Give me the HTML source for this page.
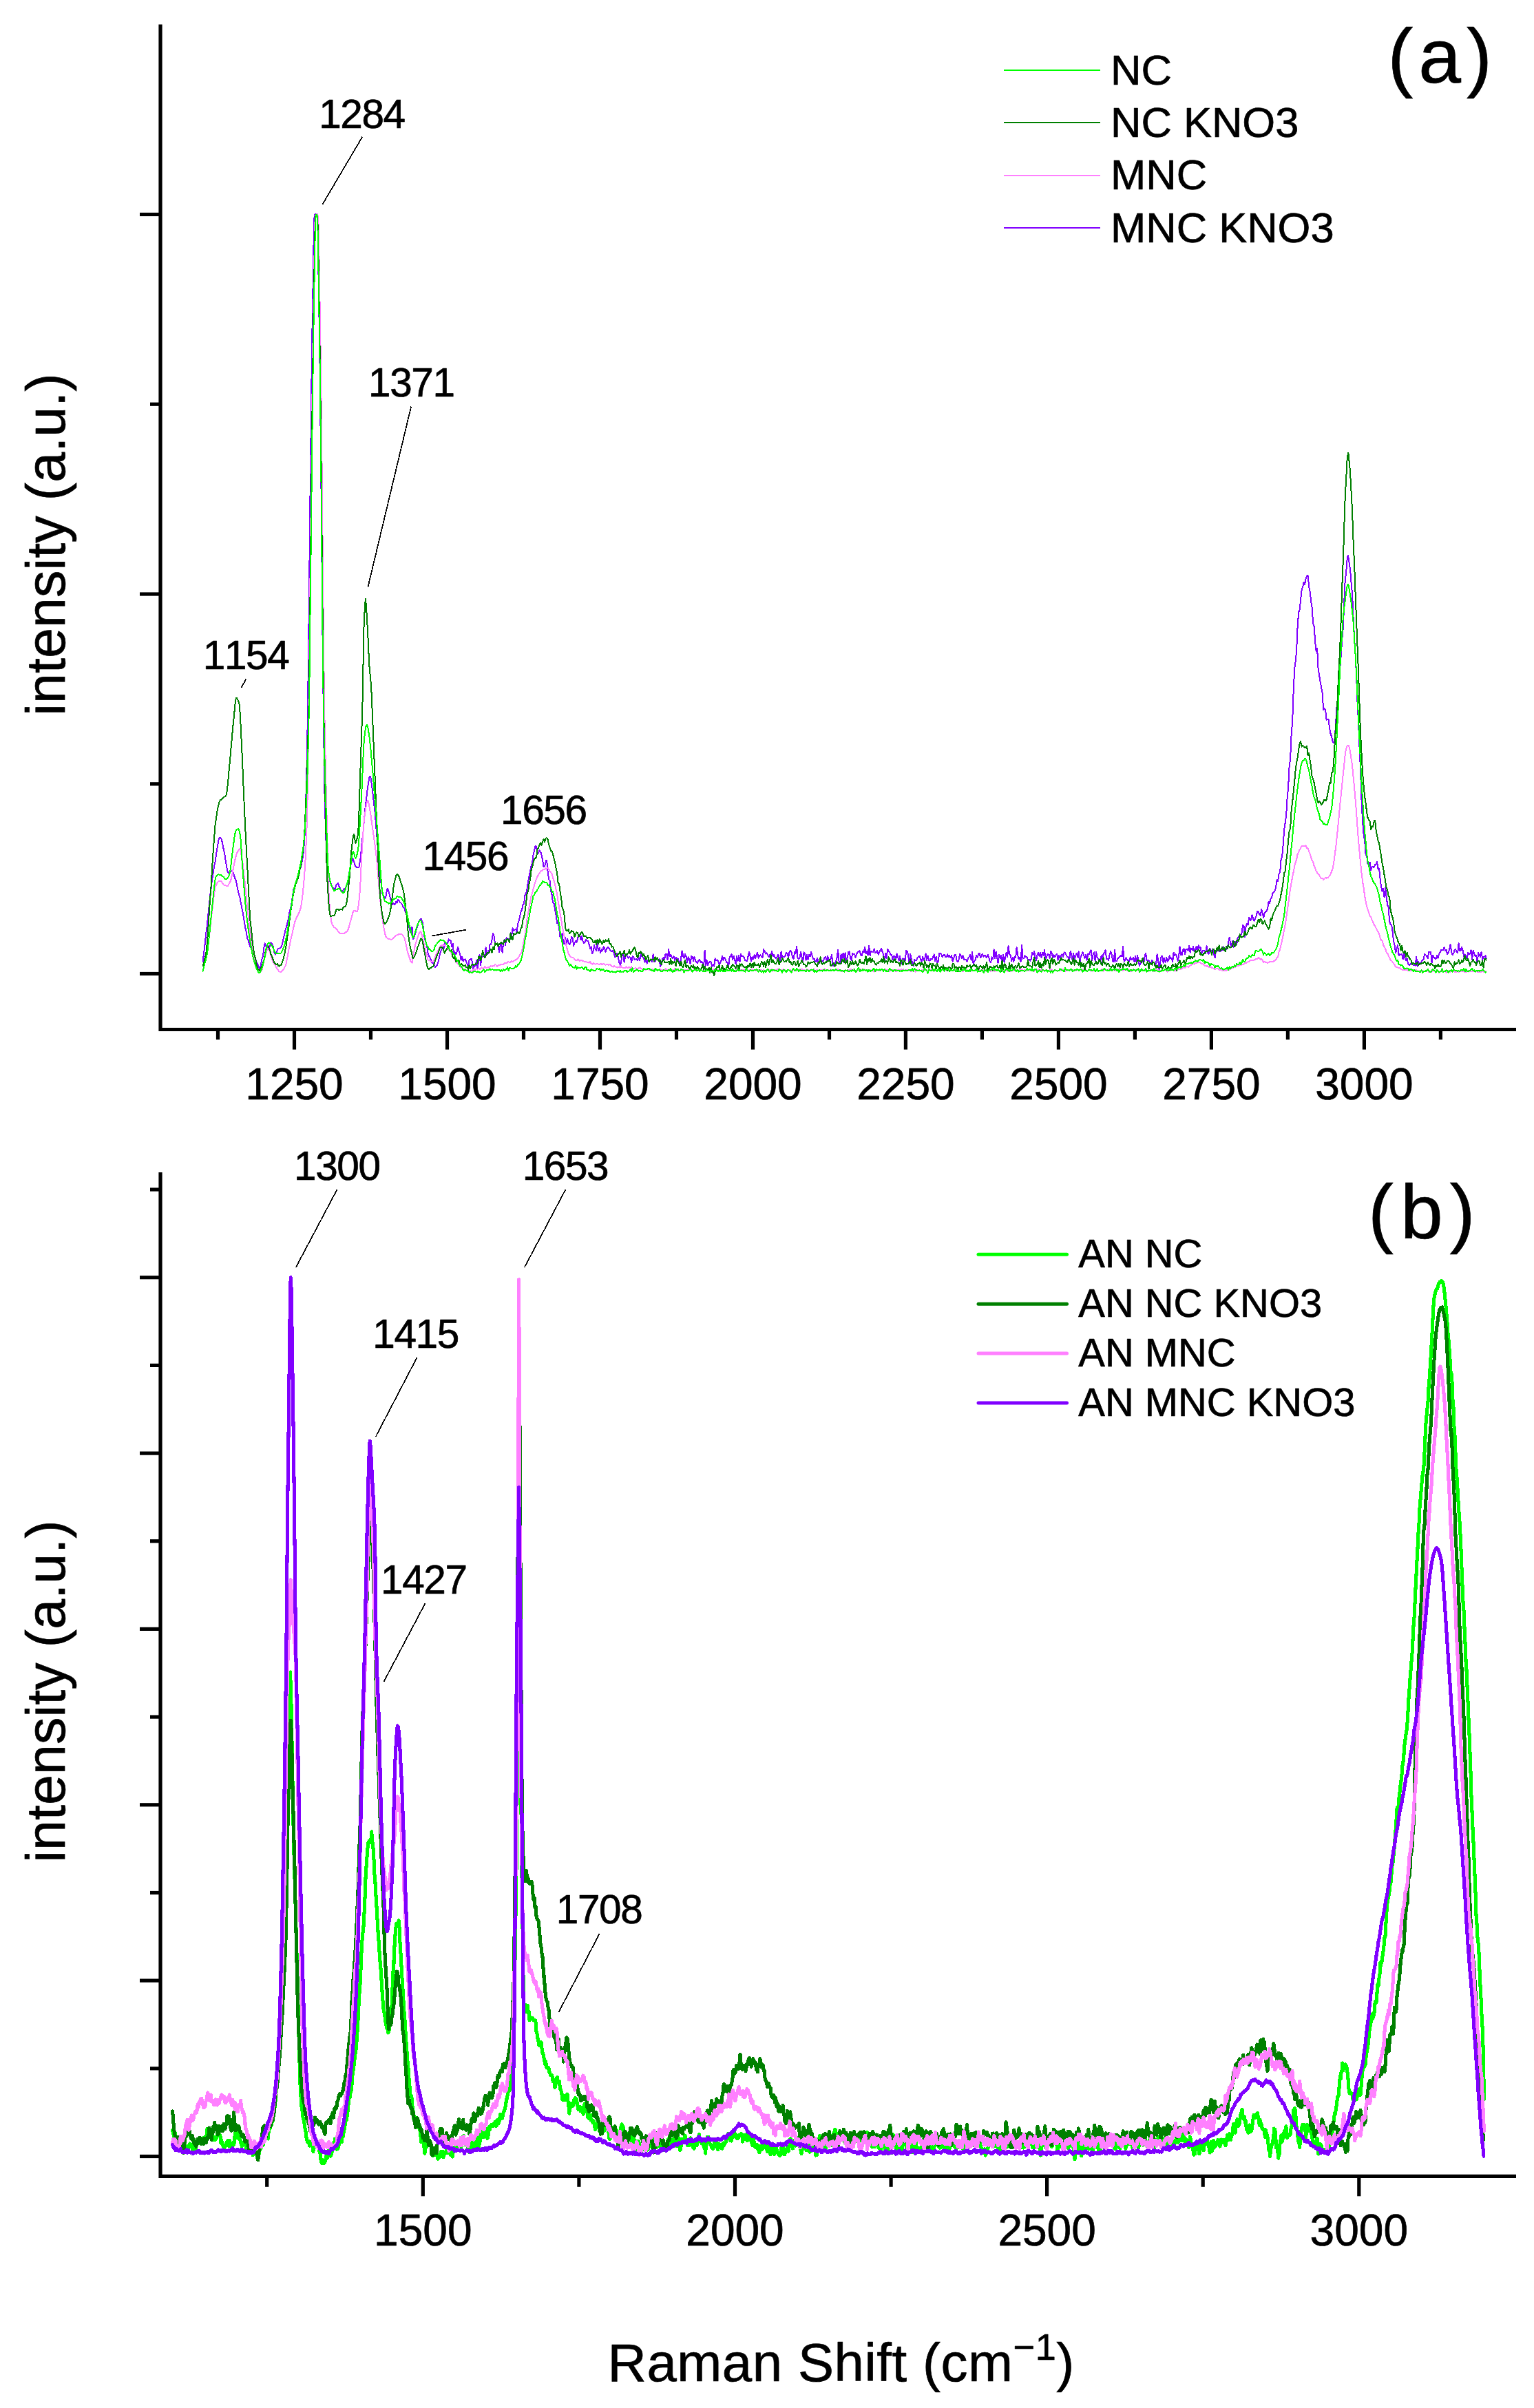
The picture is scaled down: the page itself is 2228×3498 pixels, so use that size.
<!DOCTYPE html>
<html lang="en"><head><meta charset="utf-8"><title>Raman spectra</title>
<style>html,body{margin:0;padding:0;background:#fff}body{width:2228px;height:3498px;overflow:hidden}</style></head>
<body>
<svg width="2228" height="3498" viewBox="0 0 2228 3498" style="display:block;font-family:'Liberation Sans',sans-serif">
<rect width="2228" height="3498" fill="#fff"/>
<g fill="none" stroke-width="2.0" stroke-linejoin="round" stroke-linecap="round" shape-rendering="crispEdges">
<path stroke="#8000ff" d="M294.6,1396.7 L295.4,1390.5 L296.1,1384.4 L296.9,1378.0 L297.6,1371.6 L298.4,1364.1 L299.1,1356.5 L299.9,1351.5 L300.5,1347.3 L300.6,1346.3 L301.4,1338.3 L302.1,1330.0 L302.9,1323.7 L303.6,1317.2 L304.4,1309.3 L305.1,1301.5 L305.9,1295.6 L306.6,1290.1 L307.4,1283.4 L307.5,1282.0 L308.1,1277.2 L308.9,1272.4 L309.6,1267.9 L310.4,1262.8 L311.1,1257.8 L311.9,1254.8 L312.6,1251.7 L313.4,1246.4 L313.4,1246.2 L314.1,1240.6 L314.9,1236.1 L315.6,1231.5 L316.4,1226.3 L317.1,1221.9 L317.9,1218.6 L318.6,1217.0 L318.8,1216.8 L319.4,1216.6 L320.1,1217.1 L320.9,1217.9 L321.6,1219.1 L322.4,1222.0 L322.8,1223.5 L323.1,1224.8 L323.9,1228.7 L324.6,1233.0 L325.4,1236.3 L326.1,1239.8 L326.3,1240.8 L326.9,1244.1 L327.6,1249.7 L328.4,1254.5 L329.1,1259.1 L329.9,1263.4 L330.6,1265.9 L331.0,1266.9 L331.4,1267.5 L332.1,1268.6 L332.9,1268.3 L333.6,1268.0 L334.4,1267.2 L335.1,1266.4 L335.7,1265.7 L335.9,1265.5 L336.6,1264.9 L337.4,1265.5 L338.1,1266.5 L338.9,1268.4 L339.6,1270.5 L340.4,1272.9 L340.4,1273.0 L341.1,1275.8 L341.9,1276.9 L342.6,1278.5 L343.4,1282.2 L344.1,1286.1 L344.9,1289.7 L345.1,1290.7 L345.6,1293.2 L346.4,1296.3 L347.1,1299.6 L347.9,1302.0 L348.6,1304.5 L349.4,1309.0 L350.1,1313.4 L350.9,1317.0 L351.6,1320.6 L352.1,1323.2 L352.4,1324.6 L353.1,1328.8 L353.9,1333.0 L354.6,1337.3 L355.4,1342.1 L356.1,1346.7 L356.9,1350.2 L357.6,1353.5 L358.4,1358.7 L359.1,1363.5 L359.2,1363.6 L359.9,1364.7 L360.6,1365.7 L361.4,1369.0 L362.1,1372.1 L362.9,1374.0 L363.6,1375.8 L364.4,1376.7 L365.1,1377.6 L365.9,1378.0 L366.2,1378.2 L366.6,1378.5 L367.4,1380.6 L368.1,1382.6 L368.9,1385.0 L369.6,1387.4 L370.4,1390.1 L371.1,1392.8 L371.9,1395.3 L372.6,1397.7 L373.3,1398.7 L373.4,1398.9 L374.1,1400.1 L374.9,1402.3 L375.6,1404.1 L376.4,1407.3 L376.8,1408.5 L377.1,1409.4 L377.9,1406.4 L378.6,1402.5 L379.4,1398.4 L380.1,1393.9 L380.9,1391.7 L381.5,1390.1 L381.6,1389.6 L382.4,1384.5 L383.1,1378.8 L383.9,1373.8 L384.6,1370.3 L385.0,1370.7 L385.4,1371.7 L386.1,1374.0 L386.9,1374.4 L387.6,1374.9 L388.4,1376.4 L389.1,1377.7 L389.7,1378.7 L389.9,1379.0 L390.6,1379.3 L391.4,1376.6 L392.1,1373.5 L392.9,1371.0 L393.6,1369.0 L394.4,1370.1 L394.4,1370.1 L395.1,1372.8 L395.9,1373.0 L396.6,1374.0 L397.4,1378.2 L398.1,1381.7 L398.9,1384.9 L399.1,1385.4 L399.6,1386.5 L400.4,1386.0 L401.1,1385.2 L401.9,1382.9 L402.6,1380.5 L403.4,1379.0 L404.1,1377.7 L404.9,1377.5 L404.9,1377.5 L405.6,1377.7 L406.4,1377.3 L407.1,1376.8 L407.9,1376.2 L408.5,1375.6 L408.6,1375.4 L409.4,1373.4 L410.1,1370.7 L410.9,1367.3 L411.6,1363.6 L412.4,1360.7 L413.1,1358.0 L413.2,1358.0 L413.9,1354.4 L414.6,1350.6 L415.4,1348.5 L416.1,1346.3 L416.9,1342.8 L417.6,1339.4 L418.4,1336.3 L419.1,1333.1 L419.9,1328.5 L420.2,1326.7 L420.6,1323.9 L421.4,1321.7 L422.1,1319.3 L422.9,1315.3 L423.6,1311.3 L424.4,1305.7 L425.1,1300.2 L425.9,1295.4 L426.6,1290.9 L427.2,1289.5 L427.4,1289.2 L428.1,1287.9 L428.9,1285.4 L429.6,1283.1 L430.4,1280.3 L431.1,1277.7 L431.9,1276.1 L432.6,1274.5 L433.4,1270.7 L434.1,1266.6 L434.3,1266.1 L434.9,1263.8 L435.6,1261.2 L436.4,1260.4 L437.1,1259.6 L437.9,1255.4 L438.6,1250.9 L439.4,1247.2 L440.1,1242.8 L440.9,1236.3 L441.3,1232.1 L441.6,1228.2 L442.4,1217.2 L443.1,1200.6 L443.9,1176.9 L444.6,1149.5 L445.4,1120.9 L445.5,1115.0 L446.1,1085.0 L446.9,1036.6 L447.4,1000.4 L447.6,982.3 L448.4,917.0 L448.8,880.4 L449.1,849.9 L449.9,781.0 L450.6,712.4 L450.8,698.8 L451.4,647.0 L452.1,581.9 L452.9,521.5 L452.9,520.9 L453.6,470.7 L454.4,425.3 L454.8,400.7 L455.1,378.9 L455.8,340.4 L455.9,336.0 L456.4,317.0 L456.6,314.7 L457.2,311.8 L457.4,311.7 L458.1,311.0 L458.9,310.8 L459.6,310.5 L460.0,310.5 L460.4,311.7 L460.8,315.0 L461.1,321.7 L461.6,338.3 L461.9,354.5 L462.5,399.0 L462.6,408.1 L463.4,453.4 L464.1,500.6 L464.4,519.2 L464.9,558.7 L465.6,626.9 L466.4,697.1 L466.4,697.9 L467.1,773.5 L467.9,856.3 L468.1,877.9 L468.6,932.0 L469.4,998.3 L469.4,999.0 L470.1,1057.8 L470.9,1114.1 L471.6,1158.0 L471.8,1165.4 L472.4,1185.5 L473.1,1209.9 L473.9,1232.1 L474.6,1250.0 L475.4,1263.1 L476.1,1269.8 L476.1,1270.4 L476.9,1274.5 L477.6,1278.0 L478.4,1278.8 L479.1,1279.2 L479.9,1281.5 L480.6,1283.6 L481.2,1285.5 L481.4,1286.0 L482.1,1288.4 L482.9,1289.2 L483.6,1289.9 L484.4,1290.4 L485.1,1290.7 L485.9,1291.9 L485.9,1291.9 L486.6,1292.4 L487.4,1289.1 L488.1,1285.5 L488.9,1284.9 L489.6,1284.7 L490.4,1283.1 L490.6,1282.9 L491.1,1282.6 L491.9,1285.0 L492.6,1288.0 L493.4,1289.5 L494.1,1290.8 L494.9,1292.7 L495.3,1293.2 L495.6,1293.5 L496.4,1294.9 L497.1,1296.2 L497.9,1294.5 L498.6,1292.7 L499.4,1291.9 L500.0,1291.2 L500.1,1291.1 L500.9,1291.1 L501.6,1290.9 L502.4,1288.8 L503.1,1286.5 L503.9,1285.6 L504.6,1284.6 L504.7,1284.3 L505.4,1279.8 L506.1,1274.1 L506.9,1269.7 L507.6,1265.1 L508.4,1260.3 L509.1,1256.3 L509.4,1255.6 L509.9,1254.3 L510.6,1252.3 L511.4,1249.3 L512.1,1246.9 L512.9,1248.1 L512.9,1248.1 L513.6,1250.9 L514.4,1252.8 L515.1,1255.1 L515.9,1257.7 L516.4,1258.8 L516.6,1259.1 L517.4,1259.4 L518.1,1259.7 L518.9,1260.0 L519.6,1260.2 L520.4,1260.3 L521.1,1260.2 L521.1,1260.2 L521.9,1257.5 L522.6,1252.1 L523.4,1247.6 L524.1,1241.9 L524.9,1232.7 L525.6,1223.9 L525.8,1222.7 L526.4,1218.4 L527.1,1212.5 L527.9,1204.0 L528.6,1195.4 L529.4,1186.3 L530.1,1177.5 L530.5,1174.5 L530.9,1171.1 L531.6,1164.6 L532.4,1157.7 L533.1,1151.3 L533.9,1145.6 L534.0,1144.8 L534.6,1140.5 L535.4,1135.4 L536.1,1131.0 L536.9,1128.3 L537.5,1127.6 L537.6,1127.7 L538.4,1129.5 L539.1,1133.7 L539.9,1139.6 L540.6,1145.8 L541.1,1149.4 L541.4,1152.1 L542.1,1158.5 L542.9,1164.8 L543.6,1171.5 L544.4,1178.4 L544.6,1180.1 L545.1,1185.9 L545.9,1195.4 L546.6,1205.4 L547.4,1214.2 L548.1,1222.2 L548.1,1222.7 L548.9,1232.1 L549.6,1241.4 L550.4,1249.7 L551.1,1257.7 L551.6,1263.1 L551.9,1266.3 L552.6,1275.5 L553.4,1281.8 L554.1,1287.0 L554.9,1294.4 L555.1,1296.2 L555.6,1299.5 L556.4,1300.3 L557.1,1300.8 L557.9,1303.5 L558.6,1305.8 L559.4,1305.2 L559.8,1304.6 L560.1,1303.7 L560.9,1300.4 L561.6,1295.7 L562.4,1291.9 L562.9,1291.2 L563.1,1291.5 L563.9,1292.8 L564.6,1295.3 L565.4,1298.8 L566.1,1301.7 L566.2,1301.8 L566.9,1304.5 L567.6,1307.5 L568.4,1311.2 L569.1,1314.5 L569.9,1313.7 L570.4,1312.6 L570.6,1311.9 L571.4,1312.7 L572.1,1313.4 L572.9,1313.8 L573.6,1314.0 L574.4,1312.1 L575.1,1310.3 L575.9,1310.9 L576.6,1311.7 L577.4,1309.0 L577.4,1308.9 L578.1,1306.6 L578.9,1307.4 L579.6,1308.5 L580.4,1309.6 L581.1,1310.8 L581.9,1311.4 L582.6,1312.0 L583.4,1313.0 L584.1,1313.9 L584.5,1314.7 L584.9,1315.8 L585.6,1317.8 L586.4,1318.1 L587.1,1318.5 L587.9,1321.2 L588.6,1324.0 L589.4,1326.0 L590.1,1328.0 L590.3,1328.5 L590.9,1330.1 L591.6,1333.1 L592.4,1338.6 L593.1,1344.2 L593.9,1346.4 L594.6,1348.0 L595.4,1351.9 L596.1,1354.5 L596.2,1354.4 L596.9,1351.7 L597.6,1347.7 L598.4,1347.0 L598.6,1347.1 L599.1,1353.8 L599.9,1364.3 L600.0,1364.5 L600.6,1364.0 L601.4,1361.7 L602.1,1358.5 L602.9,1356.6 L603.6,1354.5 L604.4,1351.7 L605.1,1349.2 L605.9,1346.6 L605.9,1346.5 L606.6,1344.1 L607.4,1341.5 L608.1,1338.9 L608.9,1337.8 L609.6,1337.0 L610.4,1335.5 L611.1,1334.5 L611.3,1334.5 L611.9,1335.0 L612.6,1337.3 L613.4,1338.8 L614.1,1341.2 L614.9,1348.0 L615.6,1354.7 L616.4,1359.6 L616.4,1359.8 L617.1,1364.1 L617.9,1366.7 L618.6,1369.4 L619.4,1372.2 L620.1,1374.7 L620.9,1379.7 L621.6,1384.1 L622.3,1386.6 L622.4,1386.9 L623.1,1389.4 L623.9,1390.3 L624.6,1391.0 L625.4,1393.3 L626.1,1395.5 L626.9,1397.3 L627.6,1398.8 L628.2,1398.9 L628.4,1398.9 L629.1,1398.9 L629.9,1400.0 L630.6,1401.0 L631.4,1403.0 L632.1,1404.9 L632.9,1404.3 L633.6,1403.6 L634.0,1403.3 L634.4,1402.7 L635.1,1400.7 L635.9,1399.2 L636.6,1397.0 L637.4,1393.5 L638.1,1390.0 L638.9,1386.4 L639.6,1383.5 L639.9,1382.8 L640.4,1381.6 L641.1,1379.8 L641.9,1377.8 L642.6,1375.8 L643.4,1377.8 L644.1,1380.2 L644.9,1375.5 L645.6,1370.4 L646.4,1370.6 L646.9,1370.8 L647.1,1370.9 L647.9,1370.5 L648.6,1370.1 L649.4,1370.0 L650.1,1370.0 L650.9,1367.1 L651.6,1364.3 L652.4,1365.0 L652.8,1365.6 L653.1,1366.2 L653.9,1365.8 L654.6,1366.1 L655.4,1370.3 L656.1,1374.9 L656.9,1373.1 L657.6,1370.7 L658.4,1378.7 L658.7,1381.5 L659.1,1386.3 L659.9,1385.0 L660.6,1383.5 L661.4,1384.9 L662.1,1386.2 L662.9,1384.5 L663.6,1382.9 L664.4,1379.1 L665.1,1375.4 L665.7,1377.6 L665.9,1378.3 L666.6,1381.3 L667.4,1383.5 L668.1,1385.6 L668.9,1390.2 L669.6,1394.9 L670.4,1392.3 L671.1,1389.7 L671.9,1393.1 L672.6,1396.5 L672.8,1396.3 L673.4,1395.3 L674.1,1394.2 L674.9,1393.6 L675.6,1393.0 L676.4,1395.1 L677.1,1397.2 L677.9,1398.8 L678.6,1400.1 L679.4,1402.4 L679.8,1403.5 L680.1,1404.2 L680.9,1399.7 L681.6,1394.4 L682.4,1394.3 L683.1,1394.3 L683.9,1392.9 L684.5,1392.6 L684.6,1392.6 L685.4,1395.4 L686.1,1399.7 L686.9,1404.4 L687.6,1409.2 L688.4,1406.1 L689.1,1401.4 L689.2,1401.5 L689.9,1402.2 L690.6,1402.5 L691.4,1398.8 L692.1,1394.8 L692.9,1401.3 L693.6,1407.7 L694.4,1402.1 L695.1,1396.7 L695.9,1391.6 L696.2,1389.6 L696.6,1386.9 L697.4,1394.3 L698.1,1401.7 L698.9,1395.7 L699.6,1389.8 L700.4,1389.8 L701.1,1389.8 L701.9,1389.5 L702.6,1389.2 L703.3,1389.5 L703.4,1389.6 L704.1,1389.9 L704.9,1383.2 L705.6,1376.4 L706.4,1379.7 L707.1,1383.0 L707.9,1384.4 L708.6,1385.8 L709.4,1384.1 L710.1,1382.3 L710.3,1381.3 L710.9,1377.2 L711.6,1371.7 L712.4,1372.1 L713.1,1372.3 L713.9,1368.5 L714.6,1364.8 L715.4,1360.1 L716.1,1355.6 L716.9,1357.8 L717.3,1359.4 L717.6,1360.6 L718.4,1365.9 L719.1,1371.5 L719.9,1371.8 L720.6,1372.2 L721.4,1371.4 L722.1,1370.5 L722.9,1372.9 L723.6,1375.1 L724.4,1379.1 L724.4,1379.2 L725.1,1382.9 L725.9,1378.5 L726.6,1373.9 L727.4,1372.3 L728.1,1370.5 L728.9,1377.4 L729.6,1384.2 L730.4,1377.2 L731.1,1370.2 L731.4,1369.3 L731.9,1367.8 L732.6,1365.3 L733.4,1369.1 L734.1,1372.9 L734.9,1367.5 L735.6,1362.2 L736.4,1363.1 L737.1,1364.1 L737.9,1363.9 L738.5,1363.7 L738.6,1363.6 L739.4,1365.4 L740.1,1367.1 L740.9,1361.3 L741.6,1355.5 L742.4,1357.8 L743.1,1360.0 L743.9,1354.0 L744.6,1348.0 L745.4,1349.9 L745.5,1350.2 L746.1,1351.8 L746.9,1351.2 L747.6,1350.7 L748.4,1350.2 L749.1,1349.6 L749.9,1352.3 L750.6,1354.9 L751.4,1348.4 L752.1,1341.8 L752.5,1340.9 L752.9,1340.0 L753.6,1337.6 L754.4,1334.4 L755.1,1330.9 L755.9,1327.6 L756.6,1324.3 L757.4,1322.7 L758.1,1321.3 L758.4,1320.0 L758.9,1317.7 L759.6,1314.1 L760.4,1313.4 L761.1,1312.7 L761.9,1306.2 L762.6,1299.6 L763.4,1299.1 L764.1,1298.4 L764.3,1297.7 L764.9,1294.4 L765.6,1290.1 L766.4,1285.1 L767.1,1280.1 L767.9,1276.5 L768.6,1273.1 L769.4,1268.9 L770.1,1265.1 L770.1,1265.1 L770.9,1261.3 L771.6,1257.7 L772.4,1255.4 L773.1,1253.0 L773.9,1247.3 L774.6,1241.2 L774.8,1240.7 L775.4,1238.4 L776.1,1234.3 L776.9,1231.1 L777.6,1229.2 L778.4,1228.9 L778.4,1229.0 L779.1,1231.8 L779.9,1235.1 L780.6,1238.8 L781.4,1239.8 L781.9,1239.3 L782.1,1238.7 L782.9,1237.0 L783.6,1235.0 L784.4,1236.6 L785.1,1238.4 L785.4,1238.2 L785.9,1238.7 L786.6,1242.3 L787.4,1246.0 L788.1,1249.0 L788.9,1255.2 L788.9,1255.4 L789.6,1258.8 L790.4,1258.8 L791.1,1258.6 L791.9,1255.3 L792.6,1252.4 L792.9,1251.2 L793.4,1249.8 L794.1,1249.6 L794.9,1257.6 L795.6,1266.5 L796.4,1272.5 L797.1,1277.5 L797.1,1277.6 L797.9,1278.4 L798.6,1279.0 L799.4,1286.8 L800.1,1294.6 L800.9,1297.2 L801.6,1299.9 L801.8,1301.3 L802.4,1305.6 L803.1,1311.4 L803.9,1311.9 L804.6,1312.5 L805.4,1317.3 L806.1,1322.1 L806.5,1324.0 L806.9,1325.9 L807.6,1329.7 L808.4,1335.4 L809.1,1341.1 L809.9,1340.1 L810.6,1338.9 L811.2,1342.8 L811.4,1344.0 L812.1,1348.8 L812.9,1355.2 L813.6,1361.4 L814.4,1359.3 L815.1,1357.0 L815.9,1356.6 L815.9,1356.6 L816.6,1356.2 L817.4,1363.1 L818.1,1369.9 L818.9,1370.6 L819.6,1371.2 L820.4,1366.8 L821.1,1362.3 L821.9,1366.9 L822.6,1371.2 L822.9,1369.8 L823.4,1367.7 L824.1,1363.9 L824.9,1366.5 L825.6,1368.8 L826.4,1370.3 L827.1,1371.8 L827.9,1370.7 L828.6,1369.8 L829.4,1365.1 L830.0,1361.6 L830.1,1360.7 L830.9,1361.4 L831.6,1362.2 L832.4,1368.0 L833.1,1373.8 L833.9,1371.8 L834.6,1369.8 L835.4,1368.5 L836.1,1367.1 L836.9,1368.2 L837.0,1368.4 L837.6,1369.0 L838.4,1366.0 L839.1,1362.7 L839.9,1360.5 L840.6,1358.1 L841.4,1358.0 L842.1,1357.9 L842.9,1361.6 L843.6,1365.4 L844.1,1363.7 L844.4,1362.5 L845.1,1359.8 L845.9,1363.6 L846.6,1367.6 L847.4,1368.7 L848.1,1369.9 L848.9,1369.2 L849.6,1368.5 L850.4,1366.8 L851.1,1365.0 L851.1,1364.9 L851.9,1366.0 L852.6,1366.9 L853.4,1366.9 L854.1,1366.9 L854.9,1369.4 L855.6,1371.9 L856.4,1374.8 L857.1,1377.7 L857.9,1376.3 L858.1,1375.8 L858.6,1374.9 L859.4,1380.0 L860.1,1385.3 L860.9,1383.6 L861.6,1381.9 L862.4,1377.7 L863.1,1373.3 L863.9,1376.1 L864.6,1378.5 L865.2,1379.6 L865.4,1379.9 L866.1,1380.8 L866.9,1375.7 L867.6,1370.3 L868.4,1376.0 L869.1,1381.6 L869.9,1379.0 L870.6,1376.6 L871.4,1380.1 L872.1,1384.2 L872.2,1383.8 L872.9,1381.7 L873.6,1379.4 L874.4,1380.2 L875.1,1381.0 L875.9,1378.1 L876.6,1375.3 L877.4,1376.4 L878.1,1377.4 L878.9,1380.3 L879.3,1381.7 L879.6,1383.0 L880.4,1380.7 L881.1,1378.3 L881.9,1377.2 L882.6,1376.1 L883.4,1376.3 L884.1,1376.6 L884.9,1377.9 L885.6,1379.3 L886.3,1380.3 L886.4,1380.4 L887.1,1381.7 L887.9,1381.7 L888.6,1381.9 L889.4,1381.5 L890.1,1381.2 L890.9,1382.7 L891.6,1384.1 L892.4,1387.3 L893.1,1390.4 L893.4,1390.3 L893.9,1390.1 L894.6,1389.8 L895.4,1387.5 L896.1,1385.1 L896.9,1387.4 L897.6,1389.6 L898.4,1393.4 L899.1,1397.1 L899.9,1399.5 L900.4,1400.9 L900.6,1401.6 L901.4,1399.8 L902.1,1397.7 L902.9,1393.3 L903.6,1388.7 L904.4,1386.7 L905.1,1384.9 L905.9,1391.2 L906.6,1397.8 L907.4,1393.5 L907.4,1393.2 L908.1,1389.4 L908.9,1388.0 L909.6,1386.6 L910.4,1388.0 L911.1,1389.5 L911.9,1390.6 L912.6,1391.8 L913.4,1390.8 L914.1,1389.7 L914.5,1390.0 L914.9,1390.4 L915.6,1391.0 L916.4,1394.3 L917.1,1397.7 L917.9,1393.5 L918.6,1389.2 L919.4,1389.7 L920.1,1390.2 L920.9,1392.2 L921.5,1393.9 L921.6,1394.2 L922.4,1393.8 L923.1,1393.4 L923.9,1393.3 L924.6,1393.1 L925.4,1394.2 L926.1,1395.4 L926.9,1393.2 L927.6,1391.1 L928.4,1393.1 L928.6,1393.5 L929.1,1395.0 L929.9,1390.7 L930.6,1386.4 L931.4,1387.7 L932.1,1389.0 L932.9,1389.5 L933.6,1390.1 L934.4,1391.2 L935.1,1392.4 L935.6,1393.7 L935.9,1394.6 L936.6,1397.5 L937.4,1395.5 L938.1,1393.7 L938.9,1396.9 L939.6,1399.6 L940.0,1398.5 L940.4,1397.2 L941.1,1394.7 L941.9,1395.0 L942.6,1395.2 L943.4,1395.2 L944.1,1395.2 L944.9,1395.2 L945.6,1395.3 L946.4,1396.1 L947.1,1396.9 L947.9,1391.7 L948.6,1386.5 L949.4,1391.9 L950.1,1397.3 L950.9,1396.8 L951.6,1396.2 L952.4,1394.5 L953.1,1392.7 L953.9,1391.9 L954.6,1391.0 L955.4,1392.9 L956.1,1394.8 L956.9,1394.0 L957.6,1393.2 L958.4,1398.7 L959.1,1404.1 L959.9,1401.5 L960.6,1398.9 L961.4,1396.2 L962.1,1393.4 L962.9,1392.1 L963.6,1390.7 L964.4,1392.3 L965.1,1393.8 L965.9,1389.7 L966.6,1385.7 L967.4,1386.0 L968.1,1386.3 L968.9,1390.1 L969.6,1393.9 L970.4,1386.6 L971.1,1379.3 L971.9,1384.2 L972.6,1389.1 L973.4,1387.9 L974.1,1386.7 L974.9,1388.6 L975.6,1390.4 L976.4,1391.3 L976.5,1391.4 L977.1,1392.1 L977.9,1390.6 L978.6,1389.1 L979.4,1391.9 L980.1,1394.8 L980.9,1392.7 L981.6,1390.7 L982.4,1393.4 L983.1,1396.1 L983.9,1394.2 L984.6,1392.2 L985.4,1395.6 L986.1,1399.1 L986.9,1399.4 L987.6,1399.7 L988.4,1396.2 L989.1,1392.6 L989.9,1386.7 L990.6,1380.9 L991.4,1384.9 L992.1,1389.0 L992.9,1390.4 L993.6,1391.7 L994.4,1389.0 L995.1,1386.3 L995.9,1388.0 L996.6,1389.7 L997.4,1394.0 L998.1,1398.3 L998.9,1394.3 L999.6,1390.4 L1000.4,1391.8 L1001.1,1393.1 L1001.9,1396.6 L1002.6,1400.0 L1003.4,1394.5 L1004.1,1389.0 L1004.9,1389.5 L1005.6,1389.9 L1006.4,1392.8 L1007.1,1395.7 L1007.9,1392.8 L1008.6,1389.9 L1009.4,1393.1 L1010.1,1396.3 L1010.9,1396.9 L1011.6,1397.4 L1012.4,1398.1 L1013.1,1398.9 L1013.9,1397.0 L1014.6,1395.1 L1015.4,1394.6 L1016.1,1394.1 L1016.9,1396.2 L1017.6,1398.4 L1018.4,1397.6 L1019.1,1396.8 L1019.9,1397.5 L1020.6,1398.3 L1021.4,1401.5 L1022.1,1404.7 L1022.9,1392.7 L1023.6,1380.7 L1024.4,1391.7 L1025.1,1402.6 L1025.9,1398.9 L1026.6,1395.2 L1027.4,1398.5 L1028.1,1401.8 L1028.9,1399.8 L1029.6,1397.9 L1030.4,1397.6 L1031.1,1397.3 L1031.3,1397.3 L1031.9,1397.4 L1032.6,1397.4 L1033.4,1400.6 L1034.1,1403.7 L1034.9,1402.2 L1035.6,1400.7 L1036.4,1402.2 L1037.1,1403.6 L1037.9,1398.1 L1038.6,1392.5 L1039.4,1393.9 L1040.1,1395.3 L1040.9,1394.8 L1041.6,1394.4 L1042.4,1395.2 L1043.1,1396.1 L1043.9,1398.9 L1044.6,1401.7 L1045.4,1400.2 L1046.1,1398.6 L1046.9,1396.9 L1047.6,1395.1 L1048.4,1391.8 L1049.1,1388.5 L1049.9,1391.8 L1050.6,1395.1 L1051.4,1393.0 L1052.1,1390.9 L1052.9,1392.0 L1053.6,1393.1 L1054.4,1395.6 L1055.1,1398.2 L1055.9,1398.3 L1056.6,1398.3 L1057.4,1401.5 L1058.1,1404.7 L1058.9,1398.0 L1059.6,1391.2 L1060.4,1389.9 L1061.1,1388.5 L1061.9,1387.5 L1062.6,1386.5 L1063.4,1390.1 L1064.1,1393.8 L1064.9,1391.2 L1065.6,1388.7 L1066.4,1391.8 L1067.1,1394.9 L1067.8,1397.2 L1067.9,1397.6 L1068.6,1400.4 L1069.4,1394.8 L1070.1,1389.3 L1070.9,1392.6 L1071.6,1395.9 L1072.4,1392.1 L1073.1,1388.2 L1073.9,1392.6 L1074.6,1397.1 L1075.4,1391.4 L1076.1,1385.8 L1076.9,1387.6 L1077.6,1389.5 L1078.4,1389.3 L1079.1,1389.2 L1079.9,1389.7 L1080.6,1390.2 L1081.4,1392.8 L1082.1,1395.4 L1082.9,1395.5 L1083.6,1395.6 L1084.4,1395.9 L1085.1,1396.1 L1085.9,1392.6 L1086.6,1389.1 L1087.4,1385.8 L1088.1,1382.5 L1088.9,1386.1 L1089.6,1389.7 L1090.4,1393.0 L1091.1,1396.3 L1091.9,1393.3 L1092.6,1390.2 L1093.4,1391.8 L1094.1,1393.4 L1094.9,1390.4 L1095.6,1387.4 L1096.4,1389.8 L1097.1,1392.3 L1097.9,1389.7 L1098.6,1387.2 L1099.4,1385.6 L1100.1,1384.1 L1100.9,1387.9 L1101.6,1391.8 L1102.4,1389.7 L1103.1,1387.7 L1103.9,1387.5 L1104.3,1387.5 L1104.6,1387.4 L1105.4,1388.8 L1106.1,1390.1 L1106.9,1390.4 L1107.6,1390.7 L1108.4,1384.9 L1109.1,1379.1 L1109.9,1380.5 L1110.6,1381.9 L1111.4,1383.7 L1112.1,1385.6 L1112.9,1385.0 L1113.6,1384.4 L1114.4,1386.0 L1115.1,1387.5 L1115.9,1388.8 L1116.6,1390.2 L1117.4,1388.4 L1118.1,1386.6 L1118.9,1386.5 L1119.6,1386.3 L1120.4,1384.1 L1121.1,1381.8 L1121.9,1385.5 L1122.6,1389.1 L1123.4,1387.9 L1124.1,1386.7 L1124.9,1388.7 L1125.6,1390.6 L1126.4,1391.7 L1127.1,1392.7 L1127.9,1391.4 L1128.6,1390.1 L1129.4,1388.3 L1130.1,1386.5 L1130.9,1388.7 L1131.6,1390.8 L1132.4,1393.4 L1133.1,1396.0 L1133.9,1389.1 L1134.6,1382.1 L1135.4,1386.1 L1136.1,1390.1 L1136.9,1390.1 L1137.6,1390.1 L1138.4,1389.9 L1139.1,1389.6 L1139.9,1388.9 L1140.6,1388.2 L1141.4,1385.9 L1142.1,1383.6 L1142.9,1384.5 L1143.6,1385.4 L1144.4,1388.5 L1145.1,1391.6 L1145.9,1387.3 L1146.6,1382.9 L1147.4,1381.7 L1148.1,1380.5 L1148.9,1381.9 L1149.6,1383.3 L1150.4,1387.1 L1151.1,1390.8 L1151.9,1391.8 L1152.6,1392.8 L1153.4,1387.7 L1154.1,1382.6 L1154.9,1383.5 L1155.6,1384.5 L1156.4,1379.8 L1157.1,1375.1 L1157.9,1383.5 L1158.6,1391.8 L1159.1,1392.2 L1159.4,1392.6 L1160.1,1393.4 L1160.9,1392.0 L1161.6,1390.6 L1162.4,1386.8 L1163.1,1383.0 L1163.9,1386.7 L1164.6,1390.3 L1165.4,1394.0 L1166.1,1397.6 L1166.9,1390.6 L1167.6,1383.5 L1168.4,1384.6 L1169.1,1385.7 L1169.9,1390.2 L1170.6,1394.6 L1171.4,1390.8 L1172.1,1387.0 L1172.9,1390.4 L1173.6,1393.9 L1174.4,1390.4 L1175.1,1387.0 L1175.9,1388.1 L1176.6,1389.2 L1177.4,1386.2 L1178.1,1383.1 L1178.9,1385.7 L1179.6,1388.3 L1180.4,1390.5 L1181.1,1392.7 L1181.9,1392.7 L1182.6,1392.6 L1183.4,1395.1 L1184.1,1397.6 L1184.9,1396.9 L1185.6,1396.1 L1186.4,1393.9 L1187.1,1391.7 L1187.9,1395.2 L1188.6,1398.6 L1189.4,1398.9 L1190.1,1399.2 L1190.9,1396.2 L1191.6,1393.3 L1192.4,1394.4 L1193.1,1395.5 L1193.9,1396.3 L1194.6,1397.1 L1195.4,1395.9 L1195.6,1395.6 L1196.1,1394.7 L1196.9,1393.0 L1197.6,1391.3 L1198.4,1390.7 L1199.1,1390.0 L1199.9,1392.6 L1200.6,1395.1 L1201.4,1391.9 L1202.1,1388.7 L1202.9,1391.3 L1203.6,1393.9 L1204.4,1395.0 L1205.1,1396.0 L1205.9,1394.1 L1206.6,1392.1 L1207.4,1389.3 L1208.1,1386.5 L1208.9,1394.9 L1209.6,1403.2 L1210.4,1401.7 L1211.1,1400.3 L1211.9,1400.2 L1212.6,1400.1 L1213.4,1398.2 L1214.1,1396.2 L1214.9,1393.8 L1215.6,1391.3 L1216.4,1385.4 L1217.1,1379.5 L1217.9,1388.5 L1218.6,1397.5 L1219.4,1398.8 L1220.1,1400.0 L1220.9,1393.2 L1221.6,1386.5 L1222.4,1389.7 L1223.1,1393.0 L1223.9,1388.9 L1224.6,1384.7 L1225.4,1391.2 L1226.1,1397.7 L1226.9,1391.0 L1227.6,1384.3 L1228.4,1390.6 L1229.1,1397.0 L1229.9,1394.5 L1230.6,1392.0 L1231.4,1387.6 L1232.1,1383.6 L1232.1,1383.2 L1232.9,1382.7 L1233.6,1382.2 L1234.4,1386.9 L1235.1,1391.5 L1235.9,1393.4 L1236.6,1395.3 L1237.4,1390.1 L1238.1,1384.9 L1238.9,1385.7 L1239.6,1386.4 L1240.4,1386.0 L1241.1,1385.6 L1241.9,1388.3 L1242.6,1391.0 L1243.4,1388.7 L1244.1,1386.3 L1244.9,1384.9 L1245.6,1383.4 L1246.4,1382.7 L1247.1,1381.9 L1247.9,1381.5 L1248.6,1381.0 L1249.4,1384.0 L1250.1,1386.9 L1250.9,1387.6 L1251.6,1388.3 L1252.4,1385.2 L1253.1,1382.1 L1253.9,1382.7 L1254.6,1383.4 L1255.4,1379.8 L1256.1,1376.2 L1256.9,1380.7 L1257.6,1385.1 L1258.4,1383.4 L1259.1,1381.7 L1259.9,1384.6 L1260.6,1387.5 L1261.4,1380.4 L1262.1,1373.4 L1262.9,1380.8 L1263.6,1388.2 L1264.4,1384.8 L1265.1,1381.5 L1265.9,1381.8 L1266.6,1382.2 L1267.4,1382.6 L1268.1,1383.1 L1268.6,1381.8 L1268.9,1380.8 L1269.6,1378.5 L1270.4,1381.3 L1271.1,1384.1 L1271.9,1384.0 L1272.6,1384.0 L1273.4,1382.2 L1274.1,1380.5 L1274.9,1383.6 L1275.6,1386.6 L1276.4,1385.3 L1277.1,1383.9 L1277.9,1382.0 L1278.6,1380.2 L1279.4,1379.1 L1280.1,1378.0 L1280.9,1380.4 L1281.6,1382.7 L1282.4,1384.9 L1283.1,1387.1 L1283.9,1391.8 L1284.6,1396.4 L1285.4,1390.8 L1286.1,1385.2 L1286.9,1388.7 L1287.6,1392.2 L1288.4,1385.5 L1289.1,1378.7 L1289.9,1380.0 L1290.6,1381.2 L1291.4,1382.2 L1292.1,1383.2 L1292.9,1385.3 L1293.6,1387.4 L1294.4,1387.4 L1295.1,1387.3 L1295.9,1390.9 L1296.6,1394.5 L1297.4,1391.6 L1298.1,1388.7 L1298.9,1389.0 L1299.6,1389.2 L1300.4,1391.7 L1301.1,1394.2 L1301.9,1389.8 L1302.6,1385.5 L1303.4,1388.0 L1304.1,1390.5 L1304.9,1393.0 L1305.1,1393.7 L1305.6,1395.5 L1306.4,1392.4 L1307.1,1389.3 L1307.9,1394.8 L1308.6,1400.3 L1309.4,1397.5 L1310.1,1394.8 L1310.9,1393.4 L1311.6,1392.1 L1312.4,1392.7 L1313.1,1393.4 L1313.9,1394.5 L1314.6,1395.6 L1315.4,1388.3 L1316.1,1381.1 L1316.9,1381.4 L1317.6,1381.8 L1318.4,1384.9 L1319.1,1388.1 L1319.9,1393.9 L1320.6,1399.7 L1321.4,1392.7 L1322.1,1385.7 L1322.9,1389.3 L1323.6,1393.0 L1324.4,1395.9 L1325.1,1398.8 L1325.9,1401.1 L1326.6,1403.4 L1327.4,1398.9 L1328.1,1394.3 L1328.9,1394.7 L1329.6,1395.1 L1330.4,1395.0 L1331.1,1395.0 L1331.9,1392.8 L1332.6,1390.6 L1333.4,1390.4 L1334.1,1390.2 L1334.9,1389.4 L1335.6,1388.6 L1336.4,1391.3 L1337.1,1394.0 L1337.9,1395.3 L1338.6,1396.6 L1339.4,1393.4 L1340.1,1390.2 L1340.9,1392.4 L1341.6,1394.5 L1341.6,1394.6 L1342.4,1393.8 L1343.1,1393.0 L1343.9,1389.2 L1344.6,1385.3 L1345.4,1390.2 L1346.1,1395.1 L1346.9,1391.7 L1347.6,1388.2 L1348.4,1391.9 L1349.1,1395.6 L1349.9,1395.4 L1350.6,1395.2 L1351.4,1394.1 L1352.1,1393.1 L1352.9,1393.5 L1353.6,1393.9 L1354.4,1392.1 L1355.1,1390.4 L1355.9,1388.5 L1356.6,1386.5 L1357.4,1391.5 L1358.1,1396.5 L1358.9,1393.0 L1359.6,1389.6 L1360.4,1394.4 L1361.1,1399.2 L1361.9,1398.1 L1362.6,1397.0 L1363.4,1390.8 L1364.1,1384.6 L1364.9,1384.8 L1365.6,1385.0 L1366.4,1385.2 L1367.1,1385.4 L1367.9,1387.9 L1368.6,1390.4 L1369.4,1389.3 L1370.1,1388.1 L1370.9,1387.4 L1371.6,1386.6 L1372.4,1388.2 L1373.1,1389.9 L1373.9,1390.2 L1374.6,1390.4 L1375.4,1388.4 L1376.1,1386.4 L1376.9,1388.2 L1377.6,1390.1 L1378.4,1389.1 L1379.1,1388.1 L1379.9,1389.7 L1380.6,1391.2 L1381.4,1389.4 L1382.1,1387.5 L1382.9,1392.1 L1383.6,1396.7 L1384.4,1394.5 L1385.1,1392.2 L1385.9,1389.7 L1386.6,1387.2 L1387.4,1387.1 L1388.1,1386.9 L1388.9,1391.2 L1389.6,1395.6 L1390.4,1396.6 L1391.1,1397.6 L1391.9,1395.8 L1392.6,1394.0 L1393.4,1389.8 L1394.1,1385.7 L1394.9,1387.2 L1395.6,1388.6 L1396.4,1390.4 L1396.4,1390.4 L1397.1,1392.2 L1397.9,1390.3 L1398.6,1388.3 L1399.4,1391.1 L1400.1,1393.8 L1400.9,1394.1 L1401.6,1394.5 L1402.4,1394.0 L1403.1,1393.5 L1403.9,1395.3 L1404.6,1397.0 L1405.4,1394.4 L1406.1,1391.7 L1406.9,1390.8 L1407.6,1389.9 L1408.4,1388.3 L1409.1,1386.6 L1409.9,1390.7 L1410.6,1394.8 L1411.4,1389.1 L1412.1,1383.3 L1412.9,1391.7 L1413.6,1400.0 L1414.4,1398.2 L1415.1,1396.4 L1415.9,1395.4 L1416.6,1394.4 L1417.4,1391.1 L1418.1,1387.8 L1418.9,1389.4 L1419.6,1391.0 L1420.4,1388.5 L1421.1,1386.1 L1421.9,1385.4 L1422.6,1384.8 L1423.4,1388.2 L1424.1,1391.6 L1424.9,1389.6 L1425.6,1387.6 L1426.4,1386.8 L1427.1,1386.1 L1427.9,1388.0 L1428.6,1390.0 L1429.4,1388.7 L1430.1,1387.5 L1430.9,1388.3 L1431.6,1389.1 L1432.4,1390.1 L1432.9,1390.7 L1433.1,1391.0 L1433.9,1388.9 L1434.6,1386.8 L1435.4,1388.6 L1436.1,1390.5 L1436.9,1393.3 L1437.6,1396.2 L1438.4,1397.1 L1439.1,1398.1 L1439.9,1394.2 L1440.6,1390.3 L1441.4,1391.8 L1442.1,1393.3 L1442.9,1386.3 L1443.6,1379.3 L1444.4,1385.9 L1445.1,1392.4 L1445.9,1387.3 L1446.6,1382.1 L1447.4,1386.5 L1448.1,1390.9 L1448.9,1394.9 L1449.6,1398.9 L1450.4,1392.8 L1451.1,1386.6 L1451.9,1389.7 L1452.6,1392.7 L1453.4,1390.2 L1454.1,1387.7 L1454.9,1392.0 L1455.6,1396.2 L1456.4,1391.5 L1457.1,1386.8 L1457.9,1392.4 L1458.6,1397.9 L1459.4,1394.5 L1460.1,1391.0 L1460.9,1387.4 L1461.6,1383.7 L1462.4,1386.8 L1463.1,1389.9 L1463.9,1382.1 L1464.6,1374.2 L1465.4,1380.5 L1466.1,1386.7 L1466.9,1387.2 L1467.6,1387.6 L1468.4,1391.6 L1469.1,1395.7 L1469.9,1393.6 L1470.6,1391.5 L1471.4,1394.4 L1472.1,1397.3 L1472.9,1393.7 L1473.6,1390.1 L1474.4,1390.6 L1475.1,1391.1 L1475.9,1383.6 L1476.6,1376.1 L1476.7,1376.4 L1477.4,1381.5 L1478.1,1387.7 L1478.9,1390.7 L1479.6,1393.1 L1480.0,1392.7 L1480.4,1392.1 L1481.1,1390.8 L1481.9,1393.9 L1482.6,1397.0 L1483.4,1384.7 L1484.1,1372.5 L1484.9,1382.6 L1485.6,1392.8 L1486.4,1392.3 L1487.1,1391.9 L1487.9,1389.9 L1488.6,1388.0 L1489.4,1389.0 L1490.1,1390.0 L1490.9,1390.2 L1491.6,1390.4 L1492.4,1392.7 L1493.1,1394.9 L1493.9,1394.4 L1494.6,1393.9 L1495.4,1394.8 L1496.1,1395.7 L1496.9,1394.5 L1497.6,1393.2 L1498.4,1388.8 L1499.1,1384.3 L1499.9,1385.5 L1500.6,1386.7 L1501.4,1384.1 L1502.1,1381.6 L1502.9,1386.0 L1503.6,1390.3 L1504.4,1392.8 L1505.1,1395.3 L1505.9,1390.9 L1506.6,1386.6 L1507.4,1385.4 L1508.1,1384.2 L1508.9,1386.6 L1509.6,1388.9 L1510.4,1386.4 L1511.1,1383.8 L1511.9,1387.5 L1512.6,1391.1 L1513.4,1387.6 L1514.1,1384.1 L1514.9,1386.1 L1515.6,1388.0 L1516.4,1384.0 L1516.5,1383.3 L1517.1,1379.9 L1517.9,1387.0 L1518.6,1394.0 L1519.4,1392.0 L1520.1,1390.0 L1520.9,1388.0 L1521.6,1386.0 L1522.4,1386.4 L1523.1,1386.7 L1523.9,1389.1 L1524.6,1391.5 L1525.4,1386.5 L1526.1,1381.6 L1526.9,1382.9 L1527.6,1384.2 L1528.4,1387.9 L1529.1,1391.5 L1529.9,1389.4 L1530.6,1387.2 L1531.4,1388.9 L1532.1,1390.6 L1532.9,1389.3 L1533.6,1387.9 L1534.4,1387.0 L1535.1,1386.1 L1535.9,1390.3 L1536.6,1394.6 L1537.4,1391.3 L1538.1,1388.0 L1538.9,1389.9 L1539.6,1391.8 L1540.4,1390.1 L1541.1,1388.3 L1541.9,1387.3 L1542.6,1386.2 L1543.4,1388.0 L1544.1,1389.8 L1544.9,1386.6 L1545.6,1383.5 L1546.4,1383.8 L1547.1,1384.1 L1547.9,1385.6 L1548.6,1387.1 L1549.4,1388.7 L1550.1,1390.3 L1550.9,1390.4 L1551.6,1390.5 L1552.4,1392.9 L1553.1,1395.3 L1553.9,1388.6 L1554.6,1381.9 L1555.4,1383.8 L1556.1,1385.8 L1556.9,1390.2 L1557.6,1394.6 L1558.4,1389.7 L1559.1,1384.7 L1559.9,1389.0 L1560.6,1393.3 L1561.4,1391.1 L1562.1,1389.0 L1562.9,1387.0 L1563.6,1385.0 L1564.4,1387.5 L1565.1,1390.0 L1565.9,1386.1 L1566.6,1382.2 L1567.4,1390.7 L1568.1,1399.2 L1568.9,1394.8 L1569.6,1390.3 L1570.4,1388.7 L1571.1,1387.2 L1571.3,1386.8 L1571.9,1385.1 L1572.6,1383.1 L1573.4,1385.4 L1574.1,1387.7 L1574.9,1389.9 L1575.6,1392.0 L1576.4,1389.2 L1577.1,1386.4 L1577.9,1390.6 L1578.6,1394.7 L1579.4,1390.2 L1580.1,1385.7 L1580.9,1386.1 L1581.6,1386.4 L1582.4,1384.6 L1583.1,1382.7 L1583.9,1381.6 L1584.6,1380.5 L1585.4,1388.0 L1586.1,1395.5 L1586.9,1390.9 L1587.6,1386.4 L1588.4,1384.9 L1589.1,1383.4 L1589.9,1389.6 L1590.6,1395.7 L1591.4,1389.1 L1592.1,1382.5 L1592.9,1386.8 L1593.6,1391.1 L1594.4,1391.8 L1595.1,1392.6 L1595.9,1394.0 L1596.6,1395.4 L1597.4,1394.5 L1598.1,1393.5 L1598.9,1391.0 L1599.6,1388.4 L1600.4,1393.1 L1601.1,1397.8 L1601.9,1391.8 L1602.6,1385.7 L1603.4,1384.8 L1604.1,1384.0 L1604.9,1382.1 L1605.6,1380.3 L1606.4,1386.7 L1607.1,1393.1 L1607.8,1392.9 L1607.9,1392.9 L1608.6,1392.7 L1609.4,1393.9 L1610.1,1395.1 L1610.9,1390.9 L1611.6,1386.7 L1612.4,1384.5 L1613.1,1382.2 L1613.9,1384.4 L1614.6,1386.6 L1615.4,1391.4 L1616.1,1396.2 L1616.9,1396.8 L1617.6,1397.4 L1618.4,1388.7 L1619.1,1380.0 L1619.9,1388.5 L1620.6,1396.9 L1621.4,1396.3 L1622.1,1395.7 L1622.9,1393.8 L1623.6,1392.0 L1624.4,1391.3 L1625.1,1390.6 L1625.9,1389.7 L1626.6,1388.8 L1627.4,1388.6 L1628.1,1388.3 L1628.9,1388.9 L1629.6,1389.4 L1630.4,1382.2 L1631.1,1375.0 L1631.9,1385.8 L1632.6,1396.7 L1633.4,1395.5 L1634.1,1394.3 L1634.9,1392.8 L1635.6,1391.3 L1636.4,1393.0 L1637.1,1394.6 L1637.9,1394.8 L1638.6,1395.0 L1639.4,1395.8 L1640.1,1396.6 L1640.9,1393.5 L1641.6,1390.4 L1642.4,1392.3 L1643.1,1394.2 L1643.9,1393.9 L1644.3,1393.8 L1644.6,1393.7 L1645.4,1392.1 L1646.1,1390.5 L1646.9,1394.0 L1647.6,1397.5 L1648.4,1392.9 L1649.1,1388.4 L1649.9,1393.2 L1650.6,1398.0 L1651.4,1392.8 L1652.1,1387.6 L1652.9,1392.5 L1653.6,1397.4 L1654.4,1400.3 L1655.1,1403.2 L1655.9,1401.3 L1656.6,1399.4 L1657.4,1397.9 L1658.1,1396.4 L1658.9,1395.9 L1659.6,1395.4 L1660.4,1397.8 L1661.1,1400.1 L1661.9,1394.6 L1662.6,1389.1 L1663.4,1386.8 L1664.1,1384.4 L1664.9,1389.8 L1665.6,1395.2 L1666.4,1395.0 L1667.1,1394.7 L1667.9,1395.1 L1668.6,1395.5 L1669.4,1396.7 L1670.1,1397.9 L1670.9,1398.8 L1671.6,1399.7 L1672.4,1397.1 L1673.1,1394.6 L1673.9,1396.5 L1674.6,1398.4 L1675.4,1398.1 L1676.1,1397.7 L1676.9,1400.3 L1677.6,1403.0 L1678.4,1401.3 L1679.1,1399.6 L1679.9,1392.9 L1680.6,1386.2 L1680.8,1387.0 L1681.4,1390.2 L1682.1,1394.2 L1682.9,1402.6 L1683.6,1411.0 L1684.4,1405.0 L1685.1,1398.9 L1685.9,1394.0 L1686.6,1389.0 L1687.4,1389.0 L1688.1,1388.9 L1688.9,1393.7 L1689.6,1398.5 L1690.4,1395.4 L1691.1,1392.3 L1691.9,1394.9 L1692.6,1397.6 L1693.4,1394.3 L1694.1,1391.0 L1694.9,1393.7 L1695.6,1396.5 L1696.4,1396.0 L1697.1,1395.5 L1697.9,1391.8 L1698.6,1388.2 L1699.4,1390.0 L1700.1,1391.9 L1700.9,1391.8 L1701.6,1391.6 L1702.4,1394.5 L1703.1,1397.3 L1703.9,1390.5 L1704.6,1383.6 L1705.4,1385.8 L1706.1,1388.0 L1706.4,1387.7 L1706.9,1387.0 L1707.6,1386.0 L1708.4,1387.7 L1709.1,1389.4 L1709.9,1392.6 L1710.6,1395.7 L1711.4,1392.5 L1712.1,1389.3 L1712.9,1382.1 L1713.6,1374.9 L1714.4,1381.0 L1715.1,1387.1 L1715.9,1387.2 L1716.6,1387.3 L1717.4,1383.5 L1718.1,1379.7 L1718.9,1378.9 L1719.6,1378.1 L1720.4,1382.1 L1721.1,1386.1 L1721.9,1382.4 L1722.6,1378.7 L1723.4,1378.9 L1724.1,1379.2 L1724.9,1379.9 L1725.6,1380.6 L1726.4,1377.3 L1727.1,1374.1 L1727.9,1378.8 L1728.6,1383.5 L1729.4,1380.5 L1730.1,1377.6 L1730.9,1378.9 L1731.6,1380.3 L1732.4,1377.7 L1733.1,1375.2 L1733.9,1378.9 L1734.6,1382.5 L1735.4,1381.7 L1735.6,1381.6 L1736.1,1381.0 L1736.9,1378.0 L1737.6,1375.0 L1738.4,1378.4 L1739.1,1381.9 L1739.9,1377.7 L1740.6,1373.5 L1741.4,1375.4 L1742.1,1377.2 L1742.9,1376.8 L1743.6,1376.4 L1744.4,1381.3 L1745.1,1386.2 L1745.9,1383.9 L1746.6,1381.5 L1747.4,1381.0 L1748.1,1380.6 L1748.9,1381.2 L1749.6,1381.9 L1750.4,1383.7 L1751.1,1385.6 L1751.9,1379.9 L1752.6,1374.3 L1753.4,1379.4 L1754.1,1384.5 L1754.9,1385.1 L1755.6,1385.6 L1756.4,1381.8 L1757.1,1377.9 L1757.5,1378.6 L1757.9,1379.4 L1758.6,1380.8 L1759.4,1382.6 L1760.1,1384.3 L1760.9,1381.3 L1761.6,1378.3 L1762.4,1382.5 L1763.1,1386.6 L1763.9,1388.9 L1764.6,1391.3 L1765.4,1386.1 L1766.1,1380.9 L1766.9,1381.4 L1767.6,1382.0 L1768.4,1380.6 L1769.1,1379.1 L1769.9,1380.4 L1770.6,1381.6 L1771.4,1382.0 L1772.1,1382.3 L1772.9,1381.7 L1773.6,1381.0 L1774.4,1380.5 L1775.1,1380.0 L1775.9,1377.6 L1776.6,1375.2 L1777.4,1377.5 L1778.1,1379.7 L1778.9,1378.9 L1779.6,1378.1 L1780.4,1378.5 L1781.1,1378.9 L1781.9,1378.3 L1782.6,1377.7 L1783.0,1375.5 L1783.4,1373.4 L1784.1,1369.0 L1784.9,1365.4 L1785.6,1361.6 L1786.4,1366.5 L1787.1,1371.4 L1787.9,1373.3 L1788.6,1375.2 L1789.4,1370.9 L1790.1,1366.5 L1790.9,1371.1 L1791.6,1375.6 L1792.4,1372.3 L1793.1,1368.9 L1793.9,1368.4 L1794.6,1368.0 L1795.4,1370.0 L1796.1,1372.1 L1796.9,1367.3 L1797.6,1362.5 L1798.4,1361.7 L1799.1,1360.9 L1799.9,1361.3 L1800.6,1361.7 L1801.3,1360.3 L1801.4,1360.1 L1802.1,1358.3 L1802.9,1356.5 L1803.6,1354.5 L1804.4,1349.3 L1805.1,1344.1 L1805.9,1345.0 L1806.6,1345.9 L1807.4,1353.5 L1808.1,1361.0 L1808.9,1353.5 L1809.6,1345.9 L1810.4,1343.8 L1811.1,1341.6 L1811.9,1342.6 L1812.6,1343.5 L1813.4,1338.0 L1814.1,1332.4 L1814.9,1334.8 L1815.6,1337.1 L1815.9,1336.9 L1816.4,1336.5 L1817.1,1335.7 L1817.9,1332.4 L1818.6,1329.1 L1819.4,1331.9 L1820.1,1334.7 L1820.9,1336.3 L1821.6,1337.8 L1822.4,1335.8 L1823.1,1333.7 L1823.9,1332.2 L1824.6,1330.8 L1825.4,1327.2 L1826.1,1323.6 L1826.9,1324.0 L1827.6,1324.6 L1828.4,1326.3 L1829.1,1328.1 L1829.9,1329.2 L1830.5,1330.1 L1830.6,1330.4 L1831.4,1325.7 L1832.1,1321.2 L1832.9,1323.7 L1833.6,1326.2 L1834.4,1329.7 L1835.1,1333.1 L1835.9,1330.1 L1836.6,1326.9 L1837.4,1325.6 L1837.6,1325.2 L1838.1,1323.8 L1838.9,1324.0 L1839.6,1323.8 L1840.4,1321.8 L1841.1,1319.6 L1841.9,1314.6 L1842.6,1309.6 L1843.4,1310.7 L1844.1,1312.0 L1844.5,1310.2 L1844.9,1308.6 L1845.6,1305.4 L1846.4,1304.7 L1847.1,1304.0 L1847.9,1300.5 L1848.6,1296.9 L1849.4,1296.6 L1850.1,1296.2 L1850.9,1295.1 L1851.5,1294.0 L1851.6,1293.8 L1852.4,1291.7 L1853.1,1288.9 L1853.9,1283.6 L1854.6,1278.0 L1855.4,1279.0 L1856.1,1280.1 L1856.7,1275.5 L1856.9,1274.4 L1857.6,1268.9 L1858.4,1268.1 L1859.1,1267.3 L1859.9,1257.9 L1860.6,1248.3 L1861.4,1246.2 L1862.0,1244.3 L1862.1,1243.7 L1862.9,1236.0 L1863.6,1227.9 L1864.4,1217.0 L1865.1,1205.8 L1865.9,1201.1 L1866.6,1195.9 L1867.2,1191.8 L1867.4,1190.4 L1868.1,1184.2 L1868.9,1172.0 L1869.6,1159.3 L1870.4,1151.4 L1871.1,1143.1 L1871.9,1128.5 L1872.4,1117.8 L1872.6,1113.8 L1873.4,1108.2 L1874.1,1102.2 L1874.9,1084.5 L1875.6,1066.4 L1876.4,1057.5 L1877.1,1048.4 L1877.7,1033.6 L1877.9,1027.4 L1878.6,1005.1 L1879.4,988.7 L1880.1,972.4 L1880.9,966.2 L1881.2,964.4 L1881.6,961.6 L1882.4,953.2 L1883.1,945.4 L1883.9,927.6 L1884.6,910.5 L1884.6,910.3 L1885.4,900.0 L1886.1,890.0 L1886.9,887.3 L1887.6,885.5 L1888.1,880.4 L1888.4,877.9 L1889.1,870.5 L1889.9,863.3 L1890.6,856.9 L1891.4,854.3 L1892.1,853.3 L1892.3,852.3 L1892.9,849.4 L1893.6,845.8 L1894.4,847.2 L1895.1,848.8 L1895.9,844.8 L1896.6,840.9 L1897.4,838.6 L1898.1,836.5 L1898.6,836.1 L1898.9,836.0 L1899.6,836.8 L1900.4,844.0 L1901.1,852.2 L1901.9,855.6 L1902.6,859.2 L1902.8,860.4 L1903.4,865.7 L1904.1,873.9 L1904.9,877.9 L1905.6,882.4 L1906.4,894.4 L1907.1,905.9 L1907.3,906.4 L1907.9,907.9 L1908.6,909.7 L1909.4,920.8 L1910.1,931.8 L1910.9,938.9 L1911.6,945.9 L1912.4,943.7 L1912.6,943.3 L1913.1,941.6 L1913.9,956.6 L1914.6,971.6 L1915.4,976.2 L1916.1,980.8 L1916.9,986.1 L1917.6,991.1 L1917.8,991.8 L1918.4,994.8 L1919.1,998.5 L1919.9,1002.6 L1920.6,1006.6 L1921.4,1019.1 L1922.1,1031.3 L1922.9,1030.3 L1923.0,1030.1 L1923.6,1029.0 L1924.4,1030.4 L1925.1,1031.7 L1925.9,1038.8 L1926.6,1045.7 L1927.4,1045.2 L1928.1,1044.6 L1928.3,1044.7 L1928.9,1045.2 L1929.6,1045.6 L1930.4,1051.7 L1931.1,1057.7 L1931.9,1061.8 L1932.6,1065.9 L1933.4,1068.1 L1933.5,1068.4 L1934.1,1070.5 L1934.9,1074.0 L1935.6,1077.2 L1936.4,1078.8 L1937.0,1079.0 L1937.1,1078.8 L1937.9,1077.6 L1938.6,1072.7 L1939.4,1062.7 L1940.1,1051.8 L1940.9,1037.9 L1941.2,1033.3 L1941.6,1025.3 L1942.4,1021.9 L1943.1,1018.3 L1943.9,1007.0 L1944.6,995.2 L1945.4,983.2 L1945.7,978.2 L1946.1,970.6 L1946.9,962.7 L1947.6,954.2 L1948.4,942.3 L1949.1,930.1 L1949.9,922.5 L1950.2,919.0 L1950.6,914.3 L1951.4,896.7 L1952.1,878.2 L1952.9,860.8 L1953.6,845.1 L1954.4,837.8 L1954.4,837.6 L1955.1,832.5 L1955.9,821.8 L1956.6,812.6 L1957.4,808.3 L1957.9,807.3 L1958.1,807.4 L1958.9,811.7 L1959.6,818.1 L1960.4,822.8 L1961.1,828.5 L1961.9,837.5 L1962.1,839.9 L1962.6,847.4 L1963.4,855.3 L1964.1,865.2 L1964.9,881.3 L1965.6,898.0 L1966.4,913.6 L1966.6,918.3 L1967.1,928.5 L1967.9,939.7 L1968.6,951.3 L1969.4,967.0 L1970.1,983.3 L1970.9,1002.2 L1971.2,1009.1 L1971.6,1022.2 L1972.4,1036.4 L1973.1,1051.7 L1973.9,1069.7 L1974.6,1087.0 L1975.3,1103.5 L1975.4,1104.5 L1976.1,1121.6 L1976.9,1143.5 L1977.6,1165.2 L1978.4,1180.0 L1979.1,1193.1 L1979.9,1204.5 L1980.6,1212.3 L1980.6,1212.9 L1981.4,1217.2 L1982.1,1220.7 L1982.9,1231.1 L1983.6,1240.8 L1984.4,1242.2 L1985.1,1243.0 L1985.8,1248.7 L1985.9,1249.4 L1986.6,1255.5 L1987.4,1254.5 L1988.1,1253.3 L1988.9,1253.1 L1989.6,1252.6 L1990.4,1258.6 L1991.0,1263.5 L1991.1,1264.2 L1991.9,1261.6 L1992.6,1258.9 L1993.4,1259.1 L1994.1,1259.2 L1994.9,1259.7 L1995.6,1260.0 L1996.3,1258.5 L1996.4,1258.2 L1997.1,1256.0 L1997.9,1256.1 L1998.6,1256.0 L1999.4,1253.9 L2000.1,1251.8 L2000.9,1257.2 L2001.5,1261.9 L2001.6,1263.0 L2002.4,1261.4 L2003.1,1261.8 L2003.9,1269.3 L2004.6,1277.2 L2005.4,1283.0 L2006.1,1287.9 L2006.7,1291.3 L2006.9,1292.0 L2007.6,1295.0 L2008.4,1293.3 L2009.1,1291.3 L2009.9,1297.3 L2010.6,1303.4 L2011.4,1296.3 L2012.0,1291.0 L2012.1,1289.6 L2012.9,1295.9 L2013.6,1303.0 L2014.4,1308.6 L2015.1,1314.6 L2015.9,1316.1 L2016.6,1317.6 L2017.2,1325.4 L2017.4,1327.9 L2018.1,1338.3 L2018.9,1340.4 L2019.6,1342.7 L2020.4,1343.3 L2021.1,1343.8 L2021.9,1348.7 L2022.4,1352.0 L2022.6,1353.1 L2023.4,1360.5 L2024.1,1367.9 L2024.9,1370.6 L2025.6,1373.0 L2026.4,1378.9 L2027.1,1384.2 L2027.7,1382.1 L2027.9,1381.1 L2028.6,1377.8 L2029.4,1375.4 L2030.1,1372.9 L2030.9,1380.6 L2031.6,1388.3 L2032.4,1387.2 L2033.1,1386.0 L2033.9,1386.5 L2034.6,1387.0 L2035.4,1386.2 L2036.1,1385.5 L2036.4,1386.8 L2036.9,1389.4 L2037.6,1393.4 L2038.4,1388.0 L2039.1,1382.7 L2039.9,1387.6 L2040.6,1392.5 L2041.4,1394.0 L2042.1,1395.5 L2042.9,1394.0 L2043.6,1392.3 L2044.4,1396.2 L2045.1,1400.1 L2045.9,1401.1 L2046.6,1402.0 L2047.4,1401.6 L2048.1,1401.0 L2048.6,1400.6 L2048.9,1400.4 L2049.6,1399.8 L2050.4,1399.2 L2051.1,1398.7 L2051.9,1400.3 L2052.6,1401.8 L2053.4,1401.6 L2054.1,1401.5 L2054.9,1402.3 L2055.6,1403.1 L2056.4,1396.5 L2057.1,1389.9 L2057.9,1396.8 L2058.6,1403.6 L2059.1,1401.7 L2059.4,1400.2 L2060.1,1396.7 L2060.9,1399.1 L2061.6,1401.4 L2062.4,1400.1 L2063.1,1398.7 L2063.9,1397.9 L2064.6,1397.1 L2065.4,1395.8 L2066.1,1394.4 L2066.9,1394.0 L2067.6,1393.6 L2068.4,1389.7 L2069.1,1385.7 L2069.9,1386.4 L2070.6,1387.0 L2071.4,1387.9 L2072.1,1388.8 L2072.9,1390.5 L2073.0,1390.8 L2073.6,1392.3 L2074.4,1387.6 L2075.1,1383.0 L2075.9,1382.8 L2076.6,1382.5 L2077.4,1382.5 L2078.1,1382.5 L2078.9,1390.7 L2079.6,1399.0 L2080.4,1393.3 L2081.1,1387.5 L2081.9,1388.8 L2082.6,1390.0 L2083.4,1391.1 L2084.1,1392.1 L2084.9,1392.6 L2085.6,1393.1 L2086.4,1390.4 L2087.0,1388.3 L2087.1,1387.6 L2087.9,1389.7 L2088.6,1391.6 L2089.4,1388.6 L2090.1,1385.6 L2090.9,1384.4 L2091.6,1383.2 L2092.4,1381.6 L2093.1,1380.1 L2093.9,1380.2 L2094.6,1380.3 L2095.4,1380.1 L2096.1,1380.1 L2096.9,1378.0 L2097.4,1376.6 L2097.6,1376.1 L2098.4,1378.7 L2099.1,1381.3 L2099.9,1380.5 L2100.6,1379.7 L2101.4,1383.0 L2102.1,1386.2 L2102.9,1384.9 L2103.6,1383.5 L2104.4,1381.1 L2105.1,1378.7 L2105.9,1375.5 L2106.6,1372.2 L2107.4,1377.7 L2107.9,1381.3 L2108.1,1383.0 L2108.9,1385.1 L2109.6,1387.0 L2110.4,1386.3 L2111.1,1385.4 L2111.9,1382.6 L2112.6,1379.7 L2113.4,1379.2 L2114.1,1378.6 L2114.9,1380.9 L2115.6,1383.2 L2116.4,1383.7 L2117.1,1384.2 L2117.9,1377.1 L2118.6,1370.1 L2119.4,1375.7 L2120.1,1381.2 L2120.1,1381.5 L2120.9,1380.9 L2121.6,1380.5 L2122.4,1377.9 L2123.1,1375.4 L2123.9,1378.1 L2124.6,1380.8 L2125.4,1385.3 L2126.1,1389.7 L2126.9,1388.2 L2127.6,1386.5 L2128.4,1388.0 L2128.8,1388.8 L2129.1,1389.4 L2129.9,1390.7 L2130.6,1392.0 L2131.4,1388.1 L2132.1,1384.1 L2132.9,1385.0 L2133.6,1386.0 L2134.4,1385.7 L2135.1,1385.4 L2135.9,1382.8 L2136.6,1380.2 L2137.4,1387.0 L2138.1,1393.7 L2138.9,1387.3 L2139.6,1380.9 L2140.4,1383.0 L2141.1,1385.1 L2141.9,1386.9 L2142.6,1388.7 L2142.8,1388.6 L2143.4,1388.1 L2144.1,1387.5 L2144.9,1392.9 L2145.6,1398.3 L2146.4,1391.2 L2147.1,1384.1 L2147.9,1385.5 L2148.6,1386.8 L2149.4,1388.3 L2150.1,1389.8 L2150.9,1386.4 L2151.6,1383.0 L2152.4,1388.3 L2153.1,1393.7 L2153.9,1391.9 L2154.6,1390.0 L2155.4,1390.0 L2156.1,1389.9 L2156.9,1389.2 L2157.6,1388.5 L2158.4,1392.0 L2158.5,1392.4"/>
<path stroke="#ff80ff" d="M294.6,1411.0 L295.4,1407.6 L296.1,1404.4 L296.9,1401.5 L297.6,1398.6 L298.4,1395.6 L299.1,1392.4 L299.9,1388.6 L300.5,1385.1 L300.6,1384.3 L301.4,1379.8 L302.1,1374.5 L302.9,1368.5 L303.6,1362.1 L304.4,1355.7 L305.1,1349.2 L305.9,1342.2 L306.6,1335.3 L307.4,1329.4 L307.5,1328.2 L308.1,1323.5 L308.9,1317.0 L309.6,1310.2 L310.4,1304.0 L311.1,1298.3 L311.9,1292.9 L312.6,1288.8 L313.4,1286.5 L313.4,1286.5 L314.1,1285.2 L314.9,1283.7 L315.6,1282.4 L316.4,1281.3 L317.1,1280.4 L317.9,1280.2 L318.6,1280.2 L319.3,1279.9 L319.4,1279.8 L320.1,1279.8 L320.9,1280.3 L321.6,1281.0 L322.4,1281.8 L323.1,1282.6 L323.9,1284.0 L324.6,1285.2 L325.2,1285.6 L325.4,1285.7 L326.1,1286.2 L326.9,1286.3 L327.6,1286.3 L328.4,1286.9 L329.1,1287.3 L329.8,1287.5 L329.9,1287.5 L330.6,1287.3 L331.4,1286.2 L332.1,1284.7 L332.9,1283.6 L333.6,1282.2 L334.4,1280.6 L335.1,1279.0 L335.7,1277.0 L335.9,1276.4 L336.6,1272.9 L337.4,1269.6 L338.1,1265.7 L338.9,1261.6 L339.6,1257.8 L340.4,1253.8 L340.4,1253.7 L341.1,1250.1 L341.9,1247.1 L342.6,1244.1 L343.4,1241.5 L344.1,1239.3 L344.9,1237.6 L345.1,1237.2 L345.6,1236.3 L346.4,1235.0 L347.1,1234.0 L347.9,1233.3 L347.9,1233.3 L348.6,1233.8 L349.4,1236.3 L350.1,1239.8 L350.9,1243.6 L351.0,1244.0 L351.6,1247.8 L352.4,1252.9 L353.1,1258.8 L353.9,1265.7 L354.6,1272.8 L355.4,1279.4 L355.7,1281.7 L356.1,1285.9 L356.9,1293.3 L357.6,1301.1 L358.4,1309.4 L359.1,1317.6 L359.9,1324.7 L360.4,1328.7 L360.6,1331.1 L361.4,1337.7 L362.1,1344.3 L362.9,1351.1 L363.6,1357.6 L364.4,1363.4 L365.1,1368.8 L365.9,1373.7 L366.2,1375.7 L366.6,1378.0 L367.4,1381.9 L368.1,1385.6 L368.9,1389.0 L369.6,1392.2 L370.4,1395.2 L371.1,1397.9 L371.9,1400.2 L372.6,1402.2 L373.3,1403.7 L373.4,1404.1 L374.1,1405.8 L374.9,1407.2 L375.6,1408.5 L376.4,1409.2 L377.1,1409.6 L377.9,1410.4 L378.6,1410.8 L379.1,1410.9 L379.4,1410.8 L380.1,1409.6 L380.9,1407.2 L381.6,1404.0 L382.4,1400.5 L383.1,1396.9 L383.9,1393.5 L384.6,1390.5 L385.0,1389.2 L385.4,1387.9 L386.1,1385.1 L386.9,1382.9 L387.6,1380.8 L388.4,1379.2 L389.1,1378.3 L389.7,1378.1 L389.9,1378.2 L390.6,1379.3 L391.4,1381.2 L392.1,1383.8 L392.9,1386.8 L393.6,1389.6 L394.4,1392.0 L394.4,1392.0 L395.1,1394.0 L395.9,1396.0 L396.6,1397.9 L397.4,1398.8 L398.1,1399.7 L398.9,1401.1 L399.6,1402.4 L400.2,1403.4 L400.4,1403.6 L401.1,1404.9 L401.9,1406.2 L402.6,1407.6 L403.4,1408.5 L404.1,1409.2 L404.9,1410.4 L405.6,1411.4 L406.4,1411.6 L407.1,1411.6 L407.3,1411.6 L407.9,1411.8 L408.6,1411.7 L409.4,1411.0 L410.1,1410.1 L410.9,1409.2 L411.6,1408.1 L412.4,1407.2 L413.1,1406.2 L413.9,1404.4 L414.3,1403.3 L414.6,1402.5 L415.4,1400.2 L416.1,1397.0 L416.9,1393.5 L417.6,1389.6 L418.4,1385.3 L419.1,1381.1 L419.9,1377.1 L420.2,1375.6 L420.6,1373.5 L421.4,1369.6 L422.1,1365.6 L422.9,1362.7 L423.6,1359.7 L424.4,1356.2 L425.1,1352.7 L425.9,1349.3 L426.6,1346.0 L427.4,1342.7 L428.1,1339.6 L428.9,1337.5 L429.6,1335.9 L429.6,1335.8 L430.4,1333.9 L431.1,1332.4 L431.9,1330.7 L432.6,1329.1 L433.4,1327.9 L434.1,1326.6 L434.9,1324.5 L435.6,1322.2 L436.4,1319.9 L436.6,1319.1 L437.1,1317.0 L437.9,1312.7 L438.6,1307.2 L439.4,1300.9 L440.1,1293.8 L440.9,1286.1 L441.3,1281.4 L441.6,1277.7 L442.4,1267.8 L443.1,1256.1 L443.9,1242.4 L444.6,1226.0 L445.4,1206.4 L446.0,1187.4 L446.1,1182.7 L446.9,1142.3 L447.6,1086.2 L448.4,1024.5 L448.7,999.9 L449.1,963.9 L449.9,898.3 L450.1,880.0 L450.6,831.7 L451.4,763.3 L452.1,699.5 L452.1,695.8 L452.9,628.9 L453.6,563.8 L454.2,519.8 L454.4,506.1 L455.1,457.1 L455.9,412.3 L456.1,399.8 L456.6,365.5 L457.1,340.0 L457.4,326.2 L457.7,317.0 L458.1,313.5 L458.5,312.2 L458.9,312.0 L459.6,311.5 L460.4,311.9 L461.1,312.3 L461.4,312.4 L461.9,314.5 L462.2,317.3 L462.6,327.2 L463.0,340.4 L463.4,363.2 L463.9,400.2 L464.1,415.5 L464.9,460.3 L465.6,508.4 L465.8,519.8 L466.4,567.4 L467.1,636.0 L467.8,699.9 L467.9,709.0 L468.6,789.0 L469.4,869.3 L469.5,880.1 L470.1,944.3 L470.8,1000.2 L470.9,1006.3 L471.6,1052.0 L472.4,1091.0 L473.1,1125.4 L473.9,1157.2 L474.6,1188.1 L474.6,1188.1 L475.4,1220.0 L476.1,1251.9 L476.9,1279.7 L477.6,1299.8 L477.9,1304.8 L478.4,1311.0 L479.1,1320.0 L479.9,1327.8 L480.6,1334.1 L481.4,1339.0 L482.1,1342.2 L482.4,1342.7 L482.9,1343.6 L483.6,1344.6 L484.4,1346.0 L485.1,1347.2 L485.9,1347.4 L486.6,1347.6 L487.4,1348.5 L488.1,1349.5 L488.3,1349.5 L488.9,1350.1 L489.6,1350.8 L490.4,1351.9 L491.1,1353.0 L491.9,1353.8 L492.6,1354.6 L493.4,1355.2 L494.1,1355.8 L494.9,1356.0 L495.6,1356.1 L496.4,1356.3 L496.5,1356.3 L497.1,1356.3 L497.9,1356.2 L498.6,1356.1 L499.4,1356.1 L500.1,1356.1 L500.9,1355.3 L501.6,1354.5 L502.4,1354.1 L503.1,1353.7 L503.9,1353.1 L504.6,1352.4 L504.7,1352.4 L505.4,1350.9 L506.1,1348.7 L506.9,1346.4 L507.6,1343.8 L508.4,1340.7 L509.1,1337.8 L509.4,1337.2 L509.9,1335.6 L510.6,1332.9 L511.4,1329.9 L512.1,1327.1 L512.9,1324.3 L513.6,1322.6 L514.1,1322.5 L514.4,1322.6 L515.1,1323.0 L515.9,1323.3 L516.6,1323.7 L517.4,1323.8 L518.1,1323.9 L518.8,1323.9 L518.9,1323.8 L519.6,1321.6 L520.4,1317.4 L521.1,1311.4 L521.9,1304.1 L522.3,1300.2 L522.6,1295.9 L523.4,1283.3 L524.1,1267.7 L524.9,1252.1 L525.6,1238.2 L525.8,1235.5 L526.4,1225.8 L527.1,1213.7 L527.9,1203.0 L528.6,1193.8 L529.3,1187.6 L529.4,1187.1 L530.1,1181.5 L530.9,1176.1 L531.6,1171.2 L532.4,1167.3 L533.1,1164.6 L533.9,1163.1 L534.0,1163.1 L534.6,1163.6 L535.4,1166.2 L536.1,1170.0 L536.9,1174.3 L537.5,1178.0 L537.6,1178.5 L538.4,1183.3 L539.1,1188.6 L539.9,1194.1 L540.6,1199.7 L541.4,1205.1 L542.1,1210.3 L542.2,1210.9 L542.9,1215.7 L543.6,1220.9 L544.4,1226.3 L545.1,1231.8 L545.9,1237.4 L546.6,1243.5 L546.9,1246.1 L547.4,1250.7 L548.1,1259.0 L548.9,1268.4 L549.6,1278.0 L550.4,1286.8 L551.1,1295.0 L551.6,1300.1 L551.9,1302.9 L552.6,1310.5 L553.4,1317.7 L554.1,1324.6 L554.9,1330.4 L555.6,1335.6 L556.3,1340.2 L556.4,1340.8 L557.1,1345.7 L557.9,1349.8 L558.6,1353.7 L559.4,1357.0 L560.1,1359.5 L560.9,1361.4 L561.0,1361.5 L561.6,1362.3 L562.4,1362.8 L563.1,1363.2 L563.9,1363.6 L564.6,1364.0 L565.4,1364.2 L566.1,1364.4 L566.9,1364.5 L567.6,1364.6 L568.0,1364.6 L568.4,1364.6 L569.1,1364.4 L569.9,1364.0 L570.6,1363.4 L571.4,1362.8 L572.1,1362.1 L572.9,1361.1 L573.6,1360.1 L574.4,1359.5 L575.1,1359.2 L575.1,1359.1 L575.9,1358.6 L576.6,1358.0 L577.4,1357.8 L578.1,1357.6 L578.9,1357.2 L579.6,1356.9 L580.4,1357.0 L581.0,1357.2 L581.1,1357.2 L581.9,1357.2 L582.6,1357.3 L583.4,1357.4 L584.1,1357.6 L584.9,1358.7 L585.6,1359.9 L586.4,1360.7 L586.8,1361.3 L587.1,1361.8 L587.9,1364.1 L588.6,1367.2 L589.4,1370.4 L590.1,1373.9 L590.9,1377.7 L591.6,1381.3 L592.4,1384.2 L592.7,1385.2 L593.1,1386.6 L593.9,1388.7 L594.6,1390.9 L595.4,1393.3 L596.1,1395.4 L596.9,1397.2 L597.6,1398.4 L598.4,1398.7 L598.6,1398.7 L599.1,1395.3 L599.9,1388.9 L600.0,1388.3 L600.6,1385.6 L601.4,1381.3 L602.1,1377.4 L602.9,1374.0 L603.6,1370.8 L604.4,1368.2 L605.1,1365.8 L605.9,1364.0 L605.9,1363.9 L606.6,1362.0 L607.4,1359.6 L608.1,1357.4 L608.9,1355.3 L609.6,1353.7 L610.4,1353.1 L610.6,1353.1 L611.1,1353.4 L611.9,1355.2 L612.6,1357.8 L613.4,1360.6 L614.1,1363.8 L614.9,1367.3 L615.6,1370.8 L616.4,1373.6 L616.4,1373.7 L617.1,1376.4 L617.9,1379.8 L618.6,1383.5 L619.4,1386.2 L620.1,1388.7 L620.9,1391.8 L621.6,1394.2 L622.3,1394.8 L622.4,1394.8 L623.1,1395.0 L623.9,1395.5 L624.6,1395.8 L625.4,1396.6 L626.1,1397.2 L626.9,1396.8 L627.6,1396.3 L628.2,1396.6 L628.4,1396.7 L629.1,1396.5 L629.9,1395.2 L630.6,1393.6 L631.4,1392.0 L632.1,1390.3 L632.9,1387.8 L633.6,1385.6 L634.0,1385.0 L634.4,1384.5 L635.1,1383.3 L635.9,1381.7 L636.6,1380.1 L637.4,1378.3 L638.1,1376.8 L638.9,1375.5 L639.6,1374.5 L640.4,1373.9 L641.1,1373.6 L641.1,1373.6 L641.9,1373.3 L642.6,1373.0 L643.4,1373.2 L644.1,1373.4 L644.9,1373.1 L645.6,1372.7 L646.4,1373.4 L646.9,1374.0 L647.1,1374.2 L647.9,1374.5 L648.6,1375.1 L649.4,1375.3 L650.1,1375.7 L650.9,1377.7 L651.6,1379.9 L652.4,1380.8 L653.1,1381.6 L653.9,1382.3 L654.0,1382.4 L654.6,1383.0 L655.4,1384.5 L656.1,1386.0 L656.9,1387.8 L657.6,1389.6 L658.4,1390.7 L659.1,1391.7 L659.9,1392.6 L660.6,1393.4 L661.0,1394.3 L661.4,1395.2 L662.1,1397.0 L662.9,1397.8 L663.6,1398.5 L664.4,1399.5 L665.1,1400.4 L665.9,1401.1 L666.6,1401.7 L667.4,1403.2 L668.1,1404.5 L668.1,1404.6 L668.9,1405.4 L669.6,1406.2 L670.4,1406.1 L671.1,1405.9 L671.9,1406.7 L672.6,1407.5 L673.4,1408.0 L674.1,1408.3 L674.9,1408.8 L675.1,1408.9 L675.6,1409.1 L676.4,1408.8 L677.1,1408.5 L677.9,1409.9 L678.6,1411.3 L679.4,1410.7 L680.1,1410.1 L680.9,1410.4 L681.6,1410.7 L682.1,1410.4 L682.4,1410.3 L683.1,1409.7 L683.9,1410.6 L684.6,1411.5 L685.4,1410.7 L686.1,1409.9 L686.9,1408.9 L687.6,1407.8 L688.4,1408.7 L689.1,1409.7 L689.9,1409.0 L690.6,1408.4 L691.4,1407.8 L692.1,1407.2 L692.9,1407.5 L693.6,1407.7 L693.9,1407.5 L694.4,1407.2 L695.1,1406.7 L695.9,1407.2 L696.6,1407.7 L697.4,1407.5 L698.1,1407.3 L698.9,1406.4 L699.6,1405.4 L700.4,1406.1 L701.1,1406.8 L701.9,1406.8 L702.6,1406.8 L703.4,1405.2 L704.1,1403.6 L704.9,1405.0 L705.6,1406.3 L705.6,1406.4 L706.4,1406.0 L707.1,1405.6 L707.9,1405.5 L708.6,1405.4 L709.4,1405.5 L710.1,1405.6 L710.9,1404.8 L711.6,1404.1 L712.4,1403.6 L713.1,1403.1 L713.9,1403.5 L714.6,1403.8 L715.4,1403.5 L716.1,1403.1 L716.9,1403.2 L717.3,1403.3 L717.6,1403.3 L718.4,1402.0 L719.1,1400.8 L719.9,1401.4 L720.6,1402.0 L721.4,1403.1 L722.1,1404.2 L722.9,1403.1 L723.6,1402.1 L724.4,1402.2 L725.1,1402.3 L725.9,1401.9 L726.6,1401.5 L727.4,1401.0 L728.1,1400.6 L728.9,1400.9 L729.1,1401.0 L729.6,1401.2 L730.4,1401.0 L731.1,1400.7 L731.9,1400.1 L732.6,1399.4 L733.4,1399.3 L734.1,1399.1 L734.9,1399.2 L735.6,1399.4 L736.4,1398.5 L737.1,1397.7 L737.9,1397.4 L738.6,1397.2 L739.4,1397.7 L740.1,1398.3 L740.8,1398.1 L740.9,1398.0 L741.6,1397.8 L742.4,1397.0 L743.1,1396.3 L743.9,1396.7 L744.6,1397.2 L745.4,1396.7 L746.1,1396.2 L746.9,1395.7 L747.6,1395.2 L748.4,1394.5 L749.1,1393.8 L749.9,1393.9 L750.2,1393.9 L750.6,1393.9 L751.4,1392.8 L752.1,1391.5 L752.9,1390.8 L753.6,1389.9 L754.4,1388.5 L755.1,1387.0 L755.9,1386.3 L756.6,1385.4 L757.2,1383.7 L757.4,1383.2 L758.1,1380.4 L758.9,1377.1 L759.6,1373.3 L760.4,1369.3 L761.1,1365.0 L761.9,1361.1 L762.6,1357.3 L763.1,1354.2 L763.4,1352.2 L764.1,1346.9 L764.9,1340.8 L765.6,1334.6 L766.4,1330.1 L767.1,1325.9 L767.8,1322.1 L767.9,1321.6 L768.6,1317.5 L769.4,1313.2 L770.1,1309.1 L770.9,1305.2 L771.6,1301.5 L772.4,1299.3 L773.1,1297.3 L773.7,1295.0 L773.9,1294.0 L774.6,1290.9 L775.4,1288.3 L776.1,1285.7 L776.9,1283.0 L777.6,1280.4 L778.4,1278.4 L779.1,1276.7 L779.9,1274.8 L780.6,1273.3 L780.7,1273.2 L781.4,1271.9 L782.1,1270.6 L782.9,1269.4 L783.6,1268.3 L784.4,1267.1 L785.1,1265.9 L785.9,1265.3 L786.6,1264.8 L787.4,1264.5 L787.7,1264.4 L788.1,1264.3 L788.9,1263.4 L789.6,1262.6 L790.4,1262.7 L791.1,1262.8 L791.9,1262.0 L792.6,1261.2 L793.4,1261.6 L794.1,1262.2 L794.8,1261.4 L794.9,1261.2 L795.6,1260.6 L796.4,1261.7 L797.1,1263.1 L797.9,1264.3 L798.6,1265.6 L799.4,1266.5 L799.5,1266.6 L800.1,1267.4 L800.9,1268.4 L801.6,1269.7 L802.4,1272.5 L803.1,1275.6 L803.9,1277.5 L804.6,1279.6 L805.3,1282.3 L805.4,1282.5 L806.1,1285.6 L806.9,1288.9 L807.6,1292.5 L808.4,1295.8 L809.1,1299.3 L809.9,1304.3 L810.0,1305.3 L810.6,1309.4 L811.4,1313.8 L812.1,1318.3 L812.9,1323.1 L813.6,1327.9 L814.4,1331.8 L815.1,1335.6 L815.9,1340.7 L815.9,1340.8 L816.6,1345.6 L817.4,1349.3 L818.1,1353.1 L818.9,1357.0 L819.6,1360.8 L820.4,1364.6 L821.1,1368.0 L821.8,1370.9 L821.9,1371.4 L822.6,1374.6 L823.4,1377.0 L824.1,1379.2 L824.9,1382.2 L825.6,1385.1 L826.4,1386.5 L827.1,1387.6 L827.6,1388.5 L827.9,1388.8 L828.6,1389.9 L829.4,1390.2 L830.1,1390.5 L830.9,1390.8 L831.6,1391.1 L832.4,1391.4 L833.1,1391.6 L833.9,1392.6 L834.6,1393.4 L834.7,1393.5 L835.4,1394.3 L836.1,1395.1 L836.9,1395.3 L837.6,1395.4 L838.4,1394.4 L839.1,1393.4 L839.9,1394.3 L840.6,1395.2 L841.4,1395.5 L842.1,1395.7 L842.9,1395.2 L843.6,1394.6 L844.4,1395.2 L845.1,1395.7 L845.9,1395.6 L846.4,1395.5 L846.6,1395.4 L847.4,1396.0 L848.1,1396.6 L848.9,1396.8 L849.6,1397.1 L850.4,1397.1 L851.1,1397.2 L851.9,1397.5 L852.6,1397.9 L853.4,1397.9 L854.1,1397.9 L854.9,1398.5 L855.6,1399.0 L856.4,1397.9 L857.1,1396.7 L857.9,1398.3 L858.1,1398.9 L858.6,1399.9 L859.4,1400.3 L860.1,1400.6 L860.9,1399.8 L861.6,1398.9 L862.4,1399.5 L863.1,1400.0 L863.9,1400.4 L864.6,1400.8 L865.4,1400.4 L866.1,1399.9 L866.9,1400.0 L867.6,1400.0 L868.4,1400.3 L869.1,1400.6 L869.9,1400.9 L869.9,1400.9 L870.6,1401.2 L871.4,1400.4 L872.1,1399.5 L872.9,1400.2 L873.6,1400.8 L874.4,1401.0 L875.1,1401.1 L875.9,1400.3 L876.6,1399.6 L877.4,1400.2 L878.1,1400.8 L878.9,1401.3 L879.6,1401.8 L880.4,1401.2 L881.1,1400.6 L881.6,1400.6 L881.9,1400.6 L882.6,1400.6 L883.4,1401.3 L884.1,1402.2 L884.9,1401.6 L885.6,1401.0 L886.4,1401.5 L887.1,1401.9 L887.9,1402.8 L888.6,1403.7 L889.4,1404.2 L890.1,1404.7 L890.9,1403.8 L891.6,1402.9 L892.4,1403.5 L893.1,1404.0 L893.4,1404.1 L893.9,1404.4 L894.6,1404.7 L895.4,1405.2 L896.1,1405.6 L896.9,1405.3 L897.6,1405.1 L898.4,1404.7 L899.1,1404.4 L899.9,1405.0 L900.6,1405.6 L901.4,1404.5 L902.1,1403.3 L902.9,1404.4 L903.6,1405.4 L904.4,1405.7 L905.1,1405.9 L905.1,1405.9 L905.9,1406.1 L906.6,1406.3 L907.4,1406.1 L908.1,1405.9 L908.9,1405.2 L909.6,1404.5 L910.4,1405.4 L911.1,1406.4 L911.9,1405.9 L912.6,1405.3 L913.4,1405.4 L914.1,1405.4 L914.9,1406.1 L915.6,1406.8 L916.4,1405.5 L917.1,1404.3 L917.9,1406.0 L918.6,1407.7 L919.4,1407.2 L920.1,1406.7 L920.9,1406.8 L921.6,1406.8 L922.4,1406.4 L923.1,1406.0 L923.9,1406.4 L924.6,1406.8 L925.4,1406.8 L926.1,1406.8 L926.9,1406.7 L927.6,1406.6 L928.4,1406.0 L928.6,1405.9 L929.1,1405.4 L929.9,1406.3 L930.6,1407.2 L931.4,1407.3 L932.1,1407.4 L932.9,1407.9 L933.6,1408.3 L934.4,1408.3 L935.1,1408.3 L935.9,1408.5 L936.6,1408.6 L937.4,1408.7 L938.1,1408.8 L938.9,1408.2 L939.6,1407.6 L940.0,1407.5 L940.4,1407.5 L941.1,1407.3 L941.9,1408.0 L942.6,1408.7 L943.4,1408.5 L944.1,1408.3 L944.9,1408.7 L945.6,1409.2 L946.4,1408.5 L947.1,1407.9 L947.9,1408.2 L948.6,1408.4 L949.4,1408.9 L950.1,1409.4 L950.9,1409.2 L951.6,1408.9 L952.4,1408.6 L953.1,1408.2 L953.9,1408.8 L954.6,1409.4 L955.4,1409.2 L956.1,1409.1 L956.9,1408.6 L957.6,1408.1 L958.4,1408.3 L959.1,1408.4 L959.9,1408.8 L960.6,1409.1 L961.4,1409.0 L962.1,1408.8 L962.9,1408.8 L963.6,1408.8 L964.4,1408.7 L965.1,1408.6 L965.9,1407.7 L966.6,1406.8 L967.4,1408.1 L968.1,1409.4 L968.9,1409.3 L969.6,1409.3 L970.4,1409.1 L971.1,1408.9 L971.9,1408.2 L972.6,1407.6 L973.4,1408.1 L974.1,1408.7 L974.9,1408.9 L975.6,1409.0 L976.4,1408.9 L977.1,1408.9 L977.9,1408.9 L978.6,1409.0 L979.4,1408.1 L980.1,1407.3 L980.9,1408.4 L981.6,1409.5 L982.4,1409.5 L983.1,1409.5 L983.9,1409.5 L984.6,1409.6 L985.4,1409.8 L986.1,1410.1 L986.9,1409.7 L987.6,1409.2 L988.4,1409.7 L989.1,1410.1 L989.9,1409.1 L990.6,1408.1 L991.4,1408.8 L992.1,1409.6 L992.9,1409.2 L993.6,1408.9 L994.4,1409.5 L995.1,1410.2 L995.9,1409.4 L996.6,1408.7 L997.4,1408.7 L998.1,1408.7 L998.9,1408.6 L999.6,1408.6 L1000.4,1409.0 L1001.1,1409.5 L1001.9,1409.0 L1002.6,1408.5 L1003.4,1409.1 L1004.1,1409.8 L1004.9,1409.7 L1005.6,1409.7 L1006.4,1409.4 L1007.1,1409.1 L1007.9,1409.2 L1008.6,1409.2 L1009.4,1408.9 L1010.1,1408.6 L1010.9,1409.6 L1011.6,1410.6 L1012.4,1410.2 L1013.1,1409.7 L1013.9,1409.0 L1014.6,1408.2 L1015.4,1409.0 L1016.1,1409.9 L1016.9,1409.1 L1017.6,1408.2 L1018.4,1408.8 L1019.1,1409.3 L1019.9,1409.5 L1020.6,1409.6 L1021.4,1409.2 L1022.1,1408.8 L1022.9,1408.7 L1023.6,1408.6 L1024.4,1409.0 L1025.1,1409.4 L1025.9,1409.4 L1026.6,1409.5 L1027.4,1409.4 L1028.1,1409.2 L1028.9,1409.3 L1029.6,1409.4 L1030.4,1408.7 L1031.1,1408.0 L1031.9,1408.5 L1032.6,1409.0 L1033.4,1408.7 L1034.1,1408.3 L1034.9,1408.7 L1035.6,1409.2 L1036.4,1408.7 L1037.1,1408.2 L1037.9,1408.3 L1038.6,1408.4 L1039.4,1408.4 L1040.1,1408.3 L1040.9,1408.5 L1041.6,1408.7 L1042.4,1408.8 L1043.1,1408.8 L1043.9,1408.9 L1044.6,1408.9 L1045.4,1409.2 L1046.1,1409.5 L1046.9,1408.9 L1047.6,1408.3 L1048.4,1409.3 L1049.1,1410.3 L1049.5,1409.9 L1049.9,1409.5 L1050.6,1408.7 L1051.4,1408.6 L1052.1,1408.4 L1052.9,1408.8 L1053.6,1409.2 L1054.4,1409.0 L1055.1,1408.7 L1055.9,1408.6 L1056.6,1408.6 L1057.4,1408.9 L1058.1,1409.2 L1058.9,1408.6 L1059.6,1408.0 L1060.4,1408.9 L1061.1,1409.8 L1061.9,1408.9 L1062.6,1407.9 L1063.4,1408.2 L1064.1,1408.5 L1064.9,1409.2 L1065.6,1409.8 L1066.4,1409.9 L1067.1,1409.9 L1067.9,1409.6 L1068.6,1409.3 L1069.4,1408.6 L1070.1,1407.9 L1070.9,1408.3 L1071.6,1408.7 L1072.4,1408.6 L1073.1,1408.5 L1073.9,1408.5 L1074.6,1408.5 L1075.4,1408.6 L1076.1,1408.7 L1076.9,1409.0 L1077.6,1409.3 L1078.4,1409.5 L1079.1,1409.7 L1079.9,1409.4 L1080.6,1409.2 L1081.4,1408.8 L1082.1,1408.3 L1082.9,1408.7 L1083.6,1409.0 L1084.4,1409.1 L1085.1,1409.2 L1085.9,1409.5 L1086.6,1409.7 L1087.4,1409.1 L1088.1,1408.5 L1088.9,1408.6 L1089.6,1408.6 L1090.4,1408.6 L1091.1,1408.5 L1091.9,1408.3 L1092.6,1408.1 L1093.4,1408.7 L1094.1,1409.3 L1094.9,1409.0 L1095.6,1408.6 L1096.4,1409.2 L1097.1,1409.8 L1097.9,1409.7 L1098.6,1409.7 L1099.4,1409.4 L1100.1,1409.0 L1100.9,1409.1 L1101.6,1409.2 L1102.4,1409.0 L1103.1,1408.7 L1103.9,1409.0 L1104.6,1409.2 L1105.4,1409.2 L1106.1,1409.1 L1106.9,1409.6 L1107.6,1410.0 L1108.4,1409.3 L1109.1,1408.7 L1109.9,1409.3 L1110.6,1409.9 L1111.4,1409.8 L1112.1,1409.6 L1112.9,1409.5 L1113.6,1409.4 L1114.4,1408.8 L1115.1,1408.1 L1115.9,1408.2 L1116.6,1408.3 L1117.4,1408.7 L1118.1,1409.1 L1118.9,1409.1 L1119.6,1409.2 L1120.4,1408.6 L1121.1,1408.1 L1121.9,1409.3 L1122.6,1410.5 L1123.4,1409.8 L1124.1,1409.2 L1124.9,1409.1 L1125.6,1409.0 L1126.4,1409.3 L1127.1,1409.5 L1127.9,1409.0 L1128.6,1408.5 L1129.4,1408.0 L1130.1,1407.4 L1130.9,1408.2 L1131.6,1409.0 L1132.4,1408.8 L1133.1,1408.5 L1133.9,1408.8 L1134.6,1409.1 L1135.4,1409.2 L1136.1,1409.3 L1136.9,1408.6 L1137.6,1407.9 L1138.4,1408.2 L1139.1,1408.5 L1139.9,1409.2 L1140.6,1409.8 L1141.4,1410.1 L1142.1,1410.3 L1142.9,1409.7 L1143.6,1409.1 L1144.4,1409.2 L1145.1,1409.2 L1145.9,1409.3 L1146.6,1409.4 L1147.4,1409.4 L1148.1,1409.4 L1148.9,1410.3 L1149.6,1411.3 L1150.4,1410.9 L1151.1,1410.5 L1151.9,1409.6 L1152.6,1408.7 L1153.4,1408.8 L1154.1,1408.9 L1154.9,1409.5 L1155.6,1410.1 L1156.4,1409.9 L1157.1,1409.6 L1157.9,1409.8 L1158.6,1409.9 L1159.4,1409.8 L1160.1,1409.7 L1160.9,1409.1 L1161.6,1408.5 L1162.4,1408.4 L1163.1,1408.2 L1163.9,1408.1 L1164.6,1408.0 L1165.4,1408.3 L1166.1,1408.6 L1166.9,1409.1 L1167.6,1409.5 L1168.4,1409.1 L1169.1,1408.8 L1169.9,1409.8 L1170.6,1410.8 L1171.4,1409.4 L1172.1,1407.9 L1172.9,1408.4 L1173.6,1409.0 L1174.4,1409.5 L1175.1,1410.0 L1175.9,1410.4 L1176.6,1410.7 L1177.4,1409.6 L1178.1,1408.4 L1178.9,1408.9 L1179.6,1409.4 L1180.4,1409.6 L1181.1,1409.7 L1181.9,1408.7 L1182.6,1407.6 L1183.4,1408.7 L1184.1,1409.8 L1184.9,1409.6 L1185.6,1409.3 L1186.4,1409.1 L1187.1,1408.8 L1187.9,1409.4 L1188.6,1410.0 L1189.4,1409.6 L1190.1,1409.2 L1190.9,1408.9 L1191.6,1408.6 L1192.4,1409.4 L1193.1,1410.3 L1193.9,1409.5 L1194.6,1408.7 L1195.4,1409.4 L1195.6,1409.6 L1196.1,1410.2 L1196.9,1408.7 L1197.6,1407.3 L1198.4,1408.6 L1199.1,1409.9 L1199.9,1409.4 L1200.6,1408.9 L1201.4,1409.2 L1202.1,1409.4 L1202.9,1409.4 L1203.6,1409.3 L1204.4,1409.7 L1205.1,1410.0 L1205.9,1409.3 L1206.6,1408.5 L1207.4,1408.8 L1208.1,1409.0 L1208.9,1409.0 L1209.6,1408.9 L1210.4,1409.3 L1211.1,1409.6 L1211.9,1409.4 L1212.6,1409.2 L1213.4,1409.3 L1214.1,1409.4 L1214.9,1409.5 L1215.6,1409.5 L1216.4,1408.7 L1217.1,1407.9 L1217.9,1408.4 L1218.6,1409.0 L1219.4,1409.2 L1220.1,1409.3 L1220.9,1409.3 L1221.6,1409.4 L1222.4,1410.3 L1223.1,1411.2 L1223.9,1410.5 L1224.6,1409.9 L1225.4,1410.1 L1226.1,1410.3 L1226.9,1409.6 L1227.6,1408.9 L1228.4,1409.4 L1229.1,1409.9 L1229.9,1410.3 L1230.6,1410.7 L1231.4,1409.8 L1232.1,1408.9 L1232.9,1408.8 L1233.6,1408.8 L1234.4,1408.4 L1235.1,1408.1 L1235.9,1408.2 L1236.6,1408.2 L1237.4,1409.4 L1238.1,1410.6 L1238.9,1409.4 L1239.6,1408.1 L1240.4,1408.7 L1241.1,1409.2 L1241.9,1409.6 L1242.6,1409.9 L1243.4,1409.7 L1244.1,1409.4 L1244.9,1409.5 L1245.6,1409.5 L1246.4,1409.4 L1247.1,1409.2 L1247.9,1409.7 L1248.6,1410.1 L1249.4,1409.2 L1250.1,1408.2 L1250.9,1408.6 L1251.6,1409.0 L1252.4,1409.2 L1253.1,1409.3 L1253.9,1408.6 L1254.6,1407.8 L1255.4,1408.3 L1256.1,1408.8 L1256.9,1409.0 L1257.6,1409.2 L1258.4,1409.9 L1259.1,1410.5 L1259.9,1409.7 L1260.6,1408.8 L1261.4,1409.6 L1262.1,1410.3 L1262.9,1409.5 L1263.6,1408.8 L1264.4,1409.7 L1265.1,1410.7 L1265.9,1409.9 L1266.6,1409.0 L1267.4,1409.6 L1268.1,1410.2 L1268.9,1411.0 L1269.6,1411.7 L1270.4,1410.9 L1271.1,1410.2 L1271.9,1410.4 L1272.6,1410.6 L1273.4,1409.6 L1274.1,1408.5 L1274.9,1409.2 L1275.6,1409.9 L1276.4,1409.9 L1277.1,1410.0 L1277.9,1409.6 L1278.6,1409.3 L1279.4,1409.4 L1280.1,1409.6 L1280.9,1409.1 L1281.6,1408.5 L1282.4,1408.8 L1283.1,1409.0 L1283.9,1408.7 L1284.6,1408.4 L1285.4,1408.3 L1286.1,1408.2 L1286.9,1409.1 L1287.6,1410.0 L1288.4,1409.4 L1289.1,1408.8 L1289.9,1409.2 L1290.6,1409.7 L1291.4,1410.3 L1292.1,1410.9 L1292.9,1410.6 L1293.6,1410.3 L1294.4,1409.6 L1295.1,1408.9 L1295.9,1409.1 L1296.6,1409.3 L1297.4,1409.1 L1298.1,1408.9 L1298.9,1409.2 L1299.6,1409.5 L1300.4,1410.2 L1301.1,1410.8 L1301.9,1410.8 L1302.6,1410.8 L1303.4,1409.9 L1304.1,1409.1 L1304.9,1408.7 L1305.6,1408.4 L1306.4,1409.4 L1307.1,1410.3 L1307.9,1409.0 L1308.6,1407.7 L1309.4,1408.8 L1310.1,1410.0 L1310.9,1408.8 L1311.6,1407.7 L1312.4,1408.8 L1313.1,1409.8 L1313.9,1409.8 L1314.6,1409.7 L1315.4,1409.4 L1316.1,1409.2 L1316.9,1408.9 L1317.6,1408.6 L1318.4,1409.3 L1319.1,1409.9 L1319.9,1409.9 L1320.6,1409.9 L1321.4,1409.8 L1322.1,1409.6 L1322.9,1410.5 L1323.6,1411.4 L1324.4,1410.4 L1325.1,1409.3 L1325.9,1409.2 L1326.6,1409.1 L1327.4,1409.9 L1328.1,1410.7 L1328.9,1411.3 L1329.6,1412.0 L1330.4,1410.5 L1331.1,1409.0 L1331.9,1409.2 L1332.6,1409.4 L1333.4,1409.3 L1334.1,1409.2 L1334.9,1409.5 L1335.6,1409.8 L1336.4,1410.0 L1337.1,1410.2 L1337.9,1409.6 L1338.6,1409.0 L1339.4,1409.2 L1340.1,1409.4 L1340.9,1409.1 L1341.6,1408.8 L1341.6,1408.8 L1342.4,1409.3 L1343.1,1409.7 L1343.9,1409.5 L1344.6,1409.3 L1345.4,1409.6 L1346.1,1409.9 L1346.9,1409.6 L1347.6,1409.4 L1348.4,1409.5 L1349.1,1409.7 L1349.9,1408.9 L1350.6,1408.2 L1351.4,1408.6 L1352.1,1409.1 L1352.9,1409.1 L1353.6,1409.2 L1354.4,1409.5 L1355.1,1409.7 L1355.9,1409.2 L1356.6,1408.7 L1357.4,1408.9 L1358.1,1409.1 L1358.9,1409.7 L1359.6,1410.3 L1360.4,1410.1 L1361.1,1409.9 L1361.9,1409.5 L1362.6,1409.0 L1363.4,1409.3 L1364.1,1409.5 L1364.9,1409.4 L1365.6,1409.3 L1366.4,1409.5 L1367.1,1409.7 L1367.9,1409.5 L1368.6,1409.3 L1369.4,1409.0 L1370.1,1408.8 L1370.9,1409.2 L1371.6,1409.6 L1372.4,1409.0 L1373.1,1408.3 L1373.9,1409.2 L1374.6,1410.1 L1375.4,1410.2 L1376.1,1410.3 L1376.9,1410.3 L1377.6,1410.2 L1378.4,1409.3 L1379.1,1408.4 L1379.9,1408.9 L1380.6,1409.4 L1381.4,1409.8 L1382.1,1410.2 L1382.9,1410.0 L1383.6,1409.7 L1384.4,1409.8 L1385.1,1409.8 L1385.9,1409.7 L1386.6,1409.7 L1387.4,1409.9 L1388.1,1410.2 L1388.9,1409.8 L1389.6,1409.4 L1390.4,1408.8 L1391.1,1408.3 L1391.9,1409.0 L1392.6,1409.8 L1393.4,1410.5 L1394.1,1411.3 L1394.9,1410.7 L1395.6,1410.1 L1396.4,1410.1 L1397.1,1410.1 L1397.9,1410.6 L1398.6,1411.1 L1399.4,1410.0 L1400.1,1409.0 L1400.9,1408.9 L1401.6,1408.8 L1402.4,1409.0 L1403.1,1409.2 L1403.9,1409.6 L1404.6,1409.9 L1405.4,1410.5 L1406.1,1411.0 L1406.9,1410.7 L1407.6,1410.4 L1408.4,1410.0 L1409.1,1409.5 L1409.9,1410.1 L1410.6,1410.7 L1411.4,1410.3 L1412.1,1409.8 L1412.9,1409.8 L1413.6,1409.8 L1414.4,1409.6 L1415.1,1409.4 L1415.9,1409.2 L1416.6,1408.9 L1417.4,1409.1 L1418.1,1409.4 L1418.9,1409.1 L1419.6,1408.8 L1420.4,1408.4 L1421.1,1407.9 L1421.9,1408.4 L1422.6,1408.9 L1423.4,1409.8 L1424.1,1410.6 L1424.9,1410.0 L1425.6,1409.4 L1426.4,1408.9 L1427.1,1408.4 L1427.9,1409.1 L1428.6,1409.7 L1429.4,1410.6 L1430.1,1411.5 L1430.9,1410.5 L1431.6,1409.5 L1432.4,1410.5 L1433.1,1411.6 L1433.9,1410.8 L1434.6,1410.0 L1435.4,1409.0 L1436.1,1407.9 L1436.9,1408.9 L1437.6,1409.9 L1438.4,1410.6 L1439.1,1411.3 L1439.9,1410.6 L1440.6,1410.0 L1441.4,1409.3 L1442.1,1408.7 L1442.9,1409.3 L1443.6,1409.9 L1444.4,1410.3 L1445.1,1410.7 L1445.9,1409.5 L1446.6,1408.4 L1447.4,1409.0 L1448.1,1409.7 L1448.9,1409.8 L1449.6,1409.9 L1450.4,1410.2 L1451.1,1410.5 L1451.9,1409.9 L1452.6,1409.3 L1453.4,1409.1 L1454.1,1408.9 L1454.9,1409.5 L1455.6,1410.1 L1456.4,1410.0 L1457.1,1409.9 L1457.9,1409.7 L1458.6,1409.6 L1459.4,1409.4 L1460.1,1409.2 L1460.9,1409.7 L1461.6,1410.3 L1462.4,1409.7 L1463.1,1409.2 L1463.9,1410.3 L1464.6,1411.4 L1465.4,1410.3 L1466.1,1409.3 L1466.9,1410.0 L1467.6,1410.6 L1468.4,1410.5 L1469.1,1410.5 L1469.9,1410.2 L1470.6,1410.0 L1471.4,1409.7 L1472.1,1409.5 L1472.9,1410.0 L1473.6,1410.5 L1474.4,1410.1 L1475.1,1409.7 L1475.9,1409.3 L1476.6,1408.9 L1476.7,1408.9 L1477.4,1409.3 L1478.1,1409.7 L1478.9,1409.8 L1479.6,1409.9 L1480.0,1409.5 L1480.4,1409.1 L1481.1,1408.2 L1481.9,1409.3 L1482.6,1410.5 L1483.4,1409.3 L1484.1,1408.1 L1484.9,1408.9 L1485.6,1409.8 L1486.4,1409.6 L1487.1,1409.5 L1487.9,1408.8 L1488.6,1408.2 L1489.4,1408.8 L1490.1,1409.4 L1490.9,1409.0 L1491.6,1408.7 L1492.4,1409.3 L1493.1,1409.9 L1493.9,1409.4 L1494.6,1409.0 L1495.4,1409.4 L1496.1,1409.7 L1496.9,1409.8 L1497.6,1409.8 L1498.4,1410.1 L1499.1,1410.4 L1499.9,1409.7 L1500.6,1408.9 L1501.4,1409.9 L1502.1,1410.9 L1502.9,1409.4 L1503.6,1407.9 L1504.4,1408.3 L1505.1,1408.6 L1505.9,1408.9 L1506.6,1409.2 L1507.4,1408.7 L1508.1,1408.2 L1508.9,1408.1 L1509.6,1408.1 L1510.4,1408.9 L1511.1,1409.8 L1511.9,1408.9 L1512.6,1408.1 L1513.4,1408.5 L1514.1,1408.9 L1514.9,1409.5 L1515.6,1410.2 L1516.4,1410.3 L1517.1,1410.4 L1517.9,1409.8 L1518.6,1409.2 L1519.4,1409.7 L1520.1,1410.1 L1520.9,1410.1 L1521.6,1410.1 L1522.4,1410.1 L1523.1,1410.0 L1523.9,1409.6 L1524.6,1409.3 L1525.4,1409.0 L1526.1,1408.7 L1526.9,1408.6 L1527.6,1408.4 L1528.4,1409.5 L1529.1,1410.6 L1529.9,1410.3 L1530.6,1409.9 L1531.4,1409.7 L1532.1,1409.4 L1532.9,1409.4 L1533.6,1409.5 L1534.4,1409.8 L1535.1,1410.1 L1535.9,1410.2 L1536.6,1410.3 L1537.4,1409.9 L1538.1,1409.5 L1538.9,1409.1 L1539.6,1408.6 L1540.4,1409.4 L1541.1,1410.1 L1541.9,1409.7 L1542.6,1409.2 L1543.4,1408.8 L1544.1,1408.3 L1544.9,1409.5 L1545.6,1410.6 L1546.4,1410.8 L1547.1,1411.0 L1547.9,1410.4 L1548.6,1409.8 L1549.4,1409.6 L1550.1,1409.5 L1550.9,1409.5 L1551.6,1409.4 L1552.4,1409.3 L1553.1,1409.2 L1553.9,1409.2 L1554.6,1409.1 L1555.4,1409.0 L1556.1,1408.8 L1556.9,1408.8 L1557.6,1408.8 L1558.4,1408.9 L1559.1,1409.1 L1559.9,1409.2 L1560.6,1409.4 L1561.4,1409.5 L1562.1,1409.6 L1562.9,1409.7 L1563.6,1409.9 L1564.4,1409.3 L1565.1,1408.7 L1565.9,1409.3 L1566.6,1410.0 L1567.4,1409.3 L1568.1,1408.7 L1568.9,1408.7 L1569.6,1408.7 L1570.4,1409.3 L1571.1,1409.8 L1571.9,1409.0 L1572.6,1408.1 L1573.4,1408.7 L1574.1,1409.4 L1574.9,1408.6 L1575.6,1407.9 L1576.4,1408.5 L1577.1,1409.1 L1577.9,1409.5 L1578.6,1410.0 L1579.4,1410.1 L1580.1,1410.1 L1580.9,1409.4 L1581.6,1408.6 L1582.4,1408.6 L1583.1,1408.6 L1583.9,1409.7 L1584.6,1410.7 L1585.4,1410.3 L1586.1,1409.8 L1586.9,1410.2 L1587.6,1410.6 L1588.4,1409.4 L1589.1,1408.2 L1589.5,1408.9 L1589.9,1409.4 L1590.6,1410.7 L1591.4,1410.2 L1592.1,1409.8 L1592.9,1409.1 L1593.6,1408.5 L1594.4,1409.0 L1595.1,1409.6 L1595.9,1410.1 L1596.6,1410.7 L1597.4,1410.3 L1598.1,1410.0 L1598.9,1409.3 L1599.6,1408.5 L1600.4,1408.4 L1601.1,1408.2 L1601.9,1409.3 L1602.6,1410.5 L1603.4,1409.9 L1604.1,1409.3 L1604.9,1409.1 L1605.6,1408.9 L1606.4,1409.0 L1607.1,1409.1 L1607.9,1409.0 L1608.6,1408.9 L1609.4,1408.6 L1610.1,1408.3 L1610.9,1408.8 L1611.6,1409.3 L1612.4,1409.5 L1613.1,1409.7 L1613.9,1409.0 L1614.6,1408.3 L1615.4,1409.3 L1616.1,1410.3 L1616.9,1409.6 L1617.6,1408.8 L1618.4,1409.3 L1619.1,1409.7 L1619.9,1409.9 L1620.6,1410.2 L1621.4,1410.2 L1622.1,1410.2 L1622.9,1410.4 L1623.6,1410.7 L1624.4,1409.4 L1625.1,1408.1 L1625.9,1408.0 L1626.6,1407.9 L1627.4,1408.1 L1628.1,1408.2 L1628.9,1408.6 L1629.6,1409.0 L1630.4,1409.4 L1631.1,1409.8 L1631.9,1409.2 L1632.6,1408.5 L1633.4,1408.6 L1634.1,1408.6 L1634.9,1408.8 L1635.6,1409.1 L1636.4,1409.0 L1637.1,1409.0 L1637.9,1410.1 L1638.6,1411.2 L1639.4,1409.9 L1640.1,1408.6 L1640.9,1409.8 L1641.6,1410.9 L1642.4,1411.1 L1643.1,1411.3 L1643.9,1410.3 L1644.6,1409.4 L1645.4,1409.4 L1646.1,1409.3 L1646.9,1409.4 L1647.6,1409.4 L1648.4,1409.2 L1649.1,1408.9 L1649.9,1409.0 L1650.6,1409.0 L1651.4,1408.7 L1652.1,1408.4 L1652.9,1409.1 L1653.6,1409.8 L1654.4,1410.0 L1655.1,1410.2 L1655.9,1409.5 L1656.6,1408.8 L1657.4,1409.5 L1658.1,1410.1 L1658.9,1409.6 L1659.6,1409.1 L1660.4,1409.0 L1661.1,1408.9 L1661.9,1409.2 L1662.6,1409.6 L1663.4,1409.4 L1664.1,1409.2 L1664.9,1410.0 L1665.6,1410.8 L1666.4,1410.7 L1667.1,1410.6 L1667.9,1410.6 L1668.6,1410.6 L1669.4,1410.4 L1670.1,1410.1 L1670.9,1409.3 L1671.6,1408.4 L1672.4,1408.7 L1673.1,1409.0 L1673.9,1409.2 L1674.6,1409.4 L1675.4,1410.2 L1676.1,1410.9 L1676.9,1409.9 L1677.6,1408.8 L1678.4,1409.7 L1679.1,1410.5 L1679.9,1409.2 L1680.6,1407.9 L1681.4,1408.5 L1682.1,1409.1 L1682.9,1409.2 L1683.6,1409.2 L1684.4,1409.8 L1685.1,1410.4 L1685.9,1410.4 L1686.6,1410.3 L1687.4,1410.0 L1688.1,1409.6 L1688.9,1409.7 L1689.6,1409.9 L1690.4,1409.2 L1691.1,1408.4 L1691.9,1408.3 L1692.6,1408.1 L1693.4,1409.2 L1694.1,1410.4 L1694.9,1411.1 L1695.6,1411.8 L1696.4,1411.1 L1697.1,1410.4 L1697.9,1409.8 L1698.6,1409.2 L1699.4,1409.6 L1700.1,1410.0 L1700.9,1409.0 L1701.6,1408.0 L1702.4,1408.7 L1703.1,1409.4 L1703.9,1409.3 L1704.6,1409.3 L1705.4,1409.9 L1706.1,1410.6 L1706.4,1410.5 L1706.9,1410.2 L1707.6,1409.7 L1708.4,1409.9 L1709.1,1410.1 L1709.9,1409.0 L1710.6,1407.9 L1711.4,1408.2 L1712.1,1408.4 L1712.9,1407.9 L1713.6,1407.5 L1714.4,1407.9 L1715.1,1408.2 L1715.9,1407.7 L1716.6,1407.2 L1717.4,1406.8 L1718.1,1406.4 L1718.9,1405.2 L1719.6,1404.0 L1720.4,1405.2 L1721.1,1406.4 L1721.9,1405.2 L1722.6,1404.0 L1723.4,1403.9 L1724.1,1403.7 L1724.9,1404.4 L1725.6,1405.1 L1726.4,1404.5 L1727.1,1403.8 L1727.9,1403.0 L1728.3,1402.7 L1728.6,1402.3 L1729.4,1402.3 L1730.1,1402.2 L1730.9,1401.2 L1731.6,1400.1 L1732.4,1400.1 L1733.1,1400.1 L1733.9,1400.4 L1734.6,1400.8 L1735.4,1400.0 L1736.1,1399.3 L1736.9,1399.2 L1737.6,1399.1 L1738.4,1398.4 L1739.1,1397.8 L1739.9,1398.0 L1740.6,1398.2 L1741.4,1398.1 L1742.1,1398.1 L1742.9,1398.1 L1742.9,1398.1 L1743.6,1398.2 L1744.4,1399.3 L1745.1,1400.5 L1745.9,1400.1 L1746.6,1399.7 L1747.4,1400.2 L1748.1,1400.8 L1748.9,1401.7 L1749.6,1402.7 L1750.4,1402.6 L1751.1,1402.5 L1751.9,1403.3 L1752.6,1404.1 L1753.4,1403.4 L1753.8,1403.0 L1754.1,1402.7 L1754.9,1403.5 L1755.6,1404.4 L1756.4,1404.9 L1757.1,1405.5 L1757.9,1405.3 L1758.6,1405.0 L1759.4,1405.7 L1760.1,1406.4 L1760.9,1406.3 L1761.6,1406.2 L1762.4,1406.8 L1763.1,1407.4 L1763.9,1407.8 L1764.6,1408.2 L1765.4,1407.8 L1766.1,1407.5 L1766.9,1407.3 L1767.6,1407.1 L1768.4,1407.4 L1769.1,1407.6 L1769.9,1408.2 L1770.6,1408.7 L1771.4,1408.8 L1772.1,1408.9 L1772.9,1408.4 L1773.6,1407.8 L1774.4,1409.0 L1775.1,1410.1 L1775.9,1410.3 L1776.6,1410.4 L1777.4,1410.0 L1778.1,1409.5 L1778.9,1409.6 L1779.4,1409.7 L1779.6,1409.8 L1780.4,1409.7 L1781.1,1409.7 L1781.9,1409.1 L1782.6,1408.5 L1783.4,1408.7 L1784.1,1408.9 L1784.9,1408.9 L1785.6,1408.8 L1786.4,1408.4 L1787.1,1407.9 L1787.9,1407.2 L1788.6,1406.5 L1789.4,1406.1 L1790.1,1405.7 L1790.9,1405.8 L1791.6,1405.8 L1792.4,1405.4 L1793.1,1405.1 L1793.9,1404.7 L1794.6,1404.4 L1795.4,1403.5 L1796.1,1402.6 L1796.9,1403.0 L1797.6,1403.4 L1798.4,1403.0 L1799.1,1402.6 L1799.9,1402.4 L1800.6,1402.3 L1801.3,1401.6 L1801.4,1401.5 L1802.1,1400.8 L1802.9,1401.2 L1803.6,1401.7 L1804.4,1401.1 L1805.1,1400.6 L1805.9,1400.6 L1806.6,1400.7 L1807.4,1399.7 L1808.1,1398.7 L1808.9,1398.9 L1809.6,1399.2 L1810.4,1398.7 L1811.1,1398.2 L1811.9,1397.6 L1812.6,1397.0 L1813.4,1396.9 L1814.1,1396.8 L1814.9,1396.1 L1815.6,1395.4 L1816.4,1395.4 L1817.1,1395.5 L1817.9,1395.3 L1818.6,1395.1 L1819.4,1394.8 L1819.5,1394.8 L1820.1,1394.6 L1820.9,1394.5 L1821.6,1394.5 L1822.4,1394.4 L1823.1,1394.4 L1823.9,1393.5 L1824.6,1392.6 L1825.4,1393.0 L1826.1,1393.4 L1826.9,1392.2 L1827.6,1391.0 L1828.4,1391.3 L1829.1,1391.7 L1829.9,1392.9 L1830.6,1394.1 L1831.4,1393.5 L1832.1,1392.9 L1832.3,1392.8 L1832.3,1393.0 L1832.9,1393.7 L1833.6,1394.5 L1834.4,1396.4 L1835.1,1398.2 L1835.9,1397.5 L1836.6,1396.6 L1837.4,1397.3 L1838.1,1397.9 L1838.9,1397.8 L1839.6,1397.6 L1840.4,1398.4 L1841.1,1399.0 L1841.9,1398.6 L1842.6,1398.1 L1842.8,1398.0 L1843.4,1397.6 L1844.1,1397.0 L1844.9,1397.1 L1845.6,1397.2 L1846.4,1397.2 L1847.1,1397.2 L1847.9,1397.3 L1848.6,1397.5 L1849.4,1396.9 L1850.1,1396.3 L1850.9,1395.9 L1851.6,1395.5 L1852.4,1394.7 L1853.1,1393.9 L1853.3,1393.7 L1853.9,1392.6 L1854.6,1391.0 L1855.4,1390.4 L1856.1,1389.4 L1856.9,1386.3 L1857.6,1382.9 L1858.4,1380.8 L1859.1,1378.6 L1859.9,1375.4 L1860.2,1374.0 L1860.6,1372.3 L1861.4,1369.4 L1862.1,1366.2 L1862.9,1362.7 L1863.6,1359.0 L1864.4,1354.8 L1865.1,1350.5 L1865.9,1347.0 L1866.6,1343.4 L1867.2,1339.9 L1867.4,1338.7 L1868.1,1333.6 L1868.9,1328.8 L1869.6,1323.8 L1870.4,1318.2 L1871.1,1312.7 L1871.9,1306.8 L1872.6,1301.2 L1873.4,1295.9 L1874.1,1291.0 L1874.2,1290.8 L1874.9,1286.8 L1875.6,1282.7 L1876.4,1278.2 L1877.1,1273.8 L1877.9,1270.3 L1878.6,1267.1 L1879.4,1262.6 L1880.1,1258.3 L1880.9,1255.6 L1881.2,1254.7 L1881.6,1253.1 L1882.4,1250.8 L1883.1,1248.5 L1883.9,1244.7 L1884.6,1241.0 L1885.4,1239.2 L1886.1,1237.7 L1886.9,1235.9 L1887.6,1234.5 L1888.1,1233.4 L1888.4,1233.0 L1889.1,1231.6 L1889.9,1230.2 L1890.6,1228.9 L1891.4,1228.8 L1892.1,1229.0 L1892.9,1229.1 L1893.4,1229.3 L1893.6,1229.5 L1894.4,1229.4 L1895.1,1229.5 L1895.9,1228.8 L1896.6,1228.2 L1897.4,1230.2 L1898.1,1232.3 L1898.6,1232.2 L1898.9,1232.1 L1899.6,1232.3 L1900.4,1234.7 L1901.1,1237.4 L1901.9,1238.8 L1902.6,1240.4 L1903.4,1242.9 L1904.1,1245.4 L1904.9,1247.8 L1905.6,1249.9 L1905.6,1250.1 L1906.4,1251.0 L1907.1,1252.0 L1907.9,1255.0 L1908.6,1258.0 L1909.4,1259.5 L1910.1,1261.0 L1910.9,1263.2 L1911.6,1265.2 L1912.4,1266.6 L1913.1,1267.7 L1913.9,1269.0 L1914.3,1269.6 L1914.6,1270.0 L1915.4,1270.6 L1916.1,1271.2 L1916.9,1272.7 L1917.6,1274.0 L1918.4,1275.3 L1919.1,1276.4 L1919.9,1276.3 L1920.6,1275.9 L1921.3,1276.7 L1921.4,1276.9 L1922.1,1277.8 L1922.9,1277.4 L1923.6,1277.0 L1924.4,1276.0 L1925.1,1274.9 L1925.9,1275.3 L1926.6,1275.6 L1927.4,1275.5 L1928.1,1275.3 L1928.3,1275.3 L1928.9,1274.7 L1929.6,1273.8 L1930.4,1273.2 L1931.1,1272.3 L1931.9,1271.2 L1932.6,1270.0 L1933.4,1267.8 L1934.1,1265.4 L1934.9,1263.7 L1935.2,1262.9 L1935.6,1261.8 L1936.4,1258.1 L1937.1,1253.4 L1937.9,1247.9 L1938.6,1241.8 L1939.4,1236.4 L1940.1,1230.8 L1940.5,1228.1 L1940.9,1224.3 L1941.6,1217.1 L1942.4,1209.8 L1943.1,1202.1 L1943.9,1194.6 L1944.6,1187.0 L1945.4,1178.1 L1945.7,1174.6 L1946.1,1169.4 L1946.9,1162.8 L1947.6,1156.1 L1948.4,1148.3 L1949.1,1140.6 L1949.9,1133.1 L1950.6,1125.9 L1950.9,1123.4 L1951.4,1119.1 L1952.1,1111.6 L1952.9,1103.9 L1953.6,1097.0 L1954.4,1091.7 L1955.1,1088.7 L1955.1,1088.6 L1955.9,1086.0 L1956.6,1083.7 L1957.4,1083.0 L1958.1,1082.8 L1958.6,1082.9 L1958.9,1083.1 L1959.6,1085.1 L1960.4,1088.1 L1961.1,1092.2 L1961.9,1097.2 L1962.6,1102.5 L1963.1,1105.6 L1963.4,1107.2 L1964.1,1112.7 L1964.9,1120.5 L1965.6,1129.0 L1966.4,1136.4 L1967.1,1144.1 L1967.9,1152.9 L1968.4,1158.6 L1968.6,1161.9 L1969.4,1171.5 L1970.1,1181.9 L1970.9,1192.1 L1971.6,1202.3 L1972.4,1212.7 L1973.1,1222.2 L1973.6,1227.3 L1973.9,1230.3 L1974.6,1238.1 L1975.4,1246.4 L1976.1,1254.5 L1976.9,1262.0 L1977.6,1269.1 L1978.4,1275.3 L1979.1,1281.0 L1979.9,1285.7 L1980.6,1289.6 L1980.6,1289.9 L1981.4,1295.7 L1982.1,1301.2 L1982.9,1305.7 L1983.6,1309.9 L1984.4,1313.4 L1985.1,1316.7 L1985.9,1319.2 L1986.6,1321.3 L1987.4,1323.6 L1987.6,1324.1 L1988.1,1325.6 L1988.9,1327.9 L1989.6,1330.0 L1990.4,1331.2 L1991.1,1332.2 L1991.9,1334.3 L1992.6,1336.3 L1993.4,1338.0 L1994.1,1339.8 L1994.5,1340.6 L1994.9,1341.3 L1995.6,1342.8 L1996.4,1344.1 L1997.1,1345.4 L1997.9,1346.9 L1998.6,1348.4 L1999.4,1349.9 L2000.1,1351.5 L2000.9,1352.7 L2001.5,1353.7 L2001.6,1353.9 L2002.4,1355.2 L2003.1,1356.5 L2003.9,1359.4 L2004.6,1362.4 L2005.4,1364.2 L2006.1,1366.1 L2006.9,1366.4 L2007.6,1366.7 L2008.4,1369.9 L2009.1,1373.0 L2009.9,1374.3 L2010.2,1374.9 L2010.6,1375.6 L2011.4,1376.9 L2012.1,1378.2 L2012.9,1380.8 L2013.6,1383.3 L2014.4,1384.0 L2015.1,1384.7 L2015.9,1386.5 L2016.6,1388.3 L2017.4,1389.9 L2018.1,1391.3 L2018.9,1393.2 L2019.6,1394.9 L2020.4,1395.2 L2020.7,1395.3 L2021.1,1395.5 L2021.9,1396.8 L2022.6,1398.1 L2023.4,1398.8 L2024.1,1399.4 L2024.9,1400.6 L2025.6,1401.8 L2026.4,1403.1 L2027.1,1404.3 L2027.9,1404.8 L2028.6,1405.4 L2029.4,1405.4 L2030.1,1405.5 L2030.9,1405.8 L2031.2,1406.0 L2031.6,1406.2 L2032.4,1405.9 L2033.1,1405.6 L2033.9,1406.9 L2034.6,1408.3 L2035.4,1408.1 L2036.1,1407.9 L2036.9,1408.6 L2037.6,1409.3 L2038.4,1409.0 L2039.1,1408.8 L2039.9,1408.9 L2040.6,1408.9 L2041.4,1409.0 L2042.1,1409.0 L2042.9,1408.5 L2043.6,1408.0 L2044.4,1409.1 L2045.1,1410.1 L2045.1,1410.1 L2045.9,1410.1 L2046.6,1410.2 L2047.4,1409.7 L2048.1,1409.1 L2048.9,1409.6 L2049.6,1410.1 L2050.4,1410.0 L2051.1,1410.0 L2051.9,1409.7 L2052.6,1409.5 L2053.4,1409.4 L2054.1,1409.4 L2054.9,1409.2 L2055.6,1409.0 L2056.4,1409.2 L2057.1,1409.4 L2057.9,1410.3 L2058.6,1411.1 L2059.4,1411.1 L2060.1,1411.0 L2060.9,1410.7 L2061.6,1410.5 L2062.4,1410.9 L2063.1,1411.3 L2063.9,1411.0 L2064.6,1410.7 L2065.4,1410.5 L2066.1,1410.3 L2066.9,1410.7 L2067.6,1411.1 L2068.4,1410.8 L2069.1,1410.5 L2069.9,1410.5 L2070.6,1410.5 L2071.4,1410.9 L2072.1,1411.2 L2072.9,1410.6 L2073.6,1410.0 L2074.4,1411.0 L2075.1,1411.9 L2075.9,1411.6 L2076.6,1411.3 L2077.4,1410.9 L2078.1,1410.5 L2078.9,1411.0 L2079.6,1411.6 L2080.4,1410.8 L2081.1,1410.1 L2081.9,1410.0 L2082.6,1409.9 L2083.4,1410.3 L2084.1,1410.8 L2084.9,1411.1 L2085.6,1411.3 L2086.4,1411.0 L2087.1,1410.6 L2087.9,1410.4 L2088.6,1410.2 L2089.4,1411.5 L2090.1,1412.8 L2090.9,1412.1 L2091.6,1411.4 L2092.4,1410.9 L2093.1,1410.3 L2093.9,1410.6 L2093.9,1410.6 L2094.6,1410.9 L2095.4,1411.4 L2096.1,1411.9 L2096.9,1411.5 L2097.6,1411.1 L2098.4,1410.6 L2099.1,1410.2 L2099.9,1411.6 L2100.6,1413.1 L2101.4,1412.8 L2102.1,1412.4 L2102.9,1411.2 L2103.6,1410.0 L2104.4,1410.9 L2105.1,1411.8 L2105.9,1411.8 L2106.6,1411.7 L2107.4,1411.1 L2108.1,1410.5 L2108.9,1410.7 L2109.6,1410.9 L2110.4,1410.8 L2111.1,1410.6 L2111.9,1411.1 L2112.6,1411.6 L2113.4,1412.1 L2114.1,1412.6 L2114.9,1412.0 L2115.6,1411.3 L2116.4,1411.1 L2117.1,1410.9 L2117.9,1411.7 L2118.6,1412.4 L2119.4,1411.8 L2120.1,1411.1 L2120.9,1410.8 L2121.6,1410.5 L2122.4,1410.6 L2123.1,1410.7 L2123.9,1410.7 L2124.6,1410.8 L2125.4,1411.2 L2126.1,1411.7 L2126.9,1411.8 L2127.6,1411.9 L2128.4,1412.0 L2129.1,1412.0 L2129.9,1412.0 L2130.6,1411.9 L2131.4,1410.9 L2132.1,1409.9 L2132.9,1410.7 L2133.6,1411.6 L2134.4,1410.9 L2135.1,1410.2 L2135.9,1410.8 L2136.6,1411.4 L2137.4,1411.3 L2138.1,1411.3 L2138.9,1411.0 L2139.6,1410.6 L2140.4,1410.7 L2141.1,1410.8 L2141.9,1410.8 L2142.6,1410.8 L2143.4,1411.1 L2144.1,1411.4 L2144.9,1411.4 L2145.6,1411.3 L2146.4,1412.0 L2147.1,1412.6 L2147.9,1412.0 L2148.6,1411.4 L2149.4,1411.5 L2150.1,1411.6 L2150.9,1411.6 L2151.6,1411.5 L2152.4,1411.3 L2153.1,1411.1 L2153.9,1411.5 L2154.6,1411.9 L2155.4,1411.2 L2156.1,1410.6 L2156.9,1411.0 L2157.6,1411.4 L2158.4,1411.0 L2158.5,1411.0"/>
<path stroke="#008000" d="M294.6,1403.1 L295.4,1400.7 L296.1,1398.5 L296.9,1395.2 L297.6,1391.8 L298.4,1389.5 L299.1,1386.6 L299.3,1385.2 L299.9,1380.4 L300.6,1371.9 L301.4,1362.9 L302.1,1352.5 L302.9,1340.7 L303.6,1328.6 L304.4,1316.5 L305.1,1305.3 L305.2,1304.6 L305.9,1296.1 L306.6,1286.4 L307.4,1273.4 L308.1,1260.2 L308.9,1248.9 L309.6,1237.8 L310.4,1227.1 L311.1,1217.2 L311.9,1207.1 L312.6,1198.2 L313.4,1192.7 L313.4,1192.5 L314.1,1188.1 L314.9,1182.3 L315.6,1177.1 L316.4,1173.4 L317.1,1170.4 L317.9,1167.2 L318.1,1166.4 L318.6,1164.8 L319.4,1163.3 L320.1,1162.0 L320.9,1161.8 L321.6,1161.8 L322.4,1160.7 L323.1,1159.6 L323.9,1158.7 L324.0,1158.6 L324.6,1158.0 L325.4,1157.7 L326.1,1157.5 L326.9,1157.0 L327.6,1156.4 L328.4,1155.0 L328.7,1154.4 L329.1,1152.7 L329.9,1147.9 L330.6,1140.9 L331.4,1133.2 L332.1,1124.8 L332.9,1116.2 L333.4,1111.3 L333.6,1108.4 L334.4,1100.2 L335.1,1091.4 L335.9,1083.1 L336.6,1074.8 L337.4,1066.0 L338.1,1057.6 L338.9,1050.0 L339.2,1046.8 L339.6,1042.8 L340.4,1034.8 L341.1,1026.8 L341.9,1019.7 L342.6,1015.0 L343.2,1013.8 L343.4,1013.9 L344.1,1014.4 L344.9,1015.7 L345.6,1017.5 L346.4,1019.3 L347.1,1021.5 L347.4,1022.7 L347.9,1025.8 L348.6,1035.5 L349.4,1049.4 L350.1,1065.2 L350.9,1080.4 L351.0,1081.9 L351.6,1095.9 L352.4,1113.6 L353.1,1132.1 L353.9,1150.5 L354.5,1164.2 L354.6,1167.6 L355.4,1184.0 L356.1,1200.1 L356.9,1214.8 L357.6,1229.1 L358.4,1243.3 L359.1,1257.2 L359.2,1257.9 L359.9,1271.4 L360.6,1286.1 L361.4,1300.8 L362.1,1314.8 L362.9,1328.0 L363.6,1339.3 L363.9,1341.4 L364.4,1345.6 L365.1,1351.2 L365.9,1359.7 L366.6,1367.6 L367.4,1373.4 L368.1,1378.5 L368.9,1383.3 L369.6,1387.4 L369.7,1387.8 L370.4,1390.1 L371.1,1392.8 L371.9,1397.3 L372.6,1401.7 L373.4,1404.1 L374.1,1406.1 L374.9,1407.6 L375.6,1408.6 L376.4,1409.5 L376.8,1409.6 L377.1,1409.6 L377.9,1408.6 L378.6,1407.0 L379.4,1405.7 L380.1,1404.0 L380.9,1401.8 L381.6,1399.5 L382.4,1397.7 L382.6,1397.1 L383.1,1395.7 L383.9,1392.2 L384.6,1388.1 L385.4,1383.9 L386.1,1379.9 L386.9,1376.8 L387.6,1374.8 L388.4,1373.6 L388.5,1373.6 L389.1,1374.0 L389.9,1375.2 L390.6,1377.1 L391.4,1378.8 L392.1,1380.6 L392.9,1383.9 L393.2,1385.1 L393.6,1386.8 L394.4,1388.0 L395.1,1389.4 L395.9,1391.6 L396.6,1393.7 L397.4,1395.9 L398.1,1397.7 L398.9,1399.0 L399.1,1399.2 L399.6,1399.8 L400.4,1400.6 L401.1,1401.5 L401.9,1400.7 L402.6,1399.9 L403.4,1401.5 L404.1,1403.0 L404.9,1403.3 L405.6,1403.6 L406.4,1402.9 L407.1,1402.1 L407.3,1402.1 L407.9,1402.0 L408.6,1401.1 L409.4,1399.5 L410.1,1397.4 L410.9,1395.0 L411.6,1392.4 L412.4,1389.3 L413.1,1386.2 L413.2,1386.2 L413.9,1382.9 L414.6,1378.8 L415.4,1374.7 L416.1,1370.1 L416.9,1364.8 L417.6,1359.3 L418.4,1354.1 L419.1,1349.1 L419.9,1342.7 L420.2,1340.2 L420.6,1336.5 L421.4,1330.7 L422.1,1324.8 L422.9,1320.1 L423.6,1315.5 L424.4,1309.9 L425.1,1304.7 L425.9,1300.3 L426.6,1296.5 L427.2,1293.4 L427.4,1292.7 L428.1,1289.4 L428.9,1286.4 L429.6,1283.8 L430.4,1281.9 L431.1,1280.0 L431.9,1278.4 L432.6,1276.7 L433.4,1273.9 L434.1,1270.7 L434.3,1270.0 L434.9,1266.8 L435.6,1262.8 L436.4,1259.8 L437.1,1256.4 L437.9,1251.0 L438.6,1245.1 L439.4,1239.9 L440.1,1233.9 L440.9,1227.2 L441.3,1223.0 L441.6,1219.3 L442.4,1207.2 L443.1,1192.0 L443.9,1175.1 L444.6,1156.6 L444.8,1151.7 L445.4,1137.5 L446.1,1116.7 L446.9,1092.4 L447.6,1064.3 L448.4,1031.1 L449.0,999.8 L449.1,991.2 L449.9,927.3 L450.4,879.6 L450.6,858.2 L451.4,790.2 L452.1,722.0 L452.4,699.2 L452.9,655.4 L453.6,588.6 L454.4,528.9 L454.5,521.1 L455.1,478.9 L455.9,431.6 L456.4,400.0 L456.6,384.2 L457.4,340.7 L457.4,340.4 L458.0,318.0 L458.1,316.8 L458.8,312.9 L458.9,312.8 L459.6,311.9 L460.4,312.7 L460.4,312.7 L461.1,317.5 L461.2,318.1 L461.9,336.7 L462.0,341.0 L462.6,382.5 L462.9,400.9 L463.4,431.2 L464.1,476.0 L464.8,520.0 L464.9,526.8 L465.6,589.2 L466.4,659.5 L466.8,699.1 L467.1,733.7 L467.9,816.1 L468.5,880.6 L468.6,894.7 L469.4,966.1 L469.8,999.4 L470.1,1023.8 L470.9,1073.8 L471.6,1117.9 L472.4,1157.8 L472.5,1164.6 L473.1,1194.4 L473.9,1228.4 L474.6,1257.7 L475.4,1278.5 L475.6,1282.1 L476.1,1291.4 L476.9,1303.4 L477.6,1313.9 L478.4,1322.2 L479.1,1327.8 L479.9,1330.7 L480.0,1330.9 L480.6,1331.2 L481.4,1330.8 L482.1,1330.5 L482.9,1330.1 L483.6,1329.7 L484.4,1330.0 L484.7,1330.2 L485.1,1330.1 L485.9,1329.3 L486.6,1327.9 L487.4,1325.0 L488.1,1322.2 L488.9,1321.0 L489.4,1320.7 L489.6,1320.7 L490.4,1320.9 L491.1,1321.2 L491.9,1321.7 L492.6,1322.2 L493.4,1321.6 L494.1,1320.9 L494.9,1320.8 L495.6,1320.6 L496.4,1321.1 L496.5,1321.2 L497.1,1321.6 L497.9,1320.0 L498.6,1318.4 L499.4,1317.8 L500.1,1317.1 L500.9,1316.8 L501.6,1316.3 L502.3,1315.2 L502.4,1315.1 L503.1,1312.8 L503.9,1308.6 L504.6,1303.1 L505.4,1295.8 L506.1,1287.9 L506.9,1282.2 L507.0,1281.1 L507.6,1275.3 L508.4,1264.6 L509.1,1253.1 L509.9,1242.2 L510.5,1234.7 L510.6,1233.9 L511.4,1227.2 L512.1,1220.9 L512.9,1215.8 L513.6,1212.9 L514.1,1212.0 L514.4,1212.5 L515.1,1217.4 L515.9,1223.2 L516.4,1224.7 L516.6,1224.5 L517.4,1222.9 L518.1,1220.0 L518.9,1217.1 L519.6,1213.3 L519.9,1211.1 L520.4,1205.8 L521.1,1189.6 L521.9,1167.6 L522.6,1142.9 L523.4,1118.6 L523.5,1116.7 L524.1,1096.5 L524.9,1074.9 L525.6,1051.6 L526.4,1024.7 L527.0,1000.5 L527.1,992.2 L527.9,941.5 L528.4,915.4 L528.6,908.4 L529.4,891.5 L530.0,881.2 L530.1,878.9 L530.9,870.1 L531.0,870.0 L531.6,877.1 L532.0,882.6 L532.4,888.3 L533.1,901.0 L533.9,914.0 L533.9,914.1 L534.6,928.6 L535.4,946.8 L536.1,963.2 L536.4,967.1 L536.9,973.1 L537.6,980.3 L538.4,988.4 L539.1,998.5 L539.2,999.2 L539.9,1013.2 L540.6,1031.3 L541.4,1050.1 L542.1,1068.8 L542.2,1070.9 L542.9,1086.5 L543.6,1104.8 L544.4,1123.9 L545.1,1143.0 L545.9,1162.4 L546.6,1181.3 L546.9,1187.7 L547.4,1198.5 L548.1,1216.6 L548.9,1236.5 L549.6,1255.7 L550.4,1272.1 L551.1,1285.9 L551.6,1293.4 L551.9,1297.2 L552.6,1307.0 L553.4,1315.0 L554.1,1321.6 L554.9,1326.7 L555.1,1328.0 L555.6,1330.4 L556.4,1334.6 L557.1,1338.4 L557.9,1340.8 L558.6,1342.1 L559.1,1342.1 L559.4,1341.9 L560.1,1340.9 L560.9,1340.0 L561.6,1338.6 L562.4,1337.0 L563.1,1335.3 L563.4,1334.9 L563.9,1333.8 L564.6,1331.9 L565.4,1329.4 L566.1,1326.6 L566.9,1322.9 L567.6,1318.9 L568.0,1316.6 L568.4,1314.3 L569.1,1308.4 L569.9,1302.4 L570.6,1296.0 L571.4,1290.0 L572.1,1285.1 L572.7,1282.2 L572.9,1281.6 L573.6,1278.8 L574.4,1275.2 L575.1,1272.0 L575.9,1270.7 L576.6,1270.2 L577.0,1270.0 L577.4,1270.0 L578.1,1270.9 L578.9,1272.1 L579.6,1273.7 L580.4,1276.3 L581.0,1278.2 L581.1,1278.8 L581.9,1281.0 L582.6,1283.2 L583.4,1285.2 L584.1,1287.5 L584.9,1290.1 L585.6,1293.0 L585.6,1293.0 L586.4,1296.6 L587.1,1301.2 L587.9,1306.9 L588.6,1313.0 L589.2,1316.7 L589.4,1318.5 L590.1,1325.1 L590.9,1333.0 L591.6,1341.2 L592.4,1350.3 L593.1,1358.5 L593.9,1363.7 L593.9,1363.9 L594.6,1368.2 L595.4,1373.0 L596.1,1377.3 L596.9,1380.2 L597.6,1382.8 L598.4,1386.7 L598.6,1387.6 L599.1,1391.0 L599.9,1392.4 L600.0,1392.3 L600.6,1391.2 L601.4,1390.1 L602.1,1388.5 L602.9,1387.2 L603.6,1385.6 L604.4,1383.6 L605.1,1381.7 L605.9,1378.8 L605.9,1378.7 L606.6,1375.6 L607.4,1374.0 L608.1,1372.3 L608.9,1369.8 L609.6,1367.5 L610.4,1365.4 L611.1,1364.0 L611.7,1363.4 L611.9,1363.4 L612.6,1364.3 L613.4,1366.3 L614.1,1369.2 L614.9,1373.6 L615.6,1378.0 L616.4,1382.0 L616.4,1382.1 L617.1,1385.8 L617.9,1390.3 L618.6,1394.9 L619.4,1398.7 L620.1,1402.1 L620.9,1404.9 L621.6,1406.6 L622.3,1407.4 L622.4,1407.5 L623.1,1407.7 L623.9,1406.7 L624.6,1405.7 L625.4,1406.0 L626.1,1406.2 L626.9,1405.1 L627.6,1403.9 L628.2,1404.0 L628.4,1404.1 L629.1,1403.9 L629.9,1402.0 L630.6,1399.9 L631.4,1397.7 L632.1,1395.3 L632.9,1393.3 L633.6,1391.3 L634.4,1388.9 L635.1,1386.6 L635.2,1386.6 L635.9,1385.5 L636.6,1384.1 L637.4,1381.4 L638.1,1378.8 L638.9,1377.3 L639.6,1376.1 L640.4,1375.6 L641.1,1375.8 L641.1,1375.9 L641.9,1376.0 L642.6,1376.7 L643.4,1378.2 L644.1,1379.7 L644.9,1382.3 L645.6,1384.5 L645.8,1384.3 L646.4,1383.0 L647.1,1380.8 L647.9,1380.2 L648.6,1379.6 L649.4,1377.4 L650.1,1375.6 L650.5,1375.1 L650.9,1374.7 L651.6,1374.5 L652.4,1377.3 L653.1,1380.8 L653.9,1381.1 L654.6,1381.4 L655.4,1380.7 L656.1,1379.5 L656.3,1380.9 L656.9,1385.2 L657.6,1391.0 L658.4,1391.5 L659.1,1391.9 L659.9,1390.5 L660.6,1389.0 L661.4,1393.3 L662.1,1397.6 L662.9,1396.2 L663.4,1395.3 L663.6,1394.8 L664.4,1395.0 L665.1,1395.1 L665.9,1395.1 L666.6,1395.1 L667.4,1399.2 L668.1,1403.2 L668.9,1401.5 L669.6,1399.7 L670.4,1400.3 L670.4,1400.3 L671.1,1401.0 L671.9,1401.8 L672.6,1402.7 L673.4,1403.0 L674.1,1403.3 L674.9,1402.6 L675.6,1401.8 L676.4,1403.7 L677.1,1405.4 L677.4,1405.3 L677.9,1405.1 L678.6,1404.8 L679.4,1407.0 L680.1,1409.1 L680.9,1405.5 L681.6,1401.9 L682.4,1404.5 L683.1,1407.1 L683.9,1404.8 L684.5,1402.9 L684.6,1402.5 L685.4,1401.6 L686.1,1400.7 L686.9,1401.2 L687.6,1401.8 L688.4,1401.6 L689.1,1401.5 L689.9,1401.0 L690.6,1400.5 L691.4,1400.6 L691.5,1400.7 L692.1,1400.6 L692.9,1399.2 L693.6,1397.6 L694.4,1393.7 L695.1,1389.8 L695.9,1390.0 L696.6,1390.2 L697.4,1392.8 L698.1,1395.5 L698.6,1393.6 L698.9,1392.1 L699.6,1388.8 L700.4,1384.8 L701.1,1380.9 L701.9,1384.3 L702.6,1387.7 L703.4,1389.7 L704.1,1391.6 L704.9,1390.3 L705.6,1389.1 L705.6,1389.0 L706.4,1386.8 L707.1,1384.6 L707.9,1384.3 L708.6,1384.1 L709.4,1384.3 L710.1,1384.5 L710.9,1382.7 L711.6,1380.9 L712.4,1379.9 L712.6,1379.5 L713.1,1378.8 L713.9,1381.5 L714.6,1384.1 L715.4,1380.2 L716.1,1376.3 L716.9,1377.8 L717.6,1379.3 L718.4,1374.7 L719.1,1370.2 L719.7,1370.8 L719.9,1371.1 L720.6,1372.0 L721.4,1371.2 L722.1,1370.4 L722.9,1372.6 L723.6,1374.8 L724.4,1373.0 L725.1,1371.2 L725.9,1370.9 L726.6,1370.5 L726.7,1370.4 L727.4,1369.7 L728.1,1368.7 L728.9,1369.7 L729.6,1370.6 L730.4,1371.1 L731.1,1371.7 L731.9,1368.5 L732.6,1365.5 L733.4,1366.8 L733.8,1367.6 L734.1,1368.3 L734.9,1367.1 L735.6,1365.9 L736.4,1364.7 L737.1,1363.6 L737.9,1364.9 L738.6,1366.2 L739.4,1367.5 L740.1,1368.7 L740.8,1363.0 L740.9,1362.3 L741.6,1355.6 L742.4,1359.8 L743.1,1363.8 L743.9,1364.3 L744.6,1364.7 L745.4,1360.5 L746.1,1356.3 L746.9,1356.7 L747.6,1357.4 L747.8,1357.3 L748.4,1357.2 L749.1,1357.1 L749.9,1356.1 L750.6,1355.1 L751.4,1354.4 L752.1,1353.8 L752.9,1355.1 L753.6,1356.3 L754.4,1355.5 L754.9,1354.9 L755.1,1354.6 L755.9,1352.0 L756.6,1348.9 L757.4,1347.6 L758.1,1346.0 L758.9,1340.9 L759.6,1335.5 L760.4,1333.6 L760.8,1332.7 L761.1,1331.5 L761.9,1327.8 L762.6,1323.2 L763.4,1317.4 L764.1,1311.4 L764.9,1304.6 L765.6,1298.2 L766.4,1296.2 L766.6,1295.7 L767.1,1294.8 L767.9,1289.2 L768.6,1283.7 L769.4,1280.4 L770.1,1277.2 L770.9,1270.4 L771.6,1263.6 L772.4,1261.4 L773.1,1259.3 L773.7,1256.9 L773.9,1255.8 L774.6,1252.3 L775.4,1249.9 L776.1,1247.5 L776.9,1247.3 L777.6,1247.3 L778.4,1245.9 L779.1,1244.8 L779.9,1239.0 L780.6,1233.6 L780.7,1233.5 L781.4,1232.4 L782.1,1231.3 L782.9,1229.2 L783.6,1227.3 L784.4,1225.8 L785.1,1224.4 L785.4,1224.9 L785.9,1225.9 L786.6,1227.5 L787.4,1225.0 L788.1,1222.5 L788.9,1221.1 L789.6,1219.5 L790.1,1220.6 L790.4,1221.3 L791.1,1222.8 L791.9,1220.2 L792.6,1217.6 L793.4,1217.3 L794.1,1217.5 L794.3,1217.5 L794.9,1217.9 L795.6,1219.6 L796.4,1223.2 L797.1,1227.1 L797.9,1229.4 L798.3,1230.4 L798.6,1231.1 L799.4,1233.6 L800.1,1236.0 L800.9,1236.3 L801.6,1236.7 L802.4,1238.8 L803.1,1241.0 L803.9,1244.1 L804.2,1245.4 L804.6,1247.6 L805.4,1250.3 L806.1,1253.3 L806.9,1257.1 L807.6,1261.2 L808.4,1264.7 L808.9,1267.0 L809.1,1268.4 L809.9,1275.3 L810.6,1282.5 L811.4,1283.4 L812.1,1284.4 L812.9,1290.2 L813.6,1295.4 L813.6,1296.0 L814.4,1300.3 L815.1,1304.7 L815.9,1311.6 L816.6,1318.4 L817.4,1320.1 L818.1,1321.5 L818.3,1322.0 L818.9,1325.5 L819.6,1329.9 L820.4,1338.9 L821.1,1347.4 L821.9,1350.5 L822.6,1352.2 L822.9,1352.3 L823.4,1352.1 L824.1,1351.8 L824.9,1350.8 L825.6,1349.8 L826.4,1353.2 L827.1,1356.6 L827.9,1355.6 L828.6,1354.6 L829.4,1353.3 L830.0,1352.3 L830.1,1352.0 L830.9,1352.6 L831.6,1353.2 L832.4,1353.5 L833.1,1353.7 L833.9,1357.4 L834.6,1360.9 L835.4,1358.8 L836.1,1356.6 L836.9,1355.4 L837.0,1355.2 L837.6,1354.1 L838.4,1354.8 L839.1,1355.4 L839.9,1358.1 L840.6,1360.7 L841.4,1359.9 L842.1,1359.2 L842.9,1357.1 L843.6,1355.1 L844.1,1354.7 L844.4,1354.4 L845.1,1353.8 L845.9,1355.1 L846.6,1356.5 L847.4,1358.4 L848.1,1360.3 L848.9,1359.9 L849.6,1359.5 L850.4,1359.9 L851.1,1360.2 L851.1,1360.2 L851.9,1361.6 L852.6,1363.1 L853.4,1362.7 L854.1,1362.3 L854.9,1362.1 L855.6,1361.8 L856.4,1361.8 L857.1,1361.7 L857.9,1362.9 L858.1,1363.2 L858.6,1363.9 L859.4,1364.6 L860.1,1365.3 L860.9,1367.1 L861.6,1369.0 L862.4,1369.0 L863.1,1368.9 L863.9,1367.7 L864.6,1366.4 L865.2,1368.6 L865.4,1369.4 L866.1,1372.3 L866.9,1368.6 L867.6,1364.9 L868.4,1368.1 L869.1,1371.3 L869.9,1367.8 L870.6,1364.3 L871.4,1365.5 L872.1,1366.8 L872.2,1367.0 L872.9,1368.6 L873.6,1370.5 L874.4,1370.7 L875.1,1370.9 L875.9,1368.4 L876.6,1366.0 L877.4,1367.5 L878.1,1369.1 L878.9,1367.3 L879.3,1366.4 L879.6,1365.4 L880.4,1366.4 L881.1,1367.1 L881.9,1367.2 L882.6,1367.4 L883.4,1365.4 L884.0,1364.1 L884.1,1363.8 L884.9,1367.3 L885.6,1371.4 L886.4,1371.2 L887.1,1371.3 L887.9,1373.3 L888.6,1375.5 L889.4,1375.3 L890.1,1375.0 L890.9,1377.1 L891.0,1377.4 L891.6,1379.0 L892.4,1380.9 L893.1,1383.0 L893.9,1385.2 L894.6,1387.3 L895.4,1388.2 L896.1,1388.8 L896.9,1387.8 L897.6,1386.4 L898.0,1386.1 L898.4,1385.8 L899.1,1384.7 L899.9,1383.4 L900.6,1381.9 L901.4,1386.0 L902.1,1390.0 L902.9,1387.4 L903.6,1385.0 L904.4,1384.9 L905.1,1385.2 L905.1,1385.2 L905.9,1382.9 L906.6,1380.8 L907.4,1384.8 L908.1,1388.9 L908.9,1387.3 L909.6,1385.7 L910.4,1385.8 L911.1,1385.9 L911.9,1384.9 L912.1,1384.6 L912.6,1383.7 L913.4,1382.1 L914.1,1380.3 L914.9,1383.1 L915.6,1385.8 L916.4,1384.3 L917.1,1382.8 L917.9,1382.3 L918.6,1381.9 L919.2,1380.4 L919.4,1379.8 L920.1,1377.8 L920.9,1377.1 L921.6,1376.4 L922.4,1378.3 L923.1,1380.1 L923.9,1383.7 L924.6,1387.3 L925.4,1389.3 L926.1,1391.3 L926.2,1391.0 L926.9,1387.6 L927.6,1383.9 L928.4,1384.6 L929.1,1385.4 L929.9,1383.7 L930.6,1382.0 L931.4,1383.1 L932.1,1384.2 L932.9,1386.5 L933.2,1387.7 L933.6,1388.9 L934.4,1387.6 L935.1,1386.3 L935.9,1388.1 L936.6,1389.9 L937.4,1392.1 L938.1,1394.3 L938.9,1392.5 L939.6,1390.6 L940.0,1390.0 L940.4,1389.3 L941.1,1388.0 L941.9,1392.6 L942.6,1397.2 L943.4,1395.8 L944.1,1394.4 L944.9,1394.0 L945.6,1393.5 L946.4,1393.9 L947.1,1394.3 L947.9,1393.6 L948.6,1393.0 L949.4,1394.6 L950.1,1396.1 L950.9,1393.1 L951.6,1390.0 L952.4,1392.3 L953.1,1394.5 L953.9,1392.9 L954.6,1391.2 L955.4,1393.1 L956.1,1395.0 L956.9,1396.2 L957.6,1397.4 L958.4,1396.3 L959.1,1395.2 L959.9,1398.3 L960.6,1401.4 L961.4,1398.8 L962.1,1396.1 L962.9,1395.2 L963.6,1394.3 L964.4,1396.0 L965.1,1397.7 L965.9,1397.7 L966.6,1397.7 L967.4,1397.9 L968.1,1398.2 L968.9,1397.9 L969.6,1397.6 L970.4,1397.5 L971.1,1397.4 L971.9,1399.1 L972.6,1400.8 L973.4,1397.0 L974.1,1393.1 L974.9,1396.9 L975.6,1400.8 L976.4,1398.8 L976.5,1398.5 L977.1,1396.9 L977.9,1397.8 L978.6,1398.7 L979.4,1397.6 L980.1,1396.5 L980.9,1400.0 L981.6,1403.5 L982.4,1398.5 L983.1,1393.5 L983.9,1394.9 L984.6,1396.4 L985.4,1397.8 L986.1,1399.2 L986.9,1401.1 L987.6,1403.0 L988.4,1400.0 L989.1,1397.1 L989.9,1400.1 L990.6,1403.1 L991.4,1404.2 L992.1,1405.2 L992.9,1402.3 L993.6,1399.4 L994.4,1397.0 L995.1,1394.6 L995.9,1399.9 L996.6,1405.2 L997.4,1403.9 L998.1,1402.6 L998.9,1402.9 L999.6,1403.2 L1000.4,1405.2 L1001.1,1407.2 L1001.9,1406.8 L1002.6,1406.5 L1003.4,1404.6 L1004.1,1402.7 L1004.9,1403.9 L1005.6,1405.2 L1006.4,1403.8 L1007.1,1402.3 L1007.9,1404.5 L1008.6,1406.7 L1009.4,1406.0 L1010.1,1405.4 L1010.9,1406.4 L1011.6,1407.4 L1012.4,1405.8 L1013.1,1404.1 L1013.9,1405.6 L1014.6,1407.0 L1015.4,1407.3 L1016.1,1407.6 L1016.9,1408.1 L1017.6,1408.5 L1018.4,1407.9 L1019.1,1407.2 L1019.9,1404.0 L1020.6,1400.8 L1021.4,1404.8 L1022.1,1408.8 L1022.9,1406.3 L1023.6,1403.7 L1024.4,1407.2 L1025.1,1410.7 L1025.9,1409.1 L1026.6,1407.5 L1027.4,1407.6 L1028.1,1407.6 L1028.9,1406.7 L1029.6,1405.7 L1030.4,1409.4 L1031.1,1413.1 L1031.3,1412.4 L1031.9,1409.2 L1032.6,1405.3 L1033.4,1408.6 L1034.1,1412.0 L1034.9,1412.3 L1035.6,1412.7 L1036.4,1415.0 L1037.1,1417.3 L1037.9,1414.5 L1038.6,1411.7 L1039.4,1409.4 L1040.1,1407.1 L1040.9,1405.7 L1041.6,1404.4 L1042.4,1404.6 L1043.1,1404.8 L1043.9,1403.6 L1044.6,1402.4 L1045.4,1406.7 L1046.1,1411.1 L1046.9,1409.4 L1047.6,1407.7 L1048.4,1405.4 L1049.1,1403.1 L1049.9,1405.9 L1050.6,1408.7 L1051.4,1407.6 L1052.1,1406.5 L1052.9,1407.8 L1053.6,1409.2 L1054.4,1408.0 L1055.1,1406.9 L1055.9,1404.5 L1056.6,1402.2 L1057.4,1404.0 L1058.1,1405.9 L1058.9,1407.0 L1059.6,1408.0 L1060.4,1406.7 L1061.1,1405.3 L1061.9,1405.2 L1062.6,1405.1 L1063.4,1403.0 L1064.1,1400.8 L1064.9,1401.6 L1065.6,1402.5 L1066.4,1403.5 L1067.1,1404.5 L1067.8,1405.4 L1067.9,1405.6 L1068.6,1406.6 L1069.4,1404.4 L1070.1,1402.2 L1070.9,1402.4 L1071.6,1402.7 L1072.4,1406.5 L1073.1,1410.3 L1073.9,1405.4 L1074.6,1400.5 L1075.4,1401.6 L1076.1,1402.7 L1076.9,1401.4 L1077.6,1400.2 L1078.4,1401.6 L1079.1,1403.1 L1079.9,1404.2 L1080.6,1405.4 L1081.4,1405.4 L1082.1,1405.3 L1082.9,1404.6 L1083.6,1403.9 L1084.4,1405.1 L1085.1,1406.4 L1085.9,1404.3 L1086.6,1402.3 L1087.4,1403.2 L1088.1,1404.2 L1088.9,1401.5 L1089.6,1398.9 L1090.4,1401.9 L1091.1,1405.0 L1091.9,1402.4 L1092.6,1399.7 L1093.4,1402.6 L1094.1,1405.5 L1094.9,1401.8 L1095.6,1398.1 L1096.4,1400.2 L1097.1,1402.2 L1097.9,1402.1 L1098.6,1402.0 L1099.4,1401.9 L1100.1,1401.8 L1100.9,1401.1 L1101.6,1400.3 L1102.4,1402.9 L1103.1,1405.5 L1103.9,1403.6 L1104.3,1402.6 L1104.6,1401.7 L1105.4,1399.2 L1106.1,1396.7 L1106.9,1397.6 L1107.6,1398.5 L1108.4,1401.2 L1109.1,1403.8 L1109.9,1400.4 L1110.6,1397.0 L1111.4,1401.1 L1112.1,1405.2 L1112.9,1401.7 L1113.6,1398.2 L1114.4,1395.8 L1115.1,1393.5 L1115.9,1397.6 L1116.6,1401.7 L1117.4,1398.8 L1118.1,1395.9 L1118.9,1391.5 L1119.6,1387.0 L1120.4,1392.7 L1121.1,1398.4 L1121.9,1396.3 L1122.6,1394.1 L1123.4,1396.3 L1124.1,1398.5 L1124.9,1399.2 L1125.6,1399.9 L1126.4,1400.0 L1127.1,1400.1 L1127.9,1398.4 L1128.6,1396.7 L1129.4,1394.5 L1130.1,1392.3 L1130.9,1396.7 L1131.6,1401.2 L1132.4,1399.2 L1133.1,1397.3 L1133.9,1397.2 L1134.6,1397.1 L1135.4,1394.6 L1136.1,1392.0 L1136.9,1393.3 L1137.6,1394.6 L1138.4,1395.9 L1139.1,1397.2 L1139.9,1396.6 L1140.6,1396.1 L1140.8,1396.2 L1141.4,1396.6 L1142.1,1397.2 L1142.9,1395.4 L1143.6,1393.7 L1144.4,1392.6 L1145.1,1391.5 L1145.9,1394.7 L1146.6,1398.0 L1147.4,1397.3 L1148.1,1396.6 L1148.9,1398.6 L1149.6,1400.6 L1150.4,1401.1 L1151.1,1401.6 L1151.9,1399.4 L1152.6,1397.1 L1153.4,1396.9 L1154.1,1396.7 L1154.9,1399.4 L1155.6,1402.1 L1156.4,1401.6 L1157.1,1401.1 L1157.9,1398.4 L1158.6,1395.7 L1159.4,1400.1 L1160.1,1404.5 L1160.9,1402.2 L1161.6,1399.8 L1162.4,1399.2 L1163.1,1398.7 L1163.9,1397.0 L1164.6,1395.3 L1165.4,1396.9 L1166.1,1398.4 L1166.9,1400.0 L1167.6,1401.5 L1168.4,1401.3 L1169.1,1401.1 L1169.9,1402.8 L1170.6,1404.5 L1171.4,1403.9 L1172.1,1403.3 L1172.9,1400.3 L1173.6,1397.3 L1174.4,1398.5 L1175.1,1399.7 L1175.9,1399.5 L1176.6,1399.3 L1177.3,1398.8 L1177.4,1398.7 L1178.1,1398.1 L1178.9,1398.1 L1179.6,1398.1 L1180.4,1397.8 L1181.1,1397.5 L1181.9,1397.4 L1182.6,1397.4 L1183.4,1398.7 L1184.1,1400.0 L1184.9,1400.7 L1185.6,1401.4 L1186.4,1402.7 L1187.1,1404.1 L1187.9,1400.8 L1188.6,1397.6 L1189.4,1398.1 L1190.1,1398.5 L1190.9,1394.5 L1191.6,1390.4 L1192.4,1395.0 L1193.1,1399.6 L1193.9,1400.1 L1194.6,1400.7 L1195.4,1399.5 L1196.1,1398.4 L1196.9,1399.2 L1197.6,1400.1 L1198.4,1398.8 L1199.1,1397.4 L1199.9,1397.5 L1200.6,1397.5 L1201.4,1396.5 L1202.1,1395.4 L1202.9,1395.9 L1203.6,1396.4 L1204.4,1395.2 L1205.1,1393.9 L1205.9,1398.6 L1206.6,1403.3 L1207.4,1402.8 L1208.1,1402.2 L1208.9,1401.0 L1209.6,1399.8 L1210.4,1399.4 L1211.1,1399.1 L1211.9,1401.6 L1212.6,1404.1 L1213.4,1402.6 L1214.1,1401.0 L1214.9,1399.1 L1215.6,1397.2 L1216.4,1398.3 L1217.1,1399.5 L1217.9,1399.9 L1218.6,1400.3 L1219.4,1400.1 L1220.1,1400.0 L1220.9,1400.0 L1221.6,1400.1 L1222.4,1396.9 L1223.1,1393.8 L1223.9,1395.2 L1224.6,1396.5 L1225.4,1394.6 L1226.1,1392.6 L1226.9,1396.2 L1227.6,1399.8 L1228.4,1398.6 L1229.1,1397.5 L1229.9,1396.1 L1230.6,1394.7 L1231.4,1400.0 L1232.1,1404.9 L1232.1,1405.4 L1232.9,1403.9 L1233.6,1402.5 L1234.4,1399.7 L1235.1,1396.9 L1235.9,1398.9 L1236.6,1400.9 L1237.4,1398.6 L1238.1,1396.3 L1238.9,1398.6 L1239.6,1401.0 L1240.4,1400.7 L1241.1,1400.4 L1241.9,1398.3 L1242.6,1396.2 L1243.4,1397.8 L1244.1,1399.5 L1244.9,1401.3 L1245.6,1403.1 L1246.4,1401.8 L1247.1,1400.5 L1247.9,1397.0 L1248.6,1393.6 L1249.4,1396.0 L1250.1,1398.4 L1250.9,1398.9 L1251.6,1399.4 L1252.4,1398.5 L1253.1,1397.6 L1253.9,1398.9 L1254.6,1400.2 L1255.4,1397.3 L1256.1,1394.5 L1256.9,1391.9 L1257.6,1389.2 L1258.4,1395.2 L1259.1,1401.2 L1259.9,1397.0 L1260.6,1392.8 L1261.4,1394.3 L1262.1,1395.8 L1262.9,1393.6 L1263.6,1391.3 L1264.4,1395.0 L1265.1,1398.6 L1265.9,1395.7 L1266.6,1392.7 L1267.4,1394.6 L1268.1,1396.4 L1268.6,1396.3 L1268.9,1396.2 L1269.6,1396.0 L1270.4,1398.3 L1271.1,1400.6 L1271.9,1401.3 L1272.6,1402.0 L1273.4,1400.2 L1274.1,1398.5 L1274.9,1398.9 L1275.6,1399.3 L1276.4,1398.1 L1277.1,1396.9 L1277.9,1396.9 L1278.6,1396.8 L1279.4,1395.1 L1280.1,1393.4 L1280.9,1395.6 L1281.6,1397.8 L1282.4,1393.9 L1283.1,1389.9 L1283.9,1394.4 L1284.6,1398.9 L1285.4,1397.7 L1286.1,1396.5 L1286.9,1396.3 L1287.6,1396.1 L1288.4,1398.0 L1289.1,1399.8 L1289.9,1395.2 L1290.6,1390.5 L1291.4,1391.9 L1292.1,1393.4 L1292.9,1395.7 L1293.6,1398.1 L1294.4,1396.8 L1295.1,1395.4 L1295.9,1396.9 L1296.6,1398.3 L1297.4,1397.1 L1298.1,1395.8 L1298.9,1394.4 L1299.6,1393.0 L1300.4,1395.5 L1301.1,1398.0 L1301.9,1397.7 L1302.6,1397.4 L1303.4,1397.9 L1304.1,1398.5 L1304.9,1398.5 L1305.1,1398.5 L1305.6,1398.5 L1306.4,1400.9 L1307.1,1403.3 L1307.9,1398.7 L1308.6,1394.1 L1309.4,1394.8 L1310.1,1395.4 L1310.9,1398.7 L1311.6,1402.0 L1312.4,1398.5 L1313.1,1395.0 L1313.9,1396.6 L1314.6,1398.2 L1315.4,1399.9 L1316.1,1401.6 L1316.9,1400.6 L1317.6,1399.6 L1318.4,1399.9 L1319.1,1400.2 L1319.9,1399.5 L1320.6,1398.8 L1321.4,1396.2 L1322.1,1393.6 L1322.9,1397.7 L1323.6,1401.8 L1324.4,1402.1 L1325.1,1402.5 L1325.9,1402.0 L1326.6,1401.5 L1327.4,1400.3 L1328.1,1399.1 L1328.9,1400.2 L1329.6,1401.4 L1330.4,1402.3 L1331.1,1403.2 L1331.9,1401.6 L1332.6,1400.0 L1333.4,1400.0 L1334.1,1399.9 L1334.9,1399.1 L1335.6,1398.3 L1336.4,1400.8 L1337.1,1403.3 L1337.9,1400.7 L1338.6,1398.2 L1339.4,1399.4 L1340.1,1400.7 L1340.9,1403.6 L1341.6,1406.4 L1341.6,1406.5 L1342.4,1401.3 L1343.1,1396.1 L1343.9,1398.1 L1344.6,1400.1 L1345.4,1402.8 L1346.1,1405.5 L1346.9,1403.7 L1347.6,1401.9 L1348.4,1404.2 L1349.1,1406.5 L1349.9,1402.8 L1350.6,1399.2 L1351.4,1399.6 L1352.1,1400.1 L1352.9,1403.3 L1353.6,1406.6 L1354.4,1403.3 L1355.1,1400.0 L1355.9,1401.6 L1356.6,1403.3 L1357.4,1402.8 L1358.1,1402.4 L1358.9,1405.0 L1359.6,1407.6 L1360.4,1403.7 L1361.1,1399.9 L1361.9,1401.8 L1362.6,1403.7 L1363.4,1405.0 L1364.1,1406.2 L1364.9,1406.9 L1365.6,1407.6 L1366.4,1405.9 L1367.1,1404.1 L1367.9,1405.2 L1368.6,1406.3 L1369.4,1404.1 L1370.1,1401.9 L1370.9,1405.9 L1371.6,1410.0 L1372.4,1407.8 L1373.1,1405.6 L1373.9,1406.1 L1374.6,1406.7 L1375.4,1408.3 L1376.1,1409.9 L1376.9,1407.6 L1377.6,1405.3 L1378.1,1405.0 L1378.4,1404.9 L1379.1,1404.6 L1379.9,1405.7 L1380.6,1406.9 L1381.4,1407.9 L1382.1,1408.9 L1382.9,1404.6 L1383.6,1400.3 L1384.4,1399.9 L1385.1,1399.5 L1385.9,1403.2 L1386.6,1406.8 L1387.4,1405.6 L1388.1,1404.4 L1388.9,1404.8 L1389.6,1405.2 L1390.4,1408.3 L1391.1,1411.5 L1391.9,1408.0 L1392.6,1404.6 L1393.4,1404.8 L1394.1,1405.0 L1394.9,1407.2 L1395.6,1409.3 L1396.4,1406.1 L1397.1,1402.9 L1397.9,1404.5 L1398.6,1406.0 L1399.4,1405.5 L1400.1,1405.0 L1400.9,1405.6 L1401.6,1406.2 L1402.4,1406.4 L1403.1,1406.5 L1403.9,1404.3 L1404.6,1402.1 L1405.4,1403.2 L1406.1,1404.4 L1406.9,1404.2 L1407.6,1404.0 L1408.4,1402.8 L1409.1,1401.7 L1409.9,1404.4 L1410.6,1407.2 L1411.4,1405.5 L1412.1,1403.8 L1412.9,1403.0 L1413.6,1402.2 L1414.4,1401.5 L1414.6,1401.3 L1415.1,1400.8 L1415.9,1402.6 L1416.6,1404.3 L1417.4,1403.2 L1418.1,1402.1 L1418.9,1404.5 L1419.6,1406.9 L1420.4,1407.8 L1421.1,1408.7 L1421.9,1406.4 L1422.6,1404.1 L1423.4,1403.7 L1424.1,1403.3 L1424.9,1403.7 L1425.6,1404.1 L1426.4,1405.8 L1427.1,1407.6 L1427.9,1405.3 L1428.6,1403.1 L1429.4,1405.0 L1430.1,1407.0 L1430.9,1405.1 L1431.6,1403.2 L1432.4,1400.4 L1433.1,1397.6 L1433.9,1403.8 L1434.6,1410.1 L1435.4,1408.8 L1436.1,1407.5 L1436.9,1405.8 L1437.6,1404.1 L1438.4,1404.6 L1439.1,1405.2 L1439.9,1405.2 L1440.6,1405.2 L1441.4,1407.5 L1442.1,1409.7 L1442.9,1406.6 L1443.6,1403.4 L1444.4,1404.4 L1445.1,1405.3 L1445.9,1404.4 L1446.6,1403.5 L1447.4,1403.0 L1448.1,1402.4 L1448.9,1404.0 L1449.6,1405.6 L1450.4,1405.6 L1451.1,1405.6 L1451.1,1405.6 L1451.9,1404.0 L1452.6,1402.5 L1453.4,1407.0 L1454.1,1411.5 L1454.9,1403.3 L1455.6,1395.1 L1456.4,1401.8 L1457.1,1408.5 L1457.9,1404.4 L1458.6,1400.3 L1459.4,1400.9 L1460.1,1401.4 L1460.9,1403.6 L1461.6,1405.8 L1462.4,1406.3 L1463.1,1406.7 L1463.9,1407.4 L1464.6,1408.1 L1465.4,1403.7 L1466.1,1399.3 L1466.9,1404.8 L1467.6,1410.2 L1468.4,1405.4 L1469.1,1400.5 L1469.9,1402.6 L1470.6,1404.7 L1471.4,1406.2 L1472.1,1407.7 L1472.9,1405.7 L1473.6,1403.7 L1474.4,1403.4 L1475.1,1403.2 L1475.9,1404.6 L1476.6,1406.0 L1476.7,1405.9 L1477.4,1404.6 L1478.1,1403.1 L1478.9,1401.1 L1479.6,1399.1 L1480.0,1400.7 L1480.4,1402.5 L1481.1,1405.9 L1481.9,1405.8 L1482.6,1405.8 L1483.4,1404.9 L1484.1,1404.0 L1484.9,1403.6 L1485.6,1403.2 L1486.4,1404.3 L1487.1,1405.4 L1487.9,1405.1 L1488.6,1404.8 L1489.4,1405.1 L1490.1,1405.4 L1490.9,1404.0 L1491.6,1402.7 L1492.4,1398.9 L1493.1,1395.2 L1493.9,1399.3 L1494.6,1403.4 L1495.4,1403.2 L1496.1,1403.1 L1496.9,1403.4 L1497.6,1403.7 L1498.4,1404.6 L1499.1,1405.5 L1499.9,1400.9 L1500.6,1396.3 L1501.4,1393.8 L1502.1,1391.2 L1502.9,1397.3 L1503.6,1403.5 L1504.4,1402.9 L1505.1,1402.4 L1505.9,1401.3 L1506.6,1400.2 L1507.4,1398.1 L1508.1,1396.1 L1508.9,1400.7 L1509.6,1405.3 L1510.4,1401.9 L1511.1,1398.5 L1511.9,1402.3 L1512.6,1406.1 L1513.4,1403.3 L1514.1,1400.4 L1514.9,1401.6 L1515.6,1402.7 L1516.4,1396.7 L1516.5,1395.8 L1517.1,1390.8 L1517.9,1395.7 L1518.6,1400.6 L1519.4,1398.4 L1520.1,1396.2 L1520.9,1395.2 L1521.6,1394.1 L1522.4,1395.5 L1523.1,1396.9 L1523.9,1401.8 L1524.6,1406.6 L1525.4,1401.1 L1526.1,1395.6 L1526.9,1393.6 L1527.6,1391.6 L1528.4,1396.1 L1529.1,1400.6 L1529.9,1397.3 L1530.6,1393.9 L1531.4,1395.1 L1532.1,1396.2 L1532.9,1398.8 L1533.6,1401.5 L1534.4,1400.4 L1535.1,1399.4 L1535.9,1398.7 L1536.6,1398.0 L1537.4,1398.6 L1538.1,1399.2 L1538.9,1397.3 L1539.6,1395.3 L1540.4,1393.4 L1541.1,1391.4 L1541.9,1393.1 L1542.6,1394.9 L1543.4,1394.3 L1544.1,1393.7 L1544.9,1394.4 L1545.6,1395.1 L1545.7,1395.1 L1546.4,1395.0 L1547.1,1394.9 L1547.9,1395.9 L1548.6,1396.9 L1549.4,1397.7 L1550.1,1398.6 L1550.9,1396.3 L1551.6,1394.0 L1552.4,1394.7 L1553.1,1395.3 L1553.9,1396.5 L1554.6,1397.6 L1555.4,1399.2 L1556.1,1400.9 L1556.9,1398.7 L1557.6,1396.5 L1558.4,1394.1 L1559.1,1391.8 L1559.9,1396.7 L1560.6,1401.6 L1561.4,1398.2 L1562.1,1394.8 L1562.9,1396.5 L1563.6,1398.1 L1564.4,1398.2 L1565.1,1398.2 L1565.9,1400.1 L1566.6,1402.0 L1567.4,1398.3 L1568.1,1394.6 L1568.9,1399.7 L1569.6,1404.7 L1570.4,1402.0 L1571.1,1399.3 L1571.3,1399.8 L1571.9,1401.8 L1572.6,1404.4 L1573.4,1402.0 L1574.1,1399.7 L1574.9,1404.7 L1575.6,1409.7 L1576.4,1405.3 L1577.1,1401.0 L1577.9,1400.2 L1578.6,1399.4 L1579.4,1398.7 L1580.1,1398.0 L1580.9,1395.2 L1581.6,1392.3 L1582.4,1398.8 L1583.1,1405.3 L1583.9,1400.2 L1584.6,1395.2 L1585.4,1397.8 L1586.1,1400.3 L1586.9,1401.2 L1587.6,1402.2 L1588.4,1401.9 L1589.1,1401.7 L1589.9,1400.4 L1590.6,1399.1 L1591.4,1398.0 L1592.1,1396.9 L1592.9,1398.9 L1593.6,1400.9 L1594.4,1399.8 L1595.1,1398.6 L1595.9,1396.2 L1596.6,1393.9 L1596.8,1394.1 L1597.4,1394.8 L1598.1,1395.8 L1598.9,1398.4 L1599.6,1401.0 L1600.4,1401.5 L1601.1,1402.0 L1601.9,1396.7 L1602.6,1391.4 L1603.4,1395.9 L1604.1,1400.4 L1604.9,1399.6 L1605.6,1398.8 L1606.4,1400.8 L1607.1,1402.8 L1607.9,1401.6 L1608.6,1400.4 L1609.4,1400.0 L1610.1,1399.7 L1610.9,1401.7 L1611.6,1403.7 L1612.4,1404.1 L1613.1,1404.5 L1613.9,1404.8 L1614.6,1405.0 L1615.4,1403.3 L1616.1,1401.6 L1616.9,1402.5 L1617.6,1403.4 L1618.4,1405.6 L1619.1,1407.7 L1619.9,1404.8 L1620.6,1401.9 L1621.4,1401.0 L1622.1,1400.1 L1622.9,1402.0 L1623.6,1404.0 L1624.4,1401.8 L1625.1,1399.7 L1625.9,1402.6 L1626.0,1403.2 L1626.6,1405.6 L1627.4,1402.8 L1628.1,1400.0 L1628.9,1400.7 L1629.6,1401.5 L1630.4,1403.7 L1631.1,1406.0 L1631.9,1402.7 L1632.6,1399.3 L1633.4,1400.1 L1634.1,1400.9 L1634.9,1402.0 L1635.6,1403.0 L1636.4,1402.8 L1637.1,1402.6 L1637.9,1399.7 L1638.6,1396.7 L1639.4,1400.3 L1640.1,1403.9 L1640.9,1402.0 L1641.6,1400.1 L1642.4,1400.5 L1643.1,1400.8 L1643.9,1401.6 L1644.6,1402.4 L1645.4,1402.4 L1646.1,1402.4 L1646.9,1401.4 L1647.6,1400.4 L1648.4,1401.3 L1649.1,1402.2 L1649.9,1401.1 L1650.6,1400.0 L1651.4,1397.5 L1652.1,1395.0 L1652.9,1394.9 L1653.6,1394.8 L1654.4,1395.4 L1655.1,1396.0 L1655.2,1396.0 L1655.9,1395.9 L1656.6,1395.7 L1657.4,1396.7 L1658.1,1397.8 L1658.9,1394.8 L1659.6,1391.8 L1660.4,1395.6 L1661.1,1399.4 L1661.9,1400.5 L1662.6,1401.6 L1663.4,1401.8 L1664.1,1401.9 L1664.9,1400.9 L1665.6,1399.9 L1666.4,1398.2 L1667.1,1396.6 L1667.9,1401.9 L1668.6,1407.3 L1669.4,1402.9 L1670.1,1398.5 L1670.9,1399.1 L1671.6,1399.7 L1672.4,1400.7 L1673.1,1401.7 L1673.9,1399.4 L1674.6,1397.2 L1675.4,1397.6 L1676.1,1398.1 L1676.9,1400.4 L1677.6,1402.8 L1678.4,1404.6 L1679.1,1406.4 L1679.9,1404.3 L1680.6,1402.1 L1681.4,1403.6 L1682.1,1405.1 L1682.9,1405.4 L1683.6,1405.7 L1684.4,1405.4 L1684.5,1405.4 L1685.1,1405.1 L1685.9,1403.4 L1686.6,1401.8 L1687.4,1405.0 L1688.1,1408.2 L1688.9,1406.4 L1689.6,1404.6 L1690.4,1403.5 L1691.1,1402.4 L1691.9,1402.4 L1692.6,1402.3 L1693.4,1405.7 L1694.1,1409.1 L1694.9,1407.7 L1695.4,1406.8 L1695.6,1406.3 L1696.4,1405.1 L1697.1,1403.8 L1697.9,1406.4 L1698.6,1408.9 L1699.4,1408.4 L1700.1,1407.9 L1700.9,1406.5 L1701.6,1405.1 L1702.4,1403.0 L1703.1,1400.8 L1703.9,1402.3 L1704.6,1403.8 L1705.4,1404.2 L1706.1,1404.5 L1706.9,1402.2 L1707.6,1399.9 L1708.4,1405.1 L1709.1,1410.3 L1709.9,1405.8 L1710.6,1401.3 L1711.4,1399.5 L1712.1,1397.7 L1712.9,1396.5 L1713.6,1395.3 L1714.4,1399.2 L1715.1,1403.0 L1715.9,1400.8 L1716.6,1398.6 L1717.3,1398.5 L1717.4,1398.4 L1718.1,1398.3 L1718.9,1396.8 L1719.6,1395.3 L1720.4,1397.1 L1721.1,1398.9 L1721.9,1397.9 L1722.6,1396.8 L1723.4,1394.1 L1724.1,1391.3 L1724.9,1391.8 L1725.6,1392.3 L1726.4,1390.4 L1727.1,1388.5 L1727.9,1390.7 L1728.6,1392.9 L1729.4,1391.6 L1730.1,1390.3 L1730.9,1391.3 L1731.6,1392.3 L1732.4,1391.2 L1733.1,1390.1 L1733.9,1390.0 L1734.6,1390.0 L1735.4,1385.4 L1736.1,1380.9 L1736.9,1382.1 L1737.6,1383.4 L1738.4,1382.4 L1739.1,1381.4 L1739.9,1380.7 L1740.6,1379.9 L1741.4,1380.7 L1742.1,1381.5 L1742.9,1384.2 L1742.9,1384.3 L1743.6,1387.1 L1744.4,1386.7 L1745.1,1386.3 L1745.9,1387.2 L1746.6,1388.2 L1747.4,1386.7 L1748.1,1385.2 L1748.9,1385.1 L1749.6,1385.0 L1750.4,1383.6 L1751.1,1382.2 L1751.9,1382.2 L1752.6,1382.1 L1753.4,1382.0 L1754.1,1381.9 L1754.9,1381.1 L1755.6,1380.3 L1756.4,1379.5 L1757.1,1378.7 L1757.9,1380.9 L1758.6,1383.1 L1759.4,1385.0 L1760.1,1386.8 L1760.9,1383.0 L1761.6,1379.3 L1762.4,1378.9 L1763.1,1378.5 L1763.9,1381.9 L1764.6,1385.4 L1764.8,1385.0 L1765.4,1383.4 L1766.1,1381.5 L1766.9,1378.9 L1767.6,1376.4 L1768.4,1378.5 L1769.1,1380.7 L1769.9,1377.1 L1770.6,1373.5 L1771.4,1377.4 L1772.1,1381.4 L1772.9,1380.1 L1773.6,1378.8 L1774.4,1377.3 L1775.1,1375.7 L1775.9,1377.7 L1776.6,1379.7 L1777.4,1378.4 L1778.1,1377.1 L1778.9,1379.8 L1779.6,1382.4 L1780.4,1378.9 L1781.1,1375.3 L1781.9,1376.8 L1782.6,1378.3 L1783.0,1377.0 L1783.4,1375.7 L1784.1,1373.1 L1784.9,1374.8 L1785.6,1376.5 L1786.4,1376.5 L1787.1,1376.5 L1787.9,1376.2 L1788.6,1375.8 L1789.4,1375.4 L1790.1,1375.0 L1790.9,1371.0 L1791.6,1366.9 L1792.4,1371.0 L1793.1,1375.2 L1793.9,1374.2 L1794.6,1373.3 L1795.4,1369.9 L1796.1,1366.5 L1796.9,1366.3 L1797.6,1366.1 L1798.4,1366.5 L1799.1,1367.0 L1799.9,1362.2 L1800.6,1357.4 L1801.3,1358.9 L1801.4,1359.1 L1802.1,1360.8 L1802.9,1361.2 L1803.6,1361.6 L1804.4,1361.1 L1805.1,1360.6 L1805.9,1359.9 L1806.6,1359.2 L1807.4,1355.9 L1808.1,1352.7 L1808.9,1355.4 L1809.6,1358.0 L1810.4,1357.4 L1811.1,1356.7 L1811.9,1355.3 L1812.6,1353.9 L1813.4,1351.7 L1814.1,1349.4 L1814.9,1348.1 L1815.6,1346.8 L1816.4,1347.7 L1817.1,1348.5 L1817.9,1348.8 L1818.6,1349.2 L1819.4,1346.4 L1819.5,1345.8 L1820.1,1343.6 L1820.9,1344.1 L1821.6,1344.6 L1822.4,1345.6 L1823.1,1346.6 L1823.9,1346.0 L1824.6,1345.3 L1825.4,1342.8 L1826.1,1340.3 L1826.9,1338.0 L1827.6,1335.8 L1828.4,1338.1 L1829.1,1340.4 L1829.9,1337.7 L1830.6,1335.1 L1831.4,1335.2 L1832.1,1335.4 L1832.9,1338.7 L1833.6,1342.2 L1834.1,1341.7 L1834.4,1341.5 L1835.1,1341.1 L1835.9,1339.2 L1836.6,1337.5 L1837.4,1339.7 L1838.1,1342.0 L1838.9,1343.1 L1839.6,1344.2 L1840.4,1345.7 L1841.1,1347.0 L1841.9,1348.5 L1842.6,1349.8 L1842.8,1349.6 L1843.4,1348.4 L1844.1,1346.3 L1844.9,1340.3 L1845.6,1333.9 L1846.4,1335.5 L1847.1,1336.9 L1847.9,1333.1 L1848.6,1329.4 L1849.4,1327.4 L1849.8,1326.5 L1850.1,1325.7 L1850.9,1324.2 L1851.6,1322.8 L1852.4,1321.0 L1853.1,1319.2 L1853.9,1317.4 L1854.6,1315.5 L1855.4,1316.0 L1856.1,1316.3 L1856.7,1314.7 L1856.9,1314.3 L1857.6,1311.9 L1858.4,1309.7 L1859.1,1307.3 L1859.9,1303.2 L1860.6,1298.9 L1861.4,1295.1 L1862.1,1291.1 L1862.9,1286.6 L1863.6,1281.9 L1863.7,1281.2 L1864.4,1275.2 L1865.1,1268.2 L1865.9,1267.1 L1866.6,1265.7 L1867.4,1258.3 L1868.1,1250.7 L1868.9,1245.1 L1869.0,1244.7 L1869.6,1239.1 L1870.4,1229.9 L1871.1,1220.2 L1871.9,1213.9 L1872.6,1207.4 L1873.4,1205.1 L1874.1,1203.0 L1874.2,1202.3 L1874.9,1190.1 L1875.6,1177.0 L1876.4,1171.0 L1877.1,1165.2 L1877.9,1158.2 L1878.6,1151.5 L1879.4,1143.5 L1879.4,1143.3 L1880.1,1135.8 L1880.9,1127.3 L1881.6,1119.0 L1882.4,1113.2 L1883.1,1108.0 L1883.9,1103.7 L1884.6,1100.4 L1884.6,1100.3 L1885.4,1095.2 L1886.1,1090.1 L1886.9,1085.0 L1887.6,1080.4 L1888.4,1078.3 L1889.1,1077.0 L1889.9,1080.5 L1889.9,1080.5 L1890.6,1084.7 L1891.4,1083.7 L1892.1,1082.8 L1892.9,1083.4 L1893.6,1084.0 L1894.4,1085.1 L1895.1,1086.1 L1895.1,1086.2 L1895.9,1085.9 L1896.6,1085.8 L1897.4,1084.9 L1898.1,1084.2 L1898.9,1090.6 L1899.6,1097.3 L1900.3,1095.2 L1900.4,1095.1 L1901.1,1093.8 L1901.9,1098.7 L1902.6,1104.5 L1903.4,1109.6 L1904.1,1114.8 L1904.9,1121.6 L1905.6,1127.3 L1905.6,1127.8 L1906.4,1129.8 L1907.1,1131.9 L1907.9,1134.4 L1908.6,1136.8 L1909.4,1141.0 L1910.1,1144.9 L1910.9,1149.1 L1911.6,1152.8 L1912.4,1157.8 L1912.6,1158.8 L1913.1,1162.2 L1913.9,1164.3 L1914.6,1166.3 L1915.4,1165.2 L1916.1,1164.0 L1916.9,1164.6 L1917.6,1164.9 L1918.4,1167.2 L1919.1,1169.2 L1919.5,1168.8 L1919.9,1168.4 L1920.6,1167.3 L1921.4,1165.7 L1922.1,1164.0 L1922.9,1162.8 L1923.6,1161.6 L1924.4,1162.6 L1924.8,1163.1 L1925.1,1163.4 L1925.9,1162.9 L1926.6,1161.5 L1927.4,1158.2 L1928.1,1154.6 L1928.9,1150.4 L1929.6,1146.5 L1930.0,1144.1 L1930.4,1141.6 L1931.1,1137.1 L1931.9,1137.6 L1932.6,1138.0 L1933.4,1130.5 L1934.1,1122.5 L1934.9,1122.4 L1935.2,1122.1 L1935.6,1121.3 L1936.4,1115.3 L1937.1,1107.3 L1937.9,1094.4 L1938.6,1080.4 L1939.4,1067.6 L1940.1,1054.6 L1940.5,1051.4 L1940.9,1046.9 L1941.6,1038.3 L1942.4,1021.5 L1943.1,1003.7 L1943.9,988.2 L1944.6,972.0 L1945.4,957.9 L1945.7,952.0 L1946.1,943.2 L1946.9,923.4 L1947.6,902.7 L1948.4,879.9 L1949.1,856.5 L1949.9,837.5 L1950.6,818.3 L1950.9,810.0 L1951.4,795.7 L1952.1,770.1 L1952.9,746.2 L1953.6,725.3 L1954.4,709.2 L1954.4,708.9 L1955.1,697.8 L1955.9,681.7 L1956.6,667.1 L1957.4,661.1 L1958.1,658.2 L1958.6,659.6 L1958.9,661.5 L1959.6,670.6 L1960.4,678.4 L1961.1,688.6 L1961.9,701.7 L1962.1,705.0 L1962.6,714.8 L1963.4,729.1 L1964.1,745.3 L1964.9,765.6 L1965.6,786.4 L1966.4,803.6 L1966.6,808.9 L1967.1,820.6 L1967.9,841.1 L1968.6,862.1 L1969.4,882.3 L1970.1,902.6 L1970.9,922.1 L1971.6,941.3 L1971.9,946.8 L1972.4,960.6 L1973.1,981.1 L1973.9,1003.0 L1974.6,1024.6 L1975.4,1046.6 L1976.1,1066.7 L1976.9,1082.8 L1977.1,1086.5 L1977.6,1096.1 L1978.4,1109.9 L1979.1,1122.7 L1979.9,1132.3 L1980.6,1141.0 L1981.4,1149.5 L1982.1,1157.0 L1982.3,1158.2 L1982.9,1161.9 L1983.6,1166.7 L1984.4,1173.6 L1985.1,1179.9 L1985.9,1184.4 L1986.6,1187.9 L1987.4,1189.8 L1987.6,1190.0 L1988.1,1190.7 L1988.9,1192.0 L1989.6,1193.1 L1990.4,1199.1 L1991.1,1205.0 L1991.9,1202.8 L1992.6,1200.3 L1992.8,1200.6 L1993.4,1201.1 L1994.1,1200.7 L1994.9,1197.2 L1995.6,1194.0 L1996.3,1192.0 L1996.4,1191.8 L1997.1,1191.5 L1997.9,1198.2 L1998.6,1206.2 L1999.4,1210.0 L2000.1,1214.0 L2000.9,1218.1 L2001.5,1220.8 L2001.6,1221.3 L2002.4,1223.2 L2003.1,1224.9 L2003.9,1230.0 L2004.6,1235.1 L2005.4,1239.7 L2006.1,1244.6 L2006.7,1248.2 L2006.9,1249.1 L2007.6,1254.2 L2008.4,1257.9 L2009.1,1261.8 L2009.9,1266.5 L2010.6,1271.1 L2011.4,1275.8 L2012.0,1279.0 L2012.1,1279.9 L2012.9,1285.0 L2013.6,1289.8 L2014.4,1291.1 L2015.1,1292.3 L2015.9,1297.0 L2016.6,1301.8 L2017.2,1302.0 L2017.4,1302.1 L2018.1,1302.6 L2018.9,1312.1 L2019.6,1321.8 L2020.4,1325.0 L2021.1,1328.2 L2021.9,1330.5 L2022.4,1332.1 L2022.6,1332.8 L2023.4,1336.5 L2024.1,1340.3 L2024.9,1346.6 L2025.6,1352.8 L2026.4,1355.5 L2027.1,1357.6 L2027.7,1359.2 L2027.9,1359.8 L2028.6,1361.6 L2029.4,1364.0 L2030.1,1366.4 L2030.9,1368.4 L2031.6,1370.3 L2032.4,1370.8 L2033.1,1371.2 L2033.9,1375.9 L2034.6,1380.5 L2034.6,1380.5 L2035.4,1377.4 L2036.1,1374.3 L2036.9,1378.5 L2037.6,1382.6 L2038.4,1383.3 L2039.1,1384.0 L2039.9,1382.5 L2040.6,1381.1 L2041.4,1385.5 L2042.1,1389.9 L2042.9,1386.8 L2043.6,1383.7 L2044.4,1386.5 L2045.1,1389.2 L2045.1,1389.3 L2045.9,1389.8 L2046.6,1390.4 L2047.4,1392.1 L2048.1,1393.8 L2048.9,1394.4 L2049.6,1395.1 L2050.4,1398.1 L2051.1,1401.0 L2051.9,1400.0 L2052.6,1398.9 L2053.4,1399.2 L2054.1,1399.5 L2054.9,1399.9 L2055.6,1400.1 L2055.6,1400.1 L2056.4,1400.6 L2057.1,1401.0 L2057.9,1399.4 L2058.6,1397.9 L2059.4,1399.9 L2060.1,1401.8 L2060.9,1401.0 L2061.6,1400.1 L2062.4,1400.3 L2063.1,1400.5 L2063.9,1399.7 L2064.6,1399.0 L2065.4,1398.8 L2066.1,1398.7 L2066.9,1398.7 L2067.6,1398.6 L2068.4,1397.5 L2069.1,1396.5 L2069.5,1397.2 L2069.9,1397.8 L2070.6,1399.2 L2071.4,1400.4 L2072.1,1401.7 L2072.9,1399.7 L2073.6,1397.7 L2074.4,1398.7 L2075.1,1399.7 L2075.9,1401.1 L2076.6,1402.4 L2077.4,1401.3 L2078.1,1400.2 L2078.9,1400.3 L2079.6,1400.3 L2080.4,1401.3 L2081.1,1402.3 L2081.9,1402.5 L2082.6,1402.7 L2083.4,1404.8 L2083.5,1405.0 L2084.1,1406.8 L2084.9,1404.5 L2085.6,1402.3 L2086.4,1403.3 L2087.1,1404.4 L2087.9,1402.6 L2088.6,1400.9 L2089.4,1402.3 L2090.1,1403.7 L2090.9,1403.8 L2091.6,1403.9 L2092.4,1403.7 L2093.1,1403.5 L2093.9,1399.2 L2094.6,1394.9 L2095.4,1396.8 L2096.1,1398.7 L2096.9,1396.9 L2097.4,1395.6 L2097.6,1395.1 L2098.4,1397.0 L2099.1,1398.9 L2099.9,1398.8 L2100.6,1398.8 L2101.4,1397.3 L2102.1,1395.8 L2102.9,1395.7 L2103.6,1395.6 L2104.4,1396.4 L2105.1,1397.3 L2105.9,1398.4 L2106.6,1399.5 L2107.4,1400.3 L2108.1,1401.1 L2108.9,1402.6 L2109.6,1404.2 L2110.4,1405.1 L2111.1,1406.0 L2111.4,1404.6 L2111.9,1401.6 L2112.6,1397.2 L2113.4,1398.9 L2114.1,1400.7 L2114.9,1399.8 L2115.6,1399.0 L2116.4,1398.9 L2117.1,1398.8 L2117.9,1396.7 L2118.6,1394.5 L2119.4,1397.2 L2120.1,1400.0 L2120.9,1399.5 L2121.6,1399.0 L2122.4,1397.1 L2123.1,1395.3 L2123.9,1396.4 L2124.6,1397.5 L2125.4,1395.7 L2126.1,1394.0 L2126.9,1391.0 L2127.6,1388.1 L2128.4,1391.0 L2128.8,1392.7 L2129.1,1393.9 L2129.9,1394.7 L2130.6,1395.4 L2131.4,1394.3 L2132.1,1393.2 L2132.9,1395.1 L2133.6,1397.0 L2134.4,1400.0 L2135.1,1403.0 L2135.9,1400.3 L2136.6,1397.6 L2137.4,1397.2 L2138.1,1396.9 L2138.9,1395.3 L2139.6,1393.8 L2140.4,1395.7 L2141.1,1397.6 L2141.9,1397.7 L2142.6,1397.8 L2143.4,1399.8 L2144.1,1401.7 L2144.9,1399.2 L2145.6,1396.7 L2146.3,1396.4 L2146.4,1396.3 L2147.1,1395.9 L2147.9,1396.0 L2148.6,1396.0 L2149.4,1399.3 L2150.1,1402.5 L2150.9,1401.9 L2151.6,1401.2 L2152.4,1398.3 L2153.1,1395.4 L2153.9,1400.6 L2154.6,1405.9 L2155.4,1399.4 L2156.1,1392.8 L2156.9,1392.7 L2157.6,1392.7 L2158.4,1394.9 L2158.5,1395.2"/>
<path stroke="#00ff00" d="M294.6,1410.6 L295.4,1407.6 L296.1,1404.9 L296.9,1401.8 L297.6,1398.6 L298.4,1396.4 L299.1,1393.9 L299.9,1390.3 L300.5,1387.1 L300.6,1386.3 L301.4,1381.4 L302.1,1375.6 L302.9,1369.2 L303.6,1362.3 L304.4,1354.9 L305.1,1347.3 L305.9,1339.4 L306.6,1331.7 L307.4,1324.8 L307.5,1323.4 L308.1,1318.0 L308.9,1310.5 L309.6,1302.6 L310.4,1295.1 L311.1,1288.2 L311.9,1282.0 L312.6,1277.4 L313.4,1274.5 L313.4,1274.4 L314.1,1272.8 L314.9,1271.7 L315.6,1270.8 L316.4,1270.5 L317.1,1270.5 L317.9,1270.4 L318.1,1270.5 L318.6,1270.7 L319.4,1270.5 L320.1,1270.5 L320.9,1270.9 L321.6,1271.3 L322.4,1272.3 L323.1,1273.3 L323.9,1273.5 L324.0,1273.5 L324.6,1273.8 L325.4,1274.7 L326.1,1275.7 L326.9,1276.6 L327.6,1277.3 L328.4,1277.4 L328.7,1277.3 L329.1,1277.1 L329.9,1276.5 L330.6,1275.5 L331.4,1274.4 L332.1,1273.1 L332.9,1271.1 L333.4,1269.7 L333.6,1268.7 L334.4,1265.0 L335.1,1259.6 L335.9,1252.9 L336.6,1246.0 L337.4,1239.5 L338.1,1234.6 L338.1,1234.0 L338.9,1228.6 L339.6,1222.8 L340.4,1217.3 L341.1,1212.5 L341.9,1208.7 L342.6,1206.5 L342.8,1206.4 L343.4,1205.8 L344.1,1205.2 L344.9,1204.6 L345.6,1204.3 L346.3,1204.2 L346.4,1204.3 L347.1,1205.5 L347.9,1208.4 L348.6,1211.8 L348.6,1212.0 L349.4,1217.5 L350.1,1226.7 L350.9,1239.2 L351.6,1251.7 L352.1,1258.5 L352.4,1261.7 L353.1,1271.3 L353.9,1281.1 L354.6,1290.8 L355.4,1300.5 L356.1,1309.5 L356.8,1316.8 L356.9,1317.4 L357.6,1324.6 L358.4,1331.6 L359.1,1338.3 L359.9,1343.9 L360.6,1349.1 L361.4,1354.9 L362.1,1360.3 L362.7,1363.8 L362.9,1365.0 L363.6,1369.7 L364.4,1373.8 L365.1,1377.8 L365.9,1382.0 L366.6,1385.9 L367.4,1389.7 L368.1,1393.1 L368.6,1394.5 L368.9,1395.6 L369.6,1398.1 L370.4,1400.6 L371.1,1403.1 L371.9,1405.2 L372.6,1407.1 L373.4,1409.0 L374.1,1410.5 L374.9,1411.7 L375.6,1412.6 L376.4,1413.3 L376.8,1413.5 L377.1,1413.5 L377.9,1412.3 L378.6,1410.5 L379.4,1408.9 L380.1,1406.9 L380.9,1404.6 L381.6,1402.3 L382.4,1399.5 L382.6,1398.5 L383.1,1396.5 L383.9,1393.9 L384.6,1390.7 L385.4,1386.1 L386.1,1381.4 L386.9,1377.6 L387.6,1374.3 L388.4,1372.1 L389.1,1371.0 L389.7,1370.1 L389.9,1369.9 L390.6,1369.5 L391.4,1370.0 L392.1,1370.6 L392.9,1371.8 L393.6,1373.1 L394.4,1373.3 L394.4,1373.3 L395.1,1373.6 L395.9,1375.1 L396.6,1376.8 L397.4,1378.8 L398.1,1380.7 L398.9,1382.2 L399.6,1383.6 L400.4,1384.6 L401.1,1385.1 L401.4,1385.1 L401.9,1385.1 L402.6,1385.0 L403.4,1385.3 L404.1,1385.5 L404.9,1385.4 L405.6,1385.3 L406.4,1385.2 L407.1,1385.1 L407.3,1385.1 L407.9,1384.7 L408.6,1383.7 L409.4,1382.5 L410.1,1381.0 L410.9,1378.9 L411.6,1376.6 L412.4,1375.1 L413.1,1373.5 L413.2,1373.4 L413.9,1370.4 L414.6,1366.8 L415.4,1363.8 L416.1,1360.4 L416.9,1356.3 L417.6,1352.0 L418.4,1346.7 L419.1,1341.4 L419.9,1337.0 L420.2,1335.2 L420.6,1332.6 L421.4,1327.9 L422.1,1323.0 L422.9,1318.1 L423.6,1313.2 L424.4,1307.7 L425.1,1302.4 L425.9,1297.9 L426.6,1293.9 L427.2,1290.9 L427.4,1290.1 L428.1,1286.9 L428.9,1284.1 L429.6,1281.5 L430.4,1279.4 L431.1,1277.4 L431.9,1274.4 L432.6,1271.3 L433.4,1268.7 L434.1,1265.8 L434.3,1265.2 L434.9,1262.5 L435.6,1259.1 L436.4,1255.7 L437.1,1252.1 L437.9,1247.6 L438.6,1242.7 L439.4,1238.3 L440.1,1233.4 L440.9,1227.1 L441.3,1223.2 L441.6,1220.0 L442.4,1211.2 L443.1,1200.5 L443.9,1187.5 L444.6,1172.6 L445.4,1155.6 L446.0,1140.1 L446.1,1136.6 L446.9,1113.7 L447.6,1084.8 L448.4,1050.2 L449.1,1009.7 L449.3,1000.3 L449.9,954.9 L450.6,885.2 L450.7,880.0 L451.4,818.1 L452.1,749.9 L452.7,700.3 L452.9,683.4 L453.6,616.4 L454.4,552.3 L454.8,521.0 L455.1,497.2 L455.9,449.2 L456.6,403.6 L456.7,400.0 L457.4,356.8 L457.7,340.6 L458.1,321.3 L458.3,317.7 L458.9,312.7 L459.1,312.1 L459.6,311.5 L460.1,311.5 L460.4,312.2 L460.9,316.1 L461.1,320.2 L461.7,339.6 L461.9,349.4 L462.6,400.4 L462.6,403.1 L463.4,448.5 L464.1,494.8 L464.5,520.0 L464.9,550.8 L465.6,617.6 L466.4,689.7 L466.5,700.2 L467.1,767.2 L467.9,848.6 L468.2,880.0 L468.6,924.8 L469.4,992.8 L469.5,1000.2 L470.1,1037.9 L470.9,1075.0 L471.6,1106.7 L472.4,1134.5 L473.1,1160.4 L473.2,1163.6 L473.9,1187.2 L474.6,1213.6 L475.4,1236.4 L476.1,1253.1 L476.5,1258.4 L476.9,1262.3 L477.6,1269.3 L478.4,1274.1 L479.1,1277.9 L479.9,1281.7 L480.6,1284.7 L481.2,1286.2 L481.4,1286.6 L482.1,1288.3 L482.9,1289.9 L483.6,1291.3 L484.4,1292.8 L485.1,1293.9 L485.9,1293.8 L485.9,1293.8 L486.6,1293.4 L487.4,1293.0 L488.1,1292.4 L488.9,1292.1 L489.6,1291.8 L490.4,1291.5 L491.1,1291.4 L491.8,1291.0 L491.9,1291.0 L492.6,1290.8 L493.4,1291.5 L494.1,1292.4 L494.9,1293.7 L495.6,1295.1 L496.4,1295.8 L497.1,1296.4 L497.9,1296.8 L498.6,1296.8 L498.8,1296.8 L499.4,1296.5 L500.1,1295.5 L500.9,1294.0 L501.6,1292.1 L502.4,1289.4 L503.1,1286.5 L503.9,1284.3 L504.6,1282.2 L504.7,1282.0 L505.4,1279.0 L506.1,1275.0 L506.9,1270.7 L507.6,1266.1 L508.4,1261.2 L509.1,1256.5 L509.4,1255.3 L509.9,1252.2 L510.6,1247.1 L511.4,1242.3 L512.1,1238.8 L512.9,1237.2 L512.9,1237.2 L513.6,1238.2 L514.4,1240.6 L515.1,1243.4 L515.9,1245.9 L516.4,1246.6 L516.6,1246.6 L517.4,1245.6 L518.1,1243.4 L518.9,1240.0 L519.6,1235.9 L519.9,1234.4 L520.4,1231.3 L521.1,1223.3 L521.9,1212.5 L522.6,1199.8 L523.4,1186.1 L524.1,1172.3 L524.6,1164.0 L524.9,1159.4 L525.6,1144.1 L526.4,1126.2 L527.1,1108.2 L527.9,1091.6 L528.6,1078.3 L529.3,1070.2 L529.4,1069.7 L530.1,1063.7 L530.9,1058.8 L531.6,1055.0 L532.4,1053.0 L532.8,1052.7 L533.1,1053.0 L533.9,1055.0 L534.6,1058.8 L535.4,1063.7 L536.1,1069.0 L536.4,1070.4 L536.9,1074.1 L537.6,1080.3 L538.4,1087.9 L539.1,1096.1 L539.9,1104.8 L540.6,1113.5 L541.1,1118.1 L541.4,1121.9 L542.1,1130.7 L542.9,1140.0 L543.6,1149.7 L544.4,1159.0 L545.1,1168.3 L545.8,1176.2 L545.9,1178.0 L546.6,1187.6 L547.4,1196.6 L548.1,1205.7 L548.9,1215.4 L549.6,1225.1 L550.4,1234.1 L550.4,1234.8 L551.1,1243.8 L551.9,1254.7 L552.6,1265.8 L553.4,1276.1 L554.1,1285.0 L554.9,1291.8 L555.1,1293.5 L555.6,1296.4 L556.4,1300.0 L557.1,1303.1 L557.9,1305.9 L558.6,1308.0 L559.4,1309.1 L559.8,1309.4 L560.1,1309.5 L560.9,1310.3 L561.6,1311.0 L562.4,1311.0 L563.1,1311.0 L563.9,1311.9 L564.6,1312.7 L565.4,1312.4 L565.7,1312.3 L566.1,1312.0 L566.9,1311.8 L567.6,1311.4 L568.4,1310.6 L569.1,1309.8 L569.9,1308.7 L570.6,1307.5 L571.4,1306.9 L571.6,1306.8 L572.1,1306.3 L572.9,1305.9 L573.6,1305.4 L574.4,1304.9 L575.1,1304.6 L575.9,1303.4 L576.6,1302.4 L577.4,1302.3 L577.4,1302.3 L578.1,1302.5 L578.9,1302.7 L579.6,1303.1 L580.4,1303.0 L581.1,1303.0 L581.9,1303.4 L582.6,1303.9 L583.3,1304.6 L583.4,1304.7 L584.1,1305.7 L584.9,1307.0 L585.6,1308.6 L586.4,1310.2 L587.1,1312.0 L587.9,1314.5 L588.0,1314.8 L588.6,1317.2 L589.4,1319.6 L590.1,1322.5 L590.9,1326.2 L591.6,1330.0 L592.4,1334.0 L593.1,1337.8 L593.9,1341.0 L593.9,1341.2 L594.6,1344.5 L595.4,1347.1 L596.1,1349.7 L596.9,1353.1 L597.6,1356.2 L598.4,1358.8 L598.6,1359.3 L599.1,1361.1 L599.9,1361.9 L600.0,1361.8 L600.6,1360.9 L601.4,1359.7 L602.1,1357.7 L602.9,1355.1 L603.6,1352.2 L604.4,1349.4 L605.1,1346.9 L605.9,1344.9 L605.9,1344.9 L606.6,1343.1 L607.4,1341.3 L608.1,1339.7 L608.9,1338.3 L609.6,1337.3 L610.4,1336.8 L610.6,1336.8 L611.1,1337.3 L611.9,1338.7 L612.6,1341.0 L613.4,1343.9 L614.1,1346.9 L614.9,1350.7 L615.3,1352.3 L615.6,1354.0 L616.4,1357.3 L617.1,1360.8 L617.9,1364.6 L618.6,1368.2 L619.4,1371.3 L620.1,1373.8 L620.9,1375.2 L621.1,1375.5 L621.6,1375.9 L622.4,1377.4 L623.1,1378.8 L623.9,1379.1 L624.6,1379.2 L625.4,1380.2 L626.1,1381.0 L626.9,1381.6 L627.6,1382.0 L628.2,1382.0 L628.4,1382.0 L629.1,1381.4 L629.9,1380.5 L630.6,1379.2 L631.4,1376.5 L632.1,1373.8 L632.9,1372.7 L633.6,1372.0 L634.0,1371.5 L634.4,1371.1 L635.1,1370.3 L635.9,1369.2 L636.6,1368.2 L637.4,1367.6 L638.1,1367.1 L638.9,1366.1 L639.6,1365.3 L640.4,1365.4 L641.1,1365.7 L641.1,1365.8 L641.9,1365.9 L642.6,1366.1 L643.4,1366.1 L644.1,1366.0 L644.9,1366.7 L645.6,1367.4 L646.4,1368.2 L646.9,1368.8 L647.1,1369.0 L647.9,1369.7 L648.6,1370.6 L649.4,1372.5 L650.1,1374.6 L650.9,1375.6 L651.6,1376.6 L652.4,1378.4 L652.8,1379.4 L653.1,1380.2 L653.9,1381.3 L654.6,1382.3 L655.4,1382.8 L656.1,1383.2 L656.9,1384.1 L657.6,1385.0 L658.4,1385.6 L659.1,1386.1 L659.9,1387.3 L660.6,1388.5 L661.0,1389.0 L661.4,1389.6 L662.1,1390.9 L662.9,1392.9 L663.6,1395.0 L664.4,1395.6 L665.1,1396.1 L665.9,1398.1 L666.6,1399.9 L667.4,1401.1 L668.1,1402.1 L668.1,1402.2 L668.9,1402.7 L669.6,1403.1 L670.4,1404.2 L671.1,1405.3 L671.9,1407.2 L672.6,1408.9 L673.4,1409.7 L674.1,1410.4 L674.9,1409.3 L675.1,1409.0 L675.6,1408.1 L676.4,1408.9 L677.1,1409.6 L677.9,1409.8 L678.6,1410.0 L679.4,1410.3 L680.1,1410.6 L680.9,1411.9 L681.6,1413.2 L682.1,1412.8 L682.4,1412.7 L683.1,1412.1 L683.9,1412.5 L684.6,1412.9 L685.4,1413.2 L686.1,1413.5 L686.9,1412.1 L687.6,1410.6 L688.4,1410.8 L689.1,1411.0 L689.9,1411.1 L690.6,1411.3 L691.4,1411.9 L692.1,1412.5 L692.9,1411.8 L693.6,1411.1 L693.9,1411.2 L694.4,1411.6 L695.1,1412.0 L695.9,1412.3 L696.6,1412.6 L697.4,1412.5 L698.1,1412.5 L698.9,1411.9 L699.6,1411.4 L700.4,1410.5 L701.1,1409.6 L701.9,1409.0 L702.6,1408.4 L703.4,1410.0 L704.1,1411.7 L704.9,1411.1 L705.6,1410.7 L705.6,1410.6 L706.4,1409.6 L707.1,1408.6 L707.9,1408.8 L708.6,1409.0 L709.4,1409.0 L710.1,1408.9 L710.9,1408.0 L711.6,1407.1 L712.4,1408.3 L713.1,1409.4 L713.9,1408.7 L714.6,1408.0 L715.4,1408.2 L716.1,1408.5 L716.9,1409.2 L717.3,1409.6 L717.6,1409.8 L718.4,1409.3 L719.1,1408.7 L719.9,1409.2 L720.6,1409.6 L721.4,1409.5 L722.1,1409.4 L722.9,1409.2 L723.6,1408.9 L724.4,1408.9 L725.1,1408.9 L725.9,1410.1 L726.6,1411.3 L727.4,1410.0 L728.1,1408.6 L728.9,1409.8 L729.1,1410.1 L729.6,1411.0 L730.4,1409.3 L731.1,1407.6 L731.9,1408.7 L732.6,1409.7 L733.4,1409.3 L734.1,1408.8 L734.9,1408.2 L735.6,1407.5 L736.4,1406.1 L737.1,1404.8 L737.9,1407.5 L738.6,1410.1 L739.4,1408.2 L740.1,1406.3 L740.8,1406.3 L740.9,1406.3 L741.6,1406.3 L742.4,1406.8 L743.1,1407.4 L743.9,1407.1 L744.6,1406.9 L745.4,1406.7 L746.1,1406.6 L746.9,1405.9 L747.6,1405.3 L748.4,1404.1 L749.1,1402.9 L749.9,1404.0 L750.2,1404.4 L750.6,1405.0 L751.4,1403.2 L752.1,1401.1 L752.9,1400.8 L753.6,1400.4 L754.4,1399.3 L755.1,1398.0 L755.9,1396.8 L756.6,1395.4 L757.2,1393.3 L757.4,1392.7 L758.1,1389.4 L758.9,1386.3 L759.6,1382.7 L760.4,1378.9 L761.1,1374.9 L761.9,1369.6 L762.6,1364.4 L763.1,1362.3 L763.4,1361.0 L764.1,1357.4 L764.9,1352.7 L765.6,1347.8 L766.4,1343.1 L767.1,1338.4 L767.8,1335.4 L767.9,1334.9 L768.6,1331.5 L769.4,1326.7 L770.1,1321.9 L770.9,1318.8 L771.6,1316.0 L772.4,1312.3 L773.1,1309.2 L773.7,1306.0 L773.9,1304.7 L774.6,1300.6 L775.4,1300.2 L776.1,1299.9 L776.9,1297.8 L777.6,1295.8 L778.4,1295.5 L779.1,1295.3 L779.5,1294.5 L779.9,1293.7 L780.6,1292.0 L781.4,1291.0 L782.1,1290.0 L782.9,1288.3 L783.6,1286.7 L784.4,1286.0 L785.1,1285.6 L785.4,1285.2 L785.9,1284.6 L786.6,1283.5 L787.4,1281.8 L788.1,1280.1 L788.9,1280.7 L789.6,1281.4 L790.4,1281.5 L791.1,1281.6 L791.9,1281.7 L792.4,1281.9 L792.6,1282.0 L793.4,1281.8 L794.1,1281.8 L794.9,1284.1 L795.6,1286.4 L796.4,1285.9 L797.1,1285.5 L797.1,1285.4 L797.9,1287.2 L798.6,1289.1 L799.4,1289.2 L800.1,1289.4 L800.9,1292.2 L801.6,1295.1 L802.4,1295.0 L803.0,1295.0 L803.1,1295.0 L803.9,1298.7 L804.6,1302.8 L805.4,1305.0 L806.1,1307.5 L806.9,1312.6 L807.6,1317.7 L807.7,1318.0 L808.4,1322.4 L809.1,1327.6 L809.9,1330.1 L810.6,1332.7 L811.4,1337.9 L812.1,1342.9 L812.4,1344.6 L812.9,1348.1 L813.6,1353.4 L814.4,1357.7 L815.1,1362.0 L815.9,1365.6 L816.6,1369.0 L817.4,1374.5 L818.1,1379.4 L818.3,1379.8 L818.9,1381.7 L819.6,1383.9 L820.4,1387.5 L821.1,1391.0 L821.9,1392.9 L822.6,1394.5 L823.4,1395.5 L824.1,1396.2 L824.9,1397.9 L825.3,1398.7 L825.6,1399.2 L826.4,1401.2 L827.1,1403.1 L827.9,1401.9 L828.6,1400.6 L829.4,1401.7 L830.1,1402.7 L830.9,1403.7 L831.6,1404.7 L832.3,1405.2 L832.4,1405.2 L833.1,1405.7 L833.9,1405.8 L834.6,1405.8 L835.4,1404.5 L836.1,1403.1 L836.9,1405.6 L837.6,1408.0 L838.4,1406.6 L839.1,1405.3 L839.9,1405.5 L840.6,1405.7 L841.4,1405.8 L842.1,1405.9 L842.9,1405.8 L843.6,1405.8 L844.4,1405.4 L845.1,1405.0 L845.9,1405.6 L846.4,1406.0 L846.6,1406.1 L847.4,1407.4 L848.1,1408.6 L848.9,1407.0 L849.6,1405.5 L850.4,1405.0 L851.1,1404.5 L851.9,1406.6 L852.6,1408.7 L853.4,1408.8 L854.1,1408.8 L854.9,1409.2 L855.6,1409.6 L856.4,1410.4 L857.1,1411.1 L857.9,1409.5 L858.1,1409.0 L858.6,1407.9 L859.4,1408.5 L860.1,1409.1 L860.9,1409.3 L861.6,1409.5 L862.4,1410.0 L863.1,1410.5 L863.9,1410.3 L864.6,1410.2 L865.4,1409.0 L866.1,1407.8 L866.9,1407.4 L867.6,1407.1 L868.4,1407.8 L869.1,1408.5 L869.9,1407.7 L869.9,1407.6 L870.6,1406.8 L871.4,1408.6 L872.1,1410.4 L872.9,1409.4 L873.6,1408.5 L874.4,1408.6 L875.1,1408.7 L875.9,1408.4 L876.6,1408.2 L877.4,1409.8 L878.1,1411.5 L878.9,1410.8 L879.6,1410.1 L880.4,1409.8 L881.1,1409.4 L881.9,1410.2 L882.6,1411.0 L883.4,1410.6 L884.1,1410.3 L884.9,1410.8 L885.6,1411.4 L886.4,1412.0 L887.1,1412.5 L887.9,1411.6 L888.6,1410.6 L889.4,1411.2 L890.1,1411.8 L890.9,1411.8 L891.6,1411.8 L892.4,1412.2 L893.1,1412.7 L893.4,1412.6 L893.9,1412.3 L894.6,1412.0 L895.4,1411.6 L896.1,1411.3 L896.9,1410.8 L897.6,1410.4 L898.4,1411.0 L899.1,1411.6 L899.9,1410.7 L900.6,1409.9 L901.4,1411.0 L902.1,1412.1 L902.9,1411.7 L903.6,1411.3 L904.4,1411.6 L905.1,1411.9 L905.1,1411.9 L905.9,1411.2 L906.6,1410.5 L907.4,1410.3 L908.1,1410.1 L908.9,1410.0 L909.6,1409.9 L910.4,1411.2 L911.1,1412.5 L911.9,1411.6 L912.6,1410.7 L913.4,1410.7 L914.1,1410.6 L914.9,1409.6 L915.6,1408.5 L916.4,1409.6 L917.1,1410.7 L917.9,1408.4 L918.6,1406.1 L919.4,1409.2 L920.1,1412.3 L920.9,1411.2 L921.6,1410.1 L922.4,1410.3 L923.1,1410.4 L923.9,1409.4 L924.6,1408.4 L925.4,1408.6 L926.1,1408.7 L926.9,1409.8 L927.6,1410.9 L928.4,1410.3 L928.6,1410.2 L929.1,1409.7 L929.9,1410.1 L930.6,1410.5 L931.4,1411.0 L932.1,1411.5 L932.9,1411.1 L933.6,1410.6 L934.4,1408.9 L935.1,1407.2 L935.9,1407.8 L936.6,1408.3 L937.4,1408.2 L938.1,1408.1 L938.9,1408.2 L939.6,1408.3 L940.0,1408.0 L940.4,1407.6 L941.1,1406.8 L941.9,1406.8 L942.6,1406.9 L943.4,1407.7 L944.1,1408.6 L944.9,1408.7 L945.6,1408.8 L946.4,1409.5 L947.1,1410.2 L947.9,1409.7 L948.6,1409.1 L949.4,1410.2 L950.1,1411.4 L950.9,1409.3 L951.6,1407.2 L952.4,1407.4 L953.1,1407.7 L953.9,1408.8 L954.6,1409.9 L955.4,1409.5 L956.1,1409.2 L956.9,1408.7 L957.6,1408.3 L958.4,1409.4 L959.1,1410.6 L959.9,1410.8 L960.6,1411.0 L961.4,1411.1 L962.1,1411.3 L962.9,1410.2 L963.6,1409.1 L964.4,1409.3 L965.1,1409.6 L965.9,1409.7 L966.6,1409.9 L967.4,1409.8 L968.1,1409.7 L968.9,1410.3 L969.6,1410.9 L970.4,1409.9 L971.1,1409.0 L971.9,1409.5 L972.6,1410.1 L973.4,1408.4 L974.1,1406.7 L974.9,1408.7 L975.6,1410.6 L976.4,1411.2 L977.1,1411.8 L977.9,1410.7 L978.6,1409.6 L979.4,1410.3 L980.1,1411.0 L980.9,1409.2 L981.6,1407.5 L982.4,1408.4 L983.1,1409.2 L983.9,1408.4 L984.6,1407.7 L985.4,1408.9 L986.1,1410.1 L986.9,1410.2 L987.6,1410.4 L988.4,1409.1 L989.1,1407.9 L989.9,1408.2 L990.6,1408.6 L991.4,1408.8 L992.1,1408.9 L992.9,1410.9 L993.6,1412.9 L994.4,1411.2 L995.1,1409.6 L995.9,1409.7 L996.6,1409.9 L997.4,1410.0 L998.1,1410.2 L998.9,1410.2 L999.6,1410.1 L1000.4,1409.8 L1001.1,1409.4 L1001.9,1408.7 L1002.6,1408.0 L1003.4,1408.4 L1004.1,1408.9 L1004.9,1410.4 L1005.6,1411.9 L1006.4,1411.0 L1007.1,1410.1 L1007.9,1409.7 L1008.6,1409.3 L1009.4,1408.7 L1010.1,1408.0 L1010.9,1408.9 L1011.6,1409.7 L1012.4,1409.8 L1013.1,1409.8 L1013.9,1409.4 L1014.6,1409.0 L1015.4,1410.0 L1016.1,1411.0 L1016.9,1410.0 L1017.6,1409.1 L1018.4,1409.3 L1019.1,1409.6 L1019.9,1410.3 L1020.6,1410.9 L1021.4,1410.5 L1022.1,1410.1 L1022.9,1410.7 L1023.6,1411.3 L1024.4,1410.4 L1025.1,1409.5 L1025.9,1409.4 L1026.6,1409.3 L1027.4,1409.9 L1028.1,1410.5 L1028.9,1410.3 L1029.6,1410.1 L1030.4,1410.8 L1031.1,1411.4 L1031.9,1410.9 L1032.6,1410.4 L1033.4,1410.1 L1034.1,1409.8 L1034.9,1410.2 L1035.6,1410.5 L1036.4,1410.6 L1037.1,1410.7 L1037.9,1409.6 L1038.6,1408.4 L1039.4,1409.1 L1040.1,1409.7 L1040.9,1409.6 L1041.6,1409.5 L1042.4,1410.5 L1043.1,1411.5 L1043.9,1410.4 L1044.6,1409.3 L1045.4,1410.3 L1046.1,1411.3 L1046.9,1409.8 L1047.6,1408.2 L1048.4,1409.0 L1049.1,1409.8 L1049.5,1410.2 L1049.9,1410.6 L1050.6,1411.3 L1051.4,1410.4 L1052.1,1409.6 L1052.9,1410.5 L1053.6,1411.4 L1054.4,1409.3 L1055.1,1407.3 L1055.9,1408.6 L1056.6,1409.9 L1057.4,1410.0 L1058.1,1410.1 L1058.9,1409.9 L1059.6,1409.7 L1060.4,1408.8 L1061.1,1407.9 L1061.9,1409.3 L1062.6,1410.8 L1063.4,1408.8 L1064.1,1406.9 L1064.9,1409.0 L1065.6,1411.1 L1066.4,1410.7 L1067.1,1410.3 L1067.9,1410.7 L1068.6,1411.2 L1069.4,1410.4 L1070.1,1409.5 L1070.9,1409.0 L1071.6,1408.4 L1072.4,1408.8 L1073.1,1409.2 L1073.9,1409.2 L1074.6,1409.3 L1075.4,1410.0 L1076.1,1410.6 L1076.9,1410.0 L1077.6,1409.5 L1078.4,1409.9 L1079.1,1410.4 L1079.9,1410.4 L1080.6,1410.5 L1081.4,1411.1 L1082.1,1411.7 L1082.9,1409.5 L1083.6,1407.3 L1084.4,1408.3 L1085.1,1409.3 L1085.9,1410.0 L1086.6,1410.7 L1087.4,1410.7 L1088.1,1410.7 L1088.9,1409.9 L1089.6,1409.1 L1090.4,1409.3 L1091.1,1409.5 L1091.9,1409.6 L1092.6,1409.7 L1093.4,1409.9 L1094.1,1410.0 L1094.9,1409.5 L1095.6,1409.1 L1096.4,1409.0 L1097.1,1409.0 L1097.9,1408.7 L1098.6,1408.4 L1099.4,1408.8 L1100.1,1409.3 L1100.9,1410.5 L1101.6,1411.6 L1102.4,1410.1 L1103.1,1408.6 L1103.9,1409.8 L1104.6,1411.1 L1105.4,1411.7 L1106.1,1412.3 L1106.9,1411.2 L1107.6,1410.1 L1108.4,1411.5 L1109.1,1412.9 L1109.9,1411.2 L1110.6,1409.6 L1111.4,1410.8 L1112.1,1412.0 L1112.9,1410.8 L1113.6,1409.7 L1114.4,1409.0 L1115.1,1408.2 L1115.9,1409.2 L1116.6,1410.2 L1117.4,1411.2 L1118.1,1412.2 L1118.9,1410.6 L1119.6,1409.0 L1120.4,1409.7 L1121.1,1410.4 L1121.9,1409.4 L1122.6,1408.5 L1123.4,1408.5 L1124.1,1408.6 L1124.9,1409.5 L1125.6,1410.3 L1126.4,1409.9 L1127.1,1409.5 L1127.9,1410.0 L1128.6,1410.5 L1129.4,1410.9 L1130.1,1411.4 L1130.9,1409.8 L1131.6,1408.2 L1132.4,1408.5 L1133.1,1408.8 L1133.9,1409.3 L1134.6,1409.8 L1135.4,1411.3 L1136.1,1412.7 L1136.9,1411.0 L1137.6,1409.3 L1138.4,1409.2 L1139.1,1409.1 L1139.9,1409.7 L1140.6,1410.3 L1141.4,1411.4 L1142.1,1412.4 L1142.9,1410.7 L1143.6,1409.0 L1144.4,1409.1 L1145.1,1409.3 L1145.9,1409.5 L1146.6,1409.8 L1147.4,1410.2 L1148.1,1410.7 L1148.9,1411.6 L1149.6,1412.5 L1150.4,1410.3 L1151.1,1408.1 L1151.9,1407.8 L1152.6,1407.5 L1153.4,1408.7 L1154.1,1409.9 L1154.9,1410.1 L1155.6,1410.4 L1156.4,1408.6 L1157.1,1406.8 L1157.9,1407.8 L1158.6,1408.9 L1159.4,1409.9 L1160.1,1410.9 L1160.9,1410.0 L1161.6,1409.0 L1162.4,1409.7 L1163.1,1410.3 L1163.9,1410.1 L1164.6,1409.9 L1165.4,1410.2 L1166.1,1410.5 L1166.9,1410.4 L1167.6,1410.2 L1168.4,1410.1 L1169.1,1410.0 L1169.9,1410.7 L1170.6,1411.3 L1171.4,1410.1 L1172.1,1408.9 L1172.9,1409.4 L1173.6,1409.8 L1174.4,1410.5 L1175.1,1411.1 L1175.9,1410.0 L1176.6,1408.9 L1177.4,1409.1 L1178.1,1409.2 L1178.9,1408.9 L1179.6,1408.7 L1180.4,1408.6 L1181.1,1408.4 L1181.9,1410.4 L1182.6,1412.3 L1183.4,1411.3 L1184.1,1410.3 L1184.9,1411.2 L1185.6,1412.1 L1186.4,1411.4 L1187.1,1410.6 L1187.9,1410.2 L1188.6,1409.8 L1189.4,1409.5 L1190.1,1409.3 L1190.9,1409.7 L1191.6,1410.0 L1192.4,1409.8 L1193.1,1409.6 L1193.9,1410.2 L1194.6,1410.9 L1195.4,1409.7 L1195.6,1409.4 L1196.1,1408.5 L1196.9,1409.2 L1197.6,1409.9 L1198.4,1410.1 L1199.1,1410.3 L1199.9,1409.8 L1200.6,1409.4 L1201.4,1409.4 L1202.1,1409.4 L1202.9,1409.9 L1203.6,1410.4 L1204.4,1410.4 L1205.1,1410.4 L1205.9,1410.0 L1206.6,1409.5 L1207.4,1409.6 L1208.1,1409.6 L1208.9,1409.3 L1209.6,1408.9 L1210.4,1409.7 L1211.1,1410.4 L1211.9,1409.9 L1212.6,1409.5 L1213.4,1408.6 L1214.1,1407.6 L1214.9,1408.4 L1215.6,1409.3 L1216.4,1409.9 L1217.1,1410.5 L1217.9,1410.2 L1218.6,1410.0 L1219.4,1409.3 L1220.1,1408.5 L1220.9,1409.5 L1221.6,1410.6 L1222.4,1410.5 L1223.1,1410.4 L1223.9,1410.4 L1224.6,1410.4 L1225.4,1411.0 L1226.1,1411.6 L1226.9,1410.4 L1227.6,1409.2 L1228.4,1409.8 L1229.1,1410.4 L1229.9,1409.9 L1230.6,1409.3 L1231.4,1410.1 L1232.1,1410.9 L1232.9,1411.0 L1233.6,1411.1 L1234.4,1410.7 L1235.1,1410.3 L1235.9,1410.4 L1236.6,1410.6 L1237.4,1409.6 L1238.1,1408.6 L1238.9,1409.5 L1239.6,1410.4 L1240.4,1409.2 L1241.1,1408.1 L1241.9,1410.2 L1242.6,1412.4 L1243.4,1411.8 L1244.1,1411.1 L1244.9,1409.4 L1245.6,1407.6 L1246.4,1406.9 L1247.1,1406.1 L1247.9,1408.7 L1248.6,1411.3 L1249.4,1409.9 L1250.1,1408.5 L1250.9,1409.4 L1251.6,1410.3 L1252.4,1409.1 L1253.1,1407.9 L1253.9,1408.8 L1254.6,1409.7 L1255.4,1409.2 L1256.1,1408.7 L1256.9,1409.5 L1257.6,1410.3 L1258.4,1409.7 L1259.1,1409.1 L1259.9,1410.3 L1260.6,1411.5 L1261.4,1410.0 L1262.1,1408.6 L1262.9,1409.9 L1263.6,1411.2 L1264.4,1410.4 L1265.1,1409.5 L1265.9,1409.9 L1266.6,1410.2 L1267.4,1408.9 L1268.1,1407.5 L1268.9,1407.4 L1269.6,1407.3 L1270.4,1409.1 L1271.1,1410.9 L1271.9,1409.4 L1272.6,1408.0 L1273.4,1408.5 L1274.1,1409.1 L1274.9,1409.1 L1275.6,1409.1 L1276.4,1408.8 L1277.1,1408.4 L1277.9,1409.1 L1278.6,1409.8 L1279.4,1408.8 L1280.1,1407.7 L1280.9,1407.9 L1281.6,1408.0 L1282.4,1409.4 L1283.1,1410.7 L1283.9,1409.6 L1284.6,1408.5 L1285.4,1409.5 L1286.1,1410.5 L1286.9,1410.5 L1287.6,1410.4 L1288.4,1411.0 L1289.1,1411.5 L1289.9,1410.8 L1290.6,1410.1 L1291.4,1408.6 L1292.1,1407.2 L1292.9,1407.9 L1293.6,1408.7 L1294.4,1408.8 L1295.1,1409.0 L1295.9,1410.1 L1296.6,1411.1 L1297.4,1410.6 L1298.1,1410.0 L1298.9,1409.4 L1299.6,1408.9 L1300.4,1409.5 L1301.1,1410.1 L1301.9,1409.6 L1302.6,1409.1 L1303.4,1409.7 L1304.1,1410.2 L1304.9,1410.0 L1305.6,1409.7 L1306.4,1410.3 L1307.1,1411.0 L1307.9,1410.5 L1308.6,1410.0 L1309.4,1410.4 L1310.1,1410.8 L1310.9,1410.2 L1311.6,1409.5 L1312.4,1410.0 L1313.1,1410.5 L1313.9,1409.9 L1314.6,1409.3 L1315.4,1409.8 L1316.1,1410.4 L1316.9,1410.1 L1317.6,1409.8 L1318.4,1409.6 L1319.1,1409.4 L1319.9,1409.2 L1320.6,1409.0 L1321.4,1409.1 L1322.1,1409.2 L1322.9,1409.7 L1323.6,1410.1 L1324.4,1408.3 L1325.1,1406.5 L1325.9,1408.8 L1326.6,1411.1 L1327.4,1408.8 L1328.1,1406.5 L1328.9,1407.9 L1329.6,1409.3 L1330.4,1409.2 L1331.1,1409.1 L1331.9,1409.8 L1332.6,1410.5 L1333.4,1410.2 L1334.1,1409.8 L1334.9,1409.7 L1335.6,1409.5 L1336.4,1409.6 L1337.1,1409.6 L1337.9,1410.2 L1338.6,1410.8 L1339.4,1411.7 L1340.1,1412.6 L1340.9,1411.3 L1341.6,1410.1 L1341.6,1410.0 L1342.4,1408.4 L1343.1,1406.9 L1343.9,1407.9 L1344.6,1409.0 L1345.4,1409.5 L1346.1,1410.1 L1346.9,1412.0 L1347.6,1413.8 L1348.4,1411.2 L1349.1,1408.5 L1349.9,1408.8 L1350.6,1409.1 L1351.4,1409.7 L1352.1,1410.3 L1352.9,1410.1 L1353.6,1410.0 L1354.4,1408.9 L1355.1,1407.8 L1355.9,1409.3 L1356.6,1410.8 L1357.4,1409.3 L1358.1,1407.8 L1358.9,1408.5 L1359.6,1409.2 L1360.4,1410.2 L1361.1,1411.3 L1361.9,1409.6 L1362.6,1407.8 L1363.4,1408.5 L1364.1,1409.1 L1364.9,1410.4 L1365.6,1411.7 L1366.4,1410.5 L1367.1,1409.2 L1367.9,1408.7 L1368.6,1408.2 L1369.4,1408.5 L1370.1,1408.8 L1370.9,1409.7 L1371.6,1410.7 L1372.4,1409.1 L1373.1,1407.5 L1373.9,1408.1 L1374.6,1408.8 L1375.4,1408.2 L1376.1,1407.7 L1376.9,1407.9 L1377.6,1408.1 L1378.4,1409.7 L1379.1,1411.3 L1379.9,1410.4 L1380.6,1409.5 L1381.4,1409.3 L1382.1,1409.0 L1382.9,1409.6 L1383.6,1410.2 L1384.4,1409.4 L1385.1,1408.7 L1385.9,1408.4 L1386.6,1408.1 L1387.4,1409.6 L1388.1,1411.1 L1388.9,1410.9 L1389.6,1410.8 L1390.4,1409.7 L1391.1,1408.5 L1391.9,1409.5 L1392.6,1410.6 L1393.4,1411.1 L1394.1,1411.5 L1394.9,1410.9 L1395.6,1410.3 L1396.4,1410.3 L1397.1,1410.3 L1397.9,1409.2 L1398.6,1408.1 L1399.4,1408.8 L1400.1,1409.5 L1400.9,1408.4 L1401.6,1407.2 L1402.4,1409.2 L1403.1,1411.1 L1403.9,1410.3 L1404.6,1409.5 L1405.4,1410.4 L1406.1,1411.4 L1406.9,1410.1 L1407.6,1408.7 L1408.4,1409.8 L1409.1,1410.9 L1409.9,1409.2 L1410.6,1407.6 L1411.4,1408.4 L1412.1,1409.2 L1412.9,1409.8 L1413.6,1410.4 L1414.4,1410.3 L1415.1,1410.2 L1415.9,1409.9 L1416.6,1409.7 L1417.4,1408.6 L1418.1,1407.6 L1418.9,1409.5 L1419.6,1411.5 L1420.4,1411.1 L1421.1,1410.6 L1421.9,1410.9 L1422.6,1411.3 L1423.4,1411.2 L1424.1,1411.2 L1424.9,1410.3 L1425.6,1409.3 L1426.4,1409.8 L1427.1,1410.3 L1427.9,1411.8 L1428.6,1413.3 L1429.4,1411.0 L1430.1,1408.7 L1430.9,1409.5 L1431.6,1410.3 L1432.4,1409.7 L1433.1,1409.1 L1433.9,1410.6 L1434.6,1412.1 L1435.4,1411.1 L1436.1,1410.0 L1436.9,1409.2 L1437.6,1408.5 L1438.4,1408.7 L1439.1,1409.0 L1439.9,1408.5 L1440.6,1408.0 L1441.4,1407.4 L1442.1,1406.8 L1442.9,1406.6 L1443.6,1406.3 L1444.4,1407.6 L1445.1,1408.9 L1445.9,1408.6 L1446.6,1408.4 L1447.4,1409.2 L1448.1,1410.0 L1448.9,1409.4 L1449.6,1408.8 L1450.4,1409.5 L1451.1,1410.2 L1451.9,1411.2 L1452.6,1412.2 L1453.4,1410.3 L1454.1,1408.3 L1454.9,1408.3 L1455.6,1408.3 L1456.4,1409.7 L1457.1,1411.2 L1457.9,1412.1 L1458.6,1413.0 L1459.4,1410.8 L1460.1,1408.7 L1460.9,1408.2 L1461.6,1407.7 L1462.4,1408.6 L1463.1,1409.5 L1463.9,1409.4 L1464.6,1409.3 L1465.4,1410.1 L1466.1,1410.8 L1466.9,1409.7 L1467.6,1408.5 L1468.4,1409.0 L1469.1,1409.5 L1469.9,1409.5 L1470.6,1409.5 L1471.4,1408.6 L1472.1,1407.8 L1472.9,1407.8 L1473.6,1407.8 L1474.4,1409.1 L1475.1,1410.5 L1475.9,1410.5 L1476.6,1410.6 L1476.7,1410.5 L1477.4,1409.7 L1478.1,1408.7 L1478.9,1410.1 L1479.6,1411.6 L1480.0,1411.4 L1480.4,1411.2 L1481.1,1410.8 L1481.9,1410.4 L1482.6,1410.1 L1483.4,1410.2 L1484.1,1410.3 L1484.9,1410.2 L1485.6,1410.0 L1486.4,1410.2 L1487.1,1410.5 L1487.9,1410.6 L1488.6,1410.7 L1489.4,1410.1 L1490.1,1409.6 L1490.9,1408.2 L1491.6,1406.8 L1492.4,1408.1 L1493.1,1409.3 L1493.9,1408.9 L1494.6,1408.4 L1495.4,1408.2 L1496.1,1408.0 L1496.9,1409.1 L1497.6,1410.3 L1498.4,1408.7 L1499.1,1407.2 L1499.9,1408.9 L1500.6,1410.6 L1501.4,1409.6 L1502.1,1408.7 L1502.9,1408.3 L1503.6,1407.9 L1504.4,1408.1 L1505.1,1408.4 L1505.9,1410.5 L1506.6,1412.6 L1507.4,1412.0 L1508.1,1411.5 L1508.9,1410.3 L1509.6,1409.1 L1510.4,1410.0 L1511.1,1410.9 L1511.9,1411.4 L1512.6,1411.9 L1513.4,1410.1 L1514.1,1408.4 L1514.9,1408.7 L1515.6,1409.1 L1516.4,1409.9 L1517.1,1410.7 L1517.9,1410.4 L1518.6,1410.0 L1519.4,1409.5 L1520.1,1409.0 L1520.9,1410.3 L1521.6,1411.7 L1522.4,1410.9 L1523.1,1410.2 L1523.9,1410.4 L1524.6,1410.6 L1525.4,1411.6 L1526.1,1412.7 L1526.9,1411.4 L1527.6,1410.2 L1528.4,1411.6 L1529.1,1413.0 L1529.9,1411.5 L1530.6,1409.9 L1531.4,1409.6 L1532.1,1409.3 L1532.9,1409.5 L1533.6,1409.7 L1534.4,1410.2 L1535.1,1410.7 L1535.9,1410.5 L1536.6,1410.4 L1537.4,1410.2 L1538.1,1410.0 L1538.9,1408.8 L1539.6,1407.5 L1540.4,1407.8 L1541.1,1408.1 L1541.9,1408.6 L1542.6,1409.2 L1543.4,1409.8 L1544.1,1410.5 L1544.9,1411.0 L1545.6,1411.4 L1546.4,1408.9 L1547.1,1406.3 L1547.9,1407.8 L1548.6,1409.3 L1549.4,1409.1 L1550.1,1408.9 L1550.9,1409.1 L1551.6,1409.4 L1552.4,1409.6 L1553.1,1409.8 L1553.9,1409.1 L1554.6,1408.4 L1555.4,1408.1 L1556.1,1407.8 L1556.9,1409.3 L1557.6,1410.9 L1558.4,1410.7 L1559.1,1410.5 L1559.9,1409.7 L1560.6,1409.0 L1561.4,1409.2 L1562.1,1409.3 L1562.9,1409.0 L1563.6,1408.6 L1564.4,1408.1 L1565.1,1407.6 L1565.9,1409.0 L1566.6,1410.4 L1567.4,1409.5 L1568.1,1408.6 L1568.9,1408.3 L1569.6,1408.0 L1570.4,1408.4 L1571.1,1408.7 L1571.9,1410.2 L1572.6,1411.7 L1573.4,1410.9 L1574.1,1410.1 L1574.9,1410.0 L1575.6,1409.8 L1576.4,1409.7 L1577.1,1409.6 L1577.9,1410.1 L1578.6,1410.7 L1579.4,1410.6 L1580.1,1410.5 L1580.9,1409.1 L1581.6,1407.8 L1582.4,1408.5 L1583.1,1409.2 L1583.9,1408.9 L1584.6,1408.6 L1585.4,1409.2 L1586.1,1409.8 L1586.9,1409.6 L1587.6,1409.4 L1588.4,1408.1 L1589.1,1406.8 L1589.5,1407.9 L1589.9,1408.9 L1590.6,1411.0 L1591.4,1410.4 L1592.1,1409.8 L1592.9,1408.5 L1593.6,1407.2 L1594.4,1409.1 L1595.1,1411.0 L1595.9,1410.3 L1596.6,1409.7 L1597.4,1409.9 L1598.1,1410.1 L1598.9,1409.8 L1599.6,1409.5 L1600.4,1409.6 L1601.1,1409.7 L1601.9,1409.3 L1602.6,1408.8 L1603.4,1408.0 L1604.1,1407.3 L1604.9,1408.0 L1605.6,1408.7 L1606.4,1409.2 L1607.1,1409.7 L1607.9,1409.6 L1608.6,1409.5 L1609.4,1409.9 L1610.1,1410.3 L1610.9,1409.8 L1611.6,1409.3 L1612.4,1407.9 L1613.1,1406.5 L1613.9,1408.5 L1614.6,1410.4 L1615.4,1409.4 L1616.1,1408.4 L1616.9,1408.0 L1617.6,1407.7 L1618.4,1408.4 L1619.1,1409.0 L1619.9,1408.3 L1620.6,1407.6 L1621.4,1408.8 L1622.1,1409.9 L1622.9,1409.1 L1623.6,1408.2 L1624.4,1410.1 L1625.1,1412.0 L1625.9,1410.6 L1626.6,1409.1 L1627.4,1408.9 L1628.1,1408.7 L1628.9,1408.6 L1629.6,1408.6 L1630.4,1407.6 L1631.1,1406.6 L1631.9,1407.4 L1632.6,1408.3 L1633.4,1408.4 L1634.1,1408.4 L1634.9,1408.7 L1635.6,1409.0 L1636.4,1407.7 L1637.1,1406.5 L1637.9,1408.0 L1638.6,1409.5 L1639.4,1410.3 L1640.1,1411.1 L1640.9,1410.0 L1641.6,1408.9 L1642.4,1409.1 L1643.1,1409.4 L1643.9,1409.7 L1644.6,1410.0 L1645.4,1409.2 L1646.1,1408.4 L1646.9,1408.6 L1647.6,1408.9 L1648.4,1409.8 L1649.1,1410.7 L1649.9,1410.2 L1650.6,1409.7 L1651.4,1408.8 L1652.1,1407.8 L1652.9,1407.5 L1653.6,1407.1 L1654.4,1409.8 L1655.1,1412.5 L1655.9,1411.3 L1656.6,1410.1 L1657.4,1408.7 L1658.1,1407.4 L1658.9,1408.5 L1659.6,1409.7 L1660.4,1410.0 L1661.1,1410.4 L1661.9,1410.0 L1662.6,1409.6 L1663.4,1408.3 L1664.1,1407.0 L1664.9,1409.4 L1665.6,1411.9 L1666.4,1411.1 L1667.1,1410.3 L1667.9,1409.8 L1668.6,1409.2 L1669.4,1409.8 L1670.1,1410.4 L1670.9,1409.8 L1671.6,1409.2 L1672.4,1409.1 L1673.1,1409.1 L1673.9,1409.9 L1674.6,1410.7 L1675.4,1408.8 L1676.1,1406.9 L1676.9,1408.9 L1677.6,1410.8 L1678.4,1410.4 L1679.1,1410.0 L1679.9,1410.3 L1680.6,1410.5 L1680.8,1410.5 L1681.4,1410.6 L1682.1,1410.7 L1682.9,1411.1 L1683.6,1411.6 L1684.4,1411.5 L1685.1,1411.4 L1685.9,1411.0 L1686.6,1410.6 L1687.4,1409.7 L1688.1,1408.8 L1688.9,1409.5 L1689.6,1410.2 L1690.4,1409.4 L1691.1,1408.6 L1691.9,1408.2 L1692.6,1407.8 L1693.4,1408.7 L1694.1,1409.6 L1694.9,1409.5 L1695.6,1409.3 L1696.4,1409.8 L1697.1,1410.3 L1697.9,1408.0 L1698.6,1405.8 L1699.4,1407.5 L1700.1,1409.2 L1700.9,1409.2 L1701.6,1409.2 L1702.4,1408.7 L1703.1,1408.3 L1703.9,1409.1 L1704.6,1409.9 L1705.4,1408.3 L1706.1,1406.6 L1706.4,1406.8 L1706.9,1407.3 L1707.6,1408.0 L1708.4,1407.3 L1709.1,1406.7 L1709.9,1406.7 L1710.6,1406.7 L1711.4,1405.8 L1712.1,1404.8 L1712.9,1405.1 L1713.6,1405.3 L1714.4,1405.5 L1715.1,1405.7 L1715.9,1404.9 L1716.6,1404.2 L1717.4,1404.0 L1718.1,1403.7 L1718.9,1402.6 L1719.6,1401.5 L1720.4,1402.6 L1721.1,1403.8 L1721.9,1401.9 L1722.6,1400.0 L1723.4,1400.1 L1724.1,1400.3 L1724.9,1400.3 L1725.6,1400.4 L1726.4,1399.5 L1727.1,1398.8 L1727.9,1399.1 L1728.3,1399.3 L1728.6,1399.5 L1729.4,1398.9 L1730.1,1398.3 L1730.9,1399.0 L1731.6,1399.8 L1732.4,1398.8 L1733.1,1397.7 L1733.9,1397.4 L1734.6,1397.1 L1735.4,1396.0 L1736.1,1395.0 L1736.9,1395.6 L1737.6,1396.3 L1738.4,1396.5 L1739.1,1396.7 L1739.9,1396.2 L1740.6,1395.7 L1741.4,1394.7 L1742.1,1393.8 L1742.9,1394.0 L1742.9,1394.0 L1743.6,1394.3 L1744.4,1394.6 L1745.1,1394.9 L1745.9,1395.2 L1746.6,1395.6 L1747.4,1394.9 L1748.1,1394.2 L1748.9,1396.7 L1749.6,1399.2 L1750.4,1398.2 L1751.1,1397.3 L1751.9,1397.8 L1752.6,1398.3 L1753.4,1398.4 L1754.1,1398.4 L1754.9,1399.0 L1755.6,1399.7 L1756.4,1401.4 L1757.1,1403.1 L1757.9,1401.5 L1758.6,1400.0 L1759.4,1400.6 L1760.1,1401.2 L1760.9,1401.2 L1761.1,1401.1 L1761.6,1401.1 L1762.4,1401.7 L1763.1,1402.3 L1763.9,1403.9 L1764.6,1405.6 L1765.4,1404.5 L1766.1,1403.3 L1766.9,1403.8 L1767.6,1404.2 L1768.4,1403.6 L1769.1,1403.0 L1769.9,1404.2 L1770.6,1405.4 L1771.4,1406.1 L1772.1,1406.7 L1772.9,1406.5 L1773.6,1406.2 L1774.4,1406.5 L1775.1,1406.7 L1775.9,1407.7 L1776.6,1408.6 L1777.4,1408.5 L1778.1,1408.4 L1778.9,1408.0 L1779.4,1407.7 L1779.6,1407.6 L1780.4,1407.1 L1781.1,1406.6 L1781.9,1406.0 L1782.6,1405.4 L1783.4,1407.3 L1784.1,1409.2 L1784.9,1406.9 L1785.6,1404.5 L1786.4,1405.7 L1787.1,1406.9 L1787.9,1406.0 L1788.6,1405.1 L1789.4,1404.4 L1790.1,1403.7 L1790.9,1404.4 L1791.6,1405.0 L1792.4,1403.6 L1793.1,1402.1 L1793.9,1403.0 L1794.6,1403.9 L1795.4,1402.0 L1796.1,1400.1 L1796.9,1400.6 L1797.6,1401.2 L1798.4,1401.3 L1799.1,1401.4 L1799.9,1399.5 L1800.6,1397.7 L1801.3,1399.1 L1801.4,1399.3 L1802.1,1400.9 L1802.9,1399.7 L1803.6,1398.4 L1804.4,1396.0 L1805.1,1393.5 L1805.9,1395.4 L1806.6,1397.3 L1807.4,1397.1 L1808.1,1397.0 L1808.9,1395.1 L1809.6,1393.1 L1810.4,1392.7 L1811.1,1392.2 L1811.9,1392.1 L1812.6,1392.0 L1813.4,1390.0 L1814.1,1388.1 L1814.9,1388.9 L1815.6,1389.8 L1815.9,1389.9 L1816.4,1389.9 L1817.1,1389.9 L1817.9,1388.4 L1818.6,1387.0 L1819.4,1387.5 L1820.1,1388.0 L1820.9,1388.2 L1821.6,1388.4 L1822.4,1385.1 L1823.1,1381.8 L1823.9,1381.4 L1824.6,1381.0 L1825.4,1381.2 L1826.1,1381.5 L1826.9,1381.9 L1827.6,1382.4 L1828.4,1381.9 L1829.1,1381.4 L1829.9,1380.4 L1830.6,1379.3 L1831.4,1379.1 L1832.1,1378.9 L1832.3,1378.9 L1832.3,1380.0 L1832.9,1381.0 L1833.6,1382.2 L1834.4,1384.6 L1835.1,1386.8 L1835.9,1385.6 L1836.6,1384.3 L1837.4,1384.9 L1838.1,1385.4 L1838.9,1386.6 L1839.6,1387.7 L1840.4,1387.0 L1841.1,1386.3 L1841.9,1385.8 L1842.6,1385.3 L1842.8,1385.7 L1843.4,1386.9 L1844.1,1388.4 L1844.9,1387.4 L1845.6,1386.4 L1846.4,1385.4 L1847.1,1384.3 L1847.9,1383.9 L1848.6,1383.6 L1849.4,1383.8 L1850.1,1384.0 L1850.9,1382.4 L1851.5,1381.1 L1851.6,1380.8 L1852.4,1380.1 L1853.1,1379.0 L1853.9,1377.5 L1854.6,1375.7 L1855.4,1373.2 L1856.1,1370.6 L1856.9,1366.0 L1857.6,1361.3 L1858.4,1359.3 L1858.5,1359.1 L1859.1,1357.3 L1859.9,1354.4 L1860.6,1351.2 L1861.4,1348.1 L1862.1,1344.7 L1862.9,1341.3 L1863.6,1337.6 L1864.4,1333.5 L1865.1,1329.2 L1865.5,1326.7 L1865.9,1323.2 L1866.6,1316.5 L1867.4,1309.9 L1868.1,1302.8 L1868.9,1296.7 L1869.6,1290.5 L1870.4,1282.9 L1870.7,1279.8 L1871.1,1275.3 L1871.9,1269.6 L1872.6,1263.6 L1873.4,1255.2 L1874.1,1246.6 L1874.9,1238.7 L1875.6,1230.9 L1875.9,1228.3 L1876.4,1224.0 L1877.1,1217.0 L1877.9,1208.2 L1878.6,1199.5 L1879.4,1192.1 L1880.1,1184.9 L1880.9,1177.8 L1881.2,1175.3 L1881.6,1170.9 L1882.4,1164.3 L1883.1,1157.7 L1883.9,1151.1 L1884.6,1144.9 L1885.4,1138.6 L1886.1,1132.9 L1886.4,1131.3 L1886.9,1128.3 L1887.6,1123.7 L1888.4,1118.7 L1889.1,1114.1 L1889.9,1111.0 L1890.6,1108.6 L1891.4,1106.4 L1891.6,1105.9 L1892.1,1104.9 L1892.9,1104.9 L1893.6,1105.0 L1894.4,1103.2 L1895.1,1101.7 L1895.8,1101.9 L1895.9,1101.9 L1896.6,1103.0 L1897.4,1105.0 L1898.1,1107.7 L1898.9,1111.0 L1899.6,1114.5 L1900.3,1116.4 L1900.4,1116.6 L1901.1,1118.9 L1901.9,1123.1 L1902.6,1127.6 L1903.4,1131.7 L1904.1,1135.6 L1904.9,1139.4 L1905.6,1142.5 L1905.6,1142.8 L1906.4,1147.8 L1907.1,1152.6 L1907.9,1155.4 L1908.6,1158.1 L1909.4,1159.8 L1910.1,1161.5 L1910.9,1164.6 L1911.6,1167.7 L1912.4,1171.3 L1912.6,1172.1 L1913.1,1174.9 L1913.9,1176.9 L1914.6,1178.8 L1915.4,1181.2 L1916.1,1183.5 L1916.9,1187.4 L1917.6,1191.0 L1918.4,1191.7 L1919.1,1191.9 L1919.5,1192.5 L1919.9,1193.0 L1920.6,1193.9 L1921.4,1195.3 L1922.1,1196.7 L1922.9,1196.5 L1923.6,1196.3 L1924.4,1197.2 L1925.1,1198.1 L1925.9,1198.4 L1926.5,1198.5 L1926.6,1198.5 L1927.4,1198.4 L1928.1,1197.6 L1928.9,1194.9 L1929.6,1191.6 L1930.4,1190.1 L1931.1,1188.2 L1931.9,1184.3 L1932.6,1180.3 L1933.4,1177.5 L1933.5,1177.1 L1934.1,1174.1 L1934.9,1167.5 L1935.6,1159.8 L1936.4,1151.6 L1937.1,1142.5 L1937.9,1133.3 L1938.6,1123.6 L1938.7,1122.6 L1939.4,1112.3 L1940.1,1098.7 L1940.9,1084.7 L1941.6,1069.8 L1942.4,1053.9 L1943.1,1038.3 L1943.3,1036.1 L1943.9,1023.4 L1944.6,1007.5 L1945.4,990.2 L1946.1,973.5 L1946.9,958.0 L1947.4,947.9 L1947.6,944.5 L1948.4,933.6 L1949.1,923.1 L1949.9,911.2 L1950.6,900.0 L1951.4,891.4 L1952.1,884.1 L1952.7,880.0 L1952.9,878.5 L1953.6,873.2 L1954.4,867.2 L1955.1,861.7 L1955.9,855.8 L1956.6,851.0 L1957.4,849.3 L1957.9,849.2 L1958.1,849.4 L1958.9,851.8 L1959.6,855.8 L1960.4,859.8 L1961.1,864.7 L1961.9,870.1 L1962.6,875.8 L1963.1,879.9 L1963.4,882.1 L1964.1,889.7 L1964.9,896.4 L1965.6,904.3 L1966.4,916.3 L1967.1,929.0 L1967.9,940.1 L1968.4,947.2 L1968.6,951.4 L1969.4,965.3 L1970.1,980.3 L1970.9,995.9 L1971.6,1011.9 L1972.4,1028.5 L1973.1,1044.7 L1973.6,1054.4 L1973.9,1060.4 L1974.6,1076.5 L1975.4,1092.3 L1976.1,1108.1 L1976.9,1123.4 L1977.6,1137.8 L1978.4,1150.8 L1978.8,1157.8 L1979.1,1162.4 L1979.9,1175.0 L1980.6,1187.4 L1981.4,1197.7 L1982.1,1207.4 L1982.9,1215.8 L1983.6,1223.4 L1984.4,1232.4 L1985.1,1240.2 L1985.8,1245.5 L1985.9,1246.1 L1986.6,1251.2 L1987.4,1254.6 L1988.1,1257.6 L1988.9,1262.0 L1989.6,1266.1 L1990.4,1270.0 L1991.1,1273.5 L1991.9,1274.9 L1992.6,1275.9 L1992.8,1276.4 L1993.4,1278.0 L1994.1,1279.8 L1994.9,1281.3 L1995.6,1282.6 L1996.4,1283.3 L1997.1,1283.9 L1997.9,1285.5 L1998.6,1287.3 L1999.4,1288.7 L1999.8,1289.5 L2000.1,1290.3 L2000.9,1293.2 L2001.6,1296.3 L2002.4,1298.9 L2003.1,1301.7 L2003.9,1306.1 L2004.6,1310.5 L2005.4,1313.2 L2006.1,1315.8 L2006.7,1318.9 L2006.9,1319.6 L2007.6,1323.5 L2008.4,1325.5 L2009.1,1327.5 L2009.9,1331.8 L2010.6,1336.1 L2011.4,1339.9 L2012.1,1343.7 L2012.9,1347.2 L2013.6,1350.5 L2013.7,1350.7 L2014.4,1352.8 L2015.1,1355.2 L2015.9,1358.9 L2016.6,1362.5 L2017.4,1365.8 L2018.1,1369.0 L2018.9,1371.6 L2019.6,1374.0 L2020.4,1376.4 L2020.7,1377.3 L2021.1,1378.5 L2021.9,1381.3 L2022.6,1383.9 L2023.4,1384.8 L2024.1,1385.6 L2024.9,1387.0 L2025.6,1388.2 L2026.4,1390.7 L2027.1,1393.0 L2027.9,1394.8 L2028.6,1396.4 L2029.4,1395.6 L2029.4,1395.6 L2030.1,1394.8 L2030.9,1397.9 L2031.6,1401.0 L2032.4,1400.9 L2033.1,1400.7 L2033.9,1401.6 L2034.6,1402.5 L2035.4,1402.1 L2036.1,1401.7 L2036.9,1402.7 L2037.6,1403.7 L2038.4,1405.3 L2039.1,1406.9 L2039.9,1407.3 L2040.6,1407.7 L2041.4,1407.3 L2041.6,1407.1 L2042.1,1406.8 L2042.9,1406.5 L2043.6,1406.2 L2044.4,1406.7 L2045.1,1407.1 L2045.9,1408.4 L2046.6,1409.6 L2047.4,1408.6 L2048.1,1407.5 L2048.9,1407.7 L2049.6,1407.8 L2050.4,1408.6 L2051.1,1409.4 L2051.9,1410.3 L2052.6,1411.2 L2053.4,1410.1 L2054.1,1409.0 L2054.9,1410.1 L2055.6,1411.1 L2056.4,1411.2 L2057.1,1411.3 L2057.9,1411.2 L2058.6,1411.1 L2059.1,1411.0 L2059.4,1410.9 L2060.1,1410.7 L2060.9,1411.4 L2061.6,1412.2 L2062.4,1411.9 L2063.1,1411.7 L2063.9,1410.4 L2064.6,1409.0 L2065.4,1411.0 L2066.1,1413.0 L2066.9,1412.3 L2067.6,1411.5 L2068.4,1411.4 L2069.1,1411.3 L2069.9,1410.9 L2070.6,1410.4 L2071.4,1410.5 L2072.1,1410.5 L2072.9,1409.1 L2073.6,1407.6 L2074.4,1409.1 L2075.1,1410.6 L2075.9,1411.1 L2076.6,1411.7 L2077.4,1411.7 L2078.1,1411.7 L2078.9,1410.9 L2079.6,1410.0 L2080.4,1408.9 L2081.1,1407.8 L2081.9,1408.6 L2082.6,1409.4 L2083.4,1409.9 L2084.1,1410.5 L2084.9,1411.5 L2085.6,1412.6 L2086.4,1410.7 L2087.1,1408.8 L2087.9,1409.8 L2088.6,1410.9 L2089.4,1411.3 L2090.1,1411.7 L2090.9,1411.7 L2091.6,1411.7 L2092.4,1411.2 L2093.1,1410.8 L2093.9,1409.0 L2093.9,1408.9 L2094.6,1407.2 L2095.4,1409.4 L2096.1,1411.7 L2096.9,1411.3 L2097.6,1411.0 L2098.4,1411.2 L2099.1,1411.5 L2099.9,1410.5 L2100.6,1409.5 L2101.4,1409.8 L2102.1,1410.0 L2102.9,1411.3 L2103.6,1412.5 L2104.4,1411.5 L2105.1,1410.4 L2105.9,1410.4 L2106.6,1410.4 L2107.4,1409.9 L2108.1,1409.3 L2108.9,1410.6 L2109.6,1411.8 L2110.4,1409.9 L2111.1,1407.9 L2111.9,1408.6 L2112.6,1409.3 L2113.4,1409.8 L2114.1,1410.4 L2114.9,1410.1 L2115.6,1409.7 L2116.4,1410.2 L2117.1,1410.8 L2117.9,1410.5 L2118.6,1410.1 L2119.4,1410.7 L2120.1,1411.4 L2120.9,1410.2 L2121.6,1409.1 L2122.4,1409.1 L2123.1,1409.2 L2123.9,1409.4 L2124.6,1409.6 L2125.4,1408.3 L2126.1,1406.9 L2126.9,1409.0 L2127.6,1411.1 L2128.4,1409.5 L2128.8,1408.6 L2129.1,1408.0 L2129.9,1409.4 L2130.6,1410.7 L2131.4,1410.9 L2132.1,1411.2 L2132.9,1410.9 L2133.6,1410.6 L2134.4,1410.1 L2135.1,1409.6 L2135.9,1409.1 L2136.6,1408.6 L2137.4,1407.7 L2138.1,1406.7 L2138.9,1408.5 L2139.6,1410.4 L2140.4,1409.9 L2141.1,1409.4 L2141.9,1410.7 L2142.6,1412.1 L2143.4,1410.8 L2144.1,1409.5 L2144.9,1410.2 L2145.6,1410.9 L2146.4,1410.3 L2147.1,1409.6 L2147.9,1410.2 L2148.6,1410.9 L2149.4,1410.4 L2150.1,1409.9 L2150.9,1410.1 L2151.6,1410.3 L2152.4,1409.2 L2153.1,1408.2 L2153.9,1409.0 L2154.6,1409.8 L2155.4,1410.2 L2156.1,1410.6 L2156.9,1411.6 L2157.6,1412.6 L2158.4,1412.0 L2158.5,1411.9"/>
</g>
<g fill="none" stroke-width="5.1" stroke-linejoin="round" stroke-linecap="round" shape-rendering="crispEdges">
<path stroke="#00ff00" d="M250.6,3094.7 L251.5,3099.3 L252.4,3100.0 L253.3,3109.5 L254.2,3098.1 L255.1,3105.7 L256.0,3104.3 L256.9,3104.5 L257.8,3114.4 L257.9,3108.0 L258.7,3115.0 L259.6,3119.6 L260.5,3117.2 L261.4,3112.6 L262.3,3108.3 L263.2,3109.4 L264.1,3116.1 L265.0,3109.6 L265.9,3110.8 L266.8,3115.7 L267.7,3116.0 L268.6,3118.5 L269.5,3118.3 L270.4,3123.8 L271.3,3117.1 L272.2,3120.4 L272.5,3123.1 L273.1,3119.3 L274.0,3120.3 L274.9,3115.4 L275.8,3114.1 L276.7,3116.6 L277.6,3115.5 L278.5,3115.8 L279.4,3123.7 L280.3,3121.2 L281.2,3124.1 L282.1,3115.6 L283.0,3125.3 L283.9,3125.2 L284.8,3118.3 L285.7,3110.1 L286.6,3111.8 L287.5,3111.3 L288.4,3110.2 L289.3,3111.7 L290.2,3113.9 L290.8,3108.7 L291.1,3108.0 L292.0,3110.8 L292.9,3109.0 L293.8,3110.5 L294.7,3105.8 L295.6,3108.7 L296.5,3112.7 L297.4,3105.4 L298.3,3103.9 L299.2,3104.6 L300.1,3101.3 L301.0,3092.6 L301.7,3098.3 L301.9,3099.9 L302.8,3095.7 L303.7,3097.2 L304.6,3101.5 L305.5,3102.5 L306.4,3101.3 L307.3,3101.8 L308.2,3098.1 L309.1,3106.6 L310.0,3108.4 L310.9,3105.9 L311.8,3104.7 L312.7,3105.7 L312.7,3108.3 L313.6,3106.9 L314.5,3104.9 L315.4,3100.1 L316.3,3100.6 L317.2,3099.9 L318.1,3099.8 L319.0,3100.8 L319.9,3102.8 L320.8,3112.7 L321.7,3109.1 L322.6,3114.0 L323.5,3116.2 L324.4,3118.3 L325.3,3116.2 L326.2,3120.1 L327.1,3117.1 L327.3,3117.3 L328.0,3116.4 L328.9,3112.3 L329.8,3111.5 L330.7,3109.8 L331.6,3111.6 L332.5,3117.7 L333.4,3109.2 L334.3,3113.4 L335.2,3113.2 L336.1,3118.7 L337.0,3119.5 L337.9,3114.5 L338.8,3112.1 L339.7,3115.7 L340.6,3108.6 L341.5,3098.9 L341.9,3100.0 L342.4,3099.8 L343.3,3095.5 L344.2,3105.5 L345.1,3094.5 L346.0,3098.8 L346.9,3103.8 L347.8,3107.9 L348.7,3107.9 L349.6,3111.1 L350.5,3115.3 L351.4,3118.1 L352.3,3116.4 L352.8,3113.6 L353.2,3112.0 L354.1,3111.6 L355.0,3111.8 L355.9,3111.6 L356.8,3115.0 L357.7,3121.3 L358.6,3118.0 L359.5,3118.6 L360.4,3122.0 L361.3,3120.0 L362.2,3120.5 L363.1,3126.7 L364.0,3122.7 L364.9,3120.4 L365.8,3124.0 L366.7,3126.4 L367.4,3130.9 L367.6,3126.5 L368.5,3128.1 L369.4,3121.4 L370.3,3125.8 L371.2,3116.2 L372.1,3125.1 L373.0,3127.5 L373.9,3135.3 L374.8,3132.1 L375.7,3130.9 L376.6,3125.9 L377.5,3121.9 L378.4,3121.2 L379.3,3120.3 L380.2,3109.9 L381.1,3113.7 L382.0,3116.5 L382.0,3107.4 L382.9,3105.6 L383.8,3106.3 L384.7,3100.9 L385.6,3107.2 L386.5,3101.4 L387.4,3100.4 L388.3,3098.8 L389.2,3107.1 L390.1,3098.0 L391.0,3093.9 L391.9,3088.7 L392.8,3091.1 L393.0,3084.0 L393.7,3088.2 L394.6,3086.0 L395.5,3080.2 L396.4,3080.3 L397.3,3067.3 L398.2,3065.7 L399.1,3060.7 L400.0,3052.5 L400.9,3041.1 L401.8,3031.8 L402.7,3013.5 L403.6,3008.6 L403.9,3003.8 L404.5,2992.8 L405.4,2974.1 L406.3,2958.5 L407.2,2950.0 L408.1,2929.3 L409.0,2911.7 L409.9,2898.6 L410.8,2871.2 L411.2,2855.8 L411.7,2843.8 L412.6,2806.2 L413.5,2776.0 L414.4,2746.8 L415.3,2702.2 L416.2,2661.8 L416.7,2642.7 L417.1,2621.8 L418.0,2566.2 L418.9,2515.1 L419.8,2471.7 L420.7,2444.9 L421.5,2428.8 L421.6,2433.0 L422.5,2453.5 L423.4,2495.2 L424.3,2549.5 L425.2,2600.9 L425.9,2641.3 L426.1,2654.7 L427.0,2691.9 L427.9,2724.1 L428.8,2756.5 L429.7,2789.6 L430.6,2824.9 L431.3,2849.3 L431.5,2853.6 L432.4,2887.4 L433.3,2927.4 L434.2,2965.2 L435.1,2998.9 L436.0,3028.5 L436.8,3041.0 L436.9,3042.4 L437.8,3059.8 L438.7,3061.6 L439.6,3074.2 L440.5,3078.0 L441.4,3079.2 L442.3,3087.5 L443.2,3092.1 L444.1,3096.6 L445.0,3105.0 L445.9,3107.7 L445.9,3109.2 L446.8,3112.3 L447.7,3112.3 L448.6,3110.5 L449.5,3117.1 L450.4,3115.5 L451.3,3116.0 L452.2,3111.1 L453.1,3117.9 L454.0,3119.7 L454.9,3125.7 L455.8,3120.2 L456.7,3113.6 L457.6,3116.6 L458.5,3108.8 L458.7,3115.0 L459.4,3118.8 L460.3,3115.0 L461.2,3111.5 L462.1,3120.7 L463.0,3120.5 L463.9,3125.2 L464.8,3126.6 L465.7,3135.0 L466.6,3141.0 L467.5,3142.7 L468.4,3141.2 L469.3,3137.8 L470.2,3139.9 L471.1,3142.4 L472.0,3140.1 L472.9,3137.6 L473.3,3137.0 L473.8,3131.9 L474.7,3133.8 L475.6,3134.5 L476.5,3124.7 L477.4,3125.5 L478.3,3124.3 L479.2,3122.3 L480.1,3132.1 L481.0,3130.0 L481.9,3127.5 L482.8,3120.7 L483.7,3116.4 L484.6,3112.2 L485.5,3114.5 L486.4,3106.9 L487.3,3108.9 L487.9,3114.7 L488.2,3116.7 L489.1,3122.2 L490.0,3121.5 L490.9,3120.7 L491.8,3115.8 L492.7,3115.3 L493.6,3109.5 L494.5,3111.1 L495.4,3110.7 L496.3,3111.8 L497.2,3102.0 L498.1,3101.1 L498.9,3103.6 L499.0,3097.3 L499.9,3094.6 L500.8,3089.2 L501.7,3080.8 L502.6,3078.8 L503.5,3079.6 L504.4,3070.1 L505.3,3066.4 L506.2,3054.5 L507.1,3047.2 L508.0,3047.3 L508.9,3041.4 L509.8,3035.7 L509.8,3038.6 L510.7,3033.6 L511.6,3018.8 L512.5,3009.1 L513.4,3005.6 L514.3,2997.5 L515.2,2990.0 L516.1,2983.1 L517.0,2977.1 L517.9,2967.2 L518.8,2950.4 L518.9,2953.6 L519.7,2939.8 L520.6,2923.1 L521.5,2901.1 L522.4,2890.6 L523.3,2877.6 L524.2,2856.8 L525.1,2833.8 L526.0,2818.3 L526.3,2818.2 L526.9,2808.4 L527.8,2801.4 L528.7,2785.1 L529.6,2766.7 L530.5,2745.3 L531.4,2716.0 L531.7,2718.1 L532.3,2706.6 L533.2,2694.8 L534.1,2683.2 L535.0,2676.7 L535.9,2676.5 L536.1,2674.1 L536.8,2675.0 L537.7,2676.1 L538.6,2672.5 L539.5,2669.2 L539.8,2660.8 L540.4,2672.2 L541.3,2678.1 L542.2,2686.7 L543.1,2703.1 L544.0,2723.8 L544.5,2725.0 L544.9,2733.3 L545.8,2751.4 L546.7,2762.9 L547.6,2783.1 L548.5,2794.2 L549.4,2814.0 L550.0,2819.0 L550.3,2821.3 L551.2,2838.4 L552.1,2850.2 L553.0,2859.8 L553.9,2874.7 L554.8,2887.4 L555.5,2903.8 L555.7,2901.3 L556.6,2916.0 L557.5,2922.1 L558.4,2923.3 L559.3,2932.0 L560.2,2938.9 L560.2,2936.1 L561.1,2943.3 L562.0,2946.4 L562.9,2943.6 L563.8,2953.0 L564.6,2942.9 L564.7,2951.3 L565.6,2946.5 L566.5,2939.6 L567.4,2935.9 L568.2,2924.3 L568.3,2928.5 L569.2,2911.0 L570.1,2886.5 L571.0,2864.7 L571.9,2848.0 L571.9,2854.7 L572.8,2830.4 L573.7,2815.3 L574.6,2803.3 L575.5,2796.2 L575.5,2794.7 L576.4,2797.0 L577.3,2797.2 L578.2,2796.1 L579.1,2789.8 L579.2,2792.0 L580.0,2799.6 L580.9,2820.1 L581.8,2834.8 L582.7,2847.0 L582.8,2852.6 L583.6,2867.1 L584.5,2881.3 L585.4,2897.1 L586.3,2911.2 L587.2,2926.1 L588.1,2935.2 L588.3,2944.0 L589.0,2951.8 L589.9,2965.1 L590.8,2978.0 L591.7,2990.7 L592.6,3003.0 L593.5,3006.7 L593.8,3024.1 L594.4,3020.6 L595.3,3035.9 L596.2,3045.0 L597.1,3043.9 L598.0,3047.2 L598.9,3058.7 L599.8,3063.1 L600.7,3078.2 L601.1,3073.3 L601.6,3073.9 L602.5,3076.3 L603.4,3076.0 L604.3,3080.3 L605.2,3081.9 L606.1,3087.5 L607.0,3086.2 L607.9,3086.3 L608.8,3092.2 L609.7,3095.1 L610.6,3096.4 L611.5,3111.8 L612.0,3104.5 L612.4,3107.5 L613.3,3111.4 L614.2,3105.9 L615.1,3103.5 L616.0,3119.6 L616.9,3128.3 L617.8,3121.9 L618.7,3113.0 L619.6,3119.1 L620.5,3115.6 L621.4,3116.5 L622.3,3112.5 L623.0,3110.2 L623.2,3112.8 L624.1,3114.1 L625.0,3116.8 L625.9,3114.5 L626.8,3119.4 L627.7,3127.8 L628.6,3131.5 L629.5,3131.1 L630.4,3127.7 L631.3,3128.6 L632.2,3128.4 L633.1,3125.3 L634.0,3122.3 L634.9,3132.3 L635.8,3136.1 L636.7,3135.6 L637.6,3134.7 L637.6,3134.3 L638.5,3131.3 L639.4,3133.2 L640.3,3125.8 L641.2,3128.1 L642.1,3125.7 L643.0,3125.6 L643.9,3133.8 L644.8,3130.6 L645.7,3128.1 L646.6,3126.9 L647.5,3126.7 L648.4,3123.8 L649.3,3121.0 L650.2,3127.5 L651.1,3123.2 L652.0,3121.3 L652.2,3127.8 L652.9,3122.3 L653.8,3125.1 L654.7,3130.8 L655.6,3129.0 L656.5,3125.8 L657.4,3133.0 L658.3,3121.9 L659.2,3124.4 L659.5,3123.3 L660.1,3125.1 L661.0,3117.3 L661.9,3121.9 L662.8,3122.1 L663.7,3117.0 L664.6,3116.9 L665.5,3112.0 L666.4,3112.6 L667.3,3111.9 L668.2,3113.8 L669.1,3118.3 L670.0,3118.5 L670.9,3113.6 L671.8,3110.2 L672.7,3102.8 L673.6,3102.4 L674.1,3106.8 L674.5,3107.9 L675.4,3108.9 L676.3,3115.8 L677.2,3112.2 L678.1,3113.8 L679.0,3115.4 L679.9,3123.0 L680.8,3123.4 L681.7,3126.6 L682.6,3125.9 L683.5,3120.3 L684.4,3108.0 L685.3,3111.6 L686.2,3115.5 L687.1,3113.0 L688.0,3114.7 L688.9,3123.6 L689.8,3116.4 L690.7,3116.2 L691.6,3110.1 L692.4,3107.8 L692.5,3104.0 L693.4,3107.4 L694.3,3111.0 L695.2,3119.7 L696.1,3115.5 L697.0,3111.4 L697.9,3102.0 L698.8,3096.9 L699.7,3099.3 L700.6,3099.4 L701.5,3098.5 L702.4,3104.8 L703.3,3099.6 L704.2,3100.5 L705.1,3099.4 L706.0,3092.1 L706.9,3099.7 L707.8,3106.6 L708.7,3105.0 L709.6,3097.9 L710.5,3089.3 L710.6,3092.0 L711.4,3093.8 L712.3,3088.1 L713.2,3087.8 L714.1,3086.4 L715.0,3088.6 L715.9,3086.2 L716.8,3088.2 L717.7,3084.2 L718.6,3086.9 L719.5,3081.9 L720.4,3088.3 L721.3,3087.8 L722.2,3079.9 L723.1,3081.1 L724.0,3084.8 L724.9,3080.5 L725.2,3081.3 L725.8,3077.3 L726.7,3071.1 L727.6,3072.3 L728.5,3074.7 L729.4,3077.2 L730.3,3073.4 L731.2,3068.3 L732.1,3067.5 L733.0,3064.5 L733.9,3061.3 L734.8,3053.5 L735.7,3053.1 L736.2,3046.4 L736.6,3046.4 L737.5,3042.7 L738.4,3037.3 L739.3,3037.4 L740.2,3035.5 L741.1,3029.2 L742.0,3013.6 L742.9,3002.3 L743.5,2992.2 L743.8,2986.3 L744.7,2975.7 L745.6,2942.5 L746.5,2916.2 L747.1,2887.8 L747.4,2878.1 L748.3,2828.7 L749.2,2768.4 L750.1,2706.6 L750.1,2705.1 L751.0,2619.1 L751.8,2558.7 L751.9,2549.2 L752.8,2483.5 L753.7,2443.3 L753.9,2442.5 L754.6,2464.6 L755.5,2522.9 L756.0,2554.1 L756.4,2578.6 L757.3,2656.4 L758.2,2741.4 L759.0,2798.1 L759.1,2804.6 L760.0,2871.8 L760.9,2925.0 L761.0,2921.5 L761.8,2921.8 L762.7,2922.7 L763.6,2912.1 L764.5,2914.4 L765.4,2914.8 L766.3,2913.2 L767.2,2924.2 L768.1,2921.9 L769.0,2934.8 L769.9,2934.1 L770.2,2932.8 L770.8,2930.9 L771.7,2931.9 L772.6,2931.8 L773.5,2931.7 L774.4,2933.6 L775.3,2934.7 L776.2,2935.6 L777.1,2936.0 L777.5,2934.9 L778.0,2937.3 L778.9,2951.2 L779.8,2952.5 L780.7,2960.4 L781.6,2961.5 L782.5,2970.7 L783.4,2971.5 L784.3,2971.8 L784.8,2966.4 L785.2,2968.6 L786.1,2966.9 L787.0,2975.1 L787.9,2981.8 L788.8,2983.5 L789.7,2988.2 L790.6,2991.2 L791.5,2998.3 L792.1,2997.2 L792.4,2993.9 L793.3,2999.5 L794.2,3004.0 L795.1,3003.5 L796.0,3003.5 L796.9,3004.0 L797.8,3010.0 L798.7,3010.6 L799.6,3014.7 L800.5,3015.1 L801.2,3015.4 L801.4,3014.1 L802.3,3017.5 L803.2,3023.8 L804.1,3021.1 L805.0,3024.2 L805.9,3032.4 L806.8,3029.5 L807.7,3019.7 L808.5,3021.2 L808.6,3021.4 L809.5,3017.1 L810.4,3025.6 L811.3,3023.9 L812.2,3023.2 L813.1,3029.7 L814.0,3035.1 L814.9,3037.3 L815.8,3039.7 L816.7,3050.0 L817.6,3048.7 L817.6,3049.2 L818.5,3050.5 L819.4,3044.3 L820.3,3050.8 L821.2,3050.3 L822.1,3046.7 L823.0,3045.2 L823.9,3042.0 L824.8,3050.4 L825.7,3057.9 L826.6,3065.0 L826.8,3070.2 L827.5,3061.9 L828.4,3061.4 L829.3,3055.4 L830.2,3056.5 L831.1,3056.0 L832.0,3059.2 L832.9,3056.0 L833.8,3049.7 L834.7,3049.3 L835.6,3047.3 L835.9,3052.3 L836.5,3054.3 L837.4,3049.7 L838.3,3055.5 L839.2,3060.1 L840.1,3064.5 L841.0,3060.5 L841.9,3060.3 L842.8,3066.5 L843.7,3062.8 L844.6,3061.9 L845.5,3061.8 L846.4,3069.2 L846.8,3066.2 L847.3,3071.2 L848.2,3058.3 L849.1,3056.0 L850.0,3058.0 L850.9,3061.8 L851.8,3064.6 L852.7,3066.3 L853.6,3075.8 L854.5,3075.0 L855.4,3077.2 L856.3,3074.9 L857.2,3074.6 L857.8,3072.2 L858.1,3079.7 L859.0,3078.4 L859.9,3079.9 L860.8,3083.3 L861.7,3080.3 L862.6,3081.5 L863.5,3086.1 L864.4,3093.4 L865.3,3089.8 L866.2,3089.1 L867.1,3087.3 L868.0,3090.7 L868.7,3083.2 L868.9,3089.3 L869.8,3092.1 L870.7,3095.5 L871.6,3093.3 L872.5,3097.3 L873.4,3093.7 L874.3,3090.5 L875.2,3093.5 L876.1,3095.9 L877.0,3094.8 L877.9,3095.4 L878.8,3087.5 L879.7,3083.9 L879.7,3085.2 L880.6,3080.3 L881.5,3088.3 L882.4,3090.1 L883.3,3096.2 L884.2,3098.8 L885.1,3107.4 L886.0,3107.1 L886.9,3104.1 L887.8,3098.4 L888.7,3098.6 L889.6,3094.8 L890.5,3090.5 L890.6,3096.1 L891.4,3099.6 L892.3,3104.6 L893.2,3106.4 L894.1,3099.6 L895.0,3094.0 L895.9,3094.4 L896.8,3099.1 L897.7,3106.6 L898.6,3103.6 L899.5,3103.5 L900.4,3098.5 L901.3,3095.5 L901.6,3090.7 L902.2,3090.3 L903.1,3085.9 L904.0,3089.7 L904.9,3088.5 L905.8,3099.0 L906.7,3099.6 L907.6,3106.8 L908.5,3108.6 L909.4,3099.5 L910.3,3104.9 L911.2,3101.7 L912.1,3104.1 L912.5,3099.2 L913.0,3102.1 L913.9,3104.7 L914.8,3100.8 L915.7,3101.4 L916.6,3109.8 L917.5,3103.4 L918.4,3112.8 L919.3,3103.0 L920.2,3101.5 L921.1,3108.6 L922.0,3110.1 L922.9,3111.3 L923.5,3116.4 L923.8,3110.2 L924.7,3122.9 L925.6,3118.1 L926.5,3113.9 L927.4,3110.3 L928.3,3113.5 L929.2,3121.8 L930.1,3118.8 L931.0,3122.6 L931.9,3125.0 L932.8,3118.8 L933.7,3120.4 L934.5,3109.6 L934.6,3111.1 L935.5,3105.6 L936.4,3105.1 L937.3,3121.5 L938.2,3118.7 L939.1,3120.9 L940.0,3121.3 L940.9,3123.0 L941.8,3118.5 L942.7,3112.2 L943.6,3109.5 L944.5,3112.3 L945.4,3117.2 L946.3,3111.6 L947.2,3118.4 L948.1,3122.6 L949.0,3114.3 L949.1,3115.6 L949.9,3107.5 L950.8,3115.7 L951.7,3113.3 L952.6,3116.2 L953.5,3119.4 L954.4,3113.2 L955.3,3117.6 L956.2,3115.5 L957.1,3114.3 L958.0,3115.6 L958.9,3114.1 L959.8,3120.9 L960.7,3118.1 L961.6,3118.8 L962.5,3117.2 L963.4,3108.7 L964.3,3123.3 L965.2,3115.6 L966.1,3115.7 L967.0,3116.7 L967.3,3117.6 L967.9,3121.5 L968.8,3115.3 L969.7,3117.8 L970.6,3107.6 L971.5,3112.7 L972.4,3112.7 L973.3,3116.3 L974.2,3119.8 L975.1,3110.8 L976.0,3108.6 L976.9,3116.4 L977.8,3114.6 L978.7,3108.5 L979.6,3104.3 L980.5,3103.5 L981.4,3111.9 L982.3,3117.2 L983.2,3117.6 L984.1,3111.8 L985.0,3107.2 L985.6,3105.5 L985.9,3115.7 L986.8,3117.6 L987.7,3123.5 L988.6,3121.8 L989.5,3113.7 L990.4,3106.9 L991.3,3109.6 L992.2,3109.6 L993.1,3109.0 L994.0,3106.1 L994.9,3102.0 L995.8,3110.2 L996.7,3112.7 L997.6,3112.7 L998.5,3116.9 L999.4,3110.0 L1000.3,3112.5 L1001.2,3116.7 L1002.1,3110.6 L1003.0,3106.0 L1003.8,3112.3 L1003.9,3113.0 L1004.8,3113.4 L1005.7,3113.2 L1006.6,3120.0 L1007.5,3115.7 L1008.4,3121.2 L1009.3,3116.1 L1010.2,3112.8 L1011.1,3114.4 L1012.0,3116.8 L1012.9,3112.4 L1013.8,3105.3 L1014.7,3103.5 L1015.6,3100.5 L1016.5,3111.0 L1017.4,3106.7 L1018.3,3108.1 L1019.2,3114.0 L1020.1,3109.4 L1021.0,3113.0 L1021.9,3111.7 L1022.1,3119.2 L1022.8,3118.7 L1023.7,3120.1 L1024.6,3128.0 L1025.5,3114.6 L1026.4,3110.1 L1027.3,3104.1 L1028.2,3112.5 L1029.1,3104.4 L1030.0,3106.8 L1030.9,3112.9 L1031.8,3116.2 L1032.7,3116.7 L1033.6,3119.6 L1034.5,3118.4 L1035.4,3121.4 L1036.3,3117.9 L1037.2,3114.0 L1038.1,3110.4 L1039.0,3113.2 L1039.9,3118.6 L1040.3,3115.1 L1040.8,3110.1 L1041.7,3117.5 L1042.6,3122.9 L1043.5,3117.8 L1044.4,3114.5 L1045.3,3117.7 L1046.2,3119.0 L1047.1,3120.4 L1048.0,3115.2 L1048.9,3121.2 L1049.8,3113.7 L1050.7,3113.1 L1051.6,3116.2 L1052.5,3113.8 L1053.4,3112.4 L1054.3,3111.3 L1055.2,3107.5 L1056.1,3103.0 L1057.0,3101.2 L1057.9,3099.3 L1058.6,3103.7 L1058.8,3104.6 L1059.7,3106.5 L1060.6,3109.4 L1061.5,3109.7 L1062.4,3110.1 L1063.3,3102.5 L1064.2,3104.6 L1065.1,3103.5 L1066.0,3102.2 L1066.9,3097.7 L1067.8,3104.0 L1068.7,3101.6 L1069.6,3101.6 L1070.5,3106.7 L1071.4,3105.7 L1072.3,3106.1 L1073.2,3101.8 L1073.2,3104.2 L1074.1,3102.7 L1075.0,3102.1 L1075.9,3101.3 L1076.8,3099.5 L1077.7,3100.8 L1078.6,3111.2 L1079.5,3107.9 L1080.4,3103.5 L1081.3,3106.9 L1082.2,3101.5 L1083.1,3104.3 L1084.0,3106.4 L1084.1,3100.8 L1084.9,3109.7 L1085.8,3106.5 L1086.7,3105.9 L1087.6,3108.5 L1088.5,3105.3 L1089.4,3100.9 L1090.3,3104.5 L1091.2,3107.7 L1092.1,3114.4 L1093.0,3116.6 L1093.9,3105.4 L1094.8,3112.3 L1095.1,3116.7 L1095.7,3111.8 L1096.6,3118.8 L1097.5,3119.5 L1098.4,3117.5 L1099.3,3115.4 L1100.2,3116.5 L1101.1,3122.8 L1102.0,3123.3 L1102.9,3126.8 L1103.8,3121.1 L1104.7,3117.4 L1105.6,3123.0 L1106.5,3117.5 L1107.4,3121.8 L1108.3,3116.0 L1109.2,3117.7 L1110.1,3115.5 L1111.0,3110.9 L1111.9,3119.4 L1112.8,3113.5 L1113.4,3115.0 L1113.7,3122.2 L1114.6,3125.2 L1115.5,3118.1 L1116.4,3122.5 L1117.3,3119.1 L1118.2,3123.1 L1119.1,3129.6 L1120.0,3126.4 L1120.9,3119.2 L1121.8,3117.6 L1122.7,3115.2 L1123.6,3117.9 L1124.5,3129.3 L1125.4,3125.0 L1126.3,3117.2 L1127.2,3119.6 L1128.1,3123.2 L1129.0,3125.3 L1129.9,3128.4 L1130.8,3129.2 L1131.6,3130.2 L1131.7,3127.8 L1132.6,3131.2 L1133.5,3130.4 L1134.4,3124.9 L1135.3,3117.0 L1136.2,3117.8 L1137.1,3118.0 L1138.0,3128.5 L1138.9,3129.6 L1139.8,3129.6 L1140.7,3123.3 L1141.6,3125.0 L1142.5,3122.3 L1142.6,3121.3 L1143.4,3123.5 L1144.3,3119.4 L1145.2,3125.4 L1146.1,3118.2 L1147.0,3117.0 L1147.9,3106.8 L1148.8,3108.9 L1149.7,3110.7 L1150.6,3110.8 L1151.5,3121.1 L1152.4,3111.9 L1153.3,3116.6 L1153.5,3109.5 L1154.2,3115.5 L1155.1,3113.0 L1156.0,3117.0 L1156.9,3113.6 L1157.8,3110.1 L1158.7,3111.5 L1159.6,3105.6 L1160.5,3112.4 L1161.4,3116.8 L1162.3,3121.2 L1163.2,3123.6 L1164.1,3128.8 L1165.0,3116.9 L1165.9,3114.3 L1166.8,3108.2 L1167.7,3110.3 L1168.1,3108.0 L1168.6,3116.8 L1169.5,3122.0 L1170.4,3120.8 L1171.3,3123.8 L1172.2,3120.2 L1173.1,3118.2 L1174.0,3110.2 L1174.9,3117.6 L1175.8,3126.2 L1176.7,3124.2 L1177.6,3120.8 L1178.5,3124.5 L1179.4,3122.2 L1180.3,3117.7 L1181.2,3117.8 L1182.1,3119.9 L1183.0,3116.9 L1183.9,3121.3 L1184.8,3131.1 L1185.7,3128.4 L1186.6,3130.5 L1187.5,3120.8 L1188.4,3114.6 L1189.3,3114.3 L1190.0,3106.7 L1190.2,3102.6 L1191.1,3117.0 L1192.0,3115.7 L1192.9,3116.5 L1193.8,3118.4 L1194.7,3123.0 L1195.6,3118.8 L1196.5,3111.0 L1197.4,3106.9 L1198.3,3122.3 L1199.2,3124.0 L1200.1,3111.6 L1201.0,3107.8 L1201.9,3108.2 L1202.8,3105.5 L1203.7,3109.1 L1204.6,3107.2 L1204.6,3110.0 L1205.5,3109.4 L1206.4,3110.1 L1207.3,3110.4 L1208.2,3116.8 L1209.1,3110.1 L1210.0,3100.1 L1210.9,3102.0 L1211.8,3097.3 L1212.7,3093.5 L1213.6,3093.9 L1214.5,3101.8 L1215.4,3101.3 L1216.3,3100.9 L1217.2,3107.0 L1218.1,3104.2 L1219.0,3100.1 L1219.9,3104.0 L1220.8,3105.0 L1221.7,3100.5 L1222.6,3101.4 L1222.9,3104.5 L1223.5,3107.0 L1224.4,3097.5 L1225.3,3101.9 L1226.2,3102.4 L1227.1,3113.1 L1228.0,3106.1 L1228.9,3107.3 L1229.8,3105.7 L1230.7,3106.8 L1231.6,3108.0 L1232.5,3103.1 L1233.4,3103.1 L1234.3,3111.0 L1235.2,3104.4 L1236.1,3111.7 L1237.0,3111.6 L1237.9,3103.2 L1238.8,3112.6 L1239.7,3106.3 L1240.6,3096.8 L1241.1,3103.6 L1241.5,3105.6 L1242.4,3103.6 L1243.3,3110.9 L1244.2,3109.3 L1245.1,3105.5 L1246.0,3104.7 L1246.9,3104.1 L1247.8,3106.4 L1248.7,3110.2 L1249.6,3106.4 L1250.5,3103.6 L1251.4,3097.6 L1252.3,3098.5 L1253.2,3103.1 L1254.1,3098.6 L1255.0,3105.0 L1255.9,3110.5 L1256.8,3107.5 L1257.7,3100.9 L1258.6,3105.7 L1259.4,3105.2 L1259.5,3097.4 L1260.4,3099.1 L1261.3,3101.0 L1262.2,3108.6 L1263.1,3106.6 L1264.0,3108.8 L1264.9,3111.8 L1265.8,3111.3 L1266.7,3119.2 L1267.6,3109.6 L1268.5,3111.8 L1269.4,3118.6 L1270.0,3118.9 L1270.3,3115.7 L1271.2,3116.3 L1272.1,3111.7 L1273.0,3115.0 L1273.9,3108.7 L1274.8,3108.1 L1275.7,3119.6 L1276.6,3119.5 L1277.5,3121.5 L1278.4,3116.2 L1279.3,3123.8 L1280.2,3119.1 L1281.1,3113.2 L1282.0,3108.9 L1282.9,3113.9 L1283.8,3119.3 L1284.7,3119.7 L1285.6,3120.2 L1286.5,3128.0 L1287.4,3125.5 L1288.3,3127.1 L1289.2,3120.8 L1290.1,3117.0 L1291.0,3120.2 L1291.9,3123.4 L1292.8,3124.5 L1293.7,3127.8 L1294.6,3125.6 L1295.5,3116.0 L1296.4,3110.6 L1297.3,3100.7 L1298.2,3109.0 L1299.1,3114.3 L1300.0,3116.4 L1300.9,3117.6 L1301.8,3121.3 L1302.7,3114.1 L1303.6,3110.7 L1304.5,3121.1 L1305.4,3119.6 L1306.3,3115.0 L1307.2,3118.5 L1308.1,3124.3 L1309.0,3119.0 L1309.9,3122.9 L1310.8,3118.1 L1311.7,3116.2 L1312.6,3111.0 L1313.5,3114.4 L1314.4,3108.5 L1315.3,3108.6 L1316.2,3116.1 L1317.1,3122.0 L1318.0,3114.1 L1318.9,3110.1 L1319.8,3111.6 L1320.7,3115.2 L1321.6,3117.0 L1322.5,3110.9 L1323.4,3114.8 L1324.3,3123.0 L1325.2,3124.1 L1326.1,3126.9 L1327.0,3125.2 L1327.9,3117.1 L1328.8,3108.0 L1329.7,3113.7 L1330.6,3112.0 L1331.5,3124.0 L1332.4,3125.8 L1333.3,3123.6 L1334.2,3120.7 L1335.1,3120.6 L1336.0,3120.5 L1336.9,3122.5 L1337.8,3118.9 L1338.7,3120.8 L1339.6,3123.3 L1340.5,3110.8 L1341.4,3110.9 L1342.3,3104.0 L1343.2,3106.4 L1344.1,3115.3 L1345.0,3114.8 L1345.9,3118.3 L1346.8,3111.7 L1347.7,3107.6 L1348.6,3103.9 L1349.5,3105.1 L1350.4,3102.2 L1351.3,3109.6 L1352.2,3113.0 L1353.1,3124.1 L1354.0,3109.1 L1354.9,3122.2 L1355.8,3115.7 L1356.7,3120.2 L1357.6,3114.9 L1358.5,3112.7 L1359.4,3114.6 L1360.3,3102.4 L1361.2,3112.0 L1362.1,3110.9 L1363.0,3118.1 L1363.9,3117.9 L1364.8,3120.1 L1365.7,3117.6 L1366.6,3119.6 L1367.5,3115.5 L1368.4,3116.0 L1369.3,3108.3 L1370.2,3111.5 L1371.1,3119.4 L1372.0,3123.2 L1372.9,3117.0 L1373.8,3110.4 L1374.7,3115.0 L1375.6,3121.7 L1376.5,3121.4 L1377.4,3117.9 L1378.3,3120.4 L1379.2,3117.7 L1379.5,3120.3 L1380.1,3111.3 L1381.0,3112.9 L1381.9,3113.0 L1382.8,3113.8 L1383.7,3110.5 L1384.6,3110.4 L1385.5,3117.6 L1386.4,3116.5 L1387.3,3114.5 L1388.2,3122.2 L1389.1,3121.1 L1390.0,3117.3 L1390.9,3113.7 L1391.8,3118.1 L1392.7,3116.0 L1393.6,3119.9 L1394.5,3117.6 L1395.4,3116.1 L1396.3,3112.8 L1397.2,3120.3 L1398.1,3117.5 L1399.0,3122.3 L1399.9,3121.8 L1400.8,3121.0 L1401.7,3115.8 L1402.6,3112.0 L1403.5,3113.0 L1404.4,3111.1 L1405.3,3115.7 L1406.2,3120.3 L1407.1,3112.8 L1408.0,3113.9 L1408.9,3105.6 L1409.8,3115.9 L1410.7,3111.7 L1411.6,3109.5 L1412.5,3111.0 L1413.4,3115.4 L1414.3,3116.7 L1415.2,3109.4 L1416.1,3112.2 L1417.0,3111.8 L1417.9,3112.8 L1418.8,3109.8 L1419.7,3109.4 L1420.6,3117.6 L1421.5,3113.2 L1422.4,3114.4 L1423.3,3110.7 L1424.2,3118.6 L1425.1,3119.2 L1426.0,3125.4 L1426.9,3123.2 L1427.8,3126.8 L1428.7,3127.5 L1429.6,3123.1 L1430.5,3121.9 L1431.4,3131.1 L1432.3,3127.1 L1433.2,3121.7 L1434.1,3122.0 L1435.0,3120.5 L1435.9,3113.4 L1436.8,3114.8 L1437.7,3115.8 L1438.6,3108.2 L1439.5,3105.6 L1440.4,3109.9 L1441.3,3114.6 L1442.2,3117.7 L1443.1,3118.1 L1444.0,3117.6 L1444.9,3110.9 L1445.8,3117.5 L1446.7,3112.0 L1447.6,3115.3 L1448.5,3115.0 L1449.4,3122.1 L1450.3,3115.4 L1451.2,3117.3 L1452.1,3117.3 L1453.0,3123.3 L1453.9,3125.3 L1454.8,3112.6 L1455.7,3113.1 L1456.6,3105.3 L1457.5,3115.0 L1458.4,3115.2 L1459.3,3111.3 L1460.2,3114.7 L1461.1,3115.7 L1462.0,3119.4 L1462.9,3118.4 L1463.8,3116.3 L1464.7,3115.9 L1465.6,3116.0 L1466.5,3115.4 L1467.4,3108.6 L1468.3,3113.8 L1469.2,3117.7 L1470.1,3111.1 L1471.0,3114.9 L1471.9,3109.6 L1472.8,3108.4 L1473.7,3114.6 L1474.6,3115.8 L1475.5,3117.6 L1476.4,3120.0 L1477.3,3113.3 L1478.2,3112.4 L1479.1,3117.4 L1480.0,3113.2 L1480.9,3117.0 L1481.8,3119.8 L1482.7,3111.2 L1483.6,3112.0 L1484.5,3111.2 L1485.4,3114.6 L1486.3,3120.1 L1487.2,3117.6 L1488.1,3118.8 L1489.0,3114.0 L1489.9,3109.9 L1490.8,3111.2 L1491.7,3108.7 L1492.6,3106.8 L1493.5,3112.1 L1494.4,3112.2 L1495.3,3112.7 L1496.2,3114.2 L1497.1,3108.1 L1498.0,3111.9 L1498.9,3110.1 L1499.8,3119.8 L1500.7,3119.8 L1501.6,3120.7 L1502.5,3117.9 L1503.4,3114.7 L1504.3,3111.3 L1505.2,3114.5 L1506.1,3114.5 L1507.0,3116.0 L1507.9,3109.5 L1508.8,3120.1 L1509.7,3112.8 L1510.6,3119.4 L1511.5,3131.1 L1512.4,3122.0 L1513.3,3116.4 L1514.2,3107.8 L1515.1,3108.6 L1516.0,3109.0 L1516.9,3111.0 L1517.8,3110.2 L1518.7,3119.5 L1519.6,3120.3 L1520.5,3119.6 L1521.4,3118.5 L1522.3,3114.6 L1523.2,3111.8 L1524.1,3114.3 L1525.0,3113.5 L1525.6,3114.5 L1525.9,3115.9 L1526.8,3117.3 L1527.7,3118.3 L1528.6,3117.0 L1529.5,3114.5 L1530.4,3108.3 L1531.3,3112.4 L1532.2,3106.9 L1533.1,3113.8 L1534.0,3114.8 L1534.9,3113.9 L1535.8,3126.6 L1536.7,3124.0 L1537.6,3112.1 L1538.5,3106.5 L1539.4,3107.0 L1540.3,3118.4 L1541.2,3116.6 L1542.1,3115.2 L1543.0,3113.1 L1543.9,3115.3 L1544.8,3115.6 L1545.7,3114.1 L1546.6,3113.7 L1547.5,3115.6 L1548.4,3107.8 L1549.3,3110.2 L1550.2,3117.2 L1551.1,3120.2 L1552.0,3120.1 L1552.9,3104.5 L1553.8,3107.8 L1554.7,3104.3 L1555.6,3112.9 L1556.5,3111.7 L1557.4,3116.3 L1558.3,3119.4 L1559.2,3118.1 L1560.1,3129.8 L1561.0,3137.0 L1561.9,3124.3 L1562.8,3119.9 L1563.7,3121.5 L1564.6,3125.3 L1565.5,3121.1 L1566.4,3115.7 L1567.3,3110.2 L1568.2,3113.5 L1569.1,3124.8 L1570.0,3121.4 L1570.9,3132.0 L1571.8,3121.8 L1572.7,3111.5 L1573.6,3115.0 L1574.5,3121.1 L1575.4,3123.1 L1576.3,3121.5 L1577.2,3114.7 L1578.1,3113.1 L1579.0,3112.9 L1579.9,3113.6 L1580.8,3120.4 L1581.7,3121.3 L1582.6,3118.3 L1583.5,3121.5 L1584.4,3111.7 L1585.3,3106.8 L1586.2,3119.2 L1587.1,3127.6 L1588.0,3119.6 L1588.9,3115.4 L1589.8,3115.3 L1590.7,3114.7 L1591.6,3115.5 L1592.5,3115.2 L1593.4,3120.1 L1594.3,3119.2 L1595.2,3114.5 L1596.1,3125.3 L1597.0,3122.8 L1597.9,3126.0 L1598.8,3112.3 L1599.7,3109.9 L1600.6,3113.1 L1601.5,3112.2 L1602.4,3112.1 L1603.3,3118.9 L1604.2,3117.8 L1605.1,3123.3 L1606.0,3123.1 L1606.9,3113.5 L1607.8,3112.8 L1608.7,3110.6 L1609.6,3110.9 L1610.5,3107.4 L1611.4,3102.5 L1612.3,3104.1 L1613.2,3108.6 L1614.1,3111.8 L1615.0,3115.6 L1615.9,3114.7 L1616.8,3110.9 L1617.7,3118.3 L1618.6,3120.1 L1619.5,3121.3 L1620.4,3121.4 L1621.3,3106.6 L1622.2,3114.8 L1623.1,3118.3 L1624.0,3106.1 L1624.9,3110.7 L1625.8,3103.7 L1626.7,3120.7 L1627.6,3112.8 L1628.5,3114.8 L1629.4,3110.4 L1630.3,3117.3 L1631.2,3113.8 L1632.1,3115.1 L1633.0,3105.5 L1633.9,3107.8 L1634.8,3121.5 L1635.7,3118.4 L1636.6,3111.4 L1637.5,3112.9 L1638.4,3115.2 L1639.3,3112.6 L1640.2,3111.5 L1641.1,3112.9 L1642.0,3111.5 L1642.9,3112.7 L1643.8,3115.7 L1644.7,3119.9 L1645.6,3123.0 L1646.5,3122.2 L1647.4,3121.6 L1648.3,3118.2 L1649.2,3115.1 L1650.1,3116.7 L1651.0,3111.4 L1651.9,3111.9 L1652.8,3114.8 L1653.7,3120.5 L1654.6,3114.2 L1655.5,3107.5 L1656.4,3105.8 L1657.3,3106.9 L1658.2,3103.0 L1659.1,3114.8 L1660.0,3116.1 L1660.9,3114.6 L1661.8,3113.1 L1662.7,3111.6 L1663.6,3106.6 L1664.5,3112.6 L1665.4,3117.7 L1666.3,3118.6 L1667.2,3119.5 L1668.1,3120.7 L1669.0,3116.1 L1669.9,3107.4 L1670.8,3107.9 L1671.6,3111.9 L1671.7,3115.4 L1672.6,3115.8 L1673.5,3112.4 L1674.4,3113.1 L1675.3,3113.1 L1676.2,3122.3 L1677.1,3118.3 L1678.0,3108.2 L1678.9,3113.0 L1679.8,3114.1 L1680.7,3110.6 L1681.6,3106.3 L1682.5,3103.7 L1683.4,3108.3 L1684.3,3110.5 L1685.2,3115.2 L1686.1,3115.5 L1687.0,3112.4 L1687.9,3107.6 L1688.8,3108.7 L1689.7,3111.4 L1690.6,3107.6 L1691.5,3105.2 L1692.4,3107.3 L1693.3,3113.2 L1694.2,3116.6 L1695.1,3112.1 L1696.0,3120.7 L1696.9,3111.7 L1697.8,3106.6 L1698.7,3116.4 L1699.6,3122.7 L1700.5,3120.3 L1701.4,3116.6 L1702.3,3107.8 L1703.2,3117.9 L1704.1,3114.1 L1705.0,3114.4 L1705.9,3115.3 L1706.8,3112.4 L1707.7,3108.2 L1708.1,3107.5 L1708.6,3105.0 L1709.5,3105.2 L1710.4,3104.4 L1711.3,3112.4 L1712.2,3104.4 L1713.1,3105.4 L1714.0,3109.3 L1714.9,3104.2 L1715.8,3105.1 L1716.7,3109.7 L1717.6,3108.7 L1718.5,3100.4 L1719.4,3104.6 L1720.3,3104.6 L1721.2,3112.8 L1722.1,3110.3 L1723.0,3107.5 L1723.9,3112.2 L1724.8,3110.4 L1725.7,3118.1 L1726.6,3119.3 L1727.5,3115.3 L1728.4,3103.8 L1729.3,3108.4 L1730.2,3118.1 L1731.1,3114.5 L1732.0,3117.3 L1732.9,3123.5 L1733.8,3130.3 L1734.7,3128.6 L1735.6,3129.0 L1736.5,3120.0 L1737.4,3117.1 L1738.3,3120.5 L1739.2,3118.4 L1740.1,3113.9 L1741.0,3124.3 L1741.9,3128.8 L1742.8,3127.4 L1743.7,3111.3 L1744.6,3118.3 L1744.6,3118.5 L1745.5,3116.2 L1746.4,3117.9 L1747.3,3119.1 L1748.2,3123.7 L1749.1,3117.0 L1750.0,3108.1 L1750.9,3112.5 L1751.8,3110.5 L1752.7,3109.5 L1753.6,3109.0 L1754.5,3114.0 L1755.4,3118.3 L1756.3,3118.3 L1757.2,3127.0 L1758.1,3119.1 L1759.0,3111.3 L1759.9,3125.1 L1760.8,3123.9 L1761.7,3119.6 L1762.6,3109.7 L1762.9,3113.8 L1763.5,3119.3 L1764.4,3115.1 L1765.3,3117.5 L1766.2,3114.9 L1767.1,3114.9 L1768.0,3110.7 L1768.9,3108.5 L1769.8,3111.3 L1770.7,3111.8 L1771.6,3118.1 L1772.5,3116.1 L1773.4,3107.9 L1774.3,3110.7 L1775.2,3108.2 L1776.1,3112.4 L1777.0,3108.2 L1777.9,3109.5 L1778.8,3114.3 L1779.7,3116.0 L1780.0,3116.9 L1780.6,3112.9 L1781.5,3110.6 L1782.4,3101.6 L1783.3,3104.1 L1784.2,3108.4 L1785.1,3107.1 L1786.0,3099.6 L1786.9,3101.8 L1787.8,3108.2 L1787.8,3102.3 L1788.7,3104.1 L1789.6,3100.8 L1790.5,3094.9 L1791.4,3085.4 L1792.3,3092.5 L1793.2,3091.8 L1794.1,3098.1 L1795.0,3090.3 L1795.6,3083.5 L1795.9,3088.6 L1796.8,3078.6 L1797.7,3082.1 L1798.6,3088.5 L1799.5,3085.7 L1800.4,3084.4 L1801.3,3075.9 L1802.2,3069.9 L1803.1,3071.7 L1804.0,3064.5 L1804.9,3073.9 L1805.8,3076.3 L1806.1,3078.2 L1806.7,3075.6 L1807.6,3075.0 L1808.5,3083.2 L1809.4,3081.8 L1810.3,3092.8 L1811.2,3094.0 L1812.1,3092.3 L1813.0,3098.2 L1813.9,3096.0 L1813.9,3096.9 L1814.8,3086.9 L1815.7,3097.2 L1816.6,3088.7 L1817.5,3095.7 L1818.4,3091.8 L1819.3,3083.4 L1820.2,3077.1 L1821.1,3072.5 L1821.7,3076.2 L1822.0,3076.8 L1822.9,3076.2 L1823.8,3075.6 L1824.7,3071.3 L1825.6,3071.0 L1826.5,3069.3 L1827.4,3076.9 L1828.3,3079.6 L1829.2,3087.2 L1830.1,3079.3 L1831.0,3083.9 L1831.9,3085.4 L1832.2,3085.9 L1832.8,3091.3 L1833.7,3092.2 L1834.6,3093.7 L1835.5,3094.9 L1836.4,3093.6 L1837.3,3104.5 L1838.2,3093.9 L1839.1,3097.8 L1840.0,3100.4 L1840.0,3103.8 L1840.9,3104.1 L1841.8,3111.9 L1842.7,3122.7 L1843.6,3119.4 L1844.5,3132.6 L1845.2,3126.5 L1845.4,3120.6 L1846.3,3119.3 L1847.2,3115.8 L1848.1,3113.7 L1849.0,3108.3 L1849.9,3103.7 L1850.4,3091.8 L1850.8,3098.1 L1851.7,3093.0 L1852.6,3100.5 L1853.5,3120.1 L1854.4,3120.3 L1855.3,3117.6 L1856.2,3129.7 L1856.9,3135.3 L1857.1,3128.6 L1858.0,3129.7 L1858.9,3114.6 L1859.8,3110.9 L1860.7,3101.8 L1861.6,3104.0 L1862.5,3111.0 L1863.4,3105.6 L1864.3,3104.8 L1865.2,3096.2 L1866.0,3095.5 L1866.1,3095.5 L1867.0,3093.3 L1867.9,3088.8 L1868.8,3102.5 L1869.7,3105.5 L1870.6,3102.5 L1871.5,3100.5 L1872.4,3101.2 L1873.3,3100.8 L1873.9,3101.1 L1874.2,3099.6 L1875.1,3091.3 L1876.0,3088.3 L1876.9,3087.1 L1877.8,3075.5 L1878.7,3065.6 L1879.6,3073.0 L1880.4,3062.8 L1880.5,3062.5 L1881.4,3066.3 L1882.3,3078.4 L1883.2,3091.5 L1884.1,3096.2 L1885.0,3104.5 L1885.9,3111.6 L1886.8,3114.1 L1886.9,3112.7 L1887.7,3119.4 L1888.6,3108.7 L1889.5,3097.6 L1890.4,3092.1 L1891.3,3088.2 L1892.1,3086.5 L1892.2,3086.2 L1893.1,3091.3 L1894.0,3086.5 L1894.9,3086.7 L1895.8,3093.9 L1896.7,3105.1 L1897.6,3092.7 L1898.5,3086.2 L1899.4,3092.1 L1900.3,3091.7 L1901.2,3095.3 L1902.1,3091.8 L1902.6,3094.7 L1903.0,3090.1 L1903.9,3090.2 L1904.8,3099.3 L1905.7,3105.6 L1906.6,3108.9 L1907.5,3111.7 L1908.4,3118.8 L1909.3,3111.5 L1910.2,3115.3 L1911.1,3114.7 L1912.0,3111.6 L1912.9,3108.0 L1913.0,3106.3 L1913.8,3114.6 L1914.7,3129.0 L1915.6,3122.9 L1916.5,3118.6 L1917.4,3114.6 L1918.3,3117.4 L1919.2,3116.7 L1920.1,3126.9 L1921.0,3123.3 L1921.9,3125.7 L1922.8,3122.9 L1923.4,3125.9 L1923.7,3124.7 L1924.6,3125.7 L1925.5,3124.1 L1926.4,3122.3 L1927.3,3120.7 L1928.2,3120.9 L1929.1,3118.4 L1930.0,3120.6 L1930.9,3112.4 L1931.2,3108.3 L1931.8,3102.7 L1932.7,3104.3 L1933.6,3107.3 L1934.5,3105.3 L1935.4,3098.7 L1936.3,3090.5 L1937.2,3079.7 L1938.1,3072.6 L1939.0,3068.4 L1939.1,3071.0 L1939.9,3067.7 L1940.8,3061.7 L1941.7,3053.9 L1942.6,3046.6 L1943.5,3045.2 L1944.4,3043.5 L1945.3,3027.9 L1946.2,3019.0 L1946.9,3014.9 L1947.1,3020.1 L1948.0,3010.9 L1948.9,3010.5 L1949.5,2997.0 L1949.8,3000.4 L1950.7,3008.2 L1951.6,3002.2 L1952.5,3004.2 L1953.4,3000.1 L1954.3,2998.9 L1955.2,3004.1 L1955.2,3001.5 L1956.1,3003.7 L1957.0,3010.3 L1957.9,3018.1 L1958.8,3033.0 L1959.7,3037.7 L1959.9,3040.6 L1960.6,3038.5 L1961.5,3041.9 L1962.4,3040.4 L1963.3,3042.3 L1964.2,3044.0 L1965.1,3049.9 L1965.1,3049.1 L1966.0,3043.1 L1966.9,3042.6 L1967.8,3041.9 L1968.7,3043.2 L1969.6,3050.0 L1970.5,3049.4 L1971.4,3043.8 L1972.3,3038.7 L1973.0,3037.6 L1973.2,3042.9 L1974.1,3035.2 L1975.0,3033.9 L1975.9,3043.5 L1976.8,3034.8 L1977.7,3020.5 L1978.6,3014.8 L1979.5,3001.2 L1980.4,2994.2 L1980.8,3000.9 L1981.3,3002.3 L1982.2,3001.4 L1983.1,2999.0 L1984.0,2988.4 L1984.9,2981.8 L1985.8,2977.2 L1986.7,2973.5 L1987.6,2963.9 L1988.5,2957.3 L1988.6,2956.2 L1989.4,2942.9 L1990.3,2943.2 L1991.2,2937.4 L1992.1,2932.5 L1993.0,2925.9 L1993.9,2932.3 L1994.8,2928.9 L1995.7,2927.0 L1996.4,2918.5 L1996.6,2913.0 L1997.5,2907.6 L1998.4,2909.5 L1999.3,2907.3 L2000.2,2892.4 L2001.1,2881.6 L2002.0,2885.1 L2002.9,2874.2 L2003.8,2869.4 L2004.3,2864.4 L2004.7,2850.8 L2005.6,2854.9 L2006.5,2848.9 L2007.4,2848.8 L2008.3,2838.3 L2009.2,2834.0 L2010.1,2826.2 L2011.0,2814.2 L2011.9,2814.2 L2012.1,2810.3 L2012.8,2796.0 L2013.7,2781.6 L2013.8,2779.3 L2014.6,2767.7 L2015.5,2761.0 L2016.4,2756.3 L2017.3,2751.9 L2018.2,2746.0 L2019.1,2737.4 L2019.7,2735.7 L2020.0,2734.2 L2020.9,2724.1 L2021.8,2710.8 L2022.7,2709.0 L2023.6,2698.0 L2024.5,2691.9 L2025.4,2680.8 L2025.7,2671.8 L2026.3,2671.9 L2027.2,2656.2 L2028.1,2642.4 L2029.0,2627.5 L2029.9,2625.1 L2030.8,2625.2 L2031.7,2617.8 L2031.7,2614.6 L2032.6,2606.8 L2033.5,2600.1 L2034.4,2588.8 L2035.3,2586.1 L2036.2,2575.6 L2037.1,2563.4 L2037.7,2563.2 L2038.0,2558.9 L2038.9,2549.7 L2039.8,2535.5 L2040.7,2530.7 L2041.6,2520.4 L2042.5,2517.5 L2043.4,2510.2 L2044.3,2498.9 L2044.5,2499.3 L2045.2,2481.6 L2046.1,2465.5 L2047.0,2453.6 L2047.9,2440.4 L2048.8,2427.0 L2049.6,2423.6 L2049.7,2417.0 L2050.6,2407.1 L2051.5,2394.7 L2052.4,2373.2 L2053.3,2356.9 L2054.2,2347.3 L2055.1,2327.0 L2055.6,2320.7 L2056.0,2307.9 L2056.9,2290.0 L2057.8,2270.2 L2058.7,2256.5 L2059.6,2234.4 L2060.5,2218.2 L2061.4,2208.1 L2061.6,2193.2 L2062.3,2188.3 L2063.2,2176.0 L2064.1,2165.8 L2065.0,2154.9 L2065.9,2144.9 L2066.8,2137.8 L2067.7,2137.0 L2068.6,2114.4 L2069.5,2104.3 L2069.6,2102.6 L2070.4,2075.0 L2071.3,2064.3 L2072.2,2054.9 L2073.1,2044.3 L2074.0,2036.9 L2074.9,2017.7 L2075.8,2005.9 L2076.7,1995.0 L2077.5,1980.0 L2077.6,1979.8 L2078.5,1964.3 L2079.4,1948.0 L2080.3,1931.1 L2081.2,1911.8 L2082.1,1895.7 L2083.0,1885.8 L2083.5,1883.0 L2083.9,1881.5 L2084.8,1877.5 L2085.7,1874.0 L2086.6,1872.7 L2087.5,1872.0 L2088.4,1868.6 L2089.3,1865.9 L2090.2,1863.6 L2091.1,1862.4 L2092.0,1861.6 L2092.9,1861.7 L2093.8,1860.7 L2094.7,1861.7 L2094.7,1861.5 L2095.6,1863.0 L2096.5,1866.5 L2097.4,1871.8 L2098.3,1880.3 L2098.7,1884.6 L2099.2,1889.5 L2100.1,1898.6 L2101.0,1909.7 L2101.9,1920.8 L2102.8,1933.4 L2103.5,1943.5 L2103.7,1943.2 L2104.6,1954.8 L2105.5,1964.7 L2106.4,1983.1 L2107.3,1996.8 L2108.2,1996.3 L2109.1,2008.5 L2109.4,2014.1 L2110.0,2034.2 L2110.9,2041.1 L2111.8,2071.2 L2112.7,2077.9 L2113.6,2103.2 L2114.5,2121.3 L2115.4,2146.6 L2115.4,2138.4 L2116.3,2150.5 L2117.2,2166.0 L2118.1,2182.8 L2119.0,2196.9 L2119.9,2208.4 L2120.8,2224.6 L2121.4,2237.1 L2121.7,2242.7 L2122.6,2267.6 L2123.5,2290.3 L2124.4,2312.4 L2125.3,2333.8 L2125.4,2331.1 L2126.2,2342.0 L2127.1,2367.0 L2128.0,2386.1 L2128.9,2407.9 L2129.4,2425.6 L2129.8,2421.2 L2130.7,2442.9 L2131.6,2462.0 L2132.5,2483.2 L2133.4,2507.5 L2133.4,2504.0 L2134.3,2526.8 L2135.2,2552.2 L2136.1,2576.6 L2136.1,2583.4 L2137.0,2608.8 L2137.9,2628.8 L2138.8,2648.9 L2139.3,2665.3 L2139.7,2668.0 L2140.6,2691.2 L2141.5,2711.1 L2142.4,2733.4 L2142.5,2736.4 L2143.3,2756.2 L2144.1,2784.8 L2144.2,2780.7 L2145.1,2796.6 L2146.0,2814.9 L2146.9,2821.0 L2147.7,2831.5 L2147.8,2832.0 L2148.7,2854.9 L2149.6,2875.1 L2150.5,2895.6 L2151.4,2909.1 L2151.6,2920.3 L2152.3,2931.6 L2153.2,2946.9 L2154.1,2975.9 L2154.2,2981.7 L2155.0,3022.6 L2155.5,3049.9"/>
<path stroke="#008000" d="M250.6,3067.0 L251.5,3077.2 L252.4,3089.6 L253.3,3098.0 L254.2,3102.6 L255.1,3105.5 L256.0,3107.8 L256.1,3110.3 L256.9,3104.4 L257.8,3107.2 L258.7,3107.8 L259.6,3112.0 L260.5,3104.3 L261.4,3117.7 L262.3,3113.8 L263.2,3113.1 L264.1,3119.8 L265.0,3123.2 L265.2,3123.1 L265.9,3124.3 L266.8,3127.3 L267.7,3121.3 L268.6,3097.8 L269.5,3104.2 L270.4,3104.2 L271.3,3099.7 L272.2,3100.3 L272.5,3099.4 L273.1,3098.9 L274.0,3092.0 L274.9,3093.2 L275.8,3102.2 L276.7,3103.9 L277.6,3106.5 L278.5,3107.2 L279.4,3102.3 L280.3,3108.5 L281.2,3107.3 L282.1,3113.7 L283.0,3111.8 L283.5,3115.4 L283.9,3111.0 L284.8,3118.4 L285.7,3113.8 L286.6,3114.6 L287.5,3107.0 L288.4,3110.7 L289.3,3105.5 L290.2,3110.1 L291.1,3105.6 L292.0,3114.1 L292.9,3112.9 L293.8,3111.2 L294.4,3112.8 L294.7,3109.7 L295.6,3114.4 L296.5,3106.5 L297.4,3107.5 L298.3,3107.6 L299.2,3112.7 L300.1,3107.3 L301.0,3105.0 L301.9,3107.1 L302.8,3103.5 L303.7,3091.0 L304.6,3092.3 L305.5,3095.4 L306.4,3103.3 L307.3,3108.4 L308.2,3093.6 L309.0,3098.9 L309.1,3092.2 L310.0,3088.9 L310.9,3088.2 L311.8,3083.3 L312.7,3093.3 L313.6,3088.2 L314.5,3087.9 L315.4,3094.1 L316.3,3101.1 L317.2,3099.8 L318.1,3088.0 L319.0,3095.4 L319.9,3095.8 L320.8,3092.6 L321.7,3089.9 L322.6,3089.9 L323.5,3087.2 L323.6,3095.7 L324.4,3090.3 L325.3,3085.3 L326.2,3088.8 L327.1,3092.6 L328.0,3085.4 L328.9,3086.3 L329.8,3074.5 L330.7,3073.6 L331.6,3084.6 L332.5,3078.0 L332.8,3074.1 L333.4,3085.0 L334.3,3083.4 L335.2,3093.3 L336.1,3095.4 L337.0,3091.6 L337.9,3094.5 L338.8,3080.6 L339.7,3068.5 L340.6,3083.5 L341.5,3085.3 L341.9,3094.7 L342.4,3094.1 L343.3,3093.1 L344.2,3087.7 L345.1,3088.7 L346.0,3093.7 L346.9,3088.5 L347.8,3093.3 L348.7,3096.7 L349.6,3097.1 L350.5,3102.7 L351.4,3103.4 L352.3,3103.2 L352.8,3101.3 L353.2,3100.7 L354.1,3104.0 L355.0,3106.0 L355.9,3111.1 L356.8,3107.0 L357.7,3106.5 L358.6,3108.2 L359.5,3110.0 L360.4,3111.8 L361.3,3120.9 L362.2,3117.7 L363.1,3114.3 L363.8,3118.6 L364.0,3117.0 L364.9,3118.7 L365.8,3121.8 L366.7,3126.4 L367.6,3126.9 L368.5,3126.8 L369.4,3120.3 L370.3,3123.8 L371.2,3117.7 L372.1,3124.3 L372.9,3127.9 L373.0,3130.9 L373.9,3129.6 L374.8,3137.9 L375.7,3129.1 L376.6,3119.3 L377.5,3115.4 L378.4,3109.9 L379.3,3107.7 L380.2,3108.5 L380.2,3100.3 L381.1,3102.9 L382.0,3090.2 L382.9,3091.8 L383.8,3087.8 L384.7,3092.7 L385.6,3100.4 L386.5,3104.3 L387.4,3099.3 L388.3,3096.6 L389.2,3092.1 L389.3,3088.6 L390.1,3090.1 L391.0,3086.2 L391.9,3082.3 L392.8,3088.6 L393.7,3084.2 L394.6,3079.5 L395.5,3077.4 L396.4,3079.6 L396.6,3077.1 L397.3,3072.7 L398.2,3068.4 L399.1,3057.4 L400.0,3047.5 L400.9,3035.2 L401.8,3034.0 L402.7,3030.0 L403.6,3015.0 L404.5,3004.7 L405.4,2997.6 L406.3,2985.9 L407.2,2973.4 L407.6,2963.4 L408.1,2958.1 L409.0,2941.5 L409.9,2928.8 L410.8,2906.9 L411.7,2892.9 L412.6,2867.9 L413.5,2860.2 L414.4,2827.7 L414.9,2820.1 L415.3,2810.3 L416.2,2759.4 L417.1,2707.5 L418.0,2648.6 L418.5,2630.6 L418.9,2617.0 L419.8,2575.5 L420.7,2532.0 L421.6,2509.5 L422.2,2499.4 L422.5,2499.9 L423.4,2520.0 L424.3,2563.1 L425.2,2604.9 L425.9,2628.4 L426.1,2636.8 L427.0,2674.4 L427.9,2707.6 L428.8,2753.2 L429.7,2790.9 L430.6,2833.4 L431.3,2860.1 L431.5,2878.2 L432.4,2909.7 L433.3,2938.3 L434.2,2958.4 L435.1,2978.2 L436.0,2994.7 L436.8,3017.5 L436.9,3013.1 L437.8,3022.8 L438.7,3036.5 L439.6,3048.1 L440.5,3051.3 L441.4,3055.4 L442.3,3057.3 L443.2,3070.1 L444.1,3072.2 L445.0,3071.2 L445.9,3078.1 L445.9,3074.3 L446.8,3074.9 L447.7,3081.9 L448.6,3085.5 L449.5,3084.0 L450.4,3094.9 L451.3,3088.3 L452.2,3092.6 L453.1,3089.2 L454.0,3088.0 L454.9,3087.7 L455.1,3085.9 L455.8,3085.9 L456.7,3084.3 L457.6,3075.8 L458.5,3079.9 L459.4,3081.4 L460.3,3079.4 L461.2,3083.2 L462.1,3083.6 L463.0,3086.0 L463.9,3084.8 L464.2,3082.9 L464.8,3082.3 L465.7,3084.3 L466.6,3085.7 L467.5,3090.8 L468.4,3089.1 L469.3,3092.4 L470.2,3092.9 L471.1,3097.6 L472.0,3100.2 L472.9,3086.5 L473.3,3084.6 L473.8,3082.8 L474.7,3084.8 L475.6,3083.3 L476.5,3082.5 L477.4,3079.5 L478.3,3079.3 L479.2,3078.6 L480.1,3084.6 L481.0,3074.1 L481.9,3074.5 L482.8,3069.6 L483.7,3070.6 L484.3,3069.6 L484.6,3076.1 L485.5,3063.8 L486.4,3064.2 L487.3,3060.8 L488.2,3062.8 L489.1,3060.3 L490.0,3052.4 L490.9,3051.2 L491.8,3045.9 L492.7,3043.0 L493.6,3041.7 L494.5,3044.9 L495.2,3042.6 L495.4,3042.5 L496.3,3041.7 L497.2,3038.3 L498.1,3037.1 L499.0,3033.1 L499.9,3026.0 L500.8,3025.0 L501.7,3014.7 L502.6,3015.6 L503.5,3006.4 L504.4,2994.9 L505.3,2986.1 L506.2,2974.3 L506.2,2977.2 L507.1,2966.2 L508.0,2959.0 L508.9,2954.2 L509.8,2941.4 L510.7,2911.7 L511.6,2897.9 L512.5,2887.6 L512.7,2876.6 L513.4,2875.0 L514.3,2861.0 L515.2,2847.4 L516.1,2832.9 L517.0,2816.6 L517.9,2796.9 L517.9,2798.6 L518.8,2774.2 L519.7,2756.7 L520.6,2728.2 L521.5,2697.3 L522.2,2674.8 L522.4,2672.7 L523.3,2644.3 L524.2,2600.3 L525.1,2557.6 L525.9,2530.3 L526.0,2515.9 L526.9,2489.3 L527.8,2471.4 L528.7,2444.9 L529.6,2425.8 L530.5,2402.2 L530.5,2403.3 L531.4,2379.1 L532.3,2347.5 L533.2,2317.2 L534.1,2292.2 L535.0,2268.0 L535.0,2267.2 L535.9,2246.9 L536.8,2225.6 L537.7,2205.9 L538.0,2209.5 L538.6,2194.0 L539.0,2195.7 L539.5,2195.9 L540.0,2200.7 L540.4,2211.2 L541.3,2248.0 L542.2,2283.7 L543.1,2316.5 L543.5,2328.0 L544.0,2353.9 L544.9,2391.4 L545.8,2428.6 L546.7,2470.5 L547.1,2480.2 L547.6,2498.2 L548.5,2534.4 L549.4,2561.0 L550.3,2585.5 L550.7,2604.2 L551.2,2615.9 L552.1,2641.9 L553.0,2669.4 L553.9,2696.3 L554.4,2708.5 L554.8,2717.5 L555.7,2740.0 L556.6,2757.7 L557.3,2778.3 L557.5,2790.8 L558.4,2820.3 L559.3,2846.6 L560.2,2859.8 L560.9,2873.9 L561.1,2872.9 L562.0,2888.9 L562.9,2913.7 L563.8,2935.4 L564.6,2947.7 L564.7,2943.5 L565.6,2941.0 L566.5,2938.7 L567.4,2941.9 L568.3,2938.2 L569.2,2928.0 L570.1,2926.6 L570.1,2926.8 L571.0,2917.9 L571.9,2912.3 L572.8,2903.2 L573.7,2890.8 L574.6,2882.2 L575.5,2871.5 L576.4,2863.9 L577.3,2865.0 L577.4,2869.5 L578.2,2870.1 L579.1,2884.0 L580.0,2884.0 L580.9,2892.8 L581.0,2889.4 L581.8,2897.4 L582.7,2909.7 L583.6,2923.6 L584.5,2944.7 L585.4,2952.9 L586.3,2957.4 L586.5,2961.5 L587.2,2969.7 L588.1,2982.4 L589.0,3000.2 L589.9,3012.4 L590.8,3030.7 L591.7,3045.3 L592.0,3045.5 L592.6,3055.6 L593.5,3056.0 L594.4,3050.8 L595.3,3057.4 L596.2,3059.7 L597.1,3062.5 L598.0,3062.4 L598.9,3070.9 L599.8,3067.1 L600.7,3074.1 L601.1,3075.8 L601.6,3080.5 L602.5,3080.6 L603.4,3090.5 L604.3,3081.0 L605.2,3084.6 L606.1,3076.8 L607.0,3079.1 L607.9,3083.8 L608.8,3090.1 L609.7,3087.4 L610.6,3092.5 L611.5,3092.5 L612.0,3096.1 L612.4,3094.8 L613.3,3100.3 L614.2,3105.7 L615.1,3101.8 L616.0,3105.4 L616.9,3109.9 L617.8,3105.6 L618.7,3104.8 L619.6,3094.0 L620.5,3098.5 L621.4,3106.9 L622.3,3115.6 L623.0,3111.7 L623.2,3116.2 L624.1,3109.2 L625.0,3115.5 L625.9,3112.9 L626.8,3129.1 L627.7,3130.9 L628.6,3130.9 L629.5,3123.6 L630.4,3119.9 L631.3,3127.1 L632.2,3124.9 L633.1,3125.5 L634.0,3124.2 L634.0,3127.9 L634.9,3116.0 L635.8,3113.8 L636.7,3106.6 L637.6,3098.6 L638.5,3096.2 L639.4,3092.7 L639.4,3094.7 L640.3,3092.2 L641.2,3094.2 L642.1,3092.8 L643.0,3100.2 L643.9,3104.3 L644.8,3105.6 L645.7,3107.3 L646.6,3116.1 L647.5,3104.3 L648.4,3098.5 L648.6,3107.7 L649.3,3103.8 L650.2,3102.3 L651.1,3107.2 L652.0,3106.4 L652.9,3107.9 L653.8,3104.3 L654.7,3104.8 L655.6,3107.8 L656.5,3103.2 L657.4,3098.8 L658.3,3095.3 L659.2,3097.3 L659.5,3089.2 L660.1,3088.4 L661.0,3087.9 L661.9,3101.2 L662.8,3097.4 L663.7,3096.2 L664.6,3094.2 L665.5,3086.6 L666.4,3078.4 L667.3,3085.8 L668.2,3082.6 L669.1,3090.9 L670.0,3091.0 L670.9,3086.8 L671.8,3092.3 L672.7,3079.1 L673.6,3091.4 L674.1,3086.1 L674.5,3088.6 L675.4,3088.7 L676.3,3092.8 L677.2,3094.1 L678.1,3086.9 L679.0,3087.1 L679.9,3087.3 L680.8,3091.0 L681.7,3099.6 L682.6,3095.2 L683.5,3090.4 L684.4,3080.8 L685.3,3077.5 L686.2,3081.5 L687.1,3075.2 L688.0,3069.9 L688.7,3072.8 L688.9,3077.1 L689.8,3081.4 L690.7,3075.8 L691.6,3070.8 L692.5,3071.0 L693.4,3073.3 L694.3,3067.3 L695.2,3062.1 L696.1,3064.0 L697.0,3064.5 L697.9,3071.2 L698.8,3064.5 L699.7,3067.3 L699.7,3070.0 L700.6,3066.2 L701.5,3064.0 L702.4,3057.1 L703.3,3052.3 L704.2,3046.4 L705.1,3044.4 L706.0,3044.7 L706.9,3050.7 L707.8,3047.3 L708.7,3058.3 L709.6,3047.4 L710.5,3041.8 L710.6,3042.3 L711.4,3040.0 L712.3,3040.4 L713.2,3046.4 L714.1,3047.8 L715.0,3045.3 L715.9,3042.3 L716.8,3029.9 L717.7,3031.6 L718.6,3025.8 L719.5,3029.6 L720.4,3032.6 L721.3,3028.2 L721.6,3030.6 L722.2,3023.5 L723.1,3015.3 L724.0,3017.3 L724.9,3017.2 L725.8,3011.0 L726.7,3009.1 L727.6,3006.9 L728.5,3008.9 L729.4,3009.5 L730.3,2999.0 L731.2,2999.8 L732.1,2997.4 L732.5,3001.1 L733.0,2997.6 L733.9,3003.6 L734.8,2997.7 L735.7,2998.8 L736.6,2995.5 L737.5,2990.7 L738.4,2987.0 L739.3,2980.5 L740.2,2976.0 L741.1,2967.3 L741.7,2964.6 L742.0,2960.4 L742.9,2954.6 L743.8,2939.2 L744.7,2912.6 L745.6,2895.4 L746.4,2867.2 L746.5,2854.9 L747.4,2788.5 L748.3,2701.9 L748.6,2673.9 L749.2,2623.2 L750.1,2554.7 L750.6,2498.2 L751.0,2445.3 L751.9,2292.9 L752.4,2200.5 L752.8,2125.4 L753.7,1953.7 L754.0,1938.3 L754.6,1998.4 L755.5,2181.1 L755.6,2199.0 L756.4,2359.2 L757.2,2494.0 L757.3,2509.7 L758.2,2609.2 L759.1,2668.5 L759.5,2680.4 L760.0,2697.1 L760.9,2716.0 L761.8,2732.9 L762.7,2730.1 L762.9,2724.2 L763.6,2725.2 L764.5,2717.1 L765.4,2727.2 L766.3,2733.4 L767.2,2728.5 L768.1,2735.1 L768.3,2732.6 L769.0,2733.3 L769.9,2736.5 L770.8,2736.6 L771.7,2733.2 L772.6,2735.6 L773.5,2742.5 L773.8,2747.9 L774.4,2757.7 L775.3,2760.3 L776.2,2756.7 L777.1,2771.1 L778.0,2769.1 L778.9,2783.3 L779.3,2783.0 L779.8,2786.3 L780.7,2789.2 L781.6,2789.2 L782.5,2791.3 L783.4,2806.6 L784.3,2813.4 L784.8,2822.4 L785.2,2824.1 L786.1,2828.8 L787.0,2837.8 L787.9,2841.0 L788.8,2854.8 L789.7,2871.4 L790.2,2870.0 L790.6,2877.1 L791.5,2887.7 L792.4,2899.5 L793.3,2903.6 L794.2,2907.1 L795.1,2908.1 L795.7,2914.7 L796.0,2915.0 L796.9,2919.0 L797.8,2928.6 L798.7,2943.5 L799.6,2940.8 L800.5,2943.0 L801.2,2946.9 L801.4,2947.3 L802.3,2945.8 L803.2,2945.9 L804.1,2946.5 L805.0,2959.5 L805.9,2959.1 L806.8,2962.4 L807.7,2968.0 L808.5,2970.1 L808.6,2977.1 L809.5,2976.4 L810.4,2962.5 L811.3,2962.3 L812.2,2975.7 L813.1,2977.5 L814.0,2979.1 L814.9,2974.9 L815.8,2979.8 L815.8,2977.1 L816.7,2981.1 L817.6,2982.5 L818.5,2995.0 L819.4,2990.0 L820.3,2975.6 L821.2,2972.2 L822.1,2966.2 L823.0,2959.9 L823.1,2965.0 L823.9,2960.6 L824.8,2966.3 L825.7,2977.0 L826.6,2987.3 L827.5,2994.2 L828.4,2996.4 L829.3,2999.3 L830.2,3000.5 L830.4,3002.6 L831.1,3003.4 L832.0,3002.7 L832.9,3011.1 L833.8,3015.5 L834.7,3017.5 L835.6,3025.3 L836.5,3031.3 L837.4,3029.2 L837.7,3030.6 L838.3,3029.5 L839.2,3034.8 L840.1,3042.7 L841.0,3040.4 L841.9,3044.5 L842.8,3043.5 L843.7,3051.6 L844.6,3049.1 L845.5,3047.9 L846.4,3050.2 L846.8,3046.3 L847.3,3045.4 L848.2,3045.8 L849.1,3046.4 L850.0,3048.9 L850.9,3045.1 L851.8,3048.6 L852.7,3061.3 L853.6,3060.9 L854.5,3065.6 L855.4,3067.7 L856.0,3058.9 L856.3,3066.5 L857.2,3065.3 L858.1,3061.9 L859.0,3057.9 L859.9,3065.2 L860.8,3060.6 L861.7,3062.7 L862.6,3073.9 L863.5,3072.4 L864.4,3074.3 L865.1,3068.5 L865.3,3072.3 L866.2,3069.6 L867.1,3077.8 L868.0,3076.5 L868.9,3081.7 L869.8,3082.2 L870.7,3087.1 L871.6,3095.2 L872.5,3100.2 L873.4,3095.5 L874.2,3099.8 L874.3,3093.9 L875.2,3085.5 L876.1,3082.2 L877.0,3086.7 L877.9,3087.5 L878.8,3079.1 L879.7,3081.9 L880.6,3084.0 L881.5,3084.0 L882.4,3086.9 L883.3,3089.9 L883.3,3082.1 L884.2,3076.2 L885.1,3074.7 L886.0,3077.9 L886.9,3089.2 L887.8,3096.2 L888.7,3092.3 L889.6,3096.7 L890.5,3096.3 L891.4,3094.0 L892.3,3095.9 L893.2,3088.6 L894.1,3100.7 L894.3,3098.7 L895.0,3106.9 L895.9,3106.3 L896.8,3105.3 L897.7,3118.1 L898.6,3117.9 L899.5,3108.4 L900.4,3096.6 L901.3,3098.6 L902.2,3102.7 L903.1,3106.2 L904.0,3109.9 L904.9,3102.6 L905.2,3104.7 L905.8,3099.2 L906.7,3102.2 L907.6,3095.9 L908.5,3097.6 L909.4,3100.9 L910.3,3110.4 L911.2,3113.5 L912.1,3106.7 L913.0,3107.5 L913.9,3101.4 L914.8,3097.9 L915.7,3091.6 L916.2,3100.0 L916.6,3093.0 L917.5,3091.6 L918.4,3093.9 L919.3,3097.2 L920.2,3101.1 L921.1,3100.1 L922.0,3102.1 L922.9,3093.8 L923.8,3093.1 L924.7,3091.9 L925.6,3089.6 L926.5,3094.2 L927.2,3094.7 L927.4,3097.8 L928.3,3099.4 L929.2,3096.8 L930.1,3100.8 L931.0,3099.3 L931.9,3106.6 L932.8,3105.2 L933.7,3111.0 L934.6,3116.0 L935.5,3119.2 L936.4,3117.3 L937.3,3108.8 L938.1,3102.6 L938.2,3108.2 L939.1,3110.9 L940.0,3112.8 L940.9,3120.3 L941.8,3110.5 L942.7,3101.9 L943.6,3101.1 L944.5,3110.3 L945.4,3105.5 L946.3,3110.6 L947.2,3112.7 L948.1,3116.2 L949.0,3123.8 L949.1,3120.9 L949.9,3127.0 L950.8,3121.7 L951.7,3115.4 L952.6,3100.0 L953.5,3098.8 L954.4,3101.8 L955.3,3113.1 L956.2,3114.1 L956.4,3106.0 L957.1,3103.1 L958.0,3102.9 L958.9,3102.6 L959.8,3099.1 L960.7,3103.8 L961.6,3108.6 L962.5,3114.3 L963.4,3109.9 L964.3,3113.1 L965.2,3121.0 L966.1,3121.8 L967.0,3122.2 L967.3,3123.5 L967.9,3122.8 L968.8,3122.5 L969.7,3109.9 L970.6,3110.3 L971.5,3109.5 L972.4,3105.7 L973.3,3095.0 L974.2,3100.7 L975.1,3097.2 L976.0,3102.8 L976.9,3098.4 L977.8,3091.1 L978.3,3089.3 L978.7,3093.3 L979.6,3094.2 L980.5,3088.6 L981.4,3104.6 L982.3,3106.2 L983.2,3101.7 L984.1,3101.9 L985.0,3087.8 L985.9,3091.9 L986.8,3095.7 L987.7,3096.7 L988.6,3095.0 L989.2,3092.2 L989.5,3097.7 L990.4,3098.3 L991.3,3099.6 L992.2,3090.1 L993.1,3093.2 L994.0,3092.6 L994.9,3090.1 L995.8,3089.2 L996.7,3089.4 L997.6,3085.0 L998.5,3088.2 L999.4,3090.0 L1000.2,3084.5 L1000.3,3090.5 L1001.2,3092.1 L1002.1,3096.8 L1003.0,3097.7 L1003.9,3087.1 L1004.8,3080.6 L1005.7,3084.2 L1006.6,3077.1 L1007.5,3069.6 L1007.5,3076.8 L1008.4,3074.0 L1009.3,3067.4 L1010.2,3071.8 L1011.1,3076.1 L1012.0,3073.6 L1012.9,3079.5 L1013.8,3079.6 L1014.7,3082.4 L1015.6,3083.0 L1016.5,3077.6 L1017.4,3076.0 L1018.3,3079.9 L1019.2,3078.4 L1020.1,3085.7 L1021.0,3082.1 L1021.9,3083.2 L1022.1,3091.3 L1022.8,3084.6 L1023.7,3080.5 L1024.6,3079.2 L1025.5,3082.3 L1026.4,3071.0 L1027.3,3065.9 L1028.2,3070.1 L1029.1,3069.3 L1030.0,3072.8 L1030.9,3066.2 L1031.8,3065.2 L1032.7,3059.4 L1033.6,3051.7 L1034.5,3058.7 L1035.4,3061.1 L1036.3,3069.5 L1036.7,3065.1 L1037.2,3059.2 L1038.1,3060.8 L1039.0,3059.9 L1039.9,3054.5 L1040.8,3048.9 L1041.7,3051.2 L1042.6,3057.6 L1043.5,3059.7 L1044.4,3053.9 L1045.3,3056.2 L1046.2,3051.9 L1047.1,3054.4 L1047.6,3052.4 L1048.0,3061.2 L1048.9,3045.2 L1049.8,3042.8 L1050.7,3031.1 L1051.6,3027.5 L1052.5,3033.4 L1053.4,3037.4 L1054.3,3030.2 L1055.2,3036.4 L1056.1,3038.4 L1057.0,3030.4 L1057.9,3033.3 L1058.6,3032.9 L1058.8,3034.7 L1059.7,3040.4 L1060.6,3033.0 L1061.5,3028.5 L1062.4,3028.2 L1063.3,3022.3 L1064.2,3017.3 L1065.1,3006.8 L1065.9,3012.5 L1066.0,3012.2 L1066.9,3012.2 L1067.8,3011.5 L1068.7,3006.4 L1069.6,3000.6 L1070.5,3002.9 L1071.4,3002.4 L1072.3,3005.6 L1073.2,3000.4 L1074.1,2994.6 L1075.0,2984.1 L1075.0,2990.5 L1075.9,2995.5 L1076.8,3005.1 L1077.7,3006.1 L1078.6,3003.8 L1079.5,3001.2 L1080.4,3000.4 L1081.3,3000.9 L1082.2,3007.4 L1083.1,3008.8 L1084.0,3003.9 L1084.1,2998.8 L1084.9,3000.4 L1085.8,2998.5 L1086.7,2993.2 L1087.6,2990.2 L1088.5,2989.7 L1089.4,2998.2 L1090.3,2995.0 L1091.2,3002.3 L1092.1,2994.5 L1093.0,2994.7 L1093.9,2990.5 L1094.4,2994.2 L1094.8,2997.8 L1095.7,2994.8 L1096.6,2996.6 L1097.5,2996.7 L1098.4,3006.3 L1099.3,3001.1 L1100.2,3009.8 L1100.6,3009.9 L1101.1,3002.3 L1102.0,3000.8 L1102.9,2998.0 L1103.8,2990.6 L1104.7,2994.6 L1105.6,2999.4 L1106.0,2998.4 L1106.5,3003.1 L1107.4,3002.0 L1108.3,3000.1 L1109.2,3008.0 L1110.1,3007.7 L1111.0,3018.1 L1111.9,3021.7 L1112.8,3024.2 L1113.4,3024.2 L1113.7,3026.4 L1114.6,3031.8 L1115.5,3030.3 L1116.4,3026.2 L1117.3,3030.3 L1118.2,3031.7 L1119.1,3033.2 L1120.0,3042.4 L1120.9,3045.9 L1121.8,3047.0 L1122.5,3046.6 L1122.7,3046.6 L1123.6,3043.4 L1124.5,3046.8 L1125.4,3053.7 L1126.3,3047.0 L1127.2,3051.4 L1128.1,3060.1 L1129.0,3055.2 L1129.9,3062.0 L1130.8,3067.1 L1131.6,3062.4 L1131.7,3059.8 L1132.6,3063.0 L1133.5,3067.7 L1134.4,3065.4 L1135.3,3067.5 L1136.2,3064.3 L1137.1,3058.4 L1138.0,3069.0 L1138.9,3072.8 L1139.8,3080.3 L1140.7,3083.2 L1140.7,3082.5 L1141.6,3084.6 L1142.5,3078.8 L1143.4,3066.3 L1144.3,3067.9 L1145.2,3073.2 L1146.1,3076.8 L1147.0,3072.8 L1147.9,3067.7 L1148.0,3071.8 L1148.8,3075.8 L1149.7,3080.9 L1150.6,3085.7 L1151.5,3091.4 L1152.4,3085.5 L1153.3,3090.0 L1154.2,3091.8 L1155.1,3090.5 L1155.3,3090.5 L1156.0,3090.2 L1156.9,3089.5 L1157.8,3087.5 L1158.7,3089.7 L1159.6,3086.8 L1160.5,3084.6 L1161.4,3104.9 L1162.3,3110.4 L1163.2,3108.1 L1164.1,3104.7 L1164.5,3102.8 L1165.0,3102.8 L1165.9,3098.2 L1166.8,3089.9 L1167.7,3092.6 L1168.6,3095.6 L1169.5,3094.1 L1170.4,3102.0 L1171.3,3102.9 L1172.2,3101.9 L1173.1,3098.9 L1174.0,3097.6 L1174.9,3086.4 L1175.4,3089.1 L1175.8,3092.7 L1176.7,3092.8 L1177.6,3099.1 L1178.5,3103.2 L1179.4,3099.0 L1180.3,3106.1 L1181.2,3107.7 L1182.1,3107.2 L1183.0,3106.1 L1183.9,3109.4 L1184.8,3118.1 L1185.7,3113.7 L1186.4,3115.6 L1186.6,3112.6 L1187.5,3110.2 L1188.4,3109.8 L1189.3,3114.4 L1190.2,3119.1 L1191.1,3115.7 L1192.0,3115.1 L1192.9,3113.5 L1193.8,3105.7 L1194.7,3105.4 L1195.6,3101.3 L1196.5,3102.4 L1197.4,3103.5 L1198.3,3099.5 L1199.2,3110.0 L1200.1,3108.8 L1201.0,3112.6 L1201.9,3108.5 L1202.8,3105.5 L1203.7,3099.3 L1204.6,3096.6 L1204.6,3102.8 L1205.5,3103.6 L1206.4,3103.1 L1207.3,3108.7 L1208.2,3103.5 L1209.1,3103.4 L1210.0,3108.6 L1210.9,3101.4 L1211.8,3101.1 L1212.7,3114.4 L1213.6,3110.4 L1214.5,3115.9 L1215.4,3110.9 L1216.3,3114.5 L1217.2,3117.7 L1218.1,3109.1 L1219.0,3103.1 L1219.9,3095.5 L1220.8,3100.8 L1221.7,3098.4 L1222.6,3098.5 L1222.9,3097.1 L1223.5,3098.1 L1224.4,3101.4 L1225.3,3093.4 L1226.2,3101.9 L1227.1,3103.2 L1228.0,3100.0 L1228.9,3098.0 L1229.8,3101.3 L1230.7,3112.2 L1231.6,3115.0 L1232.5,3112.5 L1233.4,3111.2 L1234.3,3105.0 L1235.2,3098.4 L1236.1,3099.3 L1237.0,3106.5 L1237.9,3112.9 L1238.8,3104.6 L1239.7,3100.7 L1240.6,3096.7 L1241.1,3104.2 L1241.5,3102.2 L1242.4,3103.9 L1243.3,3102.0 L1244.2,3108.3 L1245.1,3106.4 L1246.0,3102.7 L1246.9,3099.9 L1247.8,3098.9 L1248.7,3103.8 L1249.6,3097.3 L1250.5,3097.6 L1251.4,3103.5 L1252.3,3107.7 L1253.2,3102.5 L1254.1,3109.1 L1255.0,3096.8 L1255.9,3105.2 L1256.8,3105.4 L1257.7,3103.3 L1258.6,3112.5 L1259.4,3112.8 L1259.5,3114.8 L1260.4,3110.4 L1261.3,3104.5 L1262.2,3105.1 L1263.1,3099.4 L1264.0,3101.8 L1264.9,3111.1 L1265.8,3109.5 L1266.7,3105.8 L1267.6,3096.6 L1268.5,3099.6 L1269.4,3100.0 L1270.0,3109.1 L1270.3,3107.1 L1271.2,3108.5 L1272.1,3109.8 L1273.0,3105.0 L1273.9,3101.0 L1274.8,3105.3 L1275.7,3111.8 L1276.6,3114.1 L1277.5,3110.0 L1278.4,3109.9 L1279.3,3102.4 L1280.2,3111.2 L1281.1,3103.3 L1282.0,3102.9 L1282.9,3096.4 L1283.8,3100.6 L1284.7,3102.3 L1285.6,3097.6 L1286.5,3098.5 L1287.4,3104.3 L1288.3,3102.6 L1289.2,3102.5 L1290.1,3101.5 L1291.0,3093.2 L1291.9,3093.0 L1292.8,3087.1 L1293.7,3096.3 L1294.6,3104.0 L1295.5,3104.2 L1296.4,3107.7 L1297.3,3104.6 L1298.2,3106.3 L1299.1,3111.8 L1300.0,3106.3 L1300.9,3105.4 L1301.8,3109.0 L1302.7,3108.1 L1303.6,3107.4 L1304.5,3110.5 L1305.4,3102.1 L1306.3,3104.0 L1307.2,3101.4 L1308.1,3102.8 L1309.0,3106.6 L1309.9,3108.4 L1310.8,3102.2 L1311.7,3100.5 L1312.6,3096.8 L1313.5,3109.7 L1314.4,3111.0 L1315.3,3110.1 L1316.2,3092.6 L1317.1,3100.1 L1318.0,3104.8 L1318.9,3112.8 L1319.8,3103.8 L1320.7,3099.7 L1321.6,3098.0 L1322.5,3099.3 L1323.4,3098.8 L1324.3,3100.5 L1325.2,3098.6 L1326.1,3102.5 L1327.0,3095.7 L1327.9,3098.1 L1328.8,3104.9 L1329.7,3102.6 L1330.6,3098.1 L1331.5,3096.4 L1332.4,3094.0 L1333.3,3087.2 L1334.2,3094.5 L1335.1,3090.9 L1336.0,3101.8 L1336.9,3103.2 L1337.8,3093.3 L1338.7,3092.3 L1339.6,3096.7 L1340.5,3100.9 L1341.4,3103.3 L1342.3,3105.1 L1343.2,3111.3 L1344.1,3104.1 L1345.0,3095.8 L1345.9,3101.7 L1346.8,3111.4 L1347.7,3122.6 L1348.6,3116.5 L1349.5,3098.2 L1350.4,3102.9 L1351.3,3096.6 L1352.2,3097.9 L1353.1,3107.0 L1354.0,3111.0 L1354.9,3110.3 L1355.8,3111.1 L1356.7,3107.1 L1357.6,3103.6 L1358.5,3102.2 L1359.4,3099.4 L1360.3,3099.2 L1361.2,3103.8 L1362.1,3107.5 L1363.0,3116.4 L1363.9,3107.0 L1364.8,3104.5 L1365.7,3108.7 L1366.6,3105.6 L1367.5,3097.7 L1368.4,3104.1 L1369.3,3097.6 L1370.2,3092.6 L1371.1,3097.3 L1372.0,3098.9 L1372.9,3106.1 L1373.8,3106.5 L1374.7,3111.8 L1375.6,3104.2 L1376.5,3100.2 L1377.4,3104.9 L1378.3,3106.4 L1379.2,3110.0 L1379.5,3105.4 L1380.1,3100.0 L1381.0,3101.3 L1381.9,3116.2 L1382.8,3109.2 L1383.7,3103.7 L1384.6,3101.6 L1385.5,3102.9 L1386.4,3104.9 L1387.3,3103.6 L1388.2,3095.3 L1389.1,3086.0 L1390.0,3098.0 L1390.9,3094.9 L1391.8,3099.9 L1392.7,3099.2 L1393.6,3096.0 L1394.5,3089.0 L1395.4,3099.3 L1396.3,3098.9 L1397.2,3094.2 L1398.1,3101.1 L1399.0,3099.4 L1399.9,3095.5 L1400.8,3098.1 L1401.7,3105.1 L1402.6,3099.4 L1403.5,3094.9 L1404.4,3086.5 L1405.3,3098.6 L1406.2,3108.1 L1407.1,3104.0 L1408.0,3102.3 L1408.9,3101.5 L1409.8,3103.8 L1410.7,3099.3 L1411.6,3106.4 L1412.5,3104.4 L1413.4,3103.6 L1414.3,3099.2 L1415.2,3098.7 L1416.1,3099.5 L1417.0,3107.3 L1417.9,3097.1 L1418.8,3098.5 L1419.7,3098.4 L1420.6,3104.1 L1421.5,3105.4 L1422.4,3104.1 L1423.3,3111.0 L1424.2,3107.4 L1425.1,3107.9 L1426.0,3108.7 L1426.9,3110.1 L1427.8,3105.7 L1428.7,3095.4 L1429.6,3098.5 L1430.5,3097.5 L1431.4,3100.2 L1432.3,3100.7 L1433.2,3097.3 L1434.1,3101.4 L1435.0,3100.9 L1435.9,3102.9 L1436.8,3104.8 L1437.7,3114.7 L1438.6,3112.8 L1439.5,3115.8 L1440.4,3112.3 L1441.3,3099.1 L1442.2,3099.0 L1443.1,3100.3 L1444.0,3100.8 L1444.9,3100.6 L1445.8,3107.9 L1446.7,3104.2 L1447.6,3098.6 L1448.5,3102.5 L1449.4,3101.3 L1450.3,3107.0 L1451.2,3101.1 L1452.1,3106.9 L1453.0,3109.6 L1453.9,3110.5 L1454.8,3103.5 L1455.7,3099.7 L1456.6,3100.9 L1457.5,3100.4 L1458.4,3105.4 L1459.3,3103.5 L1460.2,3097.6 L1461.1,3082.7 L1462.0,3088.8 L1462.9,3095.5 L1463.8,3100.8 L1464.7,3111.7 L1465.6,3107.8 L1466.5,3114.0 L1467.4,3119.0 L1468.3,3111.6 L1469.2,3111.7 L1470.1,3120.0 L1471.0,3104.2 L1471.9,3101.8 L1472.8,3094.2 L1473.7,3098.2 L1474.6,3107.9 L1475.5,3105.5 L1476.4,3101.4 L1477.3,3104.6 L1478.2,3100.6 L1479.1,3101.1 L1480.0,3091.9 L1480.9,3104.0 L1481.8,3102.5 L1482.7,3099.0 L1483.6,3103.9 L1484.5,3113.0 L1485.4,3109.6 L1486.3,3109.7 L1487.2,3107.9 L1488.1,3104.0 L1489.0,3100.1 L1489.9,3109.3 L1490.8,3110.1 L1491.7,3109.9 L1492.6,3103.8 L1493.5,3100.6 L1494.4,3098.4 L1495.3,3098.5 L1496.2,3103.4 L1497.1,3110.0 L1498.0,3100.4 L1498.9,3104.7 L1499.8,3107.2 L1500.7,3102.1 L1501.6,3108.1 L1502.5,3109.4 L1503.4,3111.7 L1504.3,3109.6 L1505.2,3105.0 L1506.1,3101.0 L1507.0,3089.5 L1507.9,3094.3 L1508.8,3097.6 L1509.7,3096.5 L1510.6,3105.3 L1511.5,3112.9 L1512.4,3110.4 L1513.3,3103.2 L1514.2,3112.4 L1515.1,3112.0 L1516.0,3105.0 L1516.9,3094.9 L1517.8,3088.6 L1518.7,3100.1 L1519.6,3105.1 L1520.5,3114.6 L1521.4,3115.7 L1522.3,3115.7 L1523.2,3109.8 L1524.1,3103.8 L1525.0,3100.4 L1525.6,3099.7 L1525.9,3100.1 L1526.8,3107.2 L1527.7,3116.4 L1528.6,3113.1 L1529.5,3105.3 L1530.4,3093.3 L1531.3,3102.0 L1532.2,3095.5 L1533.1,3098.1 L1534.0,3103.3 L1534.9,3107.6 L1535.8,3097.4 L1536.7,3097.4 L1537.6,3107.4 L1538.5,3111.7 L1539.4,3103.3 L1540.3,3096.7 L1541.2,3098.2 L1542.1,3105.2 L1543.0,3103.7 L1543.9,3104.4 L1544.8,3094.3 L1545.7,3104.9 L1546.6,3111.8 L1547.5,3107.0 L1548.4,3103.3 L1549.3,3103.1 L1550.2,3100.6 L1551.1,3096.6 L1552.0,3105.8 L1552.9,3096.4 L1553.8,3101.6 L1554.7,3097.6 L1555.6,3099.6 L1556.5,3111.7 L1557.4,3106.9 L1558.3,3101.0 L1559.2,3110.4 L1560.1,3112.7 L1561.0,3113.3 L1561.9,3104.9 L1562.8,3101.4 L1563.7,3097.1 L1564.6,3105.3 L1565.5,3103.0 L1566.4,3092.0 L1567.3,3095.4 L1568.2,3104.6 L1569.1,3109.7 L1570.0,3107.0 L1570.9,3112.6 L1571.8,3113.0 L1572.7,3109.7 L1573.6,3111.0 L1574.5,3109.4 L1575.4,3109.2 L1576.3,3108.3 L1577.2,3110.6 L1578.1,3101.1 L1579.0,3106.5 L1579.9,3100.5 L1580.8,3093.4 L1581.7,3102.1 L1582.6,3105.0 L1583.5,3108.3 L1584.4,3115.5 L1585.3,3116.3 L1586.2,3111.3 L1587.1,3105.1 L1588.0,3098.4 L1588.9,3096.3 L1589.8,3087.1 L1590.7,3097.2 L1591.6,3096.9 L1592.5,3105.7 L1593.4,3093.9 L1594.3,3099.0 L1595.2,3097.7 L1596.1,3103.6 L1597.0,3089.2 L1597.9,3091.8 L1598.8,3090.0 L1599.7,3094.7 L1600.6,3096.9 L1601.5,3105.1 L1602.4,3105.5 L1603.3,3119.1 L1604.2,3107.9 L1605.1,3099.9 L1606.0,3099.0 L1606.9,3103.7 L1607.8,3104.5 L1608.7,3100.7 L1609.6,3102.1 L1610.5,3099.4 L1611.4,3107.8 L1612.3,3103.2 L1613.2,3101.0 L1614.1,3103.6 L1615.0,3104.3 L1615.9,3111.7 L1616.8,3102.1 L1617.7,3103.0 L1618.6,3102.2 L1619.5,3101.6 L1620.4,3104.7 L1621.3,3101.4 L1622.2,3101.2 L1623.1,3104.6 L1624.0,3107.2 L1624.9,3103.7 L1625.8,3110.0 L1626.7,3110.1 L1627.6,3108.4 L1628.5,3105.7 L1629.4,3109.2 L1630.3,3106.6 L1631.2,3095.8 L1632.1,3107.8 L1633.0,3101.6 L1633.9,3107.9 L1634.8,3100.1 L1635.7,3100.7 L1636.6,3097.2 L1637.5,3107.6 L1638.4,3108.0 L1639.3,3111.3 L1640.2,3108.8 L1641.1,3109.9 L1642.0,3104.6 L1642.9,3096.3 L1643.8,3098.2 L1644.7,3102.7 L1645.6,3103.4 L1646.5,3098.8 L1647.4,3104.2 L1648.3,3110.1 L1649.2,3110.0 L1650.1,3109.5 L1651.0,3100.0 L1651.9,3096.6 L1652.8,3107.4 L1653.7,3094.2 L1654.6,3094.1 L1655.5,3094.8 L1656.4,3095.1 L1657.3,3105.9 L1658.2,3104.1 L1659.1,3093.7 L1660.0,3099.3 L1660.9,3101.6 L1661.8,3102.6 L1662.7,3108.4 L1663.6,3099.0 L1664.5,3095.9 L1665.4,3091.7 L1666.3,3083.7 L1667.2,3092.4 L1668.1,3097.6 L1669.0,3102.0 L1669.9,3103.5 L1670.8,3097.5 L1671.6,3098.8 L1671.7,3102.2 L1672.6,3106.3 L1673.5,3109.6 L1674.4,3108.0 L1675.3,3105.2 L1676.2,3099.0 L1677.1,3088.4 L1678.0,3100.9 L1678.9,3094.0 L1679.8,3101.2 L1680.7,3095.5 L1681.6,3085.6 L1682.5,3089.7 L1683.4,3095.3 L1684.3,3092.6 L1685.2,3099.8 L1686.1,3105.9 L1687.0,3102.6 L1687.9,3097.3 L1688.8,3099.5 L1689.7,3091.1 L1690.6,3091.0 L1691.5,3098.2 L1692.4,3099.1 L1693.3,3102.1 L1694.2,3101.1 L1695.1,3092.2 L1696.0,3086.7 L1696.9,3091.5 L1697.8,3097.3 L1698.7,3099.7 L1699.6,3089.5 L1700.5,3094.0 L1701.4,3098.4 L1702.3,3096.9 L1703.2,3097.6 L1704.1,3096.9 L1705.0,3094.1 L1705.9,3088.5 L1706.8,3090.9 L1707.7,3085.2 L1708.6,3097.4 L1709.5,3104.4 L1710.4,3096.1 L1711.3,3091.9 L1712.2,3098.3 L1713.1,3097.9 L1714.0,3090.1 L1714.9,3094.8 L1715.8,3093.7 L1716.7,3093.3 L1717.6,3092.6 L1718.5,3096.6 L1719.4,3095.1 L1720.3,3097.4 L1721.2,3095.4 L1722.1,3093.9 L1723.0,3099.0 L1723.9,3098.9 L1724.8,3094.4 L1725.7,3092.8 L1726.4,3092.5 L1726.6,3097.7 L1727.5,3085.5 L1728.4,3079.5 L1729.3,3077.2 L1730.2,3081.0 L1731.1,3075.6 L1732.0,3080.5 L1732.9,3083.1 L1733.8,3076.8 L1734.7,3072.3 L1735.6,3086.8 L1736.5,3078.4 L1737.4,3074.8 L1738.3,3074.8 L1739.2,3074.5 L1740.1,3074.6 L1741.0,3072.1 L1741.9,3084.7 L1742.8,3086.2 L1743.7,3075.1 L1744.6,3080.5 L1744.6,3081.4 L1745.5,3079.0 L1746.4,3075.4 L1747.3,3071.2 L1748.2,3065.8 L1749.1,3070.2 L1750.0,3074.3 L1750.9,3061.4 L1751.8,3063.8 L1752.7,3062.3 L1753.6,3068.6 L1754.5,3069.3 L1755.4,3069.8 L1756.3,3069.4 L1757.2,3059.6 L1758.1,3059.7 L1759.0,3050.4 L1759.2,3053.3 L1759.9,3051.3 L1760.8,3056.5 L1761.7,3065.7 L1762.6,3068.7 L1763.5,3061.9 L1764.4,3052.2 L1765.3,3062.7 L1766.2,3059.8 L1767.1,3060.8 L1768.0,3067.4 L1768.9,3074.5 L1769.8,3076.7 L1770.7,3069.6 L1771.6,3065.1 L1772.5,3063.8 L1773.4,3063.7 L1773.8,3058.8 L1774.3,3060.2 L1775.2,3062.0 L1776.1,3065.8 L1777.0,3068.5 L1777.9,3062.1 L1778.8,3068.1 L1779.7,3071.4 L1780.0,3063.0 L1780.6,3070.3 L1781.5,3069.9 L1782.4,3068.3 L1783.3,3059.6 L1784.2,3050.2 L1785.1,3050.9 L1786.0,3036.6 L1786.9,3032.0 L1787.8,3032.9 L1787.8,3035.3 L1788.7,3028.0 L1789.6,3032.9 L1790.5,3021.7 L1791.4,3012.0 L1792.3,3008.9 L1793.2,3017.5 L1794.1,3003.1 L1795.0,2998.8 L1795.9,3000.4 L1796.8,2997.6 L1797.7,3003.9 L1798.3,2995.8 L1798.6,2999.3 L1799.5,2992.3 L1800.4,2991.0 L1801.3,2998.1 L1802.2,2995.0 L1803.1,2999.3 L1804.0,2993.3 L1804.9,2996.5 L1805.8,2985.2 L1806.1,2989.8 L1806.7,2998.0 L1807.6,2997.5 L1808.5,2994.6 L1809.4,2995.6 L1810.3,2990.7 L1811.2,2988.3 L1812.1,2989.5 L1813.0,2984.5 L1813.9,2992.2 L1814.8,2999.8 L1815.7,2991.8 L1816.5,2981.2 L1816.6,2988.5 L1817.5,2974.8 L1818.4,2976.1 L1819.3,2986.7 L1820.2,2991.0 L1821.1,2989.7 L1822.0,2985.7 L1822.9,2982.8 L1823.8,2979.4 L1824.7,2976.6 L1825.6,2970.0 L1826.5,2972.2 L1826.9,2977.8 L1827.4,2980.2 L1828.3,2977.0 L1829.2,2980.9 L1830.1,2983.9 L1831.0,2963.6 L1831.9,2969.5 L1832.8,2975.9 L1833.7,2977.5 L1834.6,2962.0 L1835.5,2967.4 L1836.1,2967.6 L1836.4,2966.6 L1837.3,2978.1 L1838.2,2990.1 L1839.1,2997.5 L1840.0,3000.3 L1840.0,3002.3 L1840.9,3008.4 L1841.8,2996.0 L1842.7,2986.2 L1843.6,2991.0 L1844.5,2989.5 L1845.4,2984.9 L1846.3,2981.0 L1847.2,2980.7 L1847.8,2982.8 L1848.1,2985.4 L1849.0,2974.4 L1849.9,2968.6 L1850.8,2974.8 L1851.7,2986.3 L1852.6,2985.4 L1853.5,2984.6 L1854.4,2991.2 L1855.3,2984.6 L1855.6,2987.5 L1856.2,2985.9 L1857.1,2982.1 L1858.0,2991.5 L1858.9,2983.4 L1859.8,2989.8 L1860.7,2983.8 L1861.6,2992.2 L1862.5,2997.0 L1863.4,3003.9 L1863.4,2993.3 L1864.3,2994.5 L1865.2,2990.8 L1866.1,2994.8 L1867.0,2993.9 L1867.9,3002.1 L1868.8,2999.7 L1869.7,3000.9 L1870.6,3005.2 L1871.3,3009.1 L1871.5,3014.4 L1872.4,3014.9 L1873.3,3006.4 L1874.2,3011.6 L1875.1,3027.3 L1876.0,3028.9 L1876.9,3023.6 L1877.8,3032.1 L1878.7,3040.9 L1879.1,3038.7 L1879.6,3037.4 L1880.5,3049.6 L1881.4,3047.8 L1882.3,3037.8 L1883.2,3046.3 L1884.1,3050.8 L1885.0,3056.4 L1885.9,3058.3 L1886.8,3053.9 L1887.7,3052.0 L1888.6,3060.6 L1889.5,3058.9 L1889.5,3055.3 L1890.4,3061.3 L1891.3,3048.0 L1892.2,3054.6 L1893.1,3053.0 L1894.0,3057.4 L1894.9,3055.2 L1895.8,3051.2 L1896.7,3057.2 L1897.6,3051.3 L1898.5,3055.3 L1898.6,3056.5 L1899.4,3053.8 L1900.3,3055.8 L1901.2,3063.5 L1902.1,3066.3 L1902.6,3073.6 L1903.0,3076.1 L1903.9,3088.0 L1904.8,3083.5 L1905.7,3092.5 L1906.6,3085.8 L1907.5,3089.0 L1908.4,3097.6 L1909.3,3103.5 L1910.2,3098.7 L1910.4,3100.8 L1911.1,3097.1 L1912.0,3095.8 L1912.9,3097.7 L1913.8,3093.6 L1914.7,3089.1 L1915.6,3091.7 L1916.5,3090.9 L1917.4,3086.9 L1918.3,3092.6 L1919.2,3087.4 L1920.1,3078.8 L1920.8,3083.8 L1921.0,3081.5 L1921.9,3090.9 L1922.8,3086.6 L1923.7,3095.1 L1924.6,3093.7 L1925.5,3091.0 L1926.4,3096.4 L1927.3,3100.2 L1928.2,3100.2 L1928.6,3106.8 L1929.1,3108.9 L1930.0,3104.5 L1930.9,3106.4 L1931.8,3098.6 L1932.7,3088.4 L1933.6,3087.6 L1934.5,3093.0 L1935.4,3085.4 L1936.3,3088.7 L1936.5,3082.8 L1937.2,3091.0 L1938.1,3088.0 L1939.0,3093.0 L1939.9,3090.0 L1940.8,3089.6 L1941.7,3089.6 L1942.6,3101.2 L1943.5,3101.3 L1944.3,3099.5 L1944.4,3093.1 L1945.3,3101.9 L1946.2,3108.7 L1947.1,3116.7 L1948.0,3113.7 L1948.9,3110.3 L1949.8,3110.9 L1950.7,3116.1 L1951.6,3114.7 L1952.1,3116.7 L1952.5,3118.3 L1953.4,3118.3 L1954.3,3126.4 L1955.2,3114.2 L1956.1,3117.5 L1957.0,3124.8 L1957.9,3107.8 L1958.8,3101.9 L1959.7,3103.1 L1959.9,3095.4 L1960.6,3100.2 L1961.5,3101.0 L1962.4,3086.8 L1963.3,3090.6 L1964.2,3083.1 L1965.1,3075.9 L1966.0,3079.3 L1966.9,3084.3 L1967.7,3077.4 L1967.8,3078.2 L1968.7,3076.1 L1969.6,3067.4 L1970.5,3077.0 L1971.4,3075.9 L1972.3,3071.6 L1973.2,3070.5 L1974.1,3076.0 L1975.0,3067.8 L1975.6,3068.6 L1975.9,3065.5 L1976.8,3068.1 L1977.7,3083.3 L1978.6,3084.6 L1979.5,3085.9 L1980.4,3086.5 L1980.8,3082.9 L1981.3,3081.2 L1982.2,3083.8 L1983.1,3081.3 L1984.0,3063.8 L1984.9,3057.6 L1985.8,3044.0 L1986.0,3044.6 L1986.7,3040.0 L1987.6,3027.9 L1988.5,3027.2 L1989.4,3022.3 L1990.3,3029.6 L1991.2,3029.4 L1992.1,3036.3 L1993.0,3032.4 L1993.9,3030.9 L1994.8,3018.4 L1995.7,3025.7 L1996.4,3024.4 L1996.6,3027.6 L1997.5,3020.0 L1998.4,3015.0 L1999.3,3015.0 L2000.2,3011.5 L2001.1,3014.0 L2002.0,3012.4 L2002.9,3010.9 L2003.8,3016.3 L2004.7,3008.3 L2005.6,3014.1 L2006.5,3008.4 L2006.9,3012.3 L2007.4,3003.7 L2008.3,3005.5 L2009.2,3005.3 L2010.1,3006.1 L2011.0,3009.9 L2011.9,3001.4 L2012.8,2987.4 L2013.7,2976.3 L2014.6,2969.5 L2014.7,2975.5 L2015.5,2963.1 L2016.4,2980.0 L2017.3,2979.6 L2018.2,2964.6 L2019.1,2954.6 L2020.0,2956.3 L2020.9,2954.3 L2021.8,2943.9 L2022.5,2943.6 L2022.7,2945.9 L2023.6,2954.6 L2024.5,2935.1 L2025.4,2916.2 L2026.3,2923.9 L2027.2,2923.0 L2028.1,2919.2 L2029.0,2900.1 L2029.9,2891.5 L2030.3,2890.7 L2030.8,2882.8 L2031.7,2881.1 L2032.6,2870.3 L2033.5,2863.8 L2034.4,2846.7 L2035.3,2844.2 L2036.2,2836.3 L2036.8,2832.3 L2037.1,2835.0 L2038.0,2829.5 L2038.9,2826.9 L2039.8,2809.6 L2040.7,2792.0 L2041.6,2780.3 L2041.7,2776.0 L2042.5,2775.4 L2043.4,2762.1 L2044.3,2764.7 L2045.2,2735.7 L2046.1,2727.4 L2047.0,2725.3 L2047.6,2712.6 L2047.9,2716.8 L2048.8,2697.6 L2049.7,2686.4 L2050.6,2688.9 L2051.5,2674.3 L2052.4,2657.0 L2053.3,2649.3 L2053.6,2640.1 L2054.2,2625.2 L2055.1,2565.3 L2055.6,2541.5 L2056.0,2529.0 L2056.9,2500.3 L2057.8,2470.2 L2058.7,2457.9 L2059.6,2443.3 L2059.6,2439.7 L2060.5,2414.9 L2061.4,2394.6 L2062.3,2366.4 L2063.2,2344.2 L2063.6,2336.0 L2064.1,2328.2 L2065.0,2303.6 L2065.9,2283.7 L2066.8,2249.7 L2067.6,2226.9 L2067.7,2223.7 L2068.6,2220.3 L2069.5,2208.7 L2070.4,2184.1 L2071.3,2175.7 L2072.2,2158.0 L2073.1,2139.9 L2073.6,2141.6 L2074.0,2134.5 L2074.9,2116.3 L2075.8,2098.7 L2076.7,2086.1 L2077.6,2078.7 L2078.5,2065.6 L2079.4,2046.4 L2079.5,2044.0 L2080.3,2026.0 L2081.2,2008.9 L2082.1,1991.5 L2083.0,1975.8 L2083.9,1961.7 L2084.8,1947.1 L2085.5,1939.9 L2085.7,1937.6 L2086.6,1929.9 L2087.5,1923.3 L2088.4,1916.1 L2089.3,1911.1 L2090.2,1905.6 L2091.1,1902.0 L2092.0,1900.6 L2092.9,1899.2 L2093.5,1899.3 L2093.8,1899.1 L2094.7,1898.8 L2095.6,1902.7 L2096.5,1906.0 L2097.4,1911.1 L2098.3,1915.2 L2099.2,1919.9 L2099.5,1922.1 L2100.1,1929.0 L2101.0,1944.6 L2101.9,1962.1 L2102.8,1980.3 L2103.5,1997.2 L2103.7,2002.9 L2104.6,2023.4 L2105.5,2047.2 L2106.4,2064.3 L2107.3,2085.0 L2107.4,2074.8 L2108.2,2083.2 L2109.1,2103.9 L2110.0,2132.7 L2110.9,2150.4 L2111.4,2151.6 L2111.8,2164.6 L2112.7,2187.8 L2113.6,2221.3 L2114.5,2241.3 L2115.4,2252.5 L2115.4,2256.2 L2116.3,2270.2 L2117.2,2284.9 L2118.1,2301.6 L2119.0,2329.1 L2119.4,2346.4 L2119.9,2361.0 L2120.8,2379.8 L2121.7,2396.3 L2122.6,2413.2 L2123.4,2433.2 L2123.5,2440.7 L2124.4,2457.2 L2125.3,2475.6 L2126.2,2498.9 L2127.1,2528.7 L2127.4,2534.3 L2128.0,2557.8 L2128.9,2579.8 L2129.8,2608.0 L2130.6,2631.1 L2130.7,2630.8 L2131.6,2667.5 L2132.5,2683.8 L2133.0,2699.0 L2133.4,2713.0 L2134.3,2747.1 L2135.2,2771.9 L2135.4,2777.6 L2136.1,2790.7 L2137.0,2813.8 L2137.9,2836.4 L2138.8,2837.9 L2139.7,2844.0 L2139.8,2846.4 L2140.6,2854.3 L2141.5,2865.1 L2142.4,2886.1 L2143.3,2896.0 L2144.2,2915.0 L2145.1,2933.7 L2145.1,2930.3 L2146.0,2953.6 L2146.9,2966.9 L2147.8,2993.4 L2148.7,3014.8 L2149.6,3040.7 L2150.3,3048.6 L2150.5,3055.0 L2151.4,3081.1 L2152.3,3085.2 L2153.2,3089.7 L2154.1,3101.6 L2154.4,3109.1"/>
<path stroke="#ff80ff" d="M250.6,3112.2 L251.5,3107.5 L252.4,3110.0 L253.3,3107.1 L254.2,3107.8 L255.1,3109.9 L256.0,3115.0 L256.9,3123.7 L257.8,3118.2 L258.7,3119.7 L259.6,3122.9 L260.5,3120.1 L261.4,3112.1 L261.6,3107.9 L262.3,3103.3 L263.2,3111.6 L264.1,3105.0 L265.0,3109.5 L265.9,3108.7 L266.8,3103.0 L267.7,3103.5 L268.6,3096.4 L269.5,3087.5 L270.4,3085.5 L271.3,3082.3 L272.2,3079.3 L272.5,3089.0 L273.1,3089.0 L274.0,3094.2 L274.9,3090.1 L275.8,3084.9 L276.7,3078.1 L277.6,3076.7 L278.5,3072.9 L279.4,3077.7 L280.3,3080.3 L281.2,3076.2 L282.1,3070.7 L283.0,3070.5 L283.9,3067.0 L284.8,3066.4 L285.7,3068.9 L286.6,3062.5 L287.1,3057.9 L287.5,3056.5 L288.4,3060.6 L289.3,3054.4 L290.2,3054.4 L291.1,3049.6 L292.0,3050.3 L292.9,3048.2 L293.8,3057.0 L294.7,3053.7 L295.6,3061.8 L296.5,3056.9 L297.4,3061.1 L298.3,3058.4 L299.2,3051.5 L300.1,3050.1 L301.0,3043.2 L301.7,3040.0 L301.9,3044.3 L302.8,3045.5 L303.7,3042.5 L304.6,3051.6 L305.5,3048.3 L306.4,3043.0 L307.3,3053.1 L308.2,3052.1 L309.1,3051.2 L310.0,3053.5 L310.9,3057.8 L311.8,3057.6 L312.7,3049.8 L313.6,3052.8 L314.5,3050.5 L315.4,3058.0 L316.3,3050.3 L316.3,3050.8 L317.2,3053.4 L318.1,3055.5 L319.0,3051.3 L319.9,3050.5 L320.8,3045.8 L321.7,3043.1 L322.6,3045.6 L323.5,3044.9 L324.4,3047.6 L325.3,3045.4 L326.2,3051.7 L327.1,3054.3 L327.3,3054.9 L328.0,3054.9 L328.9,3048.6 L329.8,3050.9 L330.7,3047.7 L331.6,3047.7 L332.5,3046.1 L333.4,3043.0 L334.3,3049.3 L335.2,3054.4 L336.1,3055.1 L337.0,3058.8 L337.9,3050.5 L338.8,3057.6 L339.7,3053.7 L340.6,3060.5 L341.5,3064.5 L341.9,3054.8 L342.4,3057.0 L343.3,3057.1 L344.2,3059.5 L345.1,3067.9 L346.0,3062.9 L346.9,3058.0 L347.4,3057.8 L347.8,3059.0 L348.7,3057.4 L349.6,3051.1 L350.5,3061.7 L351.4,3063.3 L352.3,3068.7 L353.2,3067.2 L354.1,3070.2 L355.0,3074.4 L355.9,3086.9 L356.5,3084.2 L356.8,3093.3 L357.7,3093.2 L358.6,3097.2 L359.5,3105.2 L360.4,3101.3 L361.3,3104.4 L362.2,3105.7 L363.1,3107.5 L364.0,3113.4 L364.9,3119.9 L365.8,3113.3 L366.7,3119.7 L367.4,3112.1 L367.6,3116.2 L368.5,3114.5 L369.4,3110.2 L370.3,3115.6 L371.2,3113.5 L372.1,3119.1 L373.0,3121.5 L373.9,3116.0 L374.8,3118.4 L375.7,3113.5 L376.6,3113.0 L377.5,3115.4 L378.4,3106.2 L379.3,3118.6 L380.2,3110.7 L381.1,3105.7 L382.0,3113.5 L382.0,3111.2 L382.9,3112.2 L383.8,3110.8 L384.7,3108.8 L385.6,3103.9 L386.5,3100.9 L387.4,3097.3 L388.3,3089.9 L389.2,3094.7 L389.3,3094.4 L390.1,3088.8 L391.0,3084.0 L391.9,3079.5 L392.8,3083.5 L393.7,3075.5 L394.6,3077.0 L395.5,3071.3 L396.4,3065.5 L397.3,3058.1 L398.2,3051.3 L399.1,3041.9 L400.0,3041.6 L400.3,3036.4 L400.9,3033.8 L401.8,3024.6 L402.7,3007.4 L403.6,3005.1 L404.5,2984.8 L405.4,2970.4 L406.3,2947.0 L407.2,2932.9 L407.6,2922.1 L408.1,2907.8 L409.0,2882.7 L409.9,2857.0 L410.8,2830.3 L411.7,2789.0 L412.0,2784.7 L412.6,2762.5 L413.5,2704.4 L414.4,2640.6 L415.3,2573.6 L415.6,2559.7 L416.2,2517.9 L417.1,2450.9 L417.8,2422.0 L418.0,2409.6 L418.9,2383.5 L419.8,2367.7 L420.7,2341.4 L421.0,2334.6 L421.6,2311.4 L422.3,2294.8 L422.5,2295.7 L423.4,2321.1 L423.6,2331.4 L424.3,2345.0 L425.2,2349.1 L426.1,2361.7 L427.0,2372.5 L427.9,2386.2 L428.8,2397.5 L429.5,2416.0 L429.7,2426.5 L430.6,2468.2 L431.5,2527.5 L432.1,2564.7 L432.4,2586.4 L433.3,2637.3 L434.2,2677.6 L435.1,2726.3 L435.3,2740.9 L436.0,2788.4 L436.9,2839.8 L437.8,2892.0 L438.6,2931.7 L438.7,2934.6 L439.6,2956.2 L440.5,2978.2 L441.4,3002.8 L442.3,3022.0 L443.2,3036.7 L444.1,3045.9 L445.0,3056.2 L445.9,3054.7 L445.9,3059.6 L446.8,3058.0 L447.7,3063.7 L448.6,3066.7 L449.5,3080.7 L450.4,3087.8 L451.3,3087.9 L452.2,3100.9 L453.1,3099.4 L454.0,3100.1 L454.9,3101.8 L455.1,3114.5 L455.8,3106.1 L456.7,3110.8 L457.6,3101.9 L458.5,3112.3 L459.4,3118.0 L460.3,3112.9 L461.2,3115.7 L462.1,3120.7 L463.0,3115.6 L463.9,3114.9 L464.8,3109.9 L465.7,3113.3 L466.6,3109.0 L467.5,3116.7 L468.4,3110.4 L469.3,3113.4 L469.7,3120.5 L470.2,3115.8 L471.1,3114.0 L472.0,3116.4 L472.9,3116.1 L473.8,3115.8 L474.7,3119.0 L475.6,3117.6 L476.5,3114.4 L477.4,3111.5 L478.3,3119.6 L479.2,3115.8 L480.1,3114.6 L481.0,3114.4 L481.9,3117.3 L482.8,3118.9 L483.7,3121.3 L484.3,3120.5 L484.6,3119.7 L485.5,3119.5 L486.4,3115.3 L487.3,3114.5 L488.2,3115.4 L489.1,3112.4 L490.0,3103.0 L490.9,3099.2 L491.8,3089.0 L492.7,3078.5 L493.6,3076.6 L494.5,3072.7 L495.2,3068.4 L495.4,3071.7 L496.3,3064.0 L497.2,3072.4 L498.1,3068.8 L499.0,3061.6 L499.9,3061.9 L500.8,3061.3 L501.7,3044.9 L502.6,3043.9 L503.5,3042.2 L504.4,3025.3 L505.3,3024.2 L506.2,3017.6 L506.2,3007.0 L507.1,3010.1 L508.0,3001.7 L508.9,2988.5 L509.8,2977.7 L510.7,2955.6 L511.6,2940.0 L512.5,2924.5 L513.4,2906.8 L514.2,2894.1 L514.3,2888.0 L515.2,2873.7 L516.1,2859.5 L517.0,2850.6 L517.9,2835.9 L518.8,2817.8 L519.7,2793.6 L520.0,2773.9 L520.6,2764.6 L521.5,2744.3 L522.4,2705.7 L523.3,2680.3 L524.2,2637.1 L524.4,2632.4 L525.1,2605.6 L526.0,2568.6 L526.9,2531.2 L527.8,2497.0 L528.1,2483.6 L528.7,2465.7 L529.6,2442.4 L530.5,2407.1 L531.3,2374.5 L531.4,2372.0 L532.3,2335.8 L533.0,2310.2 L533.2,2294.1 L534.1,2255.6 L534.8,2218.4 L535.0,2207.5 L535.9,2162.4 L536.4,2148.0 L536.8,2128.8 L537.4,2117.5 L537.7,2129.0 L538.3,2136.4 L538.6,2142.7 L539.5,2174.2 L540.2,2196.4 L540.4,2198.2 L541.3,2223.4 L542.2,2244.7 L542.6,2257.2 L543.1,2282.4 L544.0,2334.3 L544.7,2374.5 L544.9,2377.8 L545.8,2404.2 L546.7,2427.2 L547.6,2453.6 L548.5,2475.9 L548.9,2492.7 L549.4,2510.3 L550.3,2542.0 L551.2,2579.5 L552.1,2615.0 L552.2,2613.7 L553.0,2637.9 L553.9,2659.8 L554.8,2680.1 L555.7,2695.1 L556.2,2701.3 L556.6,2705.9 L557.5,2714.0 L558.4,2722.2 L559.3,2726.9 L560.2,2737.3 L560.9,2745.8 L561.1,2744.7 L562.0,2741.9 L562.9,2743.8 L563.8,2742.7 L564.7,2734.4 L565.6,2729.3 L566.4,2727.1 L566.5,2723.7 L567.4,2718.2 L568.3,2704.0 L569.2,2702.5 L570.1,2691.4 L571.0,2680.4 L571.9,2677.3 L571.9,2679.7 L572.8,2670.2 L573.7,2655.8 L574.6,2640.6 L575.5,2619.0 L576.4,2611.8 L577.3,2609.8 L578.1,2615.9 L578.2,2610.4 L579.1,2620.3 L580.0,2623.9 L580.9,2628.1 L581.8,2646.1 L582.7,2652.2 L582.8,2656.9 L583.6,2668.2 L584.5,2686.6 L585.4,2700.6 L586.3,2725.3 L587.2,2751.7 L587.2,2748.9 L588.1,2762.7 L589.0,2785.7 L589.9,2807.7 L590.8,2829.8 L591.7,2847.5 L592.0,2858.1 L592.6,2870.0 L593.5,2888.2 L594.4,2908.2 L595.3,2924.2 L596.2,2933.6 L597.1,2944.5 L597.4,2948.9 L598.0,2947.4 L598.9,2959.6 L599.8,2977.3 L600.7,2987.2 L601.6,2991.3 L602.5,2991.6 L602.9,3001.2 L603.4,3001.0 L604.3,3016.2 L605.2,3027.9 L606.1,3039.0 L607.0,3051.0 L607.9,3051.4 L608.8,3058.3 L609.7,3051.6 L610.2,3056.6 L610.6,3061.5 L611.5,3056.2 L612.4,3061.3 L613.3,3066.8 L614.2,3072.4 L615.1,3070.7 L616.0,3070.2 L616.9,3077.9 L617.8,3076.1 L618.7,3081.3 L619.4,3092.0 L619.6,3085.9 L620.5,3085.4 L621.4,3084.6 L622.3,3075.4 L623.2,3080.2 L624.1,3089.5 L625.0,3090.6 L625.9,3089.0 L626.8,3086.2 L627.7,3087.8 L628.6,3087.4 L629.5,3095.7 L630.4,3102.1 L631.3,3103.0 L632.2,3100.3 L633.1,3099.6 L634.0,3098.7 L634.9,3108.7 L635.8,3112.7 L636.7,3107.9 L637.6,3107.5 L637.6,3111.4 L638.5,3111.6 L639.4,3107.0 L640.3,3107.3 L641.2,3108.2 L642.1,3109.7 L643.0,3103.8 L643.9,3106.5 L644.8,3103.6 L645.7,3105.5 L646.6,3103.8 L647.5,3112.0 L648.4,3111.9 L649.3,3118.0 L650.2,3119.3 L651.1,3121.9 L652.0,3124.4 L652.9,3117.6 L653.8,3113.4 L654.7,3115.4 L655.6,3109.4 L655.9,3116.1 L656.5,3107.3 L657.4,3107.9 L658.3,3108.2 L659.2,3109.9 L660.1,3114.4 L661.0,3115.1 L661.9,3114.2 L662.8,3114.7 L663.7,3113.6 L664.6,3110.0 L665.5,3111.0 L666.4,3112.2 L667.3,3117.2 L668.2,3114.8 L669.1,3105.3 L670.0,3116.8 L670.9,3114.4 L671.8,3113.4 L672.7,3108.9 L673.6,3103.7 L674.1,3112.7 L674.5,3111.8 L675.4,3114.4 L676.3,3110.7 L677.2,3112.1 L678.1,3109.0 L679.0,3107.0 L679.9,3117.9 L680.8,3106.3 L681.7,3109.8 L682.6,3107.9 L683.5,3101.3 L684.4,3101.3 L685.3,3105.0 L686.2,3103.2 L687.1,3108.0 L688.0,3108.1 L688.9,3105.6 L689.8,3103.4 L690.7,3101.2 L691.6,3098.4 L692.4,3094.1 L692.5,3099.3 L693.4,3100.4 L694.3,3097.3 L695.2,3097.1 L696.1,3096.8 L697.0,3093.2 L697.9,3086.0 L698.8,3087.5 L699.7,3085.1 L700.6,3089.7 L701.5,3092.7 L702.4,3087.9 L703.3,3093.4 L704.2,3087.5 L705.1,3087.0 L706.0,3085.2 L706.9,3077.2 L707.8,3074.7 L708.7,3069.8 L709.6,3067.9 L710.5,3076.7 L710.6,3067.2 L711.4,3071.3 L712.3,3068.0 L713.2,3068.2 L714.1,3065.8 L715.0,3061.1 L715.9,3059.0 L716.8,3056.5 L717.7,3057.5 L718.6,3059.4 L719.5,3061.8 L720.4,3052.1 L721.3,3058.7 L722.2,3052.0 L723.1,3043.3 L724.0,3045.3 L724.9,3042.3 L725.2,3047.2 L725.8,3044.1 L726.7,3036.5 L727.6,3030.8 L728.5,3030.7 L729.4,3026.4 L730.3,3029.6 L731.2,3036.0 L732.1,3037.5 L733.0,3033.6 L733.9,3037.9 L734.8,3037.5 L735.7,3034.7 L736.6,3023.6 L737.5,3020.7 L738.0,3012.5 L738.4,3011.8 L739.3,3011.3 L740.2,2996.9 L741.1,2994.9 L742.0,2994.0 L742.9,2984.8 L743.8,2976.0 L744.2,2969.1 L744.7,2962.0 L745.6,2929.1 L746.5,2889.4 L747.1,2861.5 L747.4,2841.9 L748.3,2771.2 L749.0,2721.7 L749.2,2693.7 L750.1,2634.3 L750.5,2601.8 L751.0,2540.1 L751.8,2400.9 L751.9,2379.4 L752.8,2102.9 L752.8,2101.8 L753.7,1861.5 L753.7,1858.9 L754.6,2103.7 L754.6,2102.9 L755.5,2382.9 L755.6,2398.4 L756.4,2528.7 L757.0,2605.5 L757.3,2634.9 L758.2,2722.8 L759.0,2776.9 L759.1,2781.5 L760.0,2807.8 L760.9,2832.4 L761.0,2826.8 L761.8,2833.8 L762.7,2842.9 L763.6,2840.9 L764.5,2842.9 L765.4,2847.9 L766.3,2845.5 L766.5,2840.6 L767.2,2849.3 L768.1,2855.1 L769.0,2864.3 L769.9,2860.7 L770.8,2864.9 L771.7,2862.2 L772.6,2867.6 L773.5,2868.4 L773.8,2871.2 L774.4,2875.9 L775.3,2878.9 L776.2,2876.8 L777.1,2882.4 L778.0,2878.4 L778.9,2884.0 L779.8,2890.4 L780.7,2891.0 L781.1,2891.7 L781.6,2889.2 L782.5,2900.5 L783.4,2892.2 L784.3,2897.2 L785.2,2893.6 L786.1,2899.4 L787.0,2910.5 L787.9,2916.8 L788.4,2919.5 L788.8,2923.9 L789.7,2927.0 L790.6,2933.4 L791.5,2939.1 L792.4,2942.2 L793.3,2939.3 L794.2,2949.1 L795.1,2954.1 L795.7,2953.8 L796.0,2957.1 L796.9,2957.8 L797.8,2958.2 L798.7,2958.2 L799.6,2945.1 L800.5,2944.1 L801.4,2935.3 L802.3,2946.8 L803.2,2943.5 L804.1,2942.0 L804.8,2945.3 L805.0,2946.6 L805.9,2946.5 L806.8,2951.3 L807.7,2946.2 L808.6,2947.8 L809.5,2956.6 L810.4,2971.5 L811.3,2979.8 L812.1,2982.9 L812.2,2986.7 L813.1,2984.9 L814.0,2982.5 L814.9,2984.3 L815.8,2986.0 L816.7,2980.3 L817.6,2985.4 L818.5,2984.7 L819.4,2985.5 L820.3,2988.8 L821.2,2987.7 L821.3,2990.6 L822.1,2994.4 L823.0,2994.5 L823.9,2993.8 L824.8,3001.0 L825.7,3009.4 L826.6,3021.2 L827.5,3019.1 L828.4,3013.5 L828.6,3015.3 L829.3,3010.2 L830.2,3019.7 L831.1,3021.8 L832.0,3023.9 L832.9,3031.2 L833.8,3031.6 L834.7,3036.1 L835.6,3030.1 L836.5,3023.7 L837.4,3015.0 L837.7,3014.3 L838.3,3017.0 L839.2,3016.2 L840.1,3025.7 L841.0,3021.0 L841.9,3019.9 L842.8,3023.8 L843.7,3020.6 L844.6,3021.7 L845.5,3020.3 L846.4,3016.9 L846.8,3015.0 L847.3,3018.1 L848.2,3017.4 L849.1,3024.9 L850.0,3024.7 L850.9,3024.5 L851.8,3034.4 L852.7,3031.5 L853.6,3038.3 L854.5,3049.7 L855.4,3043.1 L856.0,3040.7 L856.3,3040.6 L857.2,3039.8 L858.1,3039.4 L859.0,3039.7 L859.9,3044.0 L860.8,3048.9 L861.7,3048.3 L862.6,3049.9 L863.5,3056.5 L864.4,3050.7 L865.1,3056.8 L865.3,3057.8 L866.2,3055.9 L867.1,3055.1 L868.0,3058.3 L868.9,3058.4 L869.8,3051.9 L870.7,3061.3 L871.6,3060.1 L872.5,3065.2 L873.4,3068.5 L874.2,3073.8 L874.3,3072.2 L875.2,3080.4 L876.1,3080.0 L877.0,3074.5 L877.9,3079.9 L878.8,3078.1 L879.7,3082.3 L880.6,3086.0 L881.5,3084.0 L882.4,3086.4 L883.3,3094.0 L883.3,3091.6 L884.2,3088.2 L885.1,3091.2 L886.0,3096.8 L886.9,3094.3 L887.8,3104.0 L888.7,3103.7 L889.6,3099.1 L890.5,3099.5 L891.4,3099.4 L892.3,3102.8 L893.2,3108.5 L894.1,3105.7 L894.3,3104.5 L895.0,3108.7 L895.9,3110.8 L896.8,3107.3 L897.7,3109.2 L898.6,3111.4 L899.5,3109.4 L900.4,3096.2 L901.3,3107.9 L902.2,3112.9 L903.1,3113.7 L904.0,3113.5 L904.9,3121.6 L905.2,3114.3 L905.8,3120.7 L906.7,3118.3 L907.6,3118.7 L908.5,3109.8 L909.4,3115.1 L910.3,3115.6 L911.2,3120.2 L912.1,3118.3 L913.0,3119.7 L913.9,3117.4 L914.8,3117.5 L915.7,3118.8 L916.2,3115.3 L916.6,3114.5 L917.5,3115.1 L918.4,3119.8 L919.3,3123.1 L920.2,3120.7 L921.1,3122.9 L922.0,3116.4 L922.9,3119.9 L923.8,3117.9 L924.7,3111.3 L925.6,3114.0 L926.5,3119.2 L927.4,3118.3 L928.3,3131.1 L929.0,3127.1 L929.2,3121.7 L930.1,3119.9 L931.0,3125.5 L931.9,3121.9 L932.8,3121.0 L933.7,3116.7 L934.6,3109.4 L935.5,3114.8 L936.4,3116.7 L937.3,3124.1 L938.2,3121.7 L939.1,3121.6 L940.0,3120.1 L940.9,3114.0 L941.8,3108.2 L941.8,3107.2 L942.7,3105.8 L943.6,3101.0 L944.5,3105.0 L945.4,3105.8 L946.3,3103.3 L947.2,3103.2 L948.1,3097.1 L949.0,3100.0 L949.9,3095.3 L950.8,3097.0 L951.7,3100.3 L952.6,3111.8 L953.5,3112.3 L954.4,3115.9 L955.3,3108.7 L956.2,3103.4 L956.4,3104.3 L957.1,3096.1 L958.0,3093.0 L958.9,3093.0 L959.8,3097.2 L960.7,3104.2 L961.6,3103.0 L962.5,3103.9 L963.4,3095.4 L964.3,3095.1 L965.2,3087.6 L966.1,3097.9 L967.0,3095.4 L967.9,3100.4 L968.8,3099.8 L969.7,3098.6 L970.6,3092.8 L971.0,3093.6 L971.5,3092.3 L972.4,3092.7 L973.3,3088.0 L974.2,3086.3 L975.1,3086.2 L976.0,3085.4 L976.9,3086.6 L977.8,3093.2 L978.7,3090.0 L979.6,3092.7 L980.5,3092.8 L981.4,3091.8 L982.3,3074.8 L983.2,3077.4 L984.1,3077.7 L985.0,3075.9 L985.6,3077.4 L985.9,3077.4 L986.8,3080.7 L987.7,3074.8 L988.6,3075.8 L989.5,3067.7 L990.4,3068.6 L991.3,3076.1 L992.2,3077.8 L993.1,3071.1 L994.0,3070.9 L994.9,3075.2 L995.8,3078.0 L996.5,3083.4 L996.7,3075.1 L997.6,3076.0 L998.5,3076.8 L999.4,3075.5 L1000.3,3073.1 L1001.2,3074.5 L1002.1,3080.1 L1003.0,3074.6 L1003.9,3073.2 L1004.8,3070.2 L1005.7,3074.3 L1006.6,3076.3 L1007.5,3080.0 L1007.5,3081.1 L1008.4,3081.2 L1009.3,3072.4 L1010.2,3076.1 L1011.1,3071.8 L1012.0,3065.0 L1012.9,3066.7 L1013.8,3062.2 L1014.7,3074.3 L1015.6,3064.1 L1016.5,3070.0 L1016.6,3072.3 L1017.4,3074.7 L1018.3,3077.6 L1019.2,3079.8 L1020.1,3073.0 L1021.0,3076.6 L1021.9,3076.5 L1022.8,3075.2 L1023.7,3075.4 L1024.6,3070.6 L1025.5,3073.1 L1026.4,3081.2 L1027.3,3081.3 L1028.2,3075.7 L1029.1,3075.4 L1029.4,3078.0 L1030.0,3080.4 L1030.9,3082.7 L1031.8,3087.2 L1032.7,3075.0 L1033.6,3081.8 L1034.5,3080.4 L1035.4,3071.6 L1036.3,3078.5 L1037.2,3073.4 L1038.1,3065.0 L1039.0,3067.6 L1039.9,3068.6 L1040.8,3073.3 L1041.7,3068.6 L1042.6,3070.5 L1043.5,3058.7 L1044.0,3067.7 L1044.4,3061.3 L1045.3,3066.7 L1046.2,3062.0 L1047.1,3058.6 L1048.0,3067.8 L1048.9,3064.6 L1049.8,3059.7 L1050.7,3058.7 L1051.6,3061.2 L1052.5,3055.9 L1053.4,3056.6 L1054.3,3059.0 L1055.2,3060.4 L1056.1,3060.4 L1057.0,3052.0 L1057.9,3050.5 L1058.6,3045.4 L1058.8,3042.0 L1059.7,3050.3 L1060.6,3060.3 L1061.5,3054.1 L1062.4,3046.1 L1063.3,3043.5 L1064.2,3036.3 L1065.1,3039.1 L1066.0,3039.3 L1066.9,3042.8 L1067.8,3051.8 L1068.7,3049.7 L1069.6,3041.3 L1070.5,3040.5 L1071.4,3038.6 L1072.3,3033.6 L1073.2,3031.6 L1073.2,3037.1 L1074.1,3040.9 L1075.0,3042.0 L1075.9,3038.5 L1076.8,3040.7 L1077.7,3042.5 L1078.6,3037.2 L1079.5,3046.2 L1080.4,3045.4 L1081.3,3041.8 L1082.2,3046.3 L1082.3,3040.1 L1083.1,3038.8 L1084.0,3037.1 L1084.9,3034.7 L1085.8,3038.1 L1086.7,3036.4 L1087.6,3041.5 L1088.5,3043.9 L1089.4,3042.9 L1090.3,3050.3 L1091.2,3054.6 L1091.4,3049.1 L1092.1,3051.1 L1093.0,3051.8 L1093.9,3057.0 L1094.8,3061.6 L1095.7,3064.2 L1096.6,3060.4 L1097.5,3063.6 L1098.4,3062.4 L1099.3,3060.8 L1100.2,3061.2 L1101.1,3067.4 L1102.0,3062.0 L1102.4,3063.2 L1102.9,3067.3 L1103.8,3067.9 L1104.7,3067.0 L1105.6,3070.8 L1106.5,3070.9 L1107.4,3076.0 L1108.3,3074.1 L1109.2,3072.3 L1110.1,3085.5 L1111.0,3082.0 L1111.9,3083.7 L1112.8,3072.9 L1113.4,3074.6 L1113.7,3073.5 L1114.6,3076.9 L1115.5,3073.0 L1116.4,3080.1 L1117.3,3085.8 L1118.2,3080.4 L1119.1,3088.1 L1120.0,3085.5 L1120.9,3090.6 L1121.8,3086.8 L1122.7,3084.1 L1123.6,3099.6 L1124.3,3096.6 L1124.5,3100.0 L1125.4,3096.8 L1126.3,3102.1 L1127.2,3092.0 L1128.1,3089.7 L1129.0,3088.3 L1129.9,3089.1 L1130.8,3091.6 L1131.7,3090.4 L1132.6,3090.9 L1133.5,3084.2 L1134.4,3091.4 L1135.3,3087.0 L1135.3,3088.3 L1136.2,3089.2 L1137.1,3093.3 L1138.0,3094.2 L1138.9,3088.8 L1139.8,3102.9 L1140.7,3094.4 L1141.6,3100.7 L1142.5,3099.8 L1143.4,3094.1 L1144.3,3102.0 L1145.2,3096.5 L1146.1,3091.8 L1146.2,3095.8 L1147.0,3081.9 L1147.9,3088.0 L1148.8,3090.3 L1149.7,3095.2 L1150.6,3102.4 L1151.5,3100.7 L1152.4,3092.0 L1153.3,3099.1 L1154.2,3098.4 L1155.1,3101.7 L1156.0,3109.6 L1156.9,3111.6 L1157.2,3114.1 L1157.8,3110.7 L1158.7,3114.7 L1159.6,3107.5 L1160.5,3112.2 L1161.4,3116.3 L1162.3,3119.7 L1163.2,3112.0 L1164.1,3109.7 L1165.0,3114.0 L1165.9,3109.8 L1166.8,3112.7 L1167.7,3106.8 L1168.1,3107.7 L1168.6,3109.5 L1169.5,3110.9 L1170.4,3113.6 L1171.3,3119.1 L1172.2,3110.4 L1173.1,3112.4 L1174.0,3103.8 L1174.9,3108.5 L1175.8,3106.3 L1176.7,3111.3 L1177.6,3112.0 L1178.5,3105.4 L1179.4,3115.3 L1180.3,3110.3 L1181.2,3114.1 L1182.1,3108.2 L1183.0,3108.4 L1183.9,3112.5 L1184.8,3106.5 L1185.7,3112.2 L1186.4,3118.9 L1186.6,3117.0 L1187.5,3119.8 L1188.4,3121.4 L1189.3,3118.2 L1190.2,3112.8 L1191.1,3113.6 L1192.0,3122.7 L1192.9,3125.7 L1193.8,3114.3 L1194.7,3110.6 L1195.6,3115.0 L1196.5,3111.1 L1197.4,3111.1 L1198.3,3106.5 L1199.2,3105.7 L1200.1,3111.2 L1201.0,3114.1 L1201.9,3115.7 L1202.8,3116.6 L1203.7,3115.6 L1204.6,3112.9 L1204.6,3117.7 L1205.5,3112.2 L1206.4,3114.8 L1207.3,3111.5 L1208.2,3114.0 L1209.1,3114.1 L1210.0,3110.8 L1210.9,3113.3 L1211.8,3119.0 L1212.7,3114.4 L1213.6,3120.5 L1214.5,3120.8 L1215.4,3109.8 L1216.3,3107.8 L1217.2,3103.5 L1218.1,3114.0 L1219.0,3107.0 L1219.9,3109.1 L1220.8,3106.4 L1221.7,3108.9 L1222.6,3107.0 L1222.9,3108.3 L1223.5,3103.7 L1224.4,3102.6 L1225.3,3104.6 L1226.2,3104.3 L1227.1,3105.1 L1228.0,3113.8 L1228.9,3115.2 L1229.8,3117.6 L1230.7,3119.3 L1231.6,3112.3 L1232.5,3116.0 L1233.4,3117.8 L1234.3,3118.7 L1235.2,3122.7 L1236.1,3123.3 L1237.0,3117.8 L1237.9,3115.9 L1238.8,3112.3 L1239.7,3118.5 L1240.6,3107.9 L1241.1,3105.0 L1241.5,3106.5 L1242.4,3109.9 L1243.3,3109.2 L1244.2,3109.6 L1245.1,3107.9 L1246.0,3108.6 L1246.9,3112.1 L1247.8,3117.4 L1248.7,3124.1 L1249.6,3115.8 L1250.5,3124.9 L1251.4,3119.2 L1252.3,3118.2 L1253.2,3113.0 L1254.1,3107.8 L1255.0,3108.6 L1255.9,3102.6 L1256.8,3102.5 L1257.7,3112.5 L1258.6,3110.9 L1259.4,3112.1 L1259.5,3122.9 L1260.4,3116.0 L1261.3,3111.0 L1262.2,3115.7 L1263.1,3110.1 L1264.0,3112.4 L1264.9,3111.0 L1265.8,3106.7 L1266.7,3105.7 L1267.6,3112.7 L1268.5,3115.2 L1269.4,3108.1 L1270.0,3104.9 L1270.3,3105.3 L1271.2,3115.8 L1272.1,3115.1 L1273.0,3113.5 L1273.9,3111.8 L1274.8,3106.1 L1275.7,3108.8 L1276.6,3109.4 L1277.5,3112.3 L1278.4,3112.6 L1279.3,3116.0 L1280.2,3117.7 L1281.1,3108.0 L1282.0,3112.9 L1282.9,3107.9 L1283.8,3105.7 L1284.7,3109.6 L1285.6,3106.3 L1286.5,3110.6 L1287.4,3115.0 L1288.3,3112.0 L1289.2,3116.5 L1290.1,3110.7 L1291.0,3113.1 L1291.9,3103.7 L1292.8,3114.2 L1293.7,3118.7 L1294.6,3121.7 L1295.5,3120.8 L1296.4,3115.8 L1297.3,3111.4 L1298.2,3115.6 L1299.1,3110.4 L1300.0,3106.2 L1300.9,3104.8 L1301.8,3109.5 L1302.7,3101.5 L1303.6,3103.3 L1304.5,3111.5 L1305.4,3113.9 L1306.3,3116.3 L1307.2,3110.4 L1308.1,3113.7 L1309.0,3105.9 L1309.9,3099.1 L1310.8,3104.0 L1311.7,3100.8 L1312.6,3108.3 L1313.5,3106.5 L1314.4,3110.2 L1315.3,3103.1 L1316.2,3107.8 L1317.1,3106.8 L1318.0,3110.8 L1318.9,3122.3 L1319.8,3114.7 L1320.7,3113.3 L1321.6,3113.8 L1322.5,3109.9 L1323.4,3105.0 L1324.3,3105.9 L1325.2,3104.5 L1326.1,3101.8 L1327.0,3100.6 L1327.9,3113.7 L1328.8,3109.4 L1329.7,3106.1 L1330.6,3109.2 L1331.5,3103.2 L1332.4,3107.6 L1333.3,3108.1 L1334.2,3103.4 L1335.1,3108.0 L1336.0,3107.6 L1336.9,3112.9 L1337.8,3114.3 L1338.7,3109.9 L1339.6,3110.8 L1340.5,3115.0 L1341.4,3117.8 L1342.3,3122.1 L1343.2,3116.0 L1344.1,3107.6 L1345.0,3111.7 L1345.9,3105.4 L1346.8,3102.5 L1347.7,3113.3 L1348.6,3114.8 L1349.5,3105.0 L1350.4,3107.7 L1351.3,3107.8 L1352.2,3114.1 L1353.1,3106.9 L1354.0,3101.8 L1354.9,3107.1 L1355.8,3114.0 L1356.7,3110.8 L1357.6,3103.2 L1358.5,3097.3 L1359.4,3107.1 L1360.3,3108.1 L1361.2,3113.9 L1362.1,3111.8 L1363.0,3112.7 L1363.9,3113.8 L1364.8,3112.0 L1365.7,3113.7 L1366.6,3104.9 L1367.5,3106.5 L1368.4,3111.3 L1369.3,3112.4 L1370.2,3107.2 L1371.1,3112.9 L1372.0,3113.2 L1372.9,3114.7 L1373.8,3109.0 L1374.7,3114.0 L1375.6,3110.8 L1376.5,3114.7 L1377.4,3108.1 L1378.3,3112.8 L1379.2,3102.1 L1379.5,3115.4 L1380.1,3104.3 L1381.0,3107.6 L1381.9,3109.3 L1382.8,3105.3 L1383.7,3100.7 L1384.6,3109.0 L1385.5,3107.6 L1386.4,3109.4 L1387.3,3113.0 L1388.2,3111.6 L1389.1,3109.9 L1390.0,3114.0 L1390.9,3118.6 L1391.8,3116.2 L1392.7,3109.1 L1393.6,3110.3 L1394.5,3116.1 L1395.4,3119.9 L1396.3,3118.9 L1397.2,3119.8 L1398.1,3107.7 L1399.0,3103.7 L1399.9,3095.8 L1400.8,3101.8 L1401.7,3103.3 L1402.6,3112.1 L1403.5,3114.3 L1404.4,3116.8 L1405.3,3123.1 L1406.2,3111.5 L1407.1,3112.3 L1408.0,3114.2 L1408.9,3114.8 L1409.8,3118.2 L1410.7,3116.5 L1411.6,3112.1 L1412.5,3106.9 L1413.4,3112.7 L1414.3,3107.9 L1415.2,3113.9 L1416.1,3117.3 L1417.0,3112.0 L1417.9,3108.4 L1418.8,3118.3 L1419.7,3118.0 L1420.6,3105.7 L1421.5,3097.0 L1422.4,3108.0 L1423.3,3103.2 L1424.2,3107.2 L1425.1,3103.9 L1426.0,3109.8 L1426.9,3109.0 L1427.8,3103.4 L1428.7,3113.8 L1429.6,3115.3 L1430.5,3115.5 L1431.4,3107.5 L1432.3,3115.5 L1433.2,3111.8 L1434.1,3106.2 L1435.0,3113.2 L1435.9,3116.2 L1436.8,3114.8 L1437.7,3108.4 L1438.6,3109.9 L1439.5,3111.3 L1440.4,3116.7 L1441.3,3118.8 L1442.2,3116.8 L1443.1,3106.3 L1444.0,3102.5 L1444.9,3107.2 L1445.8,3108.0 L1446.7,3111.3 L1447.6,3112.9 L1448.5,3112.6 L1449.4,3116.5 L1450.3,3109.2 L1451.2,3115.2 L1452.1,3107.8 L1453.0,3103.5 L1453.9,3106.5 L1454.8,3110.4 L1455.7,3106.7 L1456.6,3116.9 L1457.5,3126.1 L1458.4,3126.1 L1459.3,3123.1 L1460.2,3116.9 L1461.1,3105.7 L1462.0,3104.1 L1462.9,3110.7 L1463.8,3112.5 L1464.7,3110.0 L1465.6,3107.9 L1466.5,3101.8 L1467.4,3101.5 L1468.3,3106.1 L1469.2,3102.0 L1470.1,3106.8 L1471.0,3105.2 L1471.9,3112.7 L1472.8,3112.9 L1473.7,3115.6 L1474.6,3116.5 L1475.5,3120.6 L1476.4,3110.4 L1477.3,3115.2 L1478.2,3117.3 L1479.1,3116.5 L1480.0,3113.2 L1480.9,3121.2 L1481.8,3109.1 L1482.7,3105.1 L1483.6,3104.6 L1484.5,3110.2 L1485.4,3104.3 L1486.3,3102.1 L1487.2,3100.5 L1488.1,3110.8 L1489.0,3109.4 L1489.9,3116.1 L1490.8,3116.4 L1491.7,3117.6 L1492.6,3116.1 L1493.5,3120.6 L1494.4,3110.1 L1495.3,3108.3 L1496.2,3104.4 L1497.1,3105.8 L1498.0,3108.9 L1498.9,3108.0 L1499.8,3113.3 L1500.7,3113.5 L1501.6,3111.3 L1502.5,3106.1 L1503.4,3102.9 L1504.3,3108.6 L1505.2,3108.1 L1506.1,3119.2 L1507.0,3114.0 L1507.9,3109.1 L1508.8,3111.8 L1509.7,3111.5 L1510.6,3106.8 L1511.5,3106.7 L1512.4,3115.0 L1513.3,3111.9 L1514.2,3111.3 L1515.1,3108.9 L1516.0,3102.8 L1516.9,3113.7 L1517.8,3110.8 L1518.7,3113.1 L1519.6,3119.4 L1520.5,3122.7 L1521.4,3119.0 L1522.3,3112.3 L1523.2,3108.3 L1524.1,3109.4 L1525.0,3111.4 L1525.6,3104.0 L1525.9,3110.7 L1526.8,3110.5 L1527.7,3110.1 L1528.6,3103.8 L1529.5,3098.0 L1530.4,3105.2 L1531.3,3102.3 L1532.2,3113.8 L1533.1,3112.8 L1534.0,3105.7 L1534.9,3103.0 L1535.8,3113.4 L1536.7,3110.6 L1537.6,3110.1 L1538.5,3106.8 L1539.4,3109.2 L1540.3,3107.9 L1541.2,3110.7 L1542.1,3112.9 L1543.0,3115.4 L1543.9,3122.8 L1544.8,3129.5 L1545.7,3123.2 L1546.6,3120.9 L1547.5,3109.8 L1548.4,3110.5 L1549.3,3108.5 L1550.2,3112.4 L1551.1,3114.2 L1552.0,3112.1 L1552.9,3113.4 L1553.8,3106.4 L1554.7,3112.6 L1555.6,3108.6 L1556.5,3113.2 L1557.4,3114.3 L1558.3,3116.1 L1559.2,3113.5 L1560.1,3114.7 L1561.0,3122.6 L1561.9,3110.6 L1562.8,3105.8 L1563.7,3105.6 L1564.6,3108.0 L1565.5,3108.4 L1566.4,3100.3 L1567.3,3106.1 L1568.2,3102.3 L1569.1,3100.1 L1570.0,3103.2 L1570.9,3115.0 L1571.8,3108.4 L1572.7,3105.9 L1573.6,3104.3 L1574.5,3106.9 L1575.4,3107.1 L1576.3,3109.8 L1577.2,3116.9 L1578.1,3115.7 L1579.0,3112.8 L1579.9,3107.1 L1580.8,3109.2 L1581.7,3110.2 L1582.6,3114.4 L1583.5,3117.8 L1584.4,3116.3 L1585.3,3110.4 L1586.2,3109.6 L1587.1,3104.6 L1588.0,3110.7 L1588.9,3114.4 L1589.8,3118.9 L1590.7,3112.6 L1591.6,3114.8 L1592.5,3109.6 L1593.4,3106.0 L1594.3,3107.2 L1595.2,3105.5 L1596.1,3109.4 L1597.0,3105.1 L1597.9,3106.2 L1598.8,3111.4 L1599.7,3119.0 L1600.6,3113.3 L1601.5,3106.5 L1602.4,3112.5 L1603.3,3111.8 L1604.2,3118.6 L1605.1,3113.6 L1606.0,3120.4 L1606.9,3113.8 L1607.8,3121.5 L1608.7,3104.4 L1609.6,3105.9 L1610.5,3111.8 L1611.4,3116.8 L1612.3,3108.1 L1613.2,3100.0 L1614.1,3107.5 L1615.0,3111.1 L1615.9,3117.4 L1616.8,3108.1 L1617.7,3101.5 L1618.6,3104.4 L1619.5,3106.6 L1620.4,3108.2 L1621.3,3104.5 L1622.2,3105.2 L1623.1,3105.8 L1624.0,3111.0 L1624.9,3114.7 L1625.8,3107.9 L1626.7,3111.2 L1627.6,3108.6 L1628.5,3117.4 L1629.4,3117.8 L1630.3,3117.2 L1631.2,3105.5 L1632.1,3107.4 L1633.0,3106.7 L1633.9,3107.7 L1634.8,3113.7 L1635.7,3106.6 L1636.6,3111.8 L1637.5,3102.8 L1638.4,3111.4 L1639.3,3108.7 L1640.2,3108.5 L1641.1,3113.1 L1642.0,3111.9 L1642.9,3112.4 L1643.8,3113.7 L1644.7,3109.8 L1645.6,3114.6 L1646.5,3115.0 L1647.4,3120.9 L1648.3,3119.2 L1649.2,3117.3 L1650.1,3116.0 L1651.0,3115.6 L1651.9,3109.5 L1652.8,3109.5 L1653.7,3108.9 L1654.6,3106.0 L1655.5,3106.7 L1656.4,3109.3 L1657.3,3107.5 L1658.2,3113.4 L1659.1,3115.5 L1660.0,3113.9 L1660.9,3109.5 L1661.8,3109.1 L1662.7,3113.9 L1663.6,3113.0 L1664.5,3116.5 L1665.4,3116.2 L1666.3,3111.7 L1667.2,3120.7 L1668.1,3112.6 L1669.0,3120.9 L1669.9,3115.0 L1670.8,3109.9 L1671.7,3106.5 L1672.6,3102.6 L1673.5,3119.1 L1674.4,3114.3 L1675.3,3112.1 L1676.2,3111.3 L1677.1,3109.5 L1678.0,3112.0 L1678.9,3109.3 L1679.8,3117.4 L1680.7,3113.6 L1681.6,3113.8 L1682.5,3111.5 L1683.4,3110.2 L1684.3,3109.4 L1685.2,3114.0 L1686.1,3117.4 L1687.0,3120.1 L1687.9,3113.7 L1688.8,3120.0 L1689.7,3120.3 L1689.9,3117.0 L1690.6,3115.2 L1691.5,3109.5 L1692.4,3110.3 L1693.3,3107.4 L1694.2,3105.7 L1695.1,3108.1 L1696.0,3105.6 L1696.9,3106.8 L1697.8,3106.1 L1698.7,3111.2 L1699.6,3113.7 L1700.5,3110.7 L1701.4,3109.1 L1702.3,3108.0 L1703.2,3096.6 L1704.1,3096.9 L1705.0,3102.2 L1705.9,3094.6 L1706.8,3091.2 L1707.7,3084.4 L1708.1,3096.8 L1708.6,3101.3 L1709.5,3102.9 L1710.4,3101.7 L1711.3,3102.7 L1712.2,3103.8 L1713.1,3101.1 L1714.0,3092.1 L1714.9,3094.9 L1715.8,3093.3 L1716.7,3095.6 L1717.6,3093.1 L1718.5,3095.1 L1719.4,3090.3 L1720.3,3092.7 L1721.2,3096.9 L1722.1,3100.2 L1723.0,3093.4 L1723.9,3091.5 L1724.8,3086.2 L1725.7,3087.9 L1726.4,3092.8 L1726.6,3093.5 L1727.5,3092.3 L1728.4,3088.5 L1729.3,3091.3 L1730.2,3098.2 L1731.1,3097.0 L1732.0,3082.1 L1732.9,3086.7 L1733.8,3086.6 L1734.7,3084.7 L1735.6,3086.7 L1736.5,3086.5 L1737.4,3090.7 L1738.3,3093.8 L1739.2,3083.8 L1740.1,3077.8 L1741.0,3086.6 L1741.9,3098.8 L1742.8,3081.4 L1743.7,3085.6 L1744.6,3080.6 L1744.6,3085.8 L1745.5,3086.3 L1746.4,3088.6 L1747.3,3076.4 L1748.2,3075.8 L1749.1,3080.3 L1750.0,3082.0 L1750.9,3084.9 L1751.8,3090.0 L1752.7,3087.0 L1753.6,3090.6 L1754.5,3088.5 L1755.4,3090.5 L1756.3,3077.2 L1757.2,3073.2 L1758.1,3087.5 L1759.0,3093.8 L1759.9,3083.4 L1760.8,3076.4 L1761.7,3079.3 L1762.6,3093.8 L1762.9,3085.0 L1763.5,3081.2 L1764.4,3073.7 L1765.3,3073.4 L1766.2,3070.5 L1767.1,3067.9 L1768.0,3066.6 L1768.9,3073.2 L1769.8,3064.4 L1770.7,3070.0 L1771.6,3065.1 L1772.5,3064.7 L1773.4,3065.4 L1774.3,3061.9 L1775.2,3065.4 L1776.1,3064.3 L1777.0,3066.2 L1777.5,3063.3 L1777.9,3065.0 L1778.8,3060.4 L1779.7,3044.0 L1780.0,3045.3 L1780.6,3049.5 L1781.5,3053.0 L1782.4,3047.6 L1783.3,3040.9 L1784.2,3040.3 L1785.1,3034.5 L1786.0,3031.8 L1786.9,3030.7 L1787.8,3031.7 L1787.8,3031.2 L1788.7,3033.1 L1789.6,3027.3 L1790.5,3023.4 L1791.4,3022.2 L1792.3,3013.9 L1793.2,3004.3 L1794.1,3012.9 L1795.0,3015.9 L1795.6,3015.2 L1795.9,3011.3 L1796.8,3017.3 L1797.7,3007.2 L1798.6,3011.0 L1799.5,3005.5 L1800.4,3001.4 L1801.3,2996.1 L1802.2,3000.0 L1803.1,2994.4 L1804.0,2999.0 L1804.9,2994.3 L1805.8,2991.7 L1806.1,2996.1 L1806.7,2992.7 L1807.6,2997.7 L1808.5,2995.6 L1809.4,2990.4 L1810.3,2989.8 L1811.2,2993.0 L1812.1,2997.3 L1813.0,2988.6 L1813.9,2988.2 L1814.8,2988.9 L1815.7,2992.2 L1816.5,2991.9 L1816.6,2993.9 L1817.5,2989.7 L1818.4,2981.2 L1819.3,2981.1 L1820.2,2981.9 L1821.1,2988.6 L1822.0,2995.4 L1822.9,3002.8 L1823.8,2991.1 L1824.7,2996.4 L1825.6,2992.6 L1826.5,2998.0 L1826.9,2995.6 L1827.4,2999.6 L1828.3,3005.4 L1829.2,2998.4 L1830.1,3001.8 L1831.0,2996.2 L1831.9,2991.9 L1832.8,2984.2 L1833.7,2988.8 L1834.6,2989.0 L1835.5,2985.0 L1836.4,2986.2 L1837.3,2984.2 L1837.4,2980.1 L1838.2,2990.2 L1839.1,2989.9 L1840.0,2988.1 L1840.9,2982.6 L1841.8,2982.4 L1842.7,2984.5 L1843.6,2976.7 L1844.5,2980.5 L1845.4,2982.5 L1846.3,2990.2 L1847.2,2994.2 L1847.8,2996.2 L1848.1,3001.8 L1849.0,2999.9 L1849.9,2996.4 L1850.8,2996.5 L1851.7,3006.9 L1852.6,3005.8 L1853.5,3002.7 L1854.4,2994.7 L1855.3,3001.9 L1856.2,3001.2 L1857.1,3001.3 L1858.0,3001.9 L1858.2,2994.5 L1858.9,2996.5 L1859.8,3004.5 L1860.7,2995.4 L1861.6,3004.7 L1862.5,3004.9 L1863.4,3003.8 L1864.3,3012.1 L1865.2,3008.8 L1866.1,3009.4 L1867.0,3010.5 L1867.9,3006.3 L1868.7,3014.2 L1868.8,3010.7 L1869.7,3016.0 L1870.6,3013.8 L1871.5,3013.8 L1872.4,3014.1 L1873.3,3021.0 L1874.2,3020.8 L1875.1,3011.8 L1876.0,3017.7 L1876.9,3008.2 L1877.8,3027.5 L1878.7,3029.6 L1879.1,3022.5 L1879.6,3032.1 L1880.5,3034.2 L1881.4,3026.8 L1882.3,3037.5 L1883.2,3030.4 L1884.1,3038.3 L1885.0,3038.8 L1885.9,3037.6 L1886.8,3030.2 L1887.7,3023.3 L1888.6,3034.1 L1889.5,3039.8 L1889.5,3036.8 L1890.4,3047.0 L1891.3,3045.1 L1892.2,3040.3 L1893.1,3043.4 L1894.0,3046.6 L1894.9,3046.9 L1895.8,3055.8 L1896.7,3055.5 L1897.6,3052.7 L1898.5,3049.0 L1899.4,3057.9 L1899.9,3061.2 L1900.3,3061.9 L1901.2,3057.9 L1902.1,3059.1 L1903.0,3060.5 L1903.9,3056.5 L1904.8,3056.0 L1905.7,3070.8 L1906.6,3070.1 L1907.5,3080.0 L1908.4,3074.8 L1909.3,3081.5 L1910.2,3079.9 L1910.4,3080.9 L1911.1,3080.2 L1912.0,3080.3 L1912.9,3084.3 L1913.8,3081.9 L1914.7,3092.2 L1915.6,3091.8 L1916.5,3095.3 L1917.4,3092.4 L1918.3,3097.7 L1919.2,3098.7 L1920.1,3101.3 L1920.8,3088.0 L1921.0,3095.0 L1921.9,3089.3 L1922.8,3091.2 L1923.7,3096.0 L1924.6,3097.4 L1925.5,3106.2 L1926.4,3111.2 L1927.3,3121.5 L1928.2,3106.3 L1929.1,3111.3 L1930.0,3112.2 L1930.9,3103.2 L1931.2,3112.6 L1931.8,3104.8 L1932.7,3109.2 L1933.6,3114.1 L1934.5,3112.9 L1935.4,3112.1 L1936.3,3108.3 L1937.2,3110.8 L1938.1,3100.8 L1939.0,3111.2 L1939.1,3115.8 L1939.9,3115.9 L1940.8,3115.9 L1941.7,3110.9 L1942.6,3106.2 L1943.5,3105.2 L1944.4,3102.0 L1945.3,3107.0 L1946.2,3099.4 L1946.9,3099.6 L1947.1,3098.6 L1948.0,3100.7 L1948.9,3095.0 L1949.8,3088.2 L1950.7,3080.8 L1951.6,3070.4 L1952.1,3071.4 L1952.5,3083.1 L1953.4,3096.8 L1954.3,3086.2 L1955.2,3082.3 L1956.1,3091.6 L1957.0,3092.5 L1957.9,3094.2 L1958.8,3090.4 L1959.7,3093.3 L1959.9,3091.6 L1960.6,3091.5 L1961.5,3094.5 L1962.4,3093.8 L1963.3,3097.0 L1964.2,3091.9 L1965.1,3096.3 L1966.0,3098.2 L1966.9,3100.7 L1967.7,3102.6 L1967.8,3109.9 L1968.7,3104.3 L1969.6,3104.7 L1970.5,3099.2 L1971.4,3099.2 L1972.3,3100.7 L1973.2,3098.6 L1974.1,3096.8 L1975.0,3099.4 L1975.6,3102.2 L1975.9,3102.9 L1976.8,3098.5 L1977.7,3085.3 L1978.6,3078.0 L1979.5,3075.6 L1980.4,3076.0 L1981.3,3079.3 L1982.2,3076.6 L1983.1,3071.8 L1983.4,3061.9 L1984.0,3060.7 L1984.9,3055.8 L1985.8,3050.6 L1986.7,3051.9 L1987.6,3052.0 L1988.5,3049.9 L1989.4,3055.9 L1990.3,3052.8 L1991.2,3041.1 L1992.1,3039.5 L1993.0,3035.5 L1993.8,3043.6 L1993.9,3036.5 L1994.8,3038.4 L1995.7,3045.9 L1996.6,3041.4 L1997.5,3031.6 L1998.4,3017.5 L1999.3,3018.4 L2000.2,3017.0 L2001.1,3011.8 L2001.6,3002.1 L2002.0,3004.4 L2002.9,3003.9 L2003.8,2998.2 L2004.7,2992.9 L2005.6,2990.0 L2006.5,2987.7 L2007.4,2981.5 L2008.3,2976.9 L2009.2,2974.6 L2009.5,2967.9 L2010.1,2972.4 L2011.0,2951.0 L2011.9,2942.4 L2012.8,2938.4 L2013.7,2937.3 L2014.6,2929.4 L2015.5,2930.9 L2016.4,2919.9 L2017.3,2921.5 L2017.3,2926.5 L2018.2,2919.1 L2019.1,2909.9 L2020.0,2912.0 L2020.9,2901.8 L2021.8,2896.3 L2022.7,2887.1 L2023.6,2868.8 L2024.5,2862.0 L2025.1,2862.7 L2025.4,2861.3 L2026.3,2860.3 L2027.2,2858.4 L2028.1,2855.4 L2029.0,2841.1 L2029.9,2836.2 L2030.8,2820.6 L2031.7,2819.2 L2032.6,2819.6 L2032.9,2812.5 L2033.5,2813.1 L2034.4,2806.8 L2035.3,2792.4 L2036.2,2785.7 L2037.1,2778.3 L2037.7,2777.3 L2038.0,2772.8 L2038.9,2770.1 L2039.8,2766.3 L2040.7,2749.4 L2041.6,2748.6 L2042.5,2743.4 L2043.4,2740.3 L2044.3,2734.8 L2045.2,2720.9 L2045.6,2723.7 L2046.1,2710.4 L2047.0,2696.6 L2047.9,2691.8 L2048.8,2686.6 L2049.7,2679.1 L2050.6,2666.0 L2051.5,2654.1 L2051.6,2658.1 L2052.4,2643.0 L2053.3,2631.8 L2054.2,2614.7 L2055.1,2603.4 L2055.6,2603.5 L2056.0,2591.3 L2056.9,2576.4 L2057.8,2546.8 L2058.7,2511.4 L2058.8,2518.4 L2059.6,2494.3 L2060.5,2480.3 L2061.4,2463.2 L2062.3,2454.0 L2063.2,2443.2 L2063.6,2444.0 L2064.1,2439.8 L2065.0,2419.1 L2065.9,2399.3 L2066.8,2373.8 L2067.6,2354.9 L2067.7,2351.5 L2068.6,2337.2 L2069.5,2317.3 L2070.4,2299.2 L2071.3,2276.7 L2071.6,2275.5 L2072.2,2262.7 L2073.1,2250.3 L2074.0,2229.8 L2074.9,2211.5 L2075.5,2194.9 L2075.8,2200.7 L2076.7,2186.3 L2077.6,2172.8 L2078.5,2164.5 L2079.4,2153.8 L2080.3,2134.5 L2081.2,2121.6 L2081.5,2117.9 L2082.1,2110.6 L2083.0,2098.9 L2083.9,2088.3 L2084.8,2077.4 L2085.7,2062.9 L2086.6,2052.1 L2087.5,2040.6 L2087.5,2040.5 L2088.4,2025.5 L2089.3,2008.9 L2090.2,1993.9 L2091.1,1985.8 L2091.5,1985.0 L2092.0,1985.0 L2092.9,1988.6 L2093.8,1993.4 L2094.7,2001.3 L2095.6,2008.9 L2096.5,2018.7 L2097.4,2028.3 L2097.5,2030.3 L2098.3,2039.1 L2099.2,2053.9 L2100.1,2071.7 L2101.0,2090.6 L2101.5,2099.1 L2101.9,2106.8 L2102.8,2123.5 L2103.7,2143.3 L2104.6,2162.5 L2105.5,2177.9 L2105.5,2177.9 L2106.4,2203.1 L2107.3,2220.5 L2108.2,2238.6 L2109.1,2253.1 L2109.4,2255.6 L2110.0,2272.8 L2110.9,2288.5 L2111.8,2294.9 L2112.7,2315.7 L2113.6,2327.4 L2114.5,2349.2 L2114.6,2355.8 L2115.4,2374.8 L2116.3,2390.6 L2117.2,2407.4 L2118.1,2428.8 L2118.6,2435.0 L2119.0,2448.7 L2119.9,2465.1 L2120.8,2495.8 L2121.4,2518.0 L2121.7,2529.8 L2122.6,2553.7 L2123.5,2575.7 L2124.4,2594.5 L2124.6,2591.3 L2125.3,2610.0 L2126.2,2626.8 L2127.1,2650.8 L2128.0,2667.6 L2128.2,2672.5 L2128.9,2685.9 L2129.8,2694.9 L2130.7,2719.6 L2131.4,2745.2 L2131.6,2746.4 L2132.5,2769.2 L2133.4,2782.7 L2133.4,2787.2 L2134.3,2787.2 L2135.2,2796.3 L2136.1,2801.6 L2137.0,2817.8 L2137.9,2823.7 L2138.5,2829.9 L2138.8,2842.6 L2139.7,2854.4 L2140.6,2867.8 L2141.5,2886.8 L2142.4,2897.0 L2143.3,2911.8 L2143.8,2916.7 L2144.2,2915.3 L2145.1,2931.1 L2146.0,2950.3 L2146.9,2953.5 L2147.8,2962.3 L2148.7,2978.4 L2149.0,2984.2 L2149.6,2994.7 L2150.5,3006.8 L2151.4,3012.5 L2152.3,3020.4 L2153.2,3046.7 L2153.7,3056.5 L2154.1,3065.3 L2155.0,3086.0 L2155.5,3095.8"/>
<path stroke="#8000ff" d="M250.6,3115.5 L251.5,3118.5 L252.4,3120.7 L253.3,3119.7 L254.2,3121.9 L255.1,3123.7 L256.0,3121.2 L256.9,3122.7 L257.8,3123.3 L257.9,3123.6 L258.7,3123.2 L259.6,3124.3 L260.5,3123.1 L261.4,3124.3 L262.3,3121.6 L263.2,3124.0 L264.1,3124.7 L265.0,3126.4 L265.9,3125.5 L266.8,3126.8 L267.7,3126.4 L268.6,3126.3 L269.5,3124.4 L270.4,3125.6 L271.3,3122.7 L272.2,3127.1 L273.1,3123.5 L274.0,3124.2 L274.9,3126.2 L275.8,3126.9 L276.7,3127.1 L277.6,3126.7 L278.5,3126.8 L279.4,3126.7 L279.8,3128.5 L280.3,3128.8 L281.2,3127.7 L282.1,3127.2 L283.0,3126.9 L283.9,3126.8 L284.8,3127.2 L285.7,3125.6 L286.6,3125.3 L287.5,3124.6 L288.4,3125.9 L289.3,3124.7 L290.2,3125.4 L291.1,3127.6 L292.0,3126.5 L292.9,3127.1 L293.8,3127.8 L294.7,3126.9 L295.6,3127.9 L296.5,3128.1 L297.4,3126.5 L298.3,3126.8 L299.2,3126.5 L300.1,3127.0 L301.0,3125.6 L301.9,3126.9 L302.8,3125.9 L303.7,3127.3 L304.6,3124.8 L305.5,3124.9 L306.4,3123.2 L307.3,3123.8 L308.2,3123.8 L309.0,3126.1 L309.1,3124.8 L310.0,3126.0 L310.9,3125.3 L311.8,3125.4 L312.7,3126.3 L313.6,3126.7 L314.5,3125.8 L315.4,3124.4 L316.3,3124.4 L317.2,3122.9 L318.1,3123.8 L319.0,3124.6 L319.9,3125.0 L320.8,3125.7 L321.7,3123.6 L322.6,3124.3 L323.5,3123.8 L324.4,3123.5 L325.3,3123.4 L326.2,3125.1 L327.1,3125.1 L328.0,3125.5 L328.9,3125.7 L329.8,3124.6 L330.7,3124.6 L331.6,3124.1 L332.5,3123.3 L333.4,3124.9 L334.3,3123.5 L335.2,3122.5 L336.1,3123.4 L337.0,3123.6 L337.9,3120.6 L338.2,3124.3 L338.8,3122.0 L339.7,3122.9 L340.6,3124.2 L341.5,3124.9 L342.4,3124.8 L343.3,3124.1 L344.2,3123.0 L345.1,3122.2 L346.0,3122.6 L346.9,3124.9 L347.8,3124.6 L348.7,3125.7 L349.6,3124.3 L350.5,3122.6 L351.4,3122.2 L352.3,3124.6 L353.2,3123.4 L354.1,3125.7 L355.0,3125.6 L355.9,3125.8 L356.8,3125.5 L357.7,3126.2 L358.6,3124.9 L359.5,3125.6 L360.4,3127.7 L361.3,3125.5 L362.2,3126.3 L363.1,3128.0 L363.8,3127.8 L364.0,3126.2 L364.9,3125.5 L365.8,3127.0 L366.7,3127.2 L367.6,3126.7 L368.5,3126.3 L369.4,3124.9 L370.3,3121.7 L371.2,3119.0 L372.1,3119.8 L373.0,3118.4 L373.9,3118.1 L374.7,3118.9 L374.8,3117.6 L375.7,3117.7 L376.6,3114.3 L377.5,3114.4 L378.4,3112.8 L379.3,3110.2 L380.2,3108.4 L381.1,3105.5 L382.0,3104.8 L382.9,3100.6 L383.8,3099.8 L384.7,3097.7 L385.6,3096.5 L385.7,3094.0 L386.5,3092.5 L387.4,3089.5 L388.3,3087.0 L389.2,3083.1 L390.1,3081.3 L391.0,3079.4 L391.9,3075.4 L392.8,3074.5 L393.7,3070.3 L394.6,3068.7 L395.5,3062.8 L396.4,3056.5 L396.6,3056.3 L397.3,3053.5 L398.2,3046.9 L399.1,3040.8 L400.0,3032.2 L400.9,3023.4 L401.8,3011.9 L402.7,3001.0 L403.6,2985.3 L403.9,2982.3 L404.5,2971.3 L405.4,2952.0 L406.3,2924.8 L407.2,2895.4 L408.1,2861.3 L408.3,2855.4 L409.0,2827.3 L409.9,2782.8 L410.8,2732.7 L411.2,2708.0 L411.7,2683.1 L412.6,2627.9 L413.5,2571.6 L414.4,2508.5 L415.3,2437.9 L416.0,2379.2 L416.2,2360.1 L417.1,2255.0 L417.6,2199.0 L418.0,2163.1 L418.9,2093.4 L419.3,2060.6 L419.8,2017.8 L420.6,1950.7 L420.7,1943.8 L421.6,1874.6 L421.7,1869.5 L422.3,1855.6 L422.5,1857.4 L423.0,1871.1 L423.4,1887.5 L424.3,1951.2 L424.3,1949.3 L425.2,2010.7 L425.9,2060.2 L426.1,2075.2 L427.0,2148.2 L427.6,2201.3 L427.9,2229.1 L428.8,2320.8 L429.5,2381.4 L429.7,2393.7 L430.6,2443.3 L431.5,2486.7 L432.4,2525.3 L433.2,2561.9 L433.3,2569.1 L434.2,2616.6 L435.1,2660.7 L436.0,2704.9 L436.1,2708.8 L436.9,2748.0 L437.8,2787.2 L438.7,2828.5 L439.4,2853.2 L439.6,2861.1 L440.5,2893.9 L441.4,2925.0 L442.3,2956.6 L443.2,2980.6 L444.1,2998.4 L444.1,2999.6 L445.0,3011.1 L445.9,3024.4 L446.8,3034.8 L447.7,3045.4 L448.6,3053.8 L449.5,3061.5 L450.4,3068.3 L451.3,3075.3 L451.4,3074.8 L452.2,3080.1 L453.1,3083.2 L454.0,3091.2 L454.9,3096.8 L455.8,3099.6 L456.7,3103.5 L457.6,3105.6 L458.5,3107.2 L459.4,3110.3 L460.3,3114.9 L460.5,3112.7 L461.2,3113.5 L462.1,3116.1 L463.0,3116.4 L463.9,3119.5 L464.8,3121.4 L465.7,3122.3 L466.6,3123.9 L467.5,3125.7 L468.4,3126.0 L469.3,3126.0 L470.2,3126.0 L471.1,3126.3 L472.0,3125.1 L472.9,3127.1 L473.3,3127.8 L473.8,3125.6 L474.7,3125.1 L475.6,3125.2 L476.5,3127.2 L477.4,3128.4 L478.3,3127.3 L479.2,3124.4 L480.1,3123.8 L481.0,3121.5 L481.9,3121.3 L482.8,3121.5 L483.7,3122.3 L484.6,3120.7 L485.5,3119.3 L486.4,3118.8 L487.3,3118.2 L487.9,3117.4 L488.2,3117.4 L489.1,3117.2 L490.0,3114.7 L490.9,3112.8 L491.8,3107.8 L492.7,3105.2 L493.6,3104.1 L494.5,3101.8 L495.4,3101.2 L496.3,3094.9 L497.0,3090.9 L497.2,3092.8 L498.1,3086.5 L499.0,3083.8 L499.9,3078.5 L500.8,3071.8 L501.7,3065.9 L502.6,3061.5 L503.5,3055.3 L504.4,3049.4 L505.3,3043.0 L506.2,3036.4 L506.2,3036.0 L507.1,3029.6 L508.0,3023.2 L508.9,3015.0 L509.8,3006.1 L510.7,2998.1 L511.6,2988.9 L512.5,2978.2 L513.4,2964.1 L513.5,2964.2 L514.3,2950.6 L515.2,2936.9 L516.1,2920.4 L517.0,2902.2 L517.9,2881.1 L518.8,2859.2 L518.9,2856.2 L519.7,2831.9 L520.6,2798.7 L521.5,2760.4 L522.4,2719.0 L522.6,2709.1 L523.3,2675.2 L524.2,2630.8 L525.1,2582.9 L526.0,2539.3 L526.3,2526.7 L526.9,2499.3 L527.8,2464.2 L528.7,2430.4 L529.6,2393.6 L529.9,2380.5 L530.5,2351.3 L531.4,2306.7 L531.6,2298.6 L532.3,2264.0 L533.2,2220.5 L533.5,2207.4 L534.1,2183.2 L535.0,2147.3 L535.5,2131.0 L535.9,2119.7 L536.8,2096.4 L536.8,2097.5 L537.4,2093.3 L537.7,2095.9 L538.2,2102.6 L538.6,2108.7 L539.5,2126.8 L540.4,2142.2 L540.8,2151.4 L541.3,2160.4 L542.2,2175.6 L543.1,2192.8 L544.0,2215.7 L544.5,2231.8 L544.9,2255.4 L545.8,2343.6 L546.3,2380.9 L546.7,2397.5 L547.6,2426.2 L548.5,2449.0 L549.4,2470.2 L550.0,2488.3 L550.3,2499.2 L551.2,2536.0 L552.1,2573.5 L553.0,2612.7 L553.6,2637.9 L553.9,2645.3 L554.8,2676.9 L555.7,2705.5 L556.6,2730.4 L557.3,2744.8 L557.5,2748.8 L558.4,2765.7 L559.3,2779.0 L560.2,2792.4 L561.1,2801.5 L562.0,2803.7 L562.0,2805.9 L562.9,2803.9 L563.8,2797.7 L564.7,2793.3 L565.6,2788.3 L566.4,2781.9 L566.5,2780.7 L567.4,2769.6 L568.3,2753.1 L569.2,2731.7 L570.1,2709.8 L570.1,2709.1 L571.0,2676.5 L571.9,2632.5 L572.8,2591.6 L573.7,2562.6 L573.7,2561.7 L574.6,2544.8 L575.5,2528.6 L576.4,2515.3 L577.3,2507.0 L578.1,2507.7 L578.2,2507.9 L579.1,2513.7 L580.0,2524.6 L580.9,2540.2 L581.8,2557.7 L582.1,2563.4 L582.7,2574.7 L583.6,2593.9 L584.5,2618.1 L585.4,2642.7 L586.3,2668.1 L586.5,2671.8 L587.2,2692.6 L588.1,2721.9 L589.0,2750.3 L589.9,2774.2 L590.1,2781.4 L590.8,2795.1 L591.7,2816.3 L592.6,2833.6 L593.5,2852.0 L594.4,2869.2 L595.3,2883.8 L595.6,2891.1 L596.2,2902.0 L597.1,2919.6 L598.0,2936.0 L598.9,2951.4 L599.8,2966.3 L600.7,2977.2 L601.1,2982.1 L601.6,2985.9 L602.5,2995.4 L603.4,3002.5 L604.3,3011.4 L605.2,3017.0 L606.1,3024.5 L607.0,3029.3 L607.9,3034.6 L608.4,3037.8 L608.8,3038.5 L609.7,3041.0 L610.6,3046.3 L611.5,3049.7 L612.4,3055.2 L613.3,3057.1 L614.2,3059.6 L615.1,3063.3 L616.0,3067.0 L616.9,3069.9 L617.5,3072.4 L617.8,3073.1 L618.7,3076.8 L619.6,3080.6 L620.5,3083.6 L621.4,3085.5 L622.3,3086.7 L623.2,3088.6 L624.1,3091.1 L625.0,3094.2 L625.9,3096.5 L626.8,3097.8 L627.7,3099.0 L628.6,3100.2 L629.5,3103.5 L630.3,3104.9 L630.4,3103.8 L631.3,3106.3 L632.2,3107.7 L633.1,3106.0 L634.0,3107.8 L634.9,3110.2 L635.8,3111.1 L636.7,3113.1 L637.6,3111.4 L638.5,3112.6 L639.4,3112.5 L640.3,3110.7 L641.2,3111.9 L642.1,3114.2 L643.0,3115.8 L643.9,3116.5 L644.8,3118.7 L644.9,3118.7 L645.7,3117.6 L646.6,3119.6 L647.5,3119.3 L648.4,3118.2 L649.3,3120.0 L650.2,3118.6 L651.1,3119.8 L652.0,3118.7 L652.9,3120.1 L653.8,3121.4 L654.7,3120.7 L655.6,3121.2 L656.5,3120.3 L657.4,3120.9 L658.3,3122.4 L659.2,3121.5 L660.1,3124.8 L661.0,3124.4 L661.9,3124.6 L662.8,3123.8 L663.2,3123.1 L663.7,3122.9 L664.6,3123.5 L665.5,3123.5 L666.4,3123.4 L667.3,3123.5 L668.2,3124.5 L669.1,3123.2 L670.0,3123.3 L670.9,3123.4 L671.8,3123.7 L672.7,3124.8 L673.6,3125.0 L674.5,3128.4 L675.4,3125.8 L676.3,3124.6 L677.2,3124.6 L678.1,3123.2 L679.0,3123.6 L679.9,3124.3 L680.8,3125.3 L681.7,3124.1 L682.6,3126.7 L683.5,3126.2 L684.4,3124.5 L685.1,3124.8 L685.3,3124.9 L686.2,3125.4 L687.1,3123.9 L688.0,3122.3 L688.9,3123.8 L689.8,3122.9 L690.7,3123.6 L691.6,3122.1 L692.5,3121.5 L693.4,3123.2 L694.3,3121.3 L695.2,3122.5 L696.1,3122.4 L697.0,3123.7 L697.9,3123.4 L698.8,3123.7 L699.7,3122.5 L700.6,3121.5 L701.5,3122.1 L702.4,3122.0 L703.3,3123.5 L704.2,3120.7 L705.1,3120.4 L706.0,3122.3 L706.9,3121.6 L707.0,3120.7 L707.8,3123.3 L708.7,3120.7 L709.6,3121.1 L710.5,3119.7 L711.4,3119.9 L712.3,3119.2 L713.2,3119.3 L714.1,3120.6 L715.0,3118.9 L715.9,3118.0 L716.8,3118.5 L717.7,3116.1 L718.6,3118.1 L719.5,3117.0 L720.4,3117.1 L721.3,3116.6 L722.2,3115.4 L723.1,3114.7 L724.0,3114.0 L724.9,3113.6 L725.2,3113.7 L725.8,3113.3 L726.7,3111.8 L727.6,3113.0 L728.5,3113.0 L729.4,3111.4 L730.3,3112.0 L731.2,3109.3 L732.1,3107.9 L733.0,3106.9 L733.9,3105.3 L734.8,3103.9 L735.7,3101.6 L736.6,3100.4 L737.5,3097.3 L738.0,3097.6 L738.4,3095.8 L739.3,3093.7 L740.2,3090.3 L741.1,3085.9 L742.0,3080.2 L742.9,3073.7 L743.8,3064.8 L744.6,3056.1 L744.7,3055.5 L745.6,3025.7 L746.5,2973.1 L747.1,2927.8 L747.4,2900.1 L748.3,2747.0 L749.2,2580.2 L749.3,2562.1 L750.1,2455.8 L750.8,2379.6 L751.0,2360.0 L751.9,2299.6 L752.6,2249.6 L752.8,2229.1 L753.6,2160.7 L753.7,2163.0 L754.6,2249.7 L754.6,2250.6 L755.5,2315.7 L756.3,2378.5 L756.4,2394.5 L757.3,2523.4 L758.2,2672.0 L758.5,2710.5 L759.1,2801.3 L759.6,2856.1 L760.0,2897.8 L760.9,2961.1 L761.0,2966.2 L761.8,2987.0 L762.7,3006.1 L763.6,3020.3 L764.5,3029.1 L764.7,3031.2 L765.4,3035.7 L766.3,3041.9 L767.2,3044.7 L768.1,3046.1 L769.0,3045.8 L769.9,3048.4 L770.2,3051.1 L770.8,3052.0 L771.7,3055.9 L772.6,3057.6 L773.5,3059.0 L774.4,3063.7 L775.3,3061.5 L776.2,3063.3 L777.1,3064.9 L778.0,3065.4 L778.9,3066.5 L779.8,3069.1 L780.7,3066.8 L781.1,3067.9 L781.6,3068.5 L782.5,3069.5 L783.4,3071.2 L784.3,3072.5 L785.2,3073.6 L786.1,3073.8 L787.0,3076.5 L787.9,3075.9 L788.8,3077.7 L789.7,3077.3 L790.6,3076.2 L791.5,3077.5 L792.4,3079.6 L793.3,3077.8 L794.2,3077.9 L795.1,3077.5 L795.7,3079.0 L796.0,3077.5 L796.9,3078.2 L797.8,3079.2 L798.7,3078.6 L799.6,3079.1 L800.5,3078.0 L801.4,3080.6 L802.3,3079.1 L803.2,3080.6 L804.1,3080.0 L805.0,3080.7 L805.9,3079.7 L806.8,3079.5 L807.7,3078.9 L808.6,3078.6 L809.5,3079.8 L810.3,3081.3 L810.4,3081.0 L811.3,3082.2 L812.2,3081.5 L813.1,3081.8 L814.0,3084.0 L814.9,3084.1 L815.8,3084.2 L816.7,3084.7 L817.6,3086.8 L818.5,3087.4 L819.4,3087.1 L820.3,3087.5 L821.2,3088.0 L822.1,3089.2 L823.0,3090.4 L823.9,3090.2 L824.8,3088.7 L824.9,3090.5 L825.7,3089.6 L826.6,3089.6 L827.5,3091.0 L828.4,3091.0 L829.3,3090.6 L830.2,3092.2 L831.1,3092.9 L832.0,3094.1 L832.9,3095.7 L833.8,3095.6 L834.7,3097.2 L835.6,3097.3 L836.5,3096.1 L837.4,3094.3 L838.3,3096.7 L839.2,3097.1 L839.5,3095.4 L840.1,3096.9 L841.0,3096.9 L841.9,3098.1 L842.8,3098.0 L843.7,3099.0 L844.6,3099.3 L845.5,3098.2 L846.4,3099.6 L847.3,3099.2 L848.2,3099.8 L849.1,3100.2 L850.0,3102.1 L850.9,3102.6 L851.8,3102.5 L852.7,3103.0 L853.6,3103.2 L854.5,3102.2 L855.4,3102.4 L856.3,3104.2 L857.2,3105.7 L857.8,3105.9 L858.1,3104.4 L859.0,3104.3 L859.9,3104.2 L860.8,3106.4 L861.7,3106.7 L862.6,3105.7 L863.5,3108.5 L864.4,3107.1 L865.3,3110.2 L866.2,3109.6 L867.1,3110.5 L868.0,3110.4 L868.9,3110.4 L869.8,3106.6 L870.7,3108.1 L871.6,3109.1 L872.5,3107.2 L873.4,3109.8 L874.3,3109.8 L875.2,3112.4 L876.0,3111.4 L876.1,3110.7 L877.0,3109.9 L877.9,3110.5 L878.8,3111.1 L879.7,3112.2 L880.6,3113.9 L881.5,3114.2 L882.4,3114.3 L883.3,3114.7 L884.2,3115.8 L885.1,3115.8 L886.0,3114.8 L886.9,3116.8 L887.8,3117.0 L888.7,3116.8 L889.6,3117.0 L890.5,3117.1 L890.6,3116.5 L891.4,3117.4 L892.3,3118.8 L893.2,3121.2 L894.1,3120.0 L895.0,3120.2 L895.9,3121.4 L896.8,3121.5 L897.7,3119.6 L898.6,3122.4 L899.5,3122.9 L900.4,3123.6 L901.3,3123.2 L902.2,3123.6 L903.1,3123.5 L904.0,3125.7 L904.9,3126.9 L905.2,3127.4 L905.8,3128.9 L906.7,3128.0 L907.6,3127.3 L908.5,3128.4 L909.4,3125.6 L910.3,3126.8 L911.2,3127.8 L912.1,3129.4 L913.0,3127.3 L913.9,3128.4 L914.8,3128.2 L915.7,3127.2 L916.6,3128.7 L917.5,3128.0 L918.4,3128.1 L919.3,3129.1 L919.9,3127.2 L920.2,3127.8 L921.1,3126.3 L922.0,3129.3 L922.9,3127.4 L923.8,3129.8 L924.7,3129.3 L925.6,3128.9 L926.5,3129.8 L927.4,3129.3 L928.3,3129.3 L929.2,3129.6 L930.1,3129.0 L931.0,3129.8 L931.9,3129.2 L932.8,3129.5 L933.7,3129.7 L934.5,3130.8 L934.6,3131.0 L935.5,3131.7 L936.4,3129.5 L937.3,3130.4 L938.2,3128.5 L939.1,3129.0 L940.0,3130.1 L940.9,3131.2 L941.8,3129.4 L942.7,3128.7 L943.6,3130.2 L944.5,3128.4 L945.4,3126.2 L946.3,3125.1 L947.2,3125.8 L948.1,3126.4 L949.0,3125.1 L949.1,3125.7 L949.9,3124.6 L950.8,3124.6 L951.7,3124.5 L952.6,3125.2 L953.5,3126.1 L954.4,3127.2 L955.3,3126.5 L956.2,3124.9 L957.1,3127.4 L958.0,3124.0 L958.9,3123.0 L959.8,3124.9 L960.7,3121.5 L961.6,3122.5 L962.5,3123.1 L963.4,3121.4 L964.3,3122.5 L965.2,3122.0 L966.1,3122.0 L967.0,3123.7 L967.3,3123.7 L967.9,3124.4 L968.8,3123.4 L969.7,3121.9 L970.6,3121.9 L971.5,3120.6 L972.4,3121.2 L973.3,3120.2 L974.2,3119.5 L975.1,3118.2 L976.0,3118.8 L976.9,3115.8 L977.8,3117.5 L978.7,3117.3 L979.6,3116.6 L980.5,3114.7 L981.4,3115.2 L982.3,3114.7 L983.2,3115.4 L984.1,3116.1 L985.0,3113.6 L985.6,3113.1 L985.9,3113.5 L986.8,3113.2 L987.7,3113.0 L988.6,3112.6 L989.5,3113.6 L990.4,3111.4 L991.3,3111.5 L992.2,3112.6 L993.1,3111.3 L994.0,3112.2 L994.9,3110.5 L995.8,3111.8 L996.7,3111.8 L997.6,3113.6 L998.5,3109.8 L999.4,3110.9 L1000.3,3108.0 L1001.2,3108.1 L1002.1,3110.2 L1003.0,3110.2 L1003.8,3108.2 L1003.9,3108.1 L1004.8,3107.4 L1005.7,3110.7 L1006.6,3109.6 L1007.5,3110.5 L1008.4,3109.9 L1009.3,3108.5 L1010.2,3107.6 L1011.1,3109.2 L1012.0,3109.1 L1012.9,3106.9 L1013.8,3107.8 L1014.7,3103.9 L1015.6,3104.6 L1016.5,3106.8 L1017.4,3106.5 L1018.3,3108.9 L1019.2,3110.2 L1020.1,3108.7 L1021.0,3109.0 L1021.9,3107.2 L1022.1,3108.3 L1022.8,3108.1 L1023.7,3107.6 L1024.6,3109.9 L1025.5,3107.6 L1026.4,3108.4 L1027.3,3106.8 L1028.2,3105.8 L1029.1,3105.9 L1030.0,3108.1 L1030.9,3106.9 L1031.8,3108.1 L1032.7,3108.0 L1033.6,3107.7 L1034.5,3108.2 L1035.4,3108.7 L1036.3,3107.4 L1037.2,3107.8 L1038.1,3108.3 L1039.0,3109.4 L1039.9,3108.4 L1040.3,3107.1 L1040.8,3108.5 L1041.7,3106.9 L1042.6,3107.9 L1043.5,3106.9 L1044.4,3107.2 L1045.3,3108.7 L1046.2,3108.7 L1047.1,3107.5 L1048.0,3107.9 L1048.9,3106.4 L1049.8,3105.6 L1050.7,3105.3 L1051.6,3103.5 L1052.5,3105.9 L1053.4,3103.8 L1054.3,3106.2 L1054.9,3104.6 L1055.2,3103.1 L1056.1,3103.1 L1057.0,3100.7 L1057.9,3100.6 L1058.8,3100.6 L1059.7,3099.7 L1060.6,3100.5 L1061.5,3099.5 L1062.4,3098.2 L1063.3,3097.3 L1064.2,3096.5 L1065.1,3094.3 L1065.9,3094.9 L1066.0,3095.6 L1066.9,3092.8 L1067.8,3093.3 L1068.7,3090.8 L1069.6,3090.6 L1070.5,3089.9 L1071.4,3087.9 L1072.3,3086.4 L1073.2,3085.6 L1073.2,3084.8 L1074.1,3085.9 L1075.0,3088.2 L1075.9,3087.0 L1076.8,3087.5 L1077.7,3086.0 L1078.6,3087.0 L1079.5,3086.9 L1080.4,3087.6 L1080.5,3088.1 L1081.3,3088.0 L1082.2,3089.9 L1083.1,3090.0 L1084.0,3092.5 L1084.9,3094.1 L1085.8,3096.6 L1086.7,3097.7 L1087.6,3097.7 L1087.8,3097.8 L1088.5,3098.7 L1089.4,3098.9 L1090.3,3100.7 L1091.2,3100.5 L1092.1,3101.3 L1093.0,3103.9 L1093.9,3102.1 L1094.8,3102.9 L1095.7,3102.3 L1096.6,3102.4 L1097.5,3103.8 L1098.4,3105.2 L1099.3,3105.7 L1100.2,3105.7 L1101.1,3106.9 L1102.0,3106.1 L1102.4,3108.2 L1102.9,3107.2 L1103.8,3107.4 L1104.7,3109.9 L1105.6,3110.4 L1106.5,3112.2 L1107.4,3111.7 L1108.3,3113.0 L1109.2,3111.6 L1110.1,3110.1 L1111.0,3109.7 L1111.9,3112.1 L1112.8,3113.1 L1113.7,3112.4 L1114.6,3111.7 L1115.5,3112.3 L1116.4,3111.3 L1117.0,3111.9 L1117.3,3113.7 L1118.2,3113.0 L1119.1,3115.9 L1120.0,3115.9 L1120.9,3116.5 L1121.8,3114.0 L1122.7,3116.3 L1123.6,3114.9 L1124.5,3116.1 L1125.4,3116.3 L1126.3,3116.6 L1127.2,3116.8 L1128.1,3116.0 L1129.0,3116.2 L1129.9,3114.6 L1130.8,3116.0 L1131.6,3115.2 L1131.7,3114.4 L1132.6,3114.9 L1133.5,3114.0 L1134.4,3115.7 L1135.3,3116.3 L1136.2,3115.7 L1137.1,3116.5 L1138.0,3114.1 L1138.9,3114.3 L1139.8,3114.7 L1140.7,3113.7 L1141.6,3115.9 L1142.5,3111.1 L1143.4,3112.5 L1144.3,3112.1 L1145.2,3110.2 L1146.1,3110.8 L1147.0,3109.1 L1147.9,3109.9 L1148.8,3109.5 L1149.7,3111.6 L1149.9,3110.5 L1150.6,3111.7 L1151.5,3112.3 L1152.4,3113.1 L1153.3,3112.8 L1154.2,3113.1 L1155.1,3114.0 L1156.0,3114.8 L1156.9,3115.3 L1157.8,3115.6 L1158.7,3114.9 L1159.6,3115.5 L1160.5,3114.6 L1161.4,3115.4 L1162.3,3117.3 L1163.2,3114.8 L1164.1,3114.7 L1165.0,3115.1 L1165.9,3116.1 L1166.8,3115.8 L1167.7,3117.8 L1168.1,3116.8 L1168.6,3117.5 L1169.5,3118.8 L1170.4,3117.9 L1171.3,3116.0 L1172.2,3118.8 L1173.1,3118.8 L1174.0,3119.5 L1174.9,3119.8 L1175.8,3118.8 L1176.7,3120.6 L1177.6,3121.8 L1178.5,3123.2 L1179.4,3123.0 L1180.3,3122.3 L1181.2,3123.2 L1182.1,3123.4 L1183.0,3123.2 L1183.9,3120.4 L1184.8,3122.3 L1185.7,3123.4 L1186.4,3124.0 L1186.6,3125.2 L1187.5,3125.6 L1188.4,3124.0 L1189.3,3123.6 L1190.2,3122.8 L1191.1,3123.4 L1192.0,3124.4 L1192.9,3126.5 L1193.8,3126.7 L1194.7,3125.4 L1195.6,3123.8 L1196.5,3123.7 L1197.4,3124.1 L1198.3,3123.6 L1199.2,3124.2 L1200.1,3125.5 L1201.0,3125.1 L1201.9,3126.7 L1202.8,3125.2 L1203.7,3125.4 L1204.6,3124.6 L1204.6,3124.6 L1205.5,3125.0 L1206.4,3126.7 L1207.3,3125.0 L1208.2,3124.0 L1209.1,3123.7 L1210.0,3125.0 L1210.9,3122.8 L1211.8,3123.9 L1212.7,3123.9 L1213.6,3122.5 L1214.5,3124.5 L1215.4,3125.5 L1216.3,3123.8 L1217.2,3121.8 L1218.1,3122.5 L1219.0,3120.6 L1219.9,3120.4 L1220.8,3121.4 L1221.7,3121.4 L1222.6,3120.9 L1222.9,3123.5 L1223.5,3122.4 L1224.4,3122.9 L1225.3,3122.7 L1226.2,3124.8 L1227.1,3122.7 L1228.0,3123.5 L1228.9,3124.1 L1229.8,3123.2 L1230.7,3123.2 L1231.6,3122.2 L1232.5,3123.3 L1233.4,3122.4 L1234.3,3123.7 L1235.2,3124.2 L1236.1,3124.1 L1237.0,3125.0 L1237.9,3125.8 L1238.8,3125.8 L1239.7,3126.4 L1240.6,3126.7 L1241.1,3125.5 L1241.5,3126.7 L1242.4,3126.9 L1243.3,3126.2 L1244.2,3126.9 L1245.1,3128.7 L1246.0,3127.0 L1246.9,3127.4 L1247.8,3128.1 L1248.7,3127.0 L1249.6,3125.2 L1250.5,3126.5 L1251.4,3127.1 L1252.3,3125.8 L1253.2,3128.3 L1254.1,3127.1 L1255.0,3130.0 L1255.9,3129.7 L1256.8,3130.4 L1257.7,3131.0 L1258.6,3129.7 L1259.4,3129.1 L1259.5,3127.8 L1260.4,3128.0 L1261.3,3129.8 L1262.2,3129.3 L1263.1,3129.0 L1264.0,3129.6 L1264.9,3127.8 L1265.8,3127.2 L1266.7,3128.6 L1267.6,3128.2 L1268.5,3128.2 L1269.4,3128.5 L1270.0,3129.1 L1270.3,3129.7 L1271.2,3128.7 L1272.1,3129.1 L1273.0,3129.4 L1273.9,3129.4 L1274.8,3127.8 L1275.7,3127.7 L1276.6,3127.5 L1277.5,3127.7 L1278.4,3125.1 L1279.3,3126.0 L1280.2,3126.8 L1281.1,3126.6 L1282.0,3127.6 L1282.9,3128.8 L1283.8,3127.3 L1284.7,3128.6 L1285.6,3124.9 L1286.5,3124.6 L1287.4,3126.8 L1288.3,3127.5 L1289.2,3126.3 L1290.1,3128.8 L1291.0,3127.2 L1291.9,3127.3 L1292.8,3126.8 L1293.7,3127.2 L1294.6,3124.9 L1295.5,3126.0 L1296.4,3127.0 L1297.3,3125.6 L1298.2,3126.7 L1299.1,3125.6 L1300.0,3124.6 L1300.9,3129.1 L1301.8,3127.3 L1302.7,3128.8 L1303.6,3127.3 L1304.5,3125.5 L1305.4,3124.4 L1306.3,3124.6 L1307.2,3127.0 L1308.1,3128.4 L1309.0,3128.0 L1309.9,3127.6 L1310.8,3127.0 L1311.7,3128.5 L1312.6,3127.1 L1313.5,3126.7 L1314.4,3124.0 L1315.3,3125.1 L1316.2,3126.9 L1317.1,3129.1 L1318.0,3128.3 L1318.9,3129.2 L1319.8,3126.4 L1320.7,3127.0 L1321.6,3126.8 L1322.5,3125.5 L1323.4,3126.0 L1324.3,3123.6 L1325.2,3125.4 L1326.1,3125.4 L1327.0,3123.8 L1327.9,3123.6 L1328.8,3125.8 L1329.7,3128.5 L1330.6,3127.0 L1331.5,3124.1 L1332.4,3124.6 L1333.3,3124.4 L1334.2,3126.5 L1335.1,3126.5 L1336.0,3126.7 L1336.9,3126.9 L1337.8,3127.1 L1338.7,3124.5 L1339.6,3126.4 L1340.5,3128.2 L1341.4,3126.3 L1342.3,3125.2 L1343.2,3125.7 L1344.1,3125.7 L1345.0,3125.8 L1345.9,3125.0 L1346.8,3124.6 L1347.7,3125.9 L1348.6,3125.7 L1349.5,3124.0 L1350.4,3124.7 L1351.3,3125.5 L1352.2,3126.1 L1353.1,3125.1 L1354.0,3125.7 L1354.9,3126.8 L1355.8,3128.7 L1356.7,3127.3 L1357.6,3126.2 L1358.5,3124.5 L1359.4,3126.5 L1360.3,3126.4 L1361.2,3126.4 L1362.1,3126.0 L1363.0,3126.4 L1363.9,3126.3 L1364.8,3126.5 L1365.7,3126.1 L1366.6,3127.8 L1367.5,3126.9 L1368.4,3125.4 L1369.3,3124.8 L1370.2,3124.8 L1371.1,3124.1 L1372.0,3125.4 L1372.9,3124.9 L1373.8,3124.4 L1374.7,3124.9 L1375.6,3126.6 L1376.5,3127.1 L1377.4,3125.1 L1378.3,3127.9 L1379.2,3126.6 L1379.5,3126.4 L1380.1,3125.7 L1381.0,3126.6 L1381.9,3127.7 L1382.8,3127.6 L1383.7,3126.7 L1384.6,3128.2 L1385.5,3127.3 L1386.4,3124.9 L1387.3,3124.7 L1388.2,3124.4 L1389.1,3126.9 L1390.0,3126.4 L1390.9,3126.9 L1391.8,3128.7 L1392.7,3127.8 L1393.6,3126.9 L1394.5,3128.2 L1395.4,3126.8 L1396.3,3126.6 L1397.2,3126.9 L1398.1,3126.6 L1399.0,3125.7 L1399.9,3126.8 L1400.8,3125.0 L1401.7,3126.0 L1402.6,3125.4 L1403.5,3124.7 L1404.4,3125.6 L1405.3,3125.8 L1406.2,3124.1 L1407.1,3126.8 L1408.0,3127.7 L1408.9,3128.0 L1409.8,3127.2 L1410.7,3125.8 L1411.6,3126.6 L1412.5,3125.8 L1413.4,3124.5 L1414.3,3123.8 L1415.2,3122.4 L1416.1,3123.7 L1417.0,3126.0 L1417.9,3124.2 L1418.8,3126.3 L1419.7,3124.4 L1420.6,3125.6 L1421.5,3125.9 L1422.4,3125.1 L1423.3,3123.5 L1424.2,3125.5 L1425.1,3128.1 L1426.0,3126.2 L1426.9,3125.5 L1427.8,3126.7 L1428.7,3124.1 L1429.6,3124.7 L1430.5,3125.0 L1431.4,3124.2 L1432.3,3126.5 L1433.2,3126.1 L1434.1,3127.1 L1435.0,3126.7 L1435.9,3125.7 L1436.8,3126.2 L1437.7,3127.0 L1438.6,3127.7 L1439.5,3128.3 L1440.4,3128.8 L1441.3,3128.3 L1442.2,3127.4 L1443.1,3126.0 L1444.0,3125.4 L1444.9,3125.3 L1445.8,3124.4 L1446.7,3124.7 L1447.6,3125.6 L1448.5,3124.9 L1449.4,3127.1 L1450.3,3125.9 L1451.2,3127.0 L1452.1,3129.1 L1453.0,3127.6 L1453.9,3127.1 L1454.8,3127.1 L1455.7,3126.3 L1456.6,3125.5 L1457.5,3125.8 L1458.4,3127.8 L1459.3,3127.7 L1460.2,3128.8 L1461.1,3128.6 L1462.0,3128.7 L1462.9,3126.1 L1463.8,3125.2 L1464.7,3126.7 L1465.6,3125.3 L1466.5,3126.2 L1467.4,3126.7 L1468.3,3127.2 L1469.2,3126.2 L1470.1,3127.1 L1471.0,3127.0 L1471.9,3126.8 L1472.8,3125.9 L1473.7,3129.0 L1474.6,3127.9 L1475.5,3125.7 L1476.4,3126.4 L1477.3,3125.9 L1478.2,3126.6 L1479.1,3127.6 L1480.0,3128.3 L1480.9,3126.6 L1481.8,3126.4 L1482.7,3128.7 L1483.6,3128.0 L1484.5,3127.4 L1485.4,3126.2 L1486.3,3126.6 L1487.2,3125.4 L1488.1,3125.3 L1489.0,3126.0 L1489.9,3127.9 L1490.8,3130.6 L1491.7,3128.4 L1492.6,3124.7 L1493.5,3126.0 L1494.4,3124.3 L1495.3,3126.0 L1496.2,3126.3 L1497.1,3125.7 L1498.0,3128.0 L1498.9,3128.7 L1499.8,3127.1 L1500.7,3127.4 L1501.6,3124.6 L1502.5,3124.9 L1503.4,3126.4 L1504.3,3126.1 L1505.2,3126.3 L1506.1,3127.2 L1507.0,3127.6 L1507.9,3127.1 L1508.8,3128.1 L1509.7,3126.2 L1510.6,3129.5 L1511.5,3129.2 L1512.4,3128.3 L1513.3,3126.9 L1514.2,3126.0 L1515.1,3127.4 L1516.0,3128.7 L1516.9,3127.4 L1517.8,3128.7 L1518.7,3129.1 L1519.6,3130.0 L1520.5,3128.1 L1521.4,3126.4 L1522.3,3126.8 L1523.2,3127.0 L1524.1,3126.6 L1525.0,3127.1 L1525.6,3128.4 L1525.9,3126.8 L1526.8,3129.5 L1527.7,3128.5 L1528.6,3128.0 L1529.5,3128.5 L1530.4,3127.3 L1531.3,3127.8 L1532.2,3127.9 L1533.1,3126.7 L1534.0,3127.4 L1534.9,3127.8 L1535.8,3125.7 L1536.7,3125.2 L1537.6,3126.1 L1538.5,3126.3 L1539.4,3128.0 L1540.3,3129.0 L1541.2,3127.1 L1542.1,3127.9 L1543.0,3126.6 L1543.9,3127.3 L1544.8,3128.1 L1545.7,3128.8 L1546.6,3129.6 L1547.5,3126.7 L1548.4,3127.1 L1549.3,3127.7 L1550.2,3127.8 L1551.1,3127.4 L1552.0,3126.1 L1552.9,3125.0 L1553.8,3125.7 L1554.7,3125.1 L1555.6,3126.2 L1556.5,3127.9 L1557.4,3128.1 L1558.3,3129.1 L1559.2,3128.5 L1560.1,3128.1 L1561.0,3127.0 L1561.9,3125.4 L1562.8,3125.5 L1563.7,3126.1 L1564.6,3127.1 L1565.5,3126.4 L1566.4,3127.5 L1567.3,3127.7 L1568.2,3126.4 L1569.1,3125.6 L1570.0,3126.7 L1570.9,3127.3 L1571.8,3127.6 L1572.7,3127.6 L1573.6,3126.0 L1574.5,3127.7 L1575.4,3125.1 L1576.3,3126.3 L1577.2,3124.9 L1578.1,3126.2 L1579.0,3127.9 L1579.9,3127.0 L1580.8,3128.1 L1581.7,3128.4 L1582.6,3129.1 L1583.5,3130.6 L1584.4,3128.7 L1585.3,3126.7 L1586.2,3128.4 L1587.1,3129.8 L1588.0,3129.2 L1588.9,3127.3 L1589.8,3127.8 L1590.7,3127.9 L1591.6,3127.9 L1592.5,3127.2 L1593.4,3128.3 L1594.3,3128.0 L1595.2,3128.5 L1596.1,3127.9 L1597.0,3128.7 L1597.9,3126.3 L1598.8,3126.9 L1599.7,3127.1 L1600.6,3127.4 L1601.5,3126.1 L1602.4,3125.1 L1603.3,3124.4 L1604.2,3126.9 L1605.1,3127.8 L1606.0,3128.7 L1606.9,3127.5 L1607.8,3128.3 L1608.7,3126.4 L1609.6,3124.6 L1610.5,3126.9 L1611.4,3126.0 L1612.3,3127.0 L1613.2,3124.3 L1614.1,3124.3 L1615.0,3125.9 L1615.9,3126.4 L1616.8,3128.5 L1617.7,3128.1 L1618.6,3128.6 L1619.5,3128.5 L1620.4,3128.5 L1621.3,3128.4 L1622.2,3125.9 L1623.1,3128.3 L1624.0,3125.8 L1624.9,3125.2 L1625.8,3126.5 L1626.7,3127.4 L1627.6,3126.0 L1628.5,3128.0 L1629.4,3127.4 L1630.3,3128.4 L1631.2,3126.2 L1632.1,3126.7 L1633.0,3127.5 L1633.9,3126.6 L1634.8,3127.5 L1635.7,3126.1 L1636.6,3127.0 L1637.5,3127.0 L1638.4,3127.1 L1639.3,3130.0 L1640.2,3126.7 L1641.1,3126.8 L1642.0,3127.0 L1642.9,3126.8 L1643.8,3124.9 L1644.7,3124.1 L1645.6,3125.0 L1646.5,3126.5 L1647.4,3127.3 L1648.3,3127.9 L1649.2,3128.4 L1650.1,3126.7 L1651.0,3125.5 L1651.9,3124.0 L1652.8,3123.4 L1653.7,3124.5 L1654.6,3127.1 L1655.5,3126.6 L1656.4,3127.5 L1657.3,3127.1 L1658.2,3126.3 L1659.1,3127.9 L1660.0,3126.8 L1660.9,3128.4 L1661.8,3128.7 L1662.7,3128.5 L1663.6,3126.8 L1664.5,3125.0 L1665.4,3124.5 L1666.3,3125.6 L1667.2,3125.6 L1668.1,3124.3 L1669.0,3124.4 L1669.9,3125.0 L1670.8,3126.8 L1671.6,3125.9 L1671.7,3126.3 L1672.6,3126.6 L1673.5,3125.1 L1674.4,3125.3 L1675.3,3123.7 L1676.2,3126.4 L1677.1,3124.4 L1678.0,3124.9 L1678.9,3124.5 L1679.8,3125.2 L1680.7,3125.9 L1681.6,3125.7 L1682.5,3124.8 L1683.4,3125.4 L1684.3,3126.1 L1685.2,3125.6 L1686.1,3125.4 L1687.0,3126.4 L1687.9,3125.1 L1688.8,3122.5 L1689.7,3121.4 L1689.9,3120.6 L1690.6,3120.8 L1691.5,3120.8 L1692.4,3121.3 L1693.3,3122.3 L1694.2,3122.8 L1695.1,3122.0 L1696.0,3118.7 L1696.9,3118.5 L1697.8,3121.8 L1698.7,3123.2 L1699.6,3121.1 L1700.5,3121.2 L1701.4,3121.2 L1702.3,3120.2 L1703.2,3119.2 L1704.1,3118.0 L1705.0,3116.2 L1705.9,3118.1 L1706.8,3119.2 L1707.7,3120.6 L1708.1,3120.9 L1708.6,3120.9 L1709.5,3121.6 L1710.4,3119.5 L1711.3,3120.0 L1712.2,3120.5 L1713.1,3119.5 L1714.0,3118.3 L1714.9,3116.3 L1715.8,3115.4 L1716.7,3116.3 L1717.6,3116.7 L1718.5,3117.9 L1719.4,3115.9 L1720.3,3117.2 L1721.2,3116.8 L1722.1,3115.4 L1723.0,3115.4 L1723.9,3116.4 L1724.8,3115.5 L1725.7,3113.6 L1726.4,3112.5 L1726.6,3113.7 L1727.5,3113.9 L1728.4,3116.7 L1729.3,3116.3 L1730.2,3115.2 L1731.1,3115.5 L1732.0,3115.9 L1732.9,3116.4 L1733.8,3114.5 L1734.7,3114.0 L1735.6,3114.5 L1736.5,3114.4 L1737.4,3112.1 L1738.3,3110.9 L1739.2,3111.3 L1740.1,3113.3 L1741.0,3111.5 L1741.9,3110.1 L1742.8,3109.0 L1743.7,3110.1 L1744.6,3111.2 L1744.6,3110.9 L1745.5,3112.6 L1746.4,3110.4 L1747.3,3109.9 L1748.2,3108.4 L1749.1,3110.3 L1750.0,3107.9 L1750.9,3107.9 L1751.8,3108.5 L1752.7,3107.2 L1753.6,3106.9 L1754.5,3105.0 L1755.4,3102.2 L1756.3,3103.7 L1757.2,3103.4 L1758.1,3101.8 L1759.0,3102.6 L1759.9,3100.6 L1760.8,3101.3 L1761.7,3100.5 L1762.6,3098.9 L1762.9,3101.1 L1763.5,3100.2 L1764.4,3098.2 L1765.3,3099.0 L1766.2,3098.7 L1767.1,3099.2 L1768.0,3097.8 L1768.9,3096.3 L1769.8,3096.0 L1770.7,3093.4 L1771.6,3094.3 L1772.5,3093.2 L1773.4,3093.6 L1774.3,3093.0 L1775.2,3091.5 L1776.1,3091.6 L1777.0,3089.0 L1777.5,3087.8 L1777.9,3087.0 L1778.8,3086.9 L1779.7,3086.9 L1780.0,3086.5 L1780.6,3085.3 L1781.5,3085.3 L1782.4,3084.3 L1783.3,3082.3 L1784.2,3080.0 L1785.1,3077.8 L1786.0,3074.1 L1786.9,3070.8 L1787.8,3069.4 L1788.7,3066.8 L1789.6,3063.7 L1790.4,3062.3 L1790.5,3062.6 L1791.4,3061.5 L1792.3,3060.0 L1793.2,3057.9 L1794.1,3055.4 L1795.0,3054.2 L1795.9,3053.3 L1796.8,3052.3 L1797.7,3050.9 L1798.6,3048.2 L1799.5,3049.3 L1800.4,3047.6 L1800.9,3047.0 L1801.3,3044.9 L1802.2,3042.4 L1803.1,3042.5 L1804.0,3041.0 L1804.9,3040.3 L1805.8,3039.8 L1806.7,3037.8 L1807.6,3037.7 L1808.5,3037.5 L1809.4,3037.0 L1810.3,3035.0 L1811.2,3034.8 L1811.3,3034.7 L1812.1,3034.4 L1813.0,3031.7 L1813.9,3029.5 L1814.8,3028.1 L1815.7,3024.7 L1816.6,3024.4 L1817.5,3022.8 L1818.4,3022.5 L1819.3,3021.3 L1820.2,3022.5 L1821.1,3021.6 L1821.7,3021.0 L1822.0,3021.4 L1822.9,3020.4 L1823.8,3022.7 L1824.7,3022.5 L1825.6,3023.8 L1826.5,3024.8 L1827.4,3023.5 L1828.3,3026.2 L1829.2,3026.8 L1830.1,3026.8 L1831.0,3026.0 L1831.9,3028.5 L1832.2,3029.7 L1832.8,3029.5 L1833.7,3030.1 L1834.6,3028.3 L1835.5,3027.6 L1836.4,3026.1 L1837.3,3025.4 L1838.2,3023.4 L1839.1,3022.0 L1840.0,3023.3 L1840.9,3023.7 L1841.8,3023.9 L1842.6,3025.3 L1842.7,3025.0 L1843.6,3023.9 L1844.5,3023.8 L1845.4,3024.8 L1846.3,3027.8 L1847.2,3028.4 L1848.1,3026.9 L1849.0,3029.6 L1849.9,3032.2 L1850.4,3033.0 L1850.8,3032.8 L1851.7,3034.9 L1852.6,3036.0 L1853.5,3036.3 L1854.4,3039.2 L1855.3,3040.0 L1856.2,3044.5 L1857.1,3045.9 L1858.0,3047.2 L1858.2,3047.8 L1858.9,3049.1 L1859.8,3050.4 L1860.7,3050.1 L1861.6,3052.1 L1862.5,3055.7 L1863.4,3054.9 L1864.3,3054.9 L1865.2,3056.8 L1866.1,3059.6 L1867.0,3062.6 L1867.9,3064.0 L1868.7,3065.9 L1868.8,3066.4 L1869.7,3066.8 L1870.6,3071.4 L1871.5,3070.1 L1872.4,3073.5 L1873.3,3074.4 L1874.2,3076.4 L1875.1,3079.2 L1876.0,3082.5 L1876.9,3081.9 L1877.8,3083.6 L1878.7,3084.1 L1879.1,3084.1 L1879.6,3085.7 L1880.5,3087.4 L1881.4,3091.1 L1882.3,3091.3 L1883.2,3093.3 L1884.1,3094.5 L1885.0,3096.7 L1885.9,3098.9 L1886.8,3100.4 L1887.7,3099.5 L1888.6,3101.3 L1889.5,3101.8 L1889.5,3101.1 L1890.4,3102.9 L1891.3,3102.8 L1892.2,3103.6 L1893.1,3106.9 L1894.0,3108.3 L1894.9,3110.5 L1895.8,3109.7 L1896.7,3110.7 L1897.6,3111.5 L1898.5,3109.6 L1899.4,3109.7 L1899.9,3110.1 L1900.3,3110.9 L1901.2,3112.3 L1902.1,3112.1 L1903.0,3112.8 L1903.9,3116.7 L1904.8,3115.9 L1905.7,3116.7 L1906.6,3117.5 L1907.5,3117.7 L1908.4,3118.4 L1909.3,3118.6 L1910.2,3119.4 L1910.4,3119.7 L1911.1,3120.6 L1912.0,3120.1 L1912.9,3121.1 L1913.8,3122.9 L1914.7,3122.8 L1915.6,3121.5 L1916.5,3120.6 L1917.4,3125.0 L1918.3,3127.8 L1919.2,3123.9 L1920.1,3122.5 L1920.8,3124.3 L1921.0,3123.9 L1921.9,3125.8 L1922.8,3127.2 L1923.7,3126.3 L1924.6,3126.2 L1925.5,3125.8 L1926.0,3127.6 L1926.4,3126.4 L1927.3,3125.1 L1928.2,3129.1 L1929.1,3129.1 L1930.0,3126.7 L1930.9,3126.0 L1931.8,3124.2 L1932.7,3123.3 L1933.6,3121.7 L1934.5,3122.6 L1935.4,3121.7 L1936.3,3122.9 L1936.5,3122.0 L1937.2,3120.8 L1938.1,3121.4 L1939.0,3119.4 L1939.9,3116.1 L1940.8,3112.2 L1941.7,3113.8 L1942.6,3111.3 L1943.5,3110.8 L1944.4,3107.4 L1945.3,3107.9 L1946.2,3107.6 L1946.9,3106.4 L1947.1,3106.4 L1948.0,3105.0 L1948.9,3103.8 L1949.8,3102.6 L1950.7,3101.7 L1951.6,3099.5 L1952.5,3096.1 L1953.4,3091.6 L1954.3,3090.0 L1955.2,3086.8 L1956.1,3086.7 L1957.0,3084.6 L1957.3,3083.0 L1957.9,3084.2 L1958.8,3080.2 L1959.7,3075.1 L1960.6,3070.0 L1961.5,3068.2 L1962.4,3065.3 L1963.3,3062.9 L1964.2,3058.4 L1965.1,3056.3 L1965.1,3057.5 L1966.0,3053.5 L1966.9,3044.4 L1967.8,3039.9 L1968.7,3036.8 L1969.6,3032.5 L1970.4,3027.1 L1970.5,3026.3 L1971.4,3022.5 L1972.3,3021.8 L1973.2,3018.4 L1974.1,3016.6 L1975.0,3013.7 L1975.9,3011.5 L1976.8,3007.3 L1977.7,3003.4 L1978.2,3003.0 L1978.6,3000.6 L1979.5,2997.0 L1980.4,2989.5 L1981.3,2981.4 L1982.2,2975.5 L1983.1,2969.0 L1984.0,2959.7 L1984.9,2952.0 L1985.8,2942.2 L1986.0,2942.4 L1986.7,2936.3 L1987.6,2930.2 L1988.5,2921.5 L1989.4,2911.5 L1990.3,2904.0 L1991.2,2894.7 L1992.1,2890.4 L1993.0,2882.1 L1993.8,2876.5 L1993.9,2874.9 L1994.8,2867.6 L1995.7,2861.5 L1996.6,2858.3 L1997.5,2852.2 L1998.4,2845.3 L1999.3,2839.1 L2000.2,2833.2 L2001.1,2828.3 L2001.6,2824.1 L2002.0,2821.0 L2002.9,2816.7 L2003.8,2812.1 L2004.7,2805.8 L2005.6,2800.3 L2006.5,2792.6 L2007.4,2788.5 L2008.2,2786.3 L2008.3,2786.3 L2009.2,2783.3 L2009.8,2780.1 L2010.1,2776.2 L2011.0,2772.5 L2011.9,2766.3 L2012.8,2761.0 L2013.7,2756.1 L2013.8,2757.4 L2014.6,2752.1 L2015.5,2747.9 L2016.4,2741.0 L2017.3,2732.7 L2018.2,2726.9 L2019.1,2721.6 L2019.7,2715.4 L2020.0,2713.6 L2020.9,2709.7 L2021.8,2701.0 L2022.7,2697.5 L2023.6,2689.2 L2024.5,2684.8 L2025.4,2680.0 L2025.7,2678.9 L2026.3,2674.2 L2027.2,2667.1 L2028.1,2661.5 L2029.0,2658.0 L2029.9,2653.2 L2030.8,2646.3 L2031.7,2640.6 L2031.7,2640.0 L2032.6,2633.2 L2033.5,2630.1 L2034.4,2626.0 L2035.3,2620.8 L2036.2,2617.4 L2037.1,2610.8 L2038.0,2607.1 L2038.9,2602.8 L2039.7,2596.0 L2039.8,2596.7 L2040.7,2590.9 L2041.6,2585.7 L2042.5,2579.8 L2043.4,2579.7 L2044.3,2576.8 L2045.2,2570.5 L2046.1,2564.5 L2047.0,2561.5 L2047.6,2557.2 L2047.9,2555.4 L2048.8,2548.3 L2049.7,2544.3 L2050.6,2538.9 L2051.5,2532.6 L2052.4,2528.5 L2053.3,2519.8 L2053.6,2516.4 L2054.2,2511.5 L2055.1,2506.8 L2056.0,2503.0 L2056.9,2495.4 L2057.8,2488.0 L2058.7,2481.1 L2058.8,2479.7 L2059.6,2471.3 L2060.5,2458.8 L2061.4,2446.4 L2062.3,2434.4 L2063.2,2421.5 L2063.6,2416.1 L2064.1,2409.8 L2065.0,2402.6 L2065.9,2394.2 L2066.8,2385.4 L2067.7,2376.8 L2068.6,2369.3 L2069.5,2360.9 L2069.6,2359.7 L2070.4,2351.4 L2071.3,2342.9 L2072.2,2331.6 L2073.1,2321.6 L2074.0,2313.4 L2074.9,2303.9 L2075.5,2295.9 L2075.8,2294.9 L2076.7,2288.0 L2077.6,2281.2 L2078.5,2276.5 L2079.4,2269.9 L2080.3,2266.3 L2081.2,2261.3 L2081.5,2260.2 L2082.1,2258.2 L2083.0,2255.7 L2083.9,2253.0 L2084.8,2250.8 L2085.7,2249.4 L2086.6,2248.7 L2086.7,2248.4 L2087.5,2249.1 L2088.4,2250.4 L2089.3,2252.3 L2090.2,2254.7 L2091.1,2257.7 L2092.0,2261.4 L2092.9,2265.5 L2093.5,2268.1 L2093.8,2270.1 L2094.7,2278.7 L2095.6,2290.4 L2096.5,2304.1 L2097.4,2317.1 L2097.5,2318.1 L2098.3,2330.0 L2099.2,2343.6 L2100.1,2357.3 L2101.0,2371.3 L2101.5,2378.7 L2101.9,2385.5 L2102.8,2399.1 L2103.7,2413.0 L2104.6,2425.2 L2105.5,2437.3 L2105.5,2437.1 L2106.4,2451.9 L2107.3,2465.4 L2108.2,2481.5 L2109.1,2492.5 L2109.4,2499.2 L2110.0,2507.5 L2110.9,2520.2 L2111.8,2532.1 L2112.7,2546.9 L2113.4,2558.2 L2113.6,2561.0 L2114.5,2577.7 L2115.4,2591.6 L2116.3,2603.6 L2117.2,2614.5 L2117.4,2615.2 L2118.1,2622.4 L2119.0,2631.0 L2119.9,2643.0 L2120.8,2649.6 L2121.4,2657.2 L2121.7,2659.7 L2122.6,2673.0 L2123.5,2688.5 L2124.4,2702.0 L2125.3,2715.6 L2125.4,2718.8 L2126.2,2729.1 L2127.1,2744.7 L2128.0,2757.5 L2128.9,2774.8 L2129.4,2784.0 L2129.8,2790.4 L2130.7,2804.4 L2131.6,2818.5 L2132.0,2824.6 L2132.5,2829.9 L2133.4,2842.6 L2134.3,2855.1 L2135.2,2865.9 L2136.1,2875.5 L2137.0,2887.5 L2137.2,2890.3 L2137.9,2897.3 L2138.8,2911.4 L2139.7,2926.2 L2140.6,2940.0 L2141.5,2955.6 L2142.4,2968.0 L2142.5,2968.7 L2143.3,2980.3 L2144.2,2994.9 L2145.1,3007.4 L2146.0,3019.5 L2146.9,3036.1 L2147.7,3047.9 L2147.8,3049.0 L2148.7,3060.3 L2149.6,3072.2 L2150.5,3085.9 L2151.4,3096.7 L2151.6,3098.4 L2152.3,3104.5 L2153.2,3115.2 L2154.1,3121.7 L2155.0,3132.1"/>
</g>
<g stroke="#000" stroke-width="5.2" fill="none" stroke-linecap="butt">
<path d="M233,35.5 V1495.5 H2202" stroke-linejoin="miter"/>
<path d="M203,311.5 H231"/>
<path d="M218,587.2 H231"/>
<path d="M203,863 H231"/>
<path d="M218,1138.8 H231"/>
<path d="M203,1414.5 H231"/>
<path d="M427.5,1497 V1524.6"/>
<path d="M649.5,1497 V1524.6"/>
<path d="M871.5,1497 V1524.6"/>
<path d="M1093.5,1497 V1524.6"/>
<path d="M1315.4,1497 V1524.6"/>
<path d="M1537.4,1497 V1524.6"/>
<path d="M1759.4,1497 V1524.6"/>
<path d="M1981.4,1497 V1524.6"/>
<path d="M316.5,1497 V1510.2"/>
<path d="M538.5,1497 V1510.2"/>
<path d="M760.5,1497 V1510.2"/>
<path d="M982.5,1497 V1510.2"/>
<path d="M1204.5,1497 V1510.2"/>
<path d="M1426.4,1497 V1510.2"/>
<path d="M1648.4,1497 V1510.2"/>
<path d="M1870.4,1497 V1510.2"/>
<path d="M2092.4,1497 V1510.2"/>
<path d="M233,1703 V3161.4 H2202" stroke-linejoin="miter"/>
<path d="M203,3132.5 H231"/>
<path d="M218,3004.8 H231"/>
<path d="M203,2877.1 H231"/>
<path d="M218,2749.5 H231"/>
<path d="M203,2621.8 H231"/>
<path d="M218,2494.1 H231"/>
<path d="M203,2366.4 H231"/>
<path d="M218,2238.7 H231"/>
<path d="M203,2111.1 H231"/>
<path d="M218,1983.4 H231"/>
<path d="M203,1855.7 H231"/>
<path d="M218,1728.0 H231"/>
<path d="M614.3,3163 V3190.3"/>
<path d="M387.7,3163 V3176.8"/>
<path d="M1067.5,3163 V3190.3"/>
<path d="M840.9,3163 V3176.8"/>
<path d="M1520.6,3163 V3190.3"/>
<path d="M1294.1,3163 V3176.8"/>
<path d="M1973.8,3163 V3190.3"/>
<path d="M1747.2,3163 V3176.8"/>
</g>
<g stroke="#000" stroke-width="1.7" fill="none" shape-rendering="crispEdges">
<path d="M526.2,198.9 L468.2,297.2"/>
<path d="M597.1,590.6 L534.3,853.1"/>
<path d="M357.2,986.7 L350.6,998.7"/>
<path d="M676.7,1350.7 L627,1359.6"/>
<path d="M489.4,1728.3 L429.5,1841.5"/>
<path d="M821.3,1728.2 L761.6,1841.3"/>
<path d="M605.5,1972.2 L545.6,2087.2"/>
<path d="M617.5,2329.2 L557.3,2443.2"/>
<path d="M870.6,2809.2 L811.4,2923.1"/>
</g>
<path d="M1458,101.7 H1598" stroke="#00ff00" stroke-width="2" fill="none" shape-rendering="crispEdges"/>
<path d="M1458,178.2 H1598" stroke="#008000" stroke-width="2" fill="none" shape-rendering="crispEdges"/>
<path d="M1458,254.8 H1598" stroke="#ff80ff" stroke-width="2" fill="none" shape-rendering="crispEdges"/>
<path d="M1458,331.3 H1598" stroke="#8000ff" stroke-width="2" fill="none" shape-rendering="crispEdges"/>
<path d="M1421,1822.2 H1549.5" stroke="#00ff00" stroke-width="5" stroke-linecap="round" fill="none"/>
<path d="M1421,1894.2 H1549.5" stroke="#008000" stroke-width="5" stroke-linecap="round" fill="none"/>
<path d="M1421,1966.1 H1549.5" stroke="#ff80ff" stroke-width="5" stroke-linecap="round" fill="none"/>
<path d="M1421,2038.1 H1549.5" stroke="#8000ff" stroke-width="5" stroke-linecap="round" fill="none"/>
<g fill="#000" stroke="#000" stroke-width="0.7" stroke-linejoin="round"><text x="427.5" y="1596.5" font-size="64" text-anchor="middle" >1250</text>
<text x="649.5" y="1596.5" font-size="64" text-anchor="middle" >1500</text>
<text x="871.5" y="1596.5" font-size="64" text-anchor="middle" >1750</text>
<text x="1093.5" y="1596.5" font-size="64" text-anchor="middle" >2000</text>
<text x="1315.4" y="1596.5" font-size="64" text-anchor="middle" >2250</text>
<text x="1537.4" y="1596.5" font-size="64" text-anchor="middle" >2500</text>
<text x="1759.4" y="1596.5" font-size="64" text-anchor="middle" >2750</text>
<text x="1981.4" y="1596.5" font-size="64" text-anchor="middle" >3000</text>
<text x="614.3" y="3262.2" font-size="64" text-anchor="middle" >1500</text>
<text x="1067.5" y="3262.2" font-size="64" text-anchor="middle" >2000</text>
<text x="1520.6" y="3262.2" font-size="64" text-anchor="middle" >2500</text>
<text x="1973.8" y="3262.2" font-size="64" text-anchor="middle" >3000</text>
<text x="463.2" y="185.7" font-size="58.5" text-anchor="start" class="pk" letter-spacing="-1.4" style="font-kerning:none">1284</text>
<text x="535.1" y="576.3000000000001" font-size="58.5" text-anchor="start" class="pk" letter-spacing="-1.4" style="font-kerning:none">1371</text>
<text x="294.8" y="971.6" font-size="58.5" text-anchor="start" class="pk" letter-spacing="-1.4" style="font-kerning:none">1154</text>
<text x="613.5" y="1263.6000000000001" font-size="58.5" text-anchor="start" class="pk" letter-spacing="-1.4" style="font-kerning:none">1456</text>
<text x="727.1" y="1197.0" font-size="58.5" text-anchor="start" class="pk" letter-spacing="-1.4" style="font-kerning:none">1656</text>
<text x="427.0" y="1714.0" font-size="58.5" text-anchor="start" class="pk" letter-spacing="-1.4" style="font-kerning:none">1300</text>
<text x="758.7" y="1713.7" font-size="58.5" text-anchor="start" class="pk" letter-spacing="-1.4" style="font-kerning:none">1653</text>
<text x="541.3" y="1957.8" font-size="58.5" text-anchor="start" class="pk" letter-spacing="-1.4" style="font-kerning:none">1415</text>
<text x="553.0" y="2314.5" font-size="58.5" text-anchor="start" class="pk" letter-spacing="-1.4" style="font-kerning:none">1427</text>
<text x="807.8" y="2793.7999999999997" font-size="58.5" text-anchor="start" class="pk" letter-spacing="-1.4" style="font-kerning:none">1708</text>
<text x="1613" y="123.0" font-size="61.5" text-anchor="start" class="la">NC</text>
<text x="1613" y="199.2" font-size="61.5" text-anchor="start" class="la">NC KNO3</text>
<text x="1613" y="275.4" font-size="61.5" text-anchor="start" class="la">MNC</text>
<text x="1613" y="351.6" font-size="61.5" text-anchor="start" class="la">MNC KNO3</text>
<text x="1566.3" y="1841.4" font-size="57.9" text-anchor="start" class="lb">AN NC</text>
<text x="1566.3" y="1913.2" font-size="57.9" text-anchor="start" class="lb">AN NC KNO3</text>
<text x="1566.3" y="1985.1" font-size="57.9" text-anchor="start" class="lb">AN MNC</text>
<text x="1566.3" y="2056.9" font-size="57.9" text-anchor="start" class="lb">AN MNC KNO3</text>
<text x="2015.4" y="120.3" font-size="111" text-anchor="start" class="pa" letter-spacing="8.0">(a)</text>
<text x="1987.1" y="1799.3" font-size="111" text-anchor="start" class="pb" letter-spacing="9.9">(b)</text>
<text transform="translate(93.9,791) rotate(-90)" font-size="78.8" text-anchor="middle" letter-spacing="0.15" class="yl1">intensity (a.u.)</text>
<text transform="translate(93.9,2457) rotate(-90)" font-size="78.8" text-anchor="middle" letter-spacing="0.15" class="yl2">intensity (a.u.)</text>
<text x="882.5" y="3458.9" font-size="78" letter-spacing="0.55" class="xl">Raman Shift (cm<tspan font-size="54" dy="-31">−1</tspan><tspan dy="31">)</tspan></text></g>
</svg>
</body></html>
